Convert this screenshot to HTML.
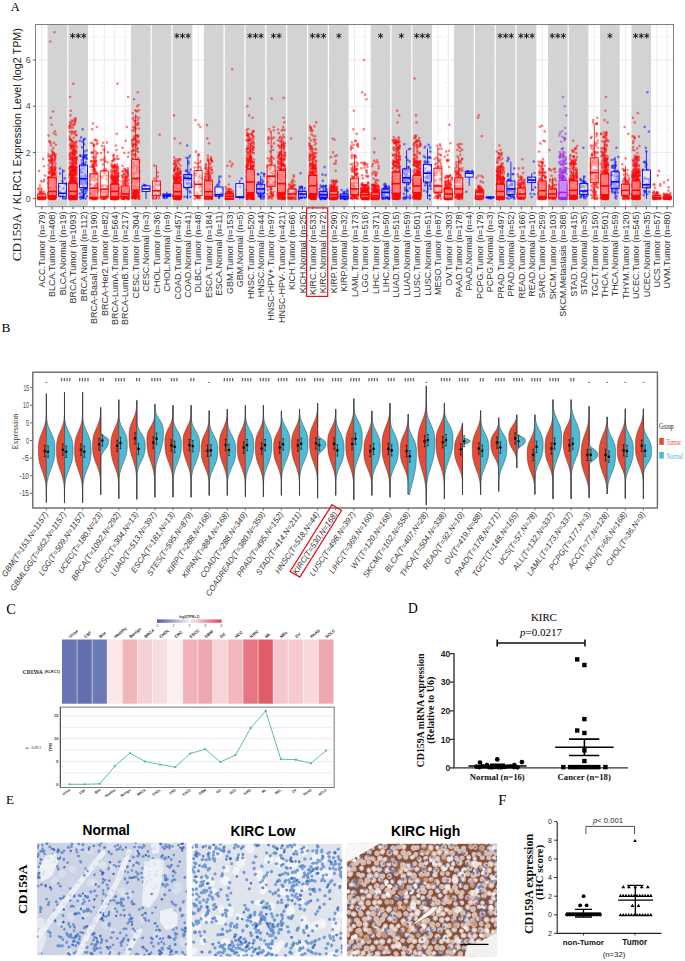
<!DOCTYPE html><html><head><meta charset="utf-8"><style>html,body{margin:0;padding:0;background:#fff}svg{display:block}</style></head><body>
<svg width="685" height="961" viewBox="0 0 685 961">
<rect width="685" height="961" fill="#fff"/>
<text x="10.8" y="10.6" font-family="'Liberation Serif',serif" font-size="12.6">A</text>
<rect x="35.5" y="24.5" width="638" height="182.2" fill="#fff"/>
<path d="M35.5 175.5H673.5M35.5 129.3H673.5M35.5 83.1H673.5M35.5 36.9H673.5" stroke="#f2f2f2" stroke-width="0.6" fill="none"/>
<path d="M35.5 198.6H673.5M35.5 152.4H673.5M35.5 106.2H673.5M35.5 60H673.5M41.8 24.5V206.7M52.2 24.5V206.7M62.6 24.5V206.7M73 24.5V206.7M83.5 24.5V206.7M93.9 24.5V206.7M104.3 24.5V206.7M114.7 24.5V206.7M125.2 24.5V206.7M135.6 24.5V206.7M146 24.5V206.7M156.4 24.5V206.7M166.9 24.5V206.7M177.3 24.5V206.7M187.7 24.5V206.7M198.1 24.5V206.7M208.6 24.5V206.7M219 24.5V206.7M229.4 24.5V206.7M239.8 24.5V206.7M250.3 24.5V206.7M260.7 24.5V206.7M271.1 24.5V206.7M281.5 24.5V206.7M292 24.5V206.7M302.4 24.5V206.7M312.8 24.5V206.7M323.2 24.5V206.7M333.7 24.5V206.7M344.1 24.5V206.7M354.5 24.5V206.7M364.9 24.5V206.7M375.3 24.5V206.7M385.8 24.5V206.7M396.2 24.5V206.7M406.6 24.5V206.7M417 24.5V206.7M427.5 24.5V206.7M437.9 24.5V206.7M448.3 24.5V206.7M458.7 24.5V206.7M469.2 24.5V206.7M479.6 24.5V206.7M490 24.5V206.7M500.4 24.5V206.7M510.9 24.5V206.7M521.3 24.5V206.7M531.7 24.5V206.7M542.1 24.5V206.7M552.6 24.5V206.7M563 24.5V206.7M573.4 24.5V206.7M583.8 24.5V206.7M594.3 24.5V206.7M604.7 24.5V206.7M615.1 24.5V206.7M625.5 24.5V206.7M636 24.5V206.7M646.4 24.5V206.7M656.8 24.5V206.7M667.2 24.5V206.7" stroke="#ebebeb" stroke-width="1" fill="none"/>
<rect x="47.6" y="25" width="19.6" height="181.2" fill="#d3d3d3"/>
<rect x="68.4" y="25" width="19.6" height="181.2" fill="#d3d3d3"/>
<rect x="131" y="25" width="19.6" height="181.2" fill="#d3d3d3"/>
<rect x="151.8" y="25" width="19.6" height="181.2" fill="#d3d3d3"/>
<rect x="172.7" y="25" width="19.6" height="181.2" fill="#d3d3d3"/>
<rect x="203.9" y="25" width="19.6" height="181.2" fill="#d3d3d3"/>
<rect x="224.8" y="25" width="19.6" height="181.2" fill="#d3d3d3"/>
<rect x="245.6" y="25" width="19.6" height="181.2" fill="#d3d3d3"/>
<rect x="266.5" y="25" width="19.6" height="181.2" fill="#d3d3d3"/>
<rect x="287.3" y="25" width="19.6" height="181.2" fill="#d3d3d3"/>
<rect x="308.2" y="25" width="19.6" height="181.2" fill="#d3d3d3"/>
<rect x="329" y="25" width="19.6" height="181.2" fill="#d3d3d3"/>
<rect x="370.7" y="25" width="19.6" height="181.2" fill="#d3d3d3"/>
<rect x="391.6" y="25" width="19.6" height="181.2" fill="#d3d3d3"/>
<rect x="412.4" y="25" width="19.6" height="181.2" fill="#d3d3d3"/>
<rect x="454.1" y="25" width="19.6" height="181.2" fill="#d3d3d3"/>
<rect x="475" y="25" width="19.6" height="181.2" fill="#d3d3d3"/>
<rect x="495.8" y="25" width="19.6" height="181.2" fill="#d3d3d3"/>
<rect x="516.7" y="25" width="19.6" height="181.2" fill="#d3d3d3"/>
<rect x="548" y="25" width="19.6" height="181.2" fill="#d3d3d3"/>
<rect x="568.8" y="25" width="19.6" height="181.2" fill="#d3d3d3"/>
<rect x="600.1" y="25" width="19.6" height="181.2" fill="#d3d3d3"/>
<rect x="631.4" y="25" width="19.6" height="181.2" fill="#d3d3d3"/>
<path d="M72.6 33V38.6M70.2 34.4L75.1 37.2M70.2 37.2L75.1 34.4M78.2 33V38.6M75.8 34.4L80.7 37.2M75.8 37.2L80.7 34.4M83.8 33V38.6M81.4 34.4L86.3 37.2M81.4 37.2L86.3 34.4M176.9 33V38.6M174.5 34.4L179.3 37.2M174.5 37.2L179.3 34.4M182.5 33V38.6M180.1 34.4L184.9 37.2M180.1 37.2L184.9 34.4M188.1 33V38.6M185.7 34.4L190.5 37.2M185.7 37.2L190.5 34.4M249.9 33V38.6M247.4 34.4L252.3 37.2M247.4 37.2L252.3 34.4M255.5 33V38.6M253 34.4L257.9 37.2M253 37.2L257.9 34.4M261.1 33V38.6M258.6 34.4L263.5 37.2M258.6 37.2L263.5 34.4M273.5 33V38.6M271.1 34.4L275.9 37.2M271.1 37.2L275.9 34.4M279.1 33V38.6M276.7 34.4L281.5 37.2M276.7 37.2L281.5 34.4M312.4 33V38.6M310 34.4L314.8 37.2M310 37.2L314.8 34.4M318 33V38.6M315.6 34.4L320.4 37.2M315.6 37.2L320.4 34.4M323.6 33V38.6M321.2 34.4L326 37.2M321.2 37.2L326 34.4M338.9 33V38.6M336.4 34.4L341.3 37.2M336.4 37.2L341.3 34.4M380.6 33V38.6M378.1 34.4L383 37.2M378.1 37.2L383 34.4M401.4 33V38.6M399 34.4L403.8 37.2M399 37.2L403.8 34.4M416.7 33V38.6M414.2 34.4L419.1 37.2M414.2 37.2L419.1 34.4M422.3 33V38.6M419.8 34.4L424.7 37.2M419.8 37.2L424.7 34.4M427.9 33V38.6M425.4 34.4L430.3 37.2M425.4 37.2L430.3 34.4M500.1 33V38.6M497.6 34.4L502.5 37.2M497.6 37.2L502.5 34.4M505.7 33V38.6M503.2 34.4L508.1 37.2M503.2 37.2L508.1 34.4M511.3 33V38.6M508.8 34.4L513.7 37.2M508.8 37.2L513.7 34.4M520.9 33V38.6M518.5 34.4L523.3 37.2M518.5 37.2L523.3 34.4M526.5 33V38.6M524.1 34.4L528.9 37.2M524.1 37.2L528.9 34.4M532.1 33V38.6M529.7 34.4L534.5 37.2M529.7 37.2L534.5 34.4M552.2 33V38.6M549.8 34.4L554.6 37.2M549.8 37.2L554.6 34.4M557.8 33V38.6M555.4 34.4L560.2 37.2M555.4 37.2L560.2 34.4M563.4 33V38.6M561 34.4L565.8 37.2M561 37.2L565.8 34.4M609.9 33V38.6M607.5 34.4L612.3 37.2M607.5 37.2L612.3 34.4M635.6 33V38.6M633.2 34.4L638 37.2M633.2 37.2L638 34.4M641.2 33V38.6M638.8 34.4L643.6 37.2M638.8 37.2L643.6 34.4M646.8 33V38.6M644.4 34.4L649.2 37.2M644.4 37.2L649.2 34.4" stroke="#111" stroke-width="0.9" fill="none"/>
<path d="M38.1 197.7h0M40.7 196.5h0M45.2 198.1h0M43.5 196.2h0M42.4 198.7h0M38.4 198.2h0M42.7 198.9h0M39.8 185.6h0M41.8 198.9h0M41.9 194.9h0M40.5 190.8h0M38.6 195.5h0M38.3 198.5h0M44.7 198.1h0" stroke="#ff0000" stroke-opacity="0.5" stroke-width="2.6" stroke-linecap="round"/>
<path d="M40.3 192.5h0M38.7 188.3h0M43.6 181.4h0M41.9 198.6h0M45.1 197h0M38.6 194.5h0M42.6 198.2h0M40.2 198.8h0M43.9 197.7h0M41.1 198.6h0M42 198.4h0M43.3 197.9h0M44.9 198.1h0M43.2 158.9h0" stroke="#ff0000" stroke-opacity="0.5" stroke-width="2.6" stroke-linecap="round"/>
<path d="M39.5 197.9h0M41.1 181.4h0M45 199.1h0M44.2 194.5h0M39.3 199h0M44.9 175.6h0M45.1 197.7h0M41.9 196.7h0M41.1 188.4h0M40.5 194.7h0M43 194.7h0M43.6 199h0M42.7 194.9h0M44 166.3h0" stroke="#ff0000" stroke-opacity="0.5" stroke-width="2.6" stroke-linecap="round"/>
<path d="M39.3 196.4h0M39.2 197.2h0M43.8 191.6h0M39.8 192.8h0M44.2 179.7h0M43.8 193.2h0M43.7 198.7h0M38.1 199.1h0M44.6 198.6h0M41.5 198.9h0M40 193h0M41 194.8h0M38.3 189.2h0M39 170.9h0" stroke="#ff0000" stroke-opacity="0.5" stroke-width="2.6" stroke-linecap="round"/>
<path d="M41.3 198.8h0M39.5 194.4h0M38.8 198.7h0M39.7 191.5h0M39.8 198.8h0M43.1 197.9h0M42.2 194.6h0M39.4 197.2h0M40.5 199h0M42.7 198.7h0M40.7 197.6h0M40 197.5h0M39.4 195.9h0" stroke="#ff0000" stroke-opacity="0.5" stroke-width="2.6" stroke-linecap="round"/>
<path d="M39.3 196.4h0M38.2 198.1h0M44.6 197.7h0M42.2 192.9h0M39.2 196.7h0M41.6 193.8h0M39.3 198.9h0M44 195.8h0M39.4 197.8h0M39.1 198.7h0M42.3 197h0M41.6 194.1h0M39.4 197.8h0" stroke="#ff0000" stroke-opacity="0.5" stroke-width="2.6" stroke-linecap="round"/>
<path d="M41.8 194V188.2M41.8 198.6V199.1" stroke="#ff0000" stroke-width="0.8"/>
<rect x="37.8" y="194" width="8" height="4.6" fill="#fff" fill-opacity="0.45" stroke="#ff0000" stroke-width="0.9"/>
<path d="M37.8 197.2H45.8" stroke="#ff0000" stroke-width="1.6"/>
<path d="M54.3 194.8h0M50.8 194.1h0M52.5 189.9h0M53.4 198.7h0M48.9 187.9h0M50.1 196h0M49.7 183.8h0M50.1 141.5h0M51.2 161.1h0M52.7 193.4h0M48.7 184.6h0M54.3 174.4h0M54.5 179h0M53.9 180.3h0M54 184.9h0M52.9 195.7h0M51.8 197.2h0M49.2 194.4h0M52.8 194.1h0M49.2 195.8h0M54.3 160.7h0M52.1 190.5h0M49 194.2h0M52.9 188.4h0M54.4 196.7h0M52.3 197.2h0M50.4 186.6h0M51.1 186.7h0M54.6 183.7h0M53.2 195.9h0M52.4 184.2h0M54.6 191.8h0M48.7 195.3h0M51.5 195.2h0M52.3 172.4h0M51.5 170.4h0M54.3 194.4h0M53.9 152.7h0M53.5 193.9h0M55.8 181.7h0M52.8 195.9h0M53 154.4h0M51.3 193.9h0M52.2 175.1h0M51.2 198.7h0M52.3 164.2h0M49.5 180.8h0M51.1 145.4h0M51.5 159.4h0M54.8 195.5h0M54.3 197.8h0M55.1 157.3h0M53.4 193.1h0M50.5 170.5h0M50.6 193.2h0M54.9 198.8h0M54.9 198.4h0M51.3 193.2h0M48.5 177.2h0M52 195.4h0M53.8 195.5h0M53.6 172.4h0M52.9 194.2h0M51.1 184.1h0M50.7 178.6h0M54.9 197.3h0M49.5 194.8h0M48.9 193.3h0M53.1 111.5h0" stroke="#ff0000" stroke-opacity="0.5" stroke-width="2.6" stroke-linecap="round"/>
<path d="M49.9 198.5h0M49.2 198.5h0M51.5 182.9h0M51.1 167.4h0M55.5 197.5h0M49.7 178.1h0M54.8 178.8h0M53.6 193.6h0M53.5 193.1h0M54.4 184h0M50.1 193.1h0M49.4 194.3h0M55.8 187.6h0M50.5 170.8h0M48.6 196.9h0M51 192.1h0M54.1 198.9h0M48.8 196.5h0M53 183.1h0M53.5 181.4h0M55.6 195.8h0M54 197.6h0M52 196.8h0M50.4 156.4h0M53.4 196.5h0M54 172.9h0M50.8 193.5h0M55.9 191h0M48.6 197.6h0M53.3 198.7h0M51.5 168.8h0M53 193.6h0M51.3 197.4h0M53.8 196.5h0M49.5 192.5h0M50.4 188.9h0M55.6 194h0M51.6 187.4h0M54.1 192.5h0M50 183.4h0M54.8 195.8h0M49.2 194.4h0M51.8 192.7h0M54.1 187.8h0M50.3 180h0M49.2 188h0M55 192.8h0M55.3 195.9h0M52.5 151.9h0M53.7 196.1h0M51.1 197.9h0M48.9 196.8h0M54.8 170.2h0M48.5 156.7h0M51.3 197.6h0M52.4 196.3h0M53.8 133.2h0M54.1 191.3h0M50.3 181.2h0M50 171.6h0M51.6 159.6h0M53.2 174.5h0M49.7 196.7h0M52.3 180h0M49.4 194.7h0M54 142.8h0M51.9 194.6h0M53.1 180.8h0M50.9 117.7h0" stroke="#ff0000" stroke-opacity="0.5" stroke-width="2.6" stroke-linecap="round"/>
<path d="M54.5 197.9h0M50 197h0M54.2 190.1h0M53.3 172h0M49.8 197.7h0M50.3 186.6h0M49.9 198.9h0M52.6 182.5h0M49.3 192.7h0M52.3 184.4h0M50.3 188.1h0M50.7 185.5h0M52.5 191.3h0M51.5 194.5h0M53.5 196.8h0M49.5 193.2h0M55.7 195.9h0M53.6 180.1h0M55.7 154.3h0M49.5 191.4h0M49.5 172.7h0M48.6 178.3h0M52.6 188.6h0M52.3 180.4h0M54.4 186.7h0M51.6 184h0M55.1 194.9h0M49 160.6h0M55.2 154.7h0M51.8 197.7h0M53.6 197.1h0M50 198h0M49.9 163h0M55.2 157.1h0M49.7 198.5h0M49.1 194.4h0M53.6 173.7h0M50.3 181.3h0M53.4 148.1h0M50.8 167.2h0M54.1 178.6h0M49.4 197.2h0M53.2 197.4h0M50.4 177.7h0M52.9 198.2h0M52.9 194.4h0M55.5 167.4h0M55.3 179.8h0M48.6 183.8h0M48.5 135.6h0M55 131.3h0M52.2 196.3h0M53.5 179.5h0M53.8 192.7h0M52.8 192.5h0M52.5 197.8h0M53.9 185.6h0M54.7 169.9h0M54.1 183.5h0M55.3 197.4h0M49.2 141.3h0M49.1 195.4h0M54.1 169.1h0M53.5 198.7h0M55.7 192.4h0M51 190.6h0M52 169.3h0M48.5 154.6h0M51.7 124.7h0" stroke="#ff0000" stroke-opacity="0.5" stroke-width="2.6" stroke-linecap="round"/>
<path d="M51.6 195.8h0M51.1 187.6h0M52.4 197h0M52 198.8h0M50.8 155.9h0M55.8 134.5h0M54.2 174.8h0M54.9 183.2h0M50.7 195.6h0M48.7 179.4h0M54.4 197.8h0M50 195h0M55.7 182.8h0M49.2 193.2h0M51.3 160.6h0M51.2 176.3h0M52.2 195.9h0M54.3 177.4h0M50.8 194.6h0M50.5 196.3h0M51.3 198.6h0M51.1 172.8h0M48.7 197.2h0M51.4 193.6h0M55.5 192.9h0M54.4 195.1h0M53 179.9h0M54.4 154.8h0M54.6 195.4h0M51.3 198.1h0M55.4 193.8h0M51.5 197.6h0M48.6 193h0M48.6 193.7h0M55.4 196.9h0M52.1 174.9h0M53.6 189.7h0M50.8 193.9h0M49.5 182.4h0M54.5 194.1h0M53.7 155.2h0M50.9 180h0M49.3 188.4h0M54.5 191.7h0M55.9 176.2h0M50.9 173.2h0M55.2 196.4h0M55.8 178.9h0M50.5 194.1h0M49.5 179.9h0M52.7 197.5h0M54.8 180.8h0M50.9 198.1h0M48.6 177.4h0M49 194h0M55.2 174h0M54.9 197.9h0M48.9 195h0M49 183h0M51.8 192.7h0M54.8 170.1h0M54.3 195.5h0M50.3 193.8h0M52.1 167.1h0M55.4 177.2h0M52.9 166.5h0M54.6 197.3h0M51.7 192.9h0M54.4 32.3h0" stroke="#ff0000" stroke-opacity="0.5" stroke-width="2.6" stroke-linecap="round"/>
<path d="M49.3 198.9h0M50.6 143h0M54.3 186.6h0M50.8 198.4h0M49.2 196.1h0M55.1 158.7h0M49.4 188.1h0M49.3 160.4h0M49.7 187.8h0M55.1 155.9h0M52.6 195.6h0M53.5 193.2h0M55.3 180.4h0M53.2 193.3h0M53.1 194.6h0M52.7 181.1h0M54.6 191.6h0M49 197.3h0M49.4 198.8h0M55.3 168.8h0M48.7 187.1h0M51 157.1h0M55.1 197h0M49.2 196.3h0M51.8 179.5h0M53.4 182.1h0M52.1 192.3h0M54.4 172.3h0M54.7 194.8h0M50.9 196.9h0M48.6 193.3h0M52.6 194.4h0M51.6 186.6h0M51.9 176.1h0M48.7 187.8h0M52.7 178.8h0M49.2 194.1h0M55.5 171.8h0M53.1 186.8h0M55.4 173.9h0M51.9 150.6h0M55.7 192.5h0M55.8 144.8h0M54.9 165.9h0M51.8 179h0M52.8 170.6h0M49.7 192h0M54.5 178.9h0M50.8 198.9h0M50.8 196.5h0M53.5 192.8h0M53.3 178.8h0M50.8 192.2h0M49 197.5h0M53.6 194.3h0M55.1 174.3h0M50.2 197.9h0M49.3 197.8h0M51.3 198.8h0M50.3 194.6h0M50.5 195.6h0M52.4 198.8h0M55.4 186.8h0M50.7 196.8h0M55.3 198h0M49.1 194.4h0M52.5 181.9h0M48.8 192.8h0M50.2 41.5h0" stroke="#ff0000" stroke-opacity="0.5" stroke-width="2.6" stroke-linecap="round"/>
<path d="M54.3 190.7h0M49.2 168.5h0M51.5 196.8h0M49.4 173.4h0M48.9 191.5h0M55.4 188.5h0M50.2 195.3h0M55.2 198.6h0M55.7 179h0M50 180.9h0M52.6 198.8h0M53.3 193.1h0M51.6 196.9h0M50.2 178.4h0M48.8 194.5h0M54.4 162.9h0M55 186.3h0M48.5 182.8h0M53.2 192.5h0M55.4 198.4h0M53.5 153.3h0M49.9 196.1h0M53.5 197.2h0M53.2 159.2h0M50.4 197.4h0M54.3 188.3h0M52 197.6h0M49.5 196.2h0M53 198.9h0M53.4 191.9h0M55.6 194h0M50.3 183.3h0M51.4 194.2h0M53.3 189h0M51.5 194.5h0M50.5 197.8h0M51.9 168.3h0M48.7 197.7h0M48.7 196.4h0M48.5 165.5h0M52.3 197.2h0M53.3 194.2h0M51 195.2h0M53.4 173.4h0M53.5 198.6h0M50 188.4h0M55.5 163.5h0M51.7 158.9h0M49.3 195.5h0M55 159.8h0M52.6 168.3h0M53.3 185.9h0M51.3 196.3h0M49.2 187.9h0M52.3 199h0M54.4 199h0M53.6 195.3h0M49.1 178h0M51.9 161.7h0M54.4 168h0M49.5 195.2h0M50.6 194.4h0M51.8 174.5h0M54.7 196.4h0M54.5 160.6h0M53.7 198.8h0M51.5 163.2h0M48.8 172.1h0" stroke="#ff0000" stroke-opacity="0.5" stroke-width="2.6" stroke-linecap="round"/>
<path d="M52.2 177.8V152.4M52.2 195.6V199.1" stroke="#ff0000" stroke-width="0.8"/>
<rect x="48.2" y="177.8" width="8" height="17.8" fill="#fff" fill-opacity="0.45" stroke="#ff0000" stroke-width="0.9"/>
<path d="M48.2 191.4H56.2" stroke="#ff0000" stroke-width="1.6"/>
<path d="M60.9 192.8h0M62.6 181.6h0M60.5 196.1h0M60 191.2h0" stroke="#0000ff" stroke-opacity="0.5" stroke-width="2.6" stroke-linecap="round"/>
<path d="M62.9 188.9h0M60.1 173.6h0M64.8 184.6h0" stroke="#0000ff" stroke-opacity="0.5" stroke-width="2.6" stroke-linecap="round"/>
<path d="M59.6 186.6h0M66.1 183.6h0M63.7 171h0" stroke="#0000ff" stroke-opacity="0.5" stroke-width="2.6" stroke-linecap="round"/>
<path d="M63.8 188h0M63.7 198.4h0M65 198.5h0" stroke="#0000ff" stroke-opacity="0.5" stroke-width="2.6" stroke-linecap="round"/>
<path d="M66.1 198.3h0M60 168.5h0M63.1 195.9h0" stroke="#0000ff" stroke-opacity="0.5" stroke-width="2.6" stroke-linecap="round"/>
<path d="M64.8 178.4h0M65.5 190.9h0M66.1 184.5h0" stroke="#0000ff" stroke-opacity="0.5" stroke-width="2.6" stroke-linecap="round"/>
<path d="M62.6 183.4V169.3M62.6 196.3V199.1" stroke="#0000ff" stroke-width="0.8"/>
<rect x="58.6" y="183.4" width="8" height="12.9" fill="#fff" fill-opacity="0.45" stroke="#0000ff" stroke-width="0.9"/>
<path d="M58.6 193.3H66.6" stroke="#0000ff" stroke-width="1.6"/>
<path d="M73.4 191.1h0M71.3 195.5h0M74.3 192.4h0M69.9 191.8h0M75.8 198.6h0M73.7 198.3h0M71.5 166.9h0M72.2 197h0M75.7 196.8h0M69.4 168.5h0M74.8 188.1h0M71.1 140.6h0M70.8 197h0M76.5 173.4h0M71.3 194.4h0M69.7 198.5h0M76.3 195.5h0M69.3 197.1h0M75.5 193.6h0M74.6 194.9h0M73.4 185.6h0M75.2 189.5h0M71.3 198.1h0M70 191.9h0M72.9 168.1h0M74.3 184h0M69.6 190.9h0M75 197.5h0M70.8 189.1h0M74.3 198.5h0M73.2 194.5h0M73.6 198.8h0M69.9 179h0M73.6 170.5h0M71.4 190h0M73.8 146.7h0M71.5 185.7h0M75.6 198.4h0M75.4 193.1h0M73.9 195.5h0M73.8 165.5h0M71.6 185.6h0M70.6 198.9h0M72.5 193.1h0M75 195.9h0M74.9 172.1h0M74.3 175.6h0M75 181.4h0M75.9 193.1h0M69.6 194.3h0M75.1 192.5h0M73.6 184.2h0M76.2 195.5h0M74.8 172.2h0M74.7 190.5h0M74.6 185.8h0M70.3 186.5h0M71.2 179.9h0M70.7 157.3h0M72.7 191.5h0M74.7 173.3h0M69.6 195.1h0M74 192.6h0M71.7 191.1h0M72.5 180.8h0M75.4 191.5h0M69.8 193.5h0M76 196.3h0M72.7 197.7h0M69.7 187.9h0M74 184.5h0M73.1 195.8h0M73.3 196.7h0M72.7 193.2h0M71.8 192.6h0M74.7 162.1h0M71.6 199h0M75.9 194.2h0M75.7 191.9h0M70.2 199h0M69.6 193.9h0M75 198.2h0M73.3 197.2h0M74.5 186.4h0M70.8 197.9h0M74.1 192.7h0M74 193.2h0M71.5 171.5h0M75.4 120h0M75.9 163.8h0M72.6 196.6h0M71.2 152.4h0M72.2 185h0M74.5 172.1h0M69.4 198.5h0M75.9 186.6h0M72.2 194.5h0M72.8 185h0M69.8 191.8h0M71 140.5h0M70.3 195.9h0M74.6 180.4h0M74 186.8h0M71.9 189.3h0M76.2 185.5h0M70.7 191.8h0M75.3 189.6h0M71.6 197.5h0M70.7 191.3h0M71.4 169.8h0M72.1 189.6h0M70.4 190.9h0M71.1 197.9h0M71.8 191.9h0M69.8 155.4h0M71.3 185.6h0M72.4 190.3h0M71 194.6h0M74.6 198.9h0M72.8 191h0M74.5 190.6h0M74.7 169.2h0M75.6 185.7h0M69.9 191.3h0M75.7 185.2h0M70.6 194.5h0M71.9 193.6h0M75.2 198.3h0M74.4 198.5h0M75.5 190.2h0M73.8 187.4h0M71 196.1h0M69.9 194.4h0M71.6 185.3h0M74.4 198.1h0M69.4 183.6h0M72 191.9h0M72.5 195.1h0M70.9 198.7h0M69.4 126.4h0M75.5 197.7h0M75.9 194h0M74.9 188.9h0M75.6 190.8h0M71.1 195h0M76 151.6h0M70.7 196.3h0M73.5 191.7h0M70.7 195.2h0M75.7 153.3h0M71.8 196.3h0M75.3 170.8h0M76.5 157.7h0M69.5 188.4h0M72.3 196.2h0M71.6 177.7h0M73.7 160h0M76.4 183h0M70.4 193.7h0M73 192.3h0M74.9 155.1h0M71.4 197.1h0M73.8 186.8h0M72.9 196.8h0M71.6 196.8h0M71.7 195.2h0M70 187.6h0M73.5 186.1h0M73.8 186.5h0M71.6 196.9h0M71.7 197.6h0M71.3 192.2h0M75.3 196.2h0M70.6 169.4h0M73.5 196.1h0M74.5 196h0M75.7 196.1h0M74.7 185.6h0M70 167.7h0M76.2 194.7h0M73.9 195.4h0M76 134.9h0M73.7 180.6h0" stroke="#ff0000" stroke-opacity="0.5" stroke-width="2.6" stroke-linecap="round"/>
<path d="M70.7 183.3h0M73 194.6h0M74.7 190.5h0M70.7 188.5h0M75 183.1h0M69.5 191.5h0M69.7 136.6h0M74 197.2h0M70.4 193.9h0M72.5 197.6h0M73.5 184h0M73.4 192.3h0M75 195.9h0M72 194.8h0M75.1 195.3h0M72.1 175.7h0M74.6 167.5h0M70.7 145.9h0M72.5 196h0M73.9 197h0M74.5 193.3h0M72.4 166.5h0M71.5 197.9h0M76.4 195.2h0M76 166.7h0M76.1 170.2h0M75 197h0M74.5 197.4h0M75.4 191.8h0M71.6 120.6h0M70.3 195.7h0M70.7 184.8h0M75.1 195.2h0M73.4 185.9h0M71.5 193.7h0M73.8 171.1h0M70.3 197.7h0M69.7 181.9h0M71.6 183.9h0M72.9 195h0M73.7 142.7h0M69.8 189.5h0M71.9 189.3h0M70.1 198.6h0M73.7 157.2h0M75.9 190.6h0M73.3 192.2h0M74.4 198h0M72.8 198.1h0M75.6 197.7h0M73.6 154.8h0M73.2 125.4h0M69.6 174.8h0M74.9 143.2h0M71.1 190.8h0M73.1 198.6h0M70 197h0M70.5 183.7h0M75.1 193.2h0M74.5 145.2h0M74.5 187.4h0M73.6 192.8h0M71 191h0M74.5 197h0M75.9 189.5h0M73.7 163.8h0M75.9 185.2h0M69.8 195.2h0M71.2 188.9h0M72.3 192h0M70.4 198.2h0M69.6 183.3h0M70.5 193.7h0M74.8 185.6h0M73.2 192.9h0M71.5 197.3h0M72.8 184h0M72.4 198.1h0M76 196.8h0M73.5 186.5h0M73.9 149.4h0M69.8 162.9h0M71.9 190.6h0M69.8 188.4h0M71.2 195.8h0M76 184.4h0M75.7 186.9h0M74 151.1h0M70.1 191.5h0M73.3 166.6h0M76.7 159.8h0M74.6 124.2h0M70.5 189.5h0M75 191.4h0M74.4 179.2h0M75.9 192.3h0M74.6 197.5h0M73.4 196.7h0M72.5 198h0M69.9 191.2h0M71.3 193h0M72.2 196.8h0M70.7 191.7h0M75.2 168.5h0M70.9 176.2h0M75.5 158.8h0M74 195.7h0M75.7 198.7h0M73 190.7h0M75.1 196.4h0M72.4 188.6h0M76.4 191.7h0M72.5 192.6h0M74.9 170.6h0M73.1 164.1h0M73.9 193.6h0M72.3 185.6h0M74.5 196.4h0M71.3 196.6h0M72.8 188.1h0M74.8 195.5h0M72.9 156.2h0M72.9 199h0M74.8 187h0M76.3 184.1h0M75.5 170.4h0M74 197h0M69.9 195.7h0M71.4 192.5h0M74.6 118.5h0M73.4 194.1h0M75.6 197.9h0M73.3 189.7h0M74.1 193.8h0M71.2 185.2h0M70.4 183.7h0M70.1 193.2h0M71.3 187.9h0M74.2 147.4h0M73.9 192.5h0M76.5 185.2h0M72.2 192.8h0M74.3 191.7h0M70 185.2h0M74.2 195.4h0M72.1 148.4h0M72.3 193.4h0M72 155.3h0M74.5 152.7h0M72.1 188.8h0M70.5 190.8h0M73.6 184.2h0M73.6 188.6h0M75.6 195.9h0M71.6 196.7h0M73 196.3h0M75.7 191.1h0M75.7 195.5h0M70.8 195h0M70.5 192h0M73.7 193h0M75.4 196.4h0M69.6 186.9h0M70.6 185.1h0M73.8 194.4h0M76 190.6h0M73.2 194.5h0M75.3 194h0M70.6 166.9h0M70.6 193.2h0M70.7 194.7h0M76 185.8h0M74.1 187.9h0M76.3 197.7h0M71.3 192.6h0M76.1 198.1h0M71.2 186.9h0M74 185h0M71.1 181.1h0M72.9 189.8h0M69.7 193.2h0M76.2 198.3h0M73.3 83.8h0" stroke="#ff0000" stroke-opacity="0.5" stroke-width="2.6" stroke-linecap="round"/>
<path d="M69.7 189.8h0M70.9 144.1h0M76 196.4h0M72.3 185.6h0M72.4 177.9h0M75.4 194.5h0M70.1 183.8h0M72 191.6h0M71 144.4h0M72.4 187h0M75.5 193.4h0M73.4 192.8h0M73.5 196h0M70.9 196.4h0M70.8 157.4h0M71.4 196.7h0M74.7 189.4h0M70.7 176.4h0M73.1 193.2h0M69.8 191.4h0M72 165.9h0M75 195h0M71.6 194.3h0M76.6 190.4h0M74.3 198h0M75.5 184.8h0M70.9 167.4h0M74.8 121.4h0M76 197.6h0M70.4 171.3h0M72 197.5h0M70 189.2h0M71.5 167.1h0M73 196.1h0M75.7 141.9h0M75.4 189.9h0M76.3 192.5h0M71.7 192.2h0M74.1 197.8h0M72.2 190.4h0M72.3 192h0M69.6 197h0M71.4 198h0M74.4 183.8h0M71.4 179.2h0M72.2 193.1h0M73.3 146h0M73.6 150.4h0M70.1 195h0M71.5 179.2h0M69.8 153.8h0M75.2 196.4h0M71.8 185.1h0M71.5 183.7h0M72.9 127.8h0M71.5 191.3h0M75.1 169.9h0M74.3 187.2h0M75.1 198h0M72.3 191.3h0M72.5 175.4h0M74.3 193.9h0M74.5 189.2h0M76.3 185.8h0M69.8 196.1h0M76 191.9h0M76.6 157.3h0M74.5 188.7h0M71.2 183h0M71.2 194.9h0M71.3 178.2h0M71.8 191.2h0M73.3 193h0M69.5 198.1h0M74.9 197.5h0M69.6 185.5h0M71.1 183.8h0M70 122.2h0M70.6 197.7h0M69.5 192.1h0M70.5 194.1h0M74.7 185.8h0M75.9 184.2h0M75.7 186.8h0M72.4 186.8h0M73 196.2h0M71.4 195.1h0M70.8 180.8h0M76.5 187.3h0M74.3 192.3h0M71.8 184.9h0M73.6 190.6h0M71.8 196.2h0M71 178.2h0M76.4 170.7h0M71.3 181.7h0M70.8 195.6h0M71.5 164.5h0M75.3 194.1h0M73.4 181.6h0M74.6 180.8h0M74 173.9h0M72.8 189.3h0M71.2 143h0M75.6 131.3h0M71.2 194.1h0M75.9 195.4h0M75.6 160.6h0M73.6 197.1h0M71.4 196.1h0M71.3 139.6h0M71.7 157.9h0M74.5 196.9h0M76.2 186.7h0M72.8 159.9h0M73 180.8h0M73.4 175.2h0M70.5 192.4h0M73.7 197.6h0M69.7 192.6h0M69.9 185.3h0M69.7 155.9h0M74.7 186.7h0M72.9 185.2h0M74.9 193.2h0M72.3 193.8h0M74.5 189.8h0M70.2 138.6h0M75.3 192.7h0M76 199h0M73.4 154h0M72.4 173.9h0M75.6 187.3h0M71.1 197h0M75.5 190.3h0M72.8 196.5h0M70.3 158.6h0M74.8 183.9h0M69.8 174.1h0M72.2 192.3h0M73 185.5h0M75 196h0M73.9 198.5h0M76.1 194.5h0M69.5 194.4h0M75.8 192.3h0M74.5 183.8h0M70.7 189.5h0M76.3 148.2h0M73.3 188.4h0M73.9 183.9h0M72.6 195.8h0M75.3 172h0M75.9 198.6h0M74 133.4h0M76.2 194.7h0M76 188.7h0M69.4 196.8h0M76.3 181h0M75.4 198h0M70.5 198.8h0M75.2 187.6h0M72 190h0M72.9 197.1h0M70.5 184.7h0M75.1 195.1h0M71.4 198.9h0M76.2 190h0M75.7 143.6h0M75.7 196.6h0M76.4 188.7h0M74.6 188.7h0M76.1 162.2h0M70.9 198.9h0M71.3 174.3h0M74.6 186.4h0M74.3 193.9h0M73.1 194.2h0M70.1 156h0M70.1 189.5h0M71.9 144.8h0M70.4 188.4h0M70.1 97h0" stroke="#ff0000" stroke-opacity="0.5" stroke-width="2.6" stroke-linecap="round"/>
<path d="M69.5 128.3h0M69.6 196.7h0M73.9 188.6h0M71.3 186.5h0M75.3 145.6h0M76.2 187.5h0M75.4 167.8h0M76.4 194h0M72.4 189.5h0M75.4 195.2h0M76.4 152.8h0M73.7 193.6h0M72.4 152.3h0M72.6 180.9h0M71.8 197.6h0M76.1 197.7h0M72 197.9h0M73.4 192.2h0M69.7 196.1h0M71.8 191.4h0M75.9 190.6h0M71.4 185h0M75 151.6h0M71.8 192.4h0M71.9 198h0M72.7 195h0M71.1 197.5h0M72.5 174.7h0M74.7 198h0M74.3 198.6h0M73.3 198.2h0M75.4 192h0M71.8 192.9h0M71 194h0M73.2 178.3h0M75.6 192.3h0M73.3 195.8h0M71.7 186.5h0M75.7 192.7h0M71.4 197.3h0M74.2 188.8h0M70.3 170.2h0M74.7 195.3h0M76.5 178.1h0M71.8 170.3h0M71.7 131.1h0M72.6 197.6h0M76.2 195.1h0M74.1 170.3h0M75.9 198.8h0M74.4 190.8h0M70.3 192.3h0M74.8 192.5h0M76.3 185h0M75.6 197.4h0M73.9 197.8h0M71.4 197.4h0M70.6 187.1h0M73.9 158.5h0M76.5 184.6h0M71.1 189.2h0M72.8 193.4h0M70.2 196.1h0M75.6 191.5h0M73.9 198.8h0M71.6 192.4h0M76.5 198.4h0M72.4 190.4h0M72.2 167.3h0M75.8 191.7h0M69.7 189.3h0M74.5 188.1h0M75.9 186.5h0M71.7 194h0M74.9 187.3h0M72.2 195h0M70.5 184.7h0M69.9 144.5h0M73.3 196h0M70.1 182.4h0M72 162.3h0M75.8 182.5h0M72.1 191.2h0M75.6 186.1h0M74.3 153.3h0M70.7 159.9h0M69.7 158.9h0M74.2 186h0M70.3 196.1h0M73.5 193h0M76.2 194.3h0M75.7 162h0M74.6 195.5h0M71.9 160.3h0M75.3 187.4h0M71.7 198.1h0M71.8 161.1h0M74.2 193h0M71.9 198.3h0M70.2 139.7h0M75.5 195.4h0M70.5 181.1h0M71.3 199h0M73.7 120.2h0M75.3 121.9h0M70.9 197.2h0M72 191.4h0M71.9 191.7h0M74.9 158.3h0M72.2 185.3h0M75.2 172.9h0M69.5 186.8h0M70.7 198.9h0M73.7 198h0M71.7 131.7h0M74.2 151.4h0M73.9 188.5h0M70.6 186.6h0M71.2 189.7h0M73.4 176.9h0M74 168.4h0M70.7 173h0M70.7 149.1h0M75.7 192h0M74.9 181.5h0M74.1 178.2h0M70.9 157.7h0M70.9 146.8h0M76.2 192h0M70.3 188.6h0M73.6 196.7h0M71 127.6h0M71.9 170h0M74.2 189.6h0M69.4 183.9h0M71.2 188.1h0M69.5 198.3h0M76.3 151.7h0M71.4 178.6h0M73.1 160.5h0M73.9 154h0M75.7 199h0M69.9 188.8h0M74 197.6h0M72.4 198.3h0M76 196.7h0M75.1 175.9h0M73.6 189.2h0M71.6 195.2h0M74.7 193.5h0M71.8 193.7h0M75.1 161.2h0M72.8 160.1h0M72.8 152.4h0M70 194.3h0M72 197h0M74.7 186.9h0M70.9 198.5h0M73.4 190h0M70.6 192.4h0M73.7 192.5h0M72.9 198.2h0M76.6 195.9h0M75.8 190.3h0M75.7 192.5h0M71.1 195.5h0M70.1 174.4h0M72.6 194h0M69.3 194h0M72.3 191.1h0M69.7 189h0M75.7 198.9h0M70.3 194.5h0M72.7 198.8h0M69.6 189.6h0M72.2 198.5h0M72.5 187h0M70.4 192.7h0M71.4 124.9h0M74.6 189.4h0M72 192h0M74.3 194.3h0M70.8 110.8h0" stroke="#ff0000" stroke-opacity="0.5" stroke-width="2.6" stroke-linecap="round"/>
<path d="M70.6 190.2h0M75.1 155.5h0M72.6 188.7h0M74.2 197.3h0M76.3 182.8h0M70.7 182.8h0M73.5 191.1h0M76.6 146.5h0M72.1 197.1h0M74.1 169.2h0M70.9 194.7h0M75 132.4h0M75.9 195.8h0M72 194.6h0M75.6 172.4h0M73.1 192.6h0M75.2 165.1h0M71.4 196.5h0M76.6 194.3h0M72.7 198.9h0M72.7 195.3h0M71.2 192.4h0M76 195.4h0M71.2 195.9h0M74 197.3h0M72.3 190h0M72.6 165.6h0M71 198.2h0M75.7 198.8h0M74.6 195.3h0M73.2 198.7h0M72.8 196.4h0M71.8 196.4h0M76.1 194.5h0M74.8 191.7h0M76.5 195.5h0M70.6 192.4h0M69.7 185.2h0M75.5 197h0M75.2 175h0M70.4 123.9h0M71.8 193.6h0M69.5 184.7h0M71.6 163h0M73.5 194.7h0M75.7 197.2h0M76.4 194.7h0M73 198.2h0M73.3 193.9h0M71.1 198.1h0M72.9 170.1h0M73 141.8h0M71.5 194.9h0M74.6 189.2h0M76.4 193.7h0M76.6 193.7h0M69.8 186.3h0M71.2 192h0M72.7 152.8h0M72.8 191.3h0M74.1 189.6h0M73.3 196.3h0M71.9 167.1h0M76.6 191.3h0M71.1 147.2h0M74.2 191.8h0M75.9 159.7h0M74.7 198.1h0M72.7 185.6h0M71.6 177.4h0M71.5 188.9h0M71.2 197.9h0M76.6 195.2h0M76.3 192.3h0M70.6 192.4h0M69.5 177.1h0M75.2 187.4h0M72.7 190.1h0M72.8 194.6h0M72.3 185.2h0M72.8 197.3h0M74.1 192h0M74.8 191.1h0M72.7 197h0M76 185.3h0M72.5 198.5h0M70.3 188.4h0M73.4 193.1h0M70 196.4h0M73.4 198.2h0M73.8 195.3h0M71.7 198.5h0M71.6 179.4h0M76.7 198.2h0M72.3 193.7h0M73.6 188.4h0M69.8 175.5h0M74.1 193.9h0M73.5 188.2h0M71.3 190.2h0M69.8 195.8h0M70.6 176.3h0M74.7 193.4h0M71.1 186.9h0M70.9 146.2h0M71.7 195.2h0M73.1 153.5h0M70.3 195h0M71.2 190.1h0M76.1 193.2h0M75.1 195.1h0M73.6 184.5h0M70.6 195h0M76.5 195.3h0M74 196.4h0M73.9 198.6h0M73.3 191.4h0M70.8 194.8h0M72.3 122.1h0M69.8 184.7h0M75.9 195.3h0M76.7 186.8h0M73.9 190.7h0M74.5 185.1h0M72.9 191h0M76.4 192.6h0M74.1 195.1h0M76.1 196.2h0M73.8 149.5h0M76.3 185.1h0M69.9 183.7h0M75.5 199h0M70.5 192.8h0M72.4 197.4h0M71 194.5h0M74.7 167.9h0M75.8 177.8h0M76.3 183.7h0M72.6 194.9h0M72.2 197h0M75.9 163.9h0M70.9 196.8h0M73.8 137.9h0M74.4 167h0M73.5 192.6h0M71.6 174.3h0M71.9 193.1h0M72.7 185.9h0M72.3 191.5h0M72 195.5h0M70.8 196.5h0M75.9 183.7h0M72.6 166.7h0M76 163.3h0M76.2 168.9h0M74.6 196.8h0M70.2 190.5h0M75.1 195.9h0M74.5 189.4h0M69.5 198.5h0M76.1 185.8h0M71 186.6h0M74.6 190.7h0M71.1 187h0M75.7 186.5h0M72.2 198.3h0M74 178.5h0M71.6 172h0M75.9 118.5h0M74.5 193h0M76.2 197.1h0M69.6 189.8h0M74.9 185.3h0M71 185.3h0M70.7 166.6h0M71.2 188.4h0M69.8 186.2h0M70.3 175h0M75.5 195.5h0M70.7 199h0M72 175.3h0M75.1 150.1h0M70.6 115.4h0" stroke="#ff0000" stroke-opacity="0.5" stroke-width="2.6" stroke-linecap="round"/>
<path d="M72.3 195.2h0M70.4 172.3h0M70.5 198.9h0M70.9 173h0M73.5 157.6h0M69.7 184.7h0M72 196h0M69.9 193.7h0M73.3 178.2h0M74.8 197.2h0M74.4 196.4h0M72.4 141.4h0M69.8 131.8h0M76.7 157.8h0M72.4 145.9h0M73.2 196.3h0M72.2 194.5h0M69.4 197.1h0M72.7 188.9h0M70.1 196.2h0M72 191.7h0M70.9 190.7h0M69.4 191.7h0M73.7 180.6h0M70 197.3h0M72.9 192.1h0M73 131.7h0M75.2 168.3h0M73.4 194.5h0M70.3 198.2h0M69.6 194.5h0M71.3 159h0M73.6 171.1h0M76.5 141.5h0M74.6 162.7h0M70.8 184.2h0M71.6 185.3h0M74.1 157.7h0M70.8 170.5h0M74.5 197.7h0M75.9 194.3h0M69.9 185.3h0M70.1 171.7h0M74.2 186.5h0M72.8 187.9h0M71.7 185.5h0M72.3 192.5h0M73.4 196.3h0M69.8 192.3h0M73.6 169.8h0M71.5 187.4h0M70.8 196.7h0M75.2 151.3h0M72.8 196.6h0M75 198.6h0M72.2 195.8h0M70.7 198.2h0M71.8 194.4h0M76.7 179.6h0M69.6 191.2h0M70.8 189.5h0M71 196.1h0M72.9 189.5h0M71.6 196.7h0M72.5 191.3h0M74.8 195.8h0M74.3 199h0M73.6 198.9h0M70 194.4h0M74 188.5h0M69.4 198.5h0M74.2 166.9h0M74.1 193.6h0M71 194.7h0M75.8 183.8h0M74 195.2h0M71.4 198.2h0M71.4 185.7h0M71.6 198.2h0M70.1 166.5h0M75.4 193.7h0M72.6 188.7h0M75.4 194.7h0M76.3 184.6h0M69.5 168.1h0M69.6 196.6h0M70.2 182.4h0M75.6 190.3h0M70.8 191.1h0M70.9 189.5h0M71.4 184.5h0M72.5 198.9h0M71.9 171.3h0M74.2 124.1h0M71.6 187.8h0M74.4 196.8h0M74.1 191.3h0M70.5 192.8h0M73.6 187.7h0M76.2 192.8h0M73.6 196.7h0M72.9 198.6h0M76.6 135.4h0M70.4 153.6h0M71.1 196.1h0M69.8 185h0M70.7 193.4h0M71.6 195h0M71.1 184.6h0M76.7 167.1h0M75.2 185.4h0M71.3 193.3h0M76.4 174.8h0M75.9 198.2h0M71.2 134h0M71.1 198.6h0M70.4 199h0M73.1 185.9h0M75.3 197.2h0M71.9 191.9h0M73.6 198.4h0M75.6 191.5h0M76.1 193.1h0M70.1 174h0M71 153.8h0M70 190.5h0M74.4 184h0M76.4 184.2h0M70.3 197.4h0M73.6 195.2h0M72.8 167.9h0M70.7 182.1h0M72.2 188.8h0M72.3 192.2h0M74.5 167h0M70.4 139.8h0M70.7 194.4h0M72.2 179.4h0M74.6 171.9h0M71.4 193.2h0M70.9 191.7h0M72.5 195.2h0M70.9 191.8h0M69.6 187.2h0M75.3 194.5h0M73.2 199h0M73.2 193.4h0M71.9 197.2h0M70 192.8h0M74.6 172.6h0M73.4 189.2h0M71.2 171.4h0M73 192.4h0M75.1 193.4h0M69.7 126.3h0M72.9 191.6h0M75.8 188.8h0M75.8 191.1h0M75.4 172.1h0M73.6 192.6h0M72.2 193.8h0M69.6 190.4h0M75.9 191.5h0M75.5 194.3h0M73.2 169.3h0M72.4 175.3h0M70.6 195.9h0M75.1 181.6h0M76.5 187.1h0M72.3 185.1h0M72.1 132.8h0M74.8 194.2h0M72.3 195.2h0M73 197.3h0M76.7 186.4h0M73.5 182.9h0M70 195.9h0M74.8 195.1h0M70.5 194.2h0M73 152.1h0M72.7 194.2h0M72.9 194.1h0" stroke="#ff0000" stroke-opacity="0.5" stroke-width="2.6" stroke-linecap="round"/>
<path d="M73 183.6V143.2M73 195.6V199.1" stroke="#ff0000" stroke-width="0.8"/>
<rect x="69" y="183.6" width="8" height="12" fill="#fff" fill-opacity="0.45" stroke="#ff0000" stroke-width="0.9"/>
<path d="M69 191.4H77" stroke="#ff0000" stroke-width="1.6"/>
<path d="M84.9 188.7h0M87 196.3h0M86.5 190.7h0M86.8 171h0M80.9 183.7h0M83.2 179.2h0M80.5 156h0M85.9 182.9h0M85.5 182h0M82 189.5h0M86.9 189h0M82.5 141.9h0M79.9 181.8h0M85.2 174.8h0M84.1 194.3h0M82.4 168.5h0M81.8 165.7h0M82.6 192.1h0M83.9 139.7h0" stroke="#0000ff" stroke-opacity="0.5" stroke-width="2.6" stroke-linecap="round"/>
<path d="M83.3 176.1h0M85.7 162.4h0M81.5 165.7h0M81.2 172.2h0M85.5 198.6h0M81.2 169.7h0M84.7 156.6h0M86.1 192.8h0M80.2 168.7h0M84.2 179.9h0M84.5 151.5h0M85.7 181.4h0M86 155.4h0M85.2 188.3h0M79.9 140.8h0M84.5 167.1h0M85.3 182.2h0M85 176.1h0M80 197.1h0" stroke="#0000ff" stroke-opacity="0.5" stroke-width="2.6" stroke-linecap="round"/>
<path d="M81 175.7h0M80.3 170.4h0M82.1 197.1h0M81.9 195.9h0M81.7 172.6h0M81.6 173.9h0M85.2 165.2h0M83.3 157.7h0M81.4 182.3h0M85.5 181.3h0M86.2 177.9h0M81.2 181h0M82.4 195.3h0M84.3 144.3h0M79.9 184.5h0M82 163h0M86.7 150.5h0M86.9 183.1h0M86.8 188h0" stroke="#0000ff" stroke-opacity="0.5" stroke-width="2.6" stroke-linecap="round"/>
<path d="M84.3 191.3h0M87 183.8h0M81.6 181.3h0M86.2 176h0M79.9 193.5h0M81.4 182.3h0M82.8 197.6h0M85.1 173.7h0M82.7 180.6h0M81.5 183.5h0M84.3 169.2h0M80.4 172.1h0M84.6 187.7h0M82.1 147.3h0M82.3 184.2h0M80.3 179.1h0M82.2 183.2h0M82.7 192.4h0M86.8 184.6h0" stroke="#0000ff" stroke-opacity="0.5" stroke-width="2.6" stroke-linecap="round"/>
<path d="M81.1 137.4h0M85 179.5h0M83.1 182.9h0M86.6 158.9h0M81.6 180.2h0M83.6 158.4h0M84.9 157.3h0M80.9 198.1h0M85.5 183.5h0M83.3 185.6h0M83.6 197h0M84.4 194.1h0M83.9 178.1h0M84 185.2h0M80.8 198.8h0M83.5 185.1h0M83.5 165.4h0M81 189.7h0M82.7 129.3h0" stroke="#0000ff" stroke-opacity="0.5" stroke-width="2.6" stroke-linecap="round"/>
<path d="M81.3 177h0M85 138.7h0M86.3 189.2h0M83.6 164h0M80.3 155.4h0M83.3 198.3h0M84.3 164.5h0M81.9 160.2h0M84.4 179.6h0M85.2 155.9h0M82.9 156.4h0M80.6 176.8h0M84 154.8h0M83.6 196.4h0M83.3 172.1h0M86.6 158h0M83 156.8h0M86.5 155h0" stroke="#0000ff" stroke-opacity="0.5" stroke-width="2.6" stroke-linecap="round"/>
<path d="M83.5 165.1V138.5M83.5 187.5V199.1" stroke="#0000ff" stroke-width="0.8"/>
<rect x="79.5" y="165.1" width="8" height="22.4" fill="#fff" fill-opacity="0.45" stroke="#0000ff" stroke-width="0.9"/>
<path d="M79.5 178.7H87.5" stroke="#0000ff" stroke-width="1.6"/>
<path d="M96 198.8h0M96.6 197.9h0M92.7 161.3h0M94.8 198.5h0M96 190.8h0M94.5 180.2h0M97.4 143.3h0M94.9 177h0M95 162.8h0M95 160.6h0M95.3 192.2h0M97.4 187.1h0M92.7 197.4h0M94.8 197.6h0M91.6 194.8h0M91.4 184.5h0M96.5 187.1h0M96.9 185.6h0M94.3 186.7h0M93.6 191.1h0M97.1 183.7h0M97.6 189.1h0M94.6 177.2h0M95.3 195h0M96.3 193.1h0M91.9 197.9h0M96.6 186.7h0M90.8 197.6h0M91.4 179.3h0M94.8 178.3h0M95.8 157.6h0M97.2 191h0M92.2 129.3h0" stroke="#ff0000" stroke-opacity="0.5" stroke-width="2.6" stroke-linecap="round"/>
<path d="M94.5 175.1h0M93 198.4h0M94 168.4h0M92.5 170.2h0M95.2 198.4h0M92 178.4h0M95.6 186.1h0M92.5 198.1h0M94.9 140.1h0M97.5 153.1h0M91.2 161.6h0M95.9 184.4h0M93.4 163.7h0M92.5 197.9h0M92.6 198.5h0M93.1 190.9h0M93.8 198h0M93.4 199.1h0M94.6 171.9h0M90.7 193.9h0M96.7 173.2h0M94.1 198.5h0M95.2 196.7h0M90.7 184.4h0M97.4 198.8h0M94.5 171.6h0M92.1 177.4h0M93.6 175.7h0M94.1 145.6h0M94 196.1h0M96.9 186.1h0M92 196.8h0" stroke="#ff0000" stroke-opacity="0.5" stroke-width="2.6" stroke-linecap="round"/>
<path d="M95.4 185.3h0M95.8 197.6h0M92.2 166.4h0M92.7 199h0M93.1 164.8h0M93.5 173h0M90.4 198.5h0M94.1 175.8h0M94.1 161.1h0M92.3 197.9h0M96.1 161.7h0M90.4 176.6h0M91.2 174.3h0M96.5 188.1h0M95.6 192.3h0M95.8 188.7h0M93.6 189h0M94 168.5h0M95.4 198.8h0M93.3 197.5h0M94.3 186.6h0M92.7 195h0M93.6 188.9h0M95.3 198.1h0M90.2 176.5h0M96.2 160.5h0M96.8 184.3h0M97.4 197.7h0M93.6 192.2h0M90.6 166.8h0M92.7 198.5h0M90.8 199h0" stroke="#ff0000" stroke-opacity="0.5" stroke-width="2.6" stroke-linecap="round"/>
<path d="M92.7 197.8h0M90.7 197.7h0M94.9 198.2h0M94.6 191.3h0M97 191.7h0M91.4 197.1h0M94.8 198.2h0M93.9 176.6h0M92.8 166.9h0M93.7 194.5h0M95 169h0M96.7 198.2h0M93.8 176.1h0M91.3 197.5h0M92.1 142.7h0M96.2 164.4h0M97.1 183.9h0M91 193.9h0M95.4 194.4h0M94.4 197.3h0M93.8 198.8h0M96.8 190.5h0M92.2 152.4h0M93.8 198.9h0M93.7 198.5h0M94.8 198.9h0M96.7 179.8h0M95.3 198.9h0M91 143h0M92.8 190.9h0M95.1 174.2h0M92.5 164.8h0" stroke="#ff0000" stroke-opacity="0.5" stroke-width="2.6" stroke-linecap="round"/>
<path d="M91.1 192h0M92.9 166.9h0M92.5 152.6h0M90.5 197.7h0M94.9 197.9h0M97 173.6h0M93.7 145.8h0M94.5 165.9h0M95.2 191h0M96.7 165.7h0M95.6 139.9h0M93.4 198.7h0M93.3 144.3h0M95.5 151.4h0M91.8 197.3h0M95.7 188.2h0M93.2 194.1h0M94.7 177.8h0M96.1 178.9h0M94.9 193.5h0M90.7 190.1h0M91.4 161.1h0M95.3 162.9h0M95.3 198.2h0M92.8 157.2h0M94.4 170.3h0M91.9 198.4h0M95.7 155.9h0M91.2 175.5h0M96.5 172.4h0M96.6 144.3h0M93 123.5h0" stroke="#ff0000" stroke-opacity="0.5" stroke-width="2.6" stroke-linecap="round"/>
<path d="M94.3 181h0M95.5 174h0M94.5 184.9h0M94.3 158.2h0M93.9 188.3h0M96 160.9h0M91.6 153h0M96.3 183.9h0M96.5 153.8h0M90.6 180.7h0M97.5 190.4h0M96.5 185.6h0M92.5 192.5h0M90.8 192.6h0M95.5 197.7h0M97.2 140.9h0M94 165.5h0M90.2 198.1h0M93.4 196.2h0M94.4 197.5h0M93.8 190.9h0M94.6 195.6h0M92.8 177.5h0M94.8 195.5h0M96.1 199.1h0M95.4 170.7h0M94.6 193.6h0M92 189.4h0M92 196.9h0M93.1 166.6h0M93.3 179.8h0M96.8 127h0" stroke="#ff0000" stroke-opacity="0.5" stroke-width="2.6" stroke-linecap="round"/>
<path d="M93.9 173.9V143.6M93.9 197.2V199.1" stroke="#ff0000" stroke-width="0.8"/>
<rect x="89.9" y="173.9" width="8" height="23.3" fill="#fff" fill-opacity="0.45" stroke="#ff0000" stroke-width="0.9"/>
<path d="M89.9 188.2H97.9" stroke="#ff0000" stroke-width="1.6"/>
<path d="M103.2 159.5h0M101 153h0M106.5 197.5h0M105.3 196.3h0M107.8 152.3h0M104.9 194.4h0M104.6 193.1h0M105.1 191.5h0M105.6 197.4h0M103.2 196.6h0M107 197.4h0M105.4 161.7h0M104.9 157.5h0M104.6 173.5h0" stroke="#ff0000" stroke-opacity="0.5" stroke-width="2.6" stroke-linecap="round"/>
<path d="M107.6 162.2h0M102.2 146h0M106.7 186.1h0M103.2 142.7h0M102.3 186.9h0M107 142.5h0M102.9 164.5h0M104.7 185.4h0M104 198.7h0M104.8 171.1h0M104.4 191.9h0M101.5 190.5h0M108 196.8h0M102.1 146h0" stroke="#ff0000" stroke-opacity="0.5" stroke-width="2.6" stroke-linecap="round"/>
<path d="M107.3 186.8h0M107.4 175.7h0M101.9 198.3h0M105.4 196.6h0M100.8 176.6h0M104.3 190.9h0M102.8 176.2h0M100.8 198.5h0M105.4 171.3h0M102 192.4h0M105.1 171.1h0M106.8 195.1h0M103.2 192.2h0M107.8 187.4h0" stroke="#ff0000" stroke-opacity="0.5" stroke-width="2.6" stroke-linecap="round"/>
<path d="M102.6 194.3h0M104.9 160.3h0M104.4 172.4h0M105.6 175.4h0M102.8 171.2h0M104.9 197.7h0M102.9 194h0M107.1 195.1h0M107.3 192h0M103.7 198.6h0M106.3 199h0M106.4 192.8h0M102.4 195.6h0M101.9 198.8h0" stroke="#ff0000" stroke-opacity="0.5" stroke-width="2.6" stroke-linecap="round"/>
<path d="M106.1 169.4h0M103.8 169.7h0M105.8 197.5h0M106.6 191.3h0M100.9 159.9h0M101.2 196.9h0M101.2 191.2h0M104.9 198.7h0M102.2 185.4h0M106.3 179.4h0M104.9 198.5h0M102.1 191.9h0M103.5 198.7h0" stroke="#ff0000" stroke-opacity="0.5" stroke-width="2.6" stroke-linecap="round"/>
<path d="M104.1 149.9h0M101.9 177.9h0M102.5 185.8h0M106.8 195.3h0M103.8 149.7h0M101 190h0M107.2 186.6h0M100.6 197.5h0M106.8 196.9h0M103.5 198h0M107 186.7h0M107.4 189.5h0M107.2 192.1h0" stroke="#ff0000" stroke-opacity="0.5" stroke-width="2.6" stroke-linecap="round"/>
<path d="M104.3 170.9V145.5M104.3 196.3V199.1" stroke="#ff0000" stroke-width="0.8"/>
<rect x="100.3" y="170.9" width="8" height="25.4" fill="#fff" fill-opacity="0.45" stroke="#ff0000" stroke-width="0.9"/>
<path d="M100.3 189.1H108.3" stroke="#ff0000" stroke-width="1.6"/>
<path d="M112.3 197.4h0M114.8 194.8h0M116.2 193h0M118.2 190.9h0M115.3 196.7h0M116.9 198.7h0M115.1 198.4h0M116.6 174.4h0M114.6 198.1h0M113.6 196.2h0M116.8 197h0M111.1 190.6h0M114.1 186.9h0M117.4 191.8h0M112.9 189h0M117.2 158.8h0M115.6 193.1h0M116.4 190.2h0M113.6 196.4h0M117.8 187.2h0M117 164.2h0M113.3 197.6h0M115.7 189.4h0M116.5 198.5h0M114.9 195.6h0M112.4 192h0M115 194h0M111.7 198.7h0M113 194.8h0M114.3 185.8h0M111.7 191.4h0M113.1 180.4h0M118.2 191.6h0M114.2 191.4h0M115.2 187h0M115.1 164.8h0M114 197.7h0M118.3 197.6h0M113.4 197.4h0M118.3 194.4h0M118.4 188.2h0M117.4 197.6h0M115.6 195.1h0M114.1 190.3h0M118.3 197.1h0M114.1 185.3h0M113.7 196.2h0M112.6 197.8h0M117.4 188.6h0M115.4 191.6h0M111.3 195.8h0M113.9 176.6h0M116 183.3h0M113.2 187h0M111.6 181.6h0M113.4 181.5h0M113.5 183.7h0M114 181h0M117.7 192.6h0M115.5 198.8h0M113.7 197.1h0M116.5 197h0M113.1 197.2h0M111.2 190.1h0M111 191h0M111.2 194.2h0M111.4 191.5h0M111.6 164.1h0M112.4 186.9h0M116 199h0M116.5 197.8h0M113 196.4h0M118.2 175.9h0M117.8 177.5h0M116.2 181.2h0M113.9 198.8h0M117.4 184.7h0M115.1 196.3h0M112.5 189.5h0M116.5 197h0M118 195.4h0M115.8 165.9h0M113.6 193.3h0M114.3 199h0M117.7 185.4h0M116.3 183.2h0M116.2 198h0M116.8 187h0M118.2 173.9h0M118.2 172.2h0M117.7 189.2h0M116.4 198h0M111.6 188.6h0M116 196.6h0M117.4 83.8h0" stroke="#ff0000" stroke-opacity="0.5" stroke-width="2.6" stroke-linecap="round"/>
<path d="M115.6 191.7h0M113.4 171.1h0M111.6 192.4h0M111.7 192h0M113.5 184.2h0M116.4 197h0M113.2 197.7h0M113.9 191.8h0M112.3 196.6h0M113.5 180h0M117.1 198.6h0M112.2 196.6h0M117.2 198.8h0M115.4 195.9h0M114.3 193.8h0M117.5 196.5h0M117.5 193.6h0M116.8 196.1h0M112.6 190.2h0M115.4 193.5h0M113.8 197.4h0M117 197.1h0M118.3 197.8h0M112.5 198.1h0M115.9 196.1h0M111 185.6h0M111.6 197.6h0M114.3 198.9h0M112.3 172.9h0M114.7 184.1h0M112.6 193.9h0M117.8 187.9h0M111.4 197.9h0M114 165.9h0M112.6 184.4h0M113.5 195.2h0M111.5 198.4h0M112.8 197.3h0M115.2 191.7h0M112.5 198h0M114.7 194.5h0M116.6 190.4h0M118.1 188.2h0M116.5 191h0M117.7 167.4h0M116.6 191h0M113.4 178.4h0M118.2 173.4h0M114.2 196.6h0M115.8 186.5h0M117.5 190.1h0M111.5 196.9h0M116.8 197.4h0M115.7 195.2h0M113.5 175.5h0M114.1 192.8h0M113.6 199h0M114.7 166.8h0M114.3 198.7h0M117.1 189.4h0M111.9 173.7h0M116.4 192.6h0M111.7 189.8h0M118.3 193.5h0M112.9 192.6h0M115.2 198h0M111.1 176.8h0M112.6 188h0M116.1 198.2h0M114.7 196.9h0M116.8 194.1h0M116.2 181.8h0M116.7 184.7h0M112 194.1h0M115.3 180.9h0M112.9 189h0M117.4 196.5h0M114.6 189.4h0M115 197.5h0M112.2 196.9h0M115.4 192.8h0M113.1 198.2h0M116.8 178.4h0M113.8 196h0M117.8 196.6h0M113.7 196.6h0M111.3 194.5h0M118 196.8h0M114.3 198.6h0M116.7 195.6h0M116.2 197.9h0M112.7 160.7h0M114.2 198.9h0M117.7 192.7h0M116.7 133.9h0" stroke="#ff0000" stroke-opacity="0.5" stroke-width="2.6" stroke-linecap="round"/>
<path d="M113.7 157.2h0M115.6 170h0M112.5 186.8h0M115.8 173.5h0M115.1 169h0M112.4 198.5h0M116.7 193.2h0M113.2 192.9h0M112.4 196.9h0M114.7 182.8h0M116 190h0M112.5 191.2h0M114.5 187.3h0M116.9 186.2h0M111.6 193.9h0M112.5 176.2h0M117.7 178.8h0M116.5 185.9h0M111.3 189.4h0M113 197.7h0M115 193.5h0M112.5 178.5h0M113.4 197.6h0M118.4 197.1h0M111.3 194h0M118.3 180.2h0M118.2 195.4h0M112.2 198.6h0M114.1 198.6h0M112.1 197.8h0M114.8 196.2h0M113.8 189.2h0M117.8 191.6h0M115.1 188.1h0M116.1 198.9h0M116.9 198.8h0M113.2 198.1h0M117.6 166.3h0M113.1 167.1h0M113.2 187.9h0M118.2 197.1h0M116.8 167.2h0M114.8 158.9h0M113 197.2h0M115.2 191.2h0M116 170h0M115.7 172.1h0M113.1 197.1h0M111.9 198.9h0M115.6 189.2h0M118.3 190.1h0M112.7 197.5h0M111.8 187.9h0M114.1 185.1h0M113.9 183.6h0M116.9 197.1h0M113.7 170.7h0M114.6 191.8h0M113.7 198.1h0M112.5 184.3h0M114.2 191.3h0M111.9 175.4h0M114.5 166.5h0M117.2 197.1h0M114.9 198.2h0M111.2 176h0M115 198.6h0M113.2 193.2h0M113.7 193.1h0M112.7 195.2h0M111.7 195.3h0M116.1 196.6h0M113.8 197.1h0M117.5 183.3h0M115.4 178.8h0M111.1 171.7h0M114 176.9h0M111.2 196.8h0M113.4 193.8h0M114.7 188.9h0M111.9 184.3h0M118 196.5h0M116 176.9h0M111.3 185.7h0M113.8 196.3h0M114.9 196.7h0M117.6 194.2h0M118.4 189.6h0M115.2 188.7h0M111.4 186.7h0M111.9 191.8h0M113.6 198.4h0M117.2 195.9h0M114.6 179.7h0M115.9 145.5h0" stroke="#ff0000" stroke-opacity="0.5" stroke-width="2.6" stroke-linecap="round"/>
<path d="M112.5 165.6h0M112.3 196.4h0M113.7 172.6h0M118 194.9h0M115.6 191.9h0M112.4 194h0M114.9 184.9h0M111.1 190.9h0M117.4 193.6h0M114.2 198.9h0M116.3 193.5h0M116.9 187.2h0M117.9 179.8h0M115.9 178.6h0M113.9 191.1h0M111.7 182.8h0M117.2 189.6h0M114.5 189.1h0M112.9 196.8h0M117.6 198.4h0M115.9 182.9h0M114.3 198.4h0M114.8 188.8h0M114.5 189.2h0M111.9 191.6h0M116.2 179.3h0M117.8 188.1h0M118 197.9h0M116.1 185.8h0M116.1 197.7h0M111.9 175.2h0M116.6 195.3h0M117.7 192.7h0M111.5 188.8h0M114 193.5h0M116.6 199h0M115.8 198.3h0M111.1 178.7h0M116.1 194.3h0M116.2 191.3h0M115.8 185.7h0M112.3 197.3h0M115.9 192.4h0M113.3 181.7h0M116.4 188.4h0M118.4 187.9h0M115.7 171.9h0M112.7 192h0M115.6 192.7h0M116.4 196.1h0M111.3 189.2h0M113.6 177.3h0M113.2 193h0M112.2 161.2h0M113.2 190.3h0M116.9 183.9h0M111.9 195h0M114.8 173.8h0M118.2 177.2h0M116.5 198.3h0M112.4 167.1h0M118.2 168.5h0M111.2 196.2h0M116 187.4h0M118.4 193.6h0M117.1 196.9h0M113.5 198.1h0M118.2 199h0M117.4 169.7h0M112.8 184h0M116.6 170.6h0M118 193.9h0M113.7 154.9h0M113.8 193h0M118 175.6h0M117 195.4h0M117.5 193.4h0M111.1 178.3h0M114.2 196.3h0M111 198.4h0M117.3 197h0M112.6 187.5h0M117.2 168.7h0M113.9 186.2h0M112.3 186.3h0M116 176.8h0M114.2 187.5h0M115.7 196.3h0M116 188.8h0M112.6 192.3h0M113.6 167.7h0M118.4 197.9h0M112.8 181.6h0M114.8 191.9h0M116.6 150.1h0" stroke="#ff0000" stroke-opacity="0.5" stroke-width="2.6" stroke-linecap="round"/>
<path d="M115.8 198.1h0M115.7 188.5h0M116.6 190.6h0M116.2 196.7h0M116.6 190.2h0M115.5 187.1h0M114 182.6h0M112.7 167h0M115.9 166.8h0M116.1 192.5h0M116 186.4h0M112.8 185.9h0M114.2 197.1h0M111.7 184.3h0M117.2 198.4h0M113.8 180h0M118.4 192.2h0M114.5 189.1h0M111.2 198.6h0M116.3 183.5h0M116.1 192.9h0M115.5 197h0M113.2 198.9h0M115.4 184.9h0M116.4 184.5h0M114.4 188.3h0M116.7 185.2h0M112.7 195.4h0M114.2 198h0M112.7 198.9h0M112 187.6h0M115.9 186.5h0M114.9 192.9h0M115.6 187.2h0M112.5 197.4h0M112.1 198.3h0M117.3 190.2h0M111.2 198.6h0M113.4 193.9h0M112.3 197.3h0M117 197h0M115.7 185.5h0M114.3 191.1h0M117.7 194.3h0M117.4 181.5h0M116.3 198.9h0M115.1 188.3h0M112.4 196.7h0M117.8 196.8h0M115.5 184.3h0M111.2 188.4h0M117.9 176h0M112.7 191.8h0M116.9 196.5h0M113.7 177.6h0M113.7 197.1h0M111.7 193.7h0M113.2 193.2h0M115.7 194.6h0M117 196.4h0M112.2 187.1h0M111.3 192.3h0M117 189h0M114 191.9h0M117.4 195.4h0M116.1 187.3h0M114.1 183.7h0M116.9 185.9h0M116.6 196.8h0M115.4 187.8h0M118.4 159h0M111.9 177.7h0M114.6 179.9h0M118.1 187.2h0M115.6 198.5h0M112.4 196.3h0M116.1 195.8h0M113.1 186.2h0M118.2 184.5h0M113 199h0M116.5 196.1h0M111.9 193.1h0M116.4 193.2h0M114.7 198.6h0M115.9 192.9h0M115.8 182.6h0M116.6 198.4h0M112.2 190.8h0M111.1 196.7h0M112.9 184.9h0M113.1 188h0M112.3 197.9h0M113 199h0M114.1 160.4h0" stroke="#ff0000" stroke-opacity="0.5" stroke-width="2.6" stroke-linecap="round"/>
<path d="M115.7 178.3h0M112.9 189.3h0M112.1 189.4h0M112.6 195.3h0M117.4 169.9h0M118.1 188.1h0M114.4 194.8h0M117.5 196.3h0M113.5 195.3h0M113.3 196.3h0M118.2 181.2h0M118.1 190.6h0M111.2 187.9h0M117.6 196.4h0M111.6 197.1h0M117.9 196.3h0M112.1 188.8h0M114.4 190h0M115.5 191.8h0M116.5 171h0M111.6 166h0M114.5 165.6h0M113.5 186.6h0M112.6 169.1h0M112.5 184.9h0M114.8 189.6h0M115.6 191.3h0M115.5 179.9h0M116.4 189.7h0M117.3 156.1h0M114.9 197.4h0M115.7 186.9h0M117.9 184.6h0M117.4 173h0M114.1 189.7h0M113.2 196.2h0M115.7 198.7h0M117.9 190.8h0M112.5 190h0M116.3 196.6h0M112 178.1h0M116.4 175.9h0M112.3 197h0M113.8 198.9h0M111.5 188.4h0M115.1 198h0M111.1 170.1h0M112.1 180.3h0M118.4 189.3h0M113.7 194.4h0M118.4 194.3h0M113.4 155.5h0M111.1 197h0M112.1 193.1h0M117.9 197.8h0M111.8 186.3h0M115.8 198.9h0M115.4 191.4h0M111.4 196.5h0M117.1 189.9h0M113.7 192.4h0M111.8 196.1h0M115.6 176.8h0M116.4 182.3h0M115.1 197.4h0M112.8 190.4h0M112.9 186.4h0M116.1 199.1h0M113.2 198.8h0M112.4 170.3h0M111.5 197h0M112.3 189.9h0M118.1 176.5h0M117 197.7h0M113.7 159.3h0M112.5 195.2h0M115.2 165.6h0M111.4 195.2h0M113.4 191.1h0M117 178.6h0M113.4 192.4h0M115 199h0M111.6 196.8h0M112.2 184.2h0M111.6 195.1h0M112.9 193.4h0M112.2 189.7h0M111.7 197.6h0M118.4 185.4h0M115.2 189.9h0M117.2 197.7h0M118.4 198.6h0M112.7 197.4h0M112.2 192.8h0" stroke="#ff0000" stroke-opacity="0.5" stroke-width="2.6" stroke-linecap="round"/>
<path d="M114.7 184.3V163.9M114.7 196.3V199.1" stroke="#ff0000" stroke-width="0.8"/>
<rect x="110.7" y="184.3" width="8" height="12" fill="#fff" fill-opacity="0.45" stroke="#ff0000" stroke-width="0.9"/>
<path d="M110.7 191.4H118.7" stroke="#ff0000" stroke-width="1.6"/>
<path d="M127.6 195.1h0M123.4 198.8h0M124.1 173.9h0M123.6 196.3h0M126.2 177.1h0M128.7 198.9h0M127.2 195.6h0M124.3 168.8h0M124.6 196.9h0M127.7 187.3h0M125.3 178.4h0M121.7 181.4h0M126.5 190.2h0M128.5 197.3h0M126.5 194h0M122.8 191.5h0M123.9 197.6h0M128.3 176.5h0M128.1 175.5h0M127.4 195.9h0M122.4 177h0M122.2 194.1h0M127.3 197.3h0M125.5 178.9h0M121.5 196.5h0M125.8 195.8h0M127.2 171.6h0M124.5 179.7h0M127.7 188.2h0M125.3 196.4h0M124 197.5h0M125 190.7h0M127.1 197.9h0M124.6 180.1h0M122.9 198.5h0M125 194.4h0M123.1 188.1h0" stroke="#ff0000" stroke-opacity="0.5" stroke-width="2.6" stroke-linecap="round"/>
<path d="M121.5 196.8h0M124.4 193.4h0M123.9 190.2h0M127.1 197.9h0M122.5 165.8h0M128.8 198.8h0M124 195.6h0M121.6 198.4h0M125.3 170.2h0M126 194.8h0M122.9 198.2h0M127.7 195.2h0M122.3 190h0M121.8 194.1h0M122.1 194.3h0M122 186.5h0M122.5 190.2h0M127.9 173.4h0M125.3 186.9h0M124.4 153h0M123.1 176.1h0M127.7 198.1h0M127.9 198.9h0M126.9 192.4h0M128.8 179.6h0M123.4 191.8h0M128 196.2h0M126.3 197.4h0M121.9 190.3h0M128.4 194h0M123.1 196.3h0M128.8 197.2h0M127.7 192.3h0M128 191.3h0M122.8 171.2h0M128.6 194.9h0M128.1 97h0" stroke="#ff0000" stroke-opacity="0.5" stroke-width="2.6" stroke-linecap="round"/>
<path d="M127 188.4h0M122.6 188h0M126.9 179.8h0M127.8 195.2h0M125.7 194.4h0M124.9 189.9h0M125.6 170.4h0M128 156.8h0M125 193.4h0M127.9 196.2h0M124.2 198.1h0M123.5 181.2h0M126.8 196.3h0M124.1 193.4h0M121.9 192.3h0M126.1 197.7h0M127.9 192.1h0M125.9 196.3h0M128.2 183.1h0M123.8 182.7h0M126.5 196.6h0M127.6 197.5h0M123.3 183.7h0M121.7 195.5h0M121.6 187.2h0M128.5 196h0M122.1 191.3h0M128 175h0M123.3 198.2h0M121.8 175.2h0M126.4 196.8h0M126 181.2h0M125.8 177.5h0M127.5 175.5h0M123 194.9h0M127.8 170.4h0M126.9 127h0" stroke="#ff0000" stroke-opacity="0.5" stroke-width="2.6" stroke-linecap="round"/>
<path d="M125.4 191.6h0M125.2 190.4h0M128.3 191.5h0M123.7 199h0M125.8 184h0M125 189.3h0M123.2 195.5h0M126.8 178.3h0M128.1 193.8h0M125 181.7h0M126.9 198.4h0M127.7 198.9h0M122.6 171.6h0M128.1 194.9h0M127 195.4h0M123.6 190.2h0M125.4 194.8h0M124.7 186h0M126.5 185.7h0M123.4 183.9h0M122.5 188.1h0M126.5 195.8h0M127.5 196.8h0M122.3 193.4h0M127.1 197.7h0M127.8 172.9h0M123.2 195.6h0M124.7 181.3h0M128 191h0M125.9 181.7h0M123.3 195.2h0M126 192.9h0M123.1 188.8h0M126.6 181.2h0M124.5 196.5h0M122.4 191.6h0M125.6 140.8h0" stroke="#ff0000" stroke-opacity="0.5" stroke-width="2.6" stroke-linecap="round"/>
<path d="M121.7 192.5h0M126.2 183.9h0M124.2 174.2h0M127.9 168.4h0M127.9 196.9h0M127.5 171.3h0M123 199h0M123.8 193.8h0M126.9 189.2h0M128.5 189.2h0M121.5 197.2h0M128.2 189.1h0M123.8 197h0M123.6 198.7h0M123.2 196.3h0M127.7 197.4h0M122.4 194.8h0M126.1 187.6h0M123.3 198.5h0M122.9 195.4h0M124.2 190.8h0M125.1 194.8h0M123.1 194.6h0M123.8 196h0M126.7 194.2h0M125.7 186.7h0M127.6 184.9h0M126.2 194.1h0M125.9 176.5h0M124.8 190.8h0M127.7 195.6h0M121.7 195h0M126.9 197.9h0M127.5 181h0M126.9 198h0M123.3 188h0M122.6 147.8h0" stroke="#ff0000" stroke-opacity="0.5" stroke-width="2.6" stroke-linecap="round"/>
<path d="M127.8 192h0M123.6 188h0M123.8 196.2h0M128.6 152.7h0M126.2 193.7h0M124.6 198.9h0M127 196.8h0M125.1 195.4h0M127.1 172.6h0M125.7 195.7h0M121.7 198.5h0M127.1 187.8h0M128 192h0M124.1 192.5h0M121.6 197h0M125 190.1h0M122.1 192.5h0M121.8 198.3h0M124.8 195.5h0M123.7 192.9h0M124.6 190.5h0M123.6 196.3h0M128.3 192.6h0M121.8 192.8h0M128.3 195.3h0M122.2 195.6h0M124.7 189.9h0M128.3 192.8h0M125.8 196.1h0M127.2 176.9h0M127.9 197.4h0M123.9 197h0M123 178.4h0M125.7 196.1h0M122.6 196.6h0M122.6 192.3h0" stroke="#ff0000" stroke-opacity="0.5" stroke-width="2.6" stroke-linecap="round"/>
<path d="M125.2 185.9V168.6M125.2 196.3V199.1" stroke="#ff0000" stroke-width="0.8"/>
<rect x="121.2" y="185.9" width="8" height="10.4" fill="#fff" fill-opacity="0.45" stroke="#ff0000" stroke-width="0.9"/>
<path d="M121.2 194H129.2" stroke="#ff0000" stroke-width="1.6"/>
<path d="M135.2 191.4h0M138.1 135.4h0M134.1 138.1h0M136.6 180.1h0M138.4 168.6h0M134.8 187.8h0M133.1 183.1h0M138.4 105.1h0M135 196.1h0M133.1 170h0M133.3 177.4h0M133.7 180.9h0M133.8 117.5h0M133.1 196.6h0M135.1 188.5h0M136.1 188.4h0M139.1 177.7h0M137.6 196.9h0M133.8 150.2h0M133.3 186h0M132.9 118.9h0M136.7 174.7h0M132.2 193.6h0M133.1 196.6h0M135.7 199h0M137.4 125.3h0M136.4 143.5h0M139.2 198.8h0M137.9 195.1h0M134.1 165.5h0M137.1 168.4h0M135.1 195h0M133.9 183.8h0M133.4 182.6h0M136.9 180.7h0M137.3 166.6h0M135.3 124.4h0M132.2 167.2h0M133 179.3h0M132.1 187.8h0M139 110.3h0M132.6 181.7h0M132.4 181.5h0M133 184.9h0M135.8 171h0M138.2 165.9h0M136.8 190h0M137.4 111.3h0M138.6 195.2h0M133.1 181.7h0M134.4 155.2h0M137.1 106.2h0" stroke="#ff0000" stroke-opacity="0.5" stroke-width="2.6" stroke-linecap="round"/>
<path d="M135.4 162.4h0M134.8 178.7h0M137.1 151.1h0M133 173.9h0M133.7 186.8h0M132.9 113.3h0M138 136.2h0M134.4 196.2h0M137.9 162.8h0M132.1 157.8h0M133.8 168.6h0M132.9 198h0M132 150.9h0M135.7 172.6h0M137.5 190.3h0M136.6 116.9h0M136.2 186.2h0M138 189.4h0M136.2 188h0M135.6 190.5h0M134.8 198.2h0M133.4 144.6h0M135.1 196h0M134.1 136.4h0M134.3 195.6h0M136.4 169.5h0M137.2 148.8h0M132.8 197h0M132.8 181.1h0M138.9 142.5h0M134.3 186.5h0M132.6 150.3h0M133.5 193.3h0M136.7 141.2h0M133.9 179.2h0M137 150.7h0M136.3 145h0M139.2 192.6h0M133.2 194h0M135.1 193.7h0M136 186.1h0M132.8 140.1h0M135.2 162.6h0M132.5 153.7h0M134.8 165.4h0M137.7 160.6h0M132.8 163.3h0M137.9 192.3h0M133.3 147.6h0M134.4 194.7h0M137.6 191.9h0" stroke="#ff0000" stroke-opacity="0.5" stroke-width="2.6" stroke-linecap="round"/>
<path d="M136 135.6h0M138.8 171.3h0M134.4 191.9h0M134.3 195.4h0M136.6 168.4h0M136.4 178.9h0M132.2 198.2h0M132.9 191.6h0M132 183h0M134.3 197.8h0M134.3 139.4h0M132 151.6h0M137.4 192.6h0M138.9 128.5h0M138 198.2h0M132.2 192.3h0M132.1 182h0M138.6 168.4h0M133.7 173.8h0M138.9 117.9h0M135.4 196.2h0M137.2 197.8h0M139.2 162.1h0M134.3 165.9h0M132.3 196h0M136.3 145.8h0M137.1 171h0M136 166.2h0M133.4 164.5h0M132.4 196.4h0M132.1 191.5h0M132.2 165.6h0M138.2 173.4h0M135.4 180.8h0M134.2 193.4h0M134.6 194.1h0M134.8 186h0M138.8 197.4h0M139.2 196.6h0M132.5 196.4h0M137.8 122.7h0M137.8 119.9h0M135 182.8h0M134.5 154.3h0M134.8 180.6h0M135.5 198h0M137.4 124.1h0M133.2 127h0M134.9 191.1h0M139 177.7h0M132.4 130.5h0" stroke="#ff0000" stroke-opacity="0.5" stroke-width="2.6" stroke-linecap="round"/>
<path d="M133.4 189.4h0M138.9 191.8h0M132.7 190h0M137.8 162.9h0M133.7 174.6h0M135.3 178.5h0M133.6 196.9h0M135.1 174.3h0M132.1 141.7h0M138.2 152.1h0M136 128.6h0M133.4 186h0M135.4 197.5h0M137.7 148.2h0M132.7 146.1h0M133.8 150.5h0M134.6 121.3h0M134.4 185.7h0M132.3 196.9h0M134.1 129.7h0M139.2 171.3h0M137.5 193.5h0M135.8 160.4h0M135.1 191.6h0M135.9 155.3h0M134.5 143.7h0M134.4 193.9h0M135.9 194.4h0M132.6 176h0M132 197.6h0M133 174.8h0M134 190.1h0M134.6 131.3h0M135.3 196.9h0M136.4 184.3h0M138.9 195.9h0M132.7 163.2h0M134.4 178.7h0M138.9 190.2h0M136.4 184.7h0M138.3 158h0M139.1 179.7h0M138 187.4h0M132.5 191.4h0M137 170.4h0M136.5 135.4h0M135.9 136.3h0M138.5 123.5h0M137.1 167.9h0M137.3 177.8h0M136 160.3h0" stroke="#ff0000" stroke-opacity="0.5" stroke-width="2.6" stroke-linecap="round"/>
<path d="M137.9 196.7h0M132.9 162.1h0M137 186h0M138.2 176.7h0M136.7 159.6h0M137.8 195.4h0M135.4 192.6h0M135.5 186.9h0M136.2 188.9h0M134.9 127.6h0M136.7 184h0M135.6 195.6h0M137.8 179.2h0M136.2 189h0M133.2 145.4h0M137.1 180.6h0M135.4 110.3h0M135.7 165.7h0M134.5 184.9h0M133.7 186.6h0M137.4 180.8h0M138.8 182h0M136.2 172.4h0M138.7 172.8h0M136.6 182.5h0M136.4 192.3h0M133.5 172.4h0M132.5 168.1h0M136.6 164h0M139 198.6h0M133.4 168.8h0M137.6 185.1h0M134 197h0M136.3 138.7h0M138.1 193h0M136.2 187.5h0M135.7 166.8h0M138.5 193.6h0M135.7 189.3h0M136.5 190.3h0M134.6 178.5h0M134.1 193.3h0M137.1 192.8h0M132.4 139.6h0M138.4 186.7h0M132.8 160.9h0M133.1 173.3h0M132 155.2h0M135.1 178.7h0M136.9 196.3h0M137.8 92.3h0" stroke="#ff0000" stroke-opacity="0.5" stroke-width="2.6" stroke-linecap="round"/>
<path d="M138.1 136.9h0M133 198h0M135.9 178.2h0M137.9 166.2h0M136 180.3h0M134.6 196.7h0M132.2 194.4h0M132.2 179.4h0M133.8 179.2h0M134.7 128h0M135.5 190.5h0M135.1 139.1h0M137.4 168.5h0M136.9 178h0M132.3 166.7h0M133.3 163.8h0M134.1 175.7h0M134.9 121h0M135.3 181.6h0M137.2 141.9h0M136.9 159.8h0M134.3 166.5h0M136.2 196.9h0M133 172.9h0M132 144h0M139 160.7h0M132.2 188.4h0M133.2 158.5h0M132.5 186.2h0M137.4 187.8h0M134 191.7h0M135.1 198.1h0M134.5 162.2h0M134.4 165.2h0M136.4 191.2h0M136.7 141.5h0M132.6 182.3h0M136.8 192h0M136.7 192.6h0M137.3 165.5h0M137.3 181.2h0M133.1 195.6h0M137.3 194.5h0M133.6 144.5h0M136.1 111.3h0M132.8 195.4h0M136.7 183.2h0M138.6 140.7h0M132.5 187.4h0M133.7 181.4h0M134 99.3h0" stroke="#ff0000" stroke-opacity="0.5" stroke-width="2.6" stroke-linecap="round"/>
<path d="M135.6 159.6V114.3M135.6 189.8V199.1" stroke="#ff0000" stroke-width="0.8"/>
<rect x="131.6" y="159.6" width="8" height="30.3" fill="#fff" fill-opacity="0.45" stroke="#ff0000" stroke-width="0.9"/>
<path d="M131.6 178.5H139.6" stroke="#ff0000" stroke-width="1.6"/>
<path d="M143.9 184.8h0" stroke="#0000ff" stroke-opacity="0.5" stroke-width="2.6" stroke-linecap="round"/>
<path d="M145.2 185.8h0" stroke="#0000ff" stroke-opacity="0.5" stroke-width="2.6" stroke-linecap="round"/>
<path d="M144.4 185.6h0" stroke="#0000ff" stroke-opacity="0.5" stroke-width="2.6" stroke-linecap="round"/>
<path d="M146 185.9V184.3M146 191.4V199.1" stroke="#0000ff" stroke-width="0.8"/>
<rect x="142" y="185.9" width="8" height="5.5" fill="#fff" fill-opacity="0.45" stroke="#0000ff" stroke-width="0.9"/>
<path d="M142 188.9H150" stroke="#0000ff" stroke-width="1.6"/>
<path d="M154.3 178.6h0M157.7 172.5h0M159.6 192.4h0M154 187.2h0M153.7 191.4h0M155.6 184.1h0M159.7 134.6h0" stroke="#ff0000" stroke-opacity="0.5" stroke-width="2.6" stroke-linecap="round"/>
<path d="M157 185.6h0M157.4 190.6h0M158.9 198.2h0M159.4 182.7h0M156.3 190.6h0M153.6 186.3h0" stroke="#ff0000" stroke-opacity="0.5" stroke-width="2.6" stroke-linecap="round"/>
<path d="M152.8 196.3h0M156.8 196.5h0M160 184.4h0M157.8 176.6h0M154.2 165.6h0M157.4 195.8h0" stroke="#ff0000" stroke-opacity="0.5" stroke-width="2.6" stroke-linecap="round"/>
<path d="M159.6 191.3h0M159.4 191.6h0M155.2 194.2h0M153.3 191.9h0M156.2 182h0M155.6 198.8h0" stroke="#ff0000" stroke-opacity="0.5" stroke-width="2.6" stroke-linecap="round"/>
<path d="M159.5 184.7h0M155.6 194.3h0M154.9 188.3h0M155.1 184.8h0M153.2 198.3h0M159.3 194.5h0" stroke="#ff0000" stroke-opacity="0.5" stroke-width="2.6" stroke-linecap="round"/>
<path d="M155.5 181.8h0M159.4 195.6h0M158.7 185.3h0M153.2 198.3h0M153.7 195.5h0M159.3 194h0" stroke="#ff0000" stroke-opacity="0.5" stroke-width="2.6" stroke-linecap="round"/>
<path d="M156.4 181V165.1M156.4 195.6V199.1" stroke="#ff0000" stroke-width="0.8"/>
<rect x="152.4" y="181" width="8" height="14.6" fill="#fff" fill-opacity="0.45" stroke="#ff0000" stroke-width="0.9"/>
<path d="M152.4 190.7H160.4" stroke="#ff0000" stroke-width="1.6"/>
<path d="M164.3 196.3h0M167.3 195.8h0" stroke="#0000ff" stroke-opacity="0.5" stroke-width="2.6" stroke-linecap="round"/>
<path d="M167 196.9h0M168.7 195h0" stroke="#0000ff" stroke-opacity="0.5" stroke-width="2.6" stroke-linecap="round"/>
<path d="M164.4 197.6h0M165 198.1h0" stroke="#0000ff" stroke-opacity="0.5" stroke-width="2.6" stroke-linecap="round"/>
<path d="M163.7 195.7h0" stroke="#0000ff" stroke-opacity="0.5" stroke-width="2.6" stroke-linecap="round"/>
<path d="M163.6 197.8h0" stroke="#0000ff" stroke-opacity="0.5" stroke-width="2.6" stroke-linecap="round"/>
<path d="M167.7 195.6h0" stroke="#0000ff" stroke-opacity="0.5" stroke-width="2.6" stroke-linecap="round"/>
<path d="M166.9 194V191.7M166.9 196.3V199.1" stroke="#0000ff" stroke-width="0.8"/>
<rect x="162.9" y="194" width="8" height="2.3" fill="#fff" fill-opacity="0.45" stroke="#0000ff" stroke-width="0.9"/>
<path d="M162.9 195.1H170.9" stroke="#0000ff" stroke-width="1.6"/>
<path d="M174.8 183.6h0M175 193.5h0M180.1 193.6h0M178.9 197h0M177.7 198.7h0M177.9 184.4h0M175.3 191.8h0M174.5 186.1h0M175.6 194.4h0M179.9 177.5h0M180.9 185.6h0M174.6 187.9h0M178.7 197.9h0M174.5 197.9h0M178.7 197.1h0M180.8 196.5h0M176.3 195.1h0M176.6 191.4h0M178.1 198.4h0M177.1 189.5h0M175.2 196.8h0M176.7 194.7h0M178.1 195.4h0M175.2 180.3h0M174.3 195.1h0M174 196.8h0M175.3 188.9h0M174.6 163.7h0M179.2 159.9h0M179.3 187.2h0M178.2 196.7h0M180.8 192.3h0M177.4 191.5h0M178.3 198.7h0M176.3 190.6h0M180.4 197.9h0M176.8 185.1h0M177.4 178.4h0M174.3 185.1h0M179 199h0M177.9 196.2h0M176.7 197.1h0M177.4 191.9h0M175.4 193.1h0M176.5 193.8h0M174.2 196.8h0M177.2 192.7h0M174.2 157.6h0M178.3 196h0M177.7 178.4h0M180.2 186.3h0M180.2 193.2h0M178.5 198.6h0M179.7 193.9h0M174.1 194.4h0M177.3 187.8h0M180 195.4h0M178.7 197.4h0M174.7 169.8h0M178.2 187.9h0M178.9 195.9h0M176.1 195.8h0M177.3 181.3h0M178.7 176.8h0M176.4 174.2h0M176.7 198.8h0M179.5 173.1h0M180.5 173.4h0M178.2 168h0M180.9 196.5h0M178.7 196.8h0M180.2 184.4h0M180.9 191.8h0M177.4 197.2h0M180.4 171.3h0M176.4 183.1h0M180.5 186.9h0" stroke="#ff0000" stroke-opacity="0.5" stroke-width="2.6" stroke-linecap="round"/>
<path d="M179.8 181.4h0M177.6 198.5h0M177.1 195.8h0M174.4 184.4h0M176.6 162.1h0M175.1 180h0M178.8 169.7h0M175 194.7h0M176.5 179.7h0M180.2 179h0M177.1 189.7h0M179.8 172h0M179.4 199.1h0M176.9 179h0M177.1 195.5h0M176.5 194.9h0M176.5 193.4h0M180.2 193.3h0M178 179h0M180.5 185.8h0M179.6 194.4h0M177.4 198h0M175.1 178.2h0M177.4 192.3h0M178.9 197.2h0M177.1 196.7h0M181 195.6h0M176.7 187.3h0M179.9 168.8h0M178.5 178.9h0M174.8 167.4h0M178.8 189.7h0M180.6 196.5h0M179 188.2h0M175.9 179.1h0M178.9 163.4h0M176.8 199h0M174.5 186h0M178.6 179.4h0M176.2 198.9h0M180.5 190.9h0M174.3 194.2h0M180.3 193.2h0M176.4 188.6h0M178.7 188.6h0M179.8 198.2h0M177.5 190.6h0M176.1 192h0M179.2 197.3h0M174.3 196.6h0M176.6 196.9h0M176.2 196.7h0M179.8 195.3h0M178.6 196.9h0M180.7 171.5h0M178.9 180.6h0M175.7 198.3h0M179.1 194.9h0M173.9 198.2h0M180.1 193.5h0M177.6 188.9h0M179.4 188.9h0M176.6 193.7h0M177.7 178.9h0M179.3 182.7h0M176.7 192.6h0M174.9 187.2h0M177.1 185h0M177.7 197.2h0M179.2 174.3h0M173.6 195.2h0M180.5 187.5h0M179.3 188.1h0M174 171.4h0M176 173.7h0M174.8 184.4h0M174 115.4h0" stroke="#ff0000" stroke-opacity="0.5" stroke-width="2.6" stroke-linecap="round"/>
<path d="M177.1 185.1h0M173.6 195.9h0M178.6 190.8h0M179.7 182.1h0M180.2 182.8h0M178.6 194.9h0M180.3 159.4h0M175.5 198h0M179.6 181.6h0M176 196.4h0M174.3 196.1h0M178 175.4h0M177.9 188.1h0M179.1 194.7h0M175.8 180.5h0M178.2 185.7h0M179.3 184.1h0M176.6 159.4h0M180.8 192.9h0M180.6 192.6h0M173.8 176.6h0M178.1 198.8h0M173.7 164.1h0M180.5 197.2h0M179.9 197.7h0M174.2 198.8h0M178.9 198.9h0M179.6 195.4h0M179.9 198.4h0M177.4 199h0M179.2 186.5h0M180.2 180.7h0M175.8 197.4h0M174.7 192.2h0M178.1 173.7h0M173.9 194.8h0M175.1 160.5h0M175.7 193.4h0M180.2 185.8h0M176.7 198.3h0M180.1 197.4h0M177.9 192.1h0M176.1 194.1h0M179.1 187h0M178.4 184.7h0M179.4 198.4h0M178.9 194.7h0M180.4 165.6h0M176.1 184.8h0M180.6 177.3h0M174.5 169.4h0M178.5 196.5h0M174.8 194.2h0M177.4 169.6h0M179.9 193.8h0M180.6 193.5h0M174.6 182.7h0M177.6 197.8h0M174.8 176.5h0M178 185.3h0M174.4 191.4h0M180.4 190.9h0M174.6 197h0M176.8 177.9h0M176.1 181.6h0M178.9 190.5h0M180.4 197.6h0M180.8 179.9h0M176.6 197.4h0M178 197.1h0M177.5 196.2h0M178.7 190.4h0M176.7 185.9h0M178 173.7h0M175.5 175.9h0M180.7 184.7h0M174.7 138.5h0" stroke="#ff0000" stroke-opacity="0.5" stroke-width="2.6" stroke-linecap="round"/>
<path d="M176.8 190.9h0M180.4 189.6h0M179.9 192.6h0M174.1 183.7h0M179 184.2h0M179.8 189.6h0M179.9 196.2h0M180.4 197h0M177.7 198.2h0M177.6 172h0M173.9 198h0M178.6 192.9h0M175.4 193.2h0M175.7 197.8h0M176.7 164.8h0M179.1 184.9h0M180.8 197.3h0M174.8 162.5h0M175.7 192.1h0M174.8 196.5h0M180.9 192.6h0M176.4 179.7h0M177.9 176h0M174.6 195h0M175.4 193h0M176.7 184h0M179.1 194.8h0M178.7 197.3h0M174.7 194.5h0M178 194h0M180 194.3h0M175.1 196.5h0M176.2 196.8h0M180.6 195.2h0M174.6 195.1h0M176.7 178.9h0M178 191.1h0M173.9 196.8h0M174.8 188.1h0M178.5 196h0M179.9 177.8h0M174.3 197.2h0M174.2 161.1h0M177.6 188h0M180 198.5h0M177 192.9h0M175.9 192h0M180.8 192.2h0M178.2 188.3h0M173.8 187.4h0M173.9 195.8h0M177.5 197.2h0M180.9 191.4h0M174.3 193.1h0M176.4 193.9h0M177.2 187.5h0M179.3 195.9h0M173.6 195.3h0M175.7 189.2h0M179.6 197.9h0M174.3 170.2h0M176.9 191.8h0M174 178.9h0M180.6 191.8h0M178.9 198.5h0M181 180.3h0M176.4 180.1h0M176.5 194h0M176.7 197.1h0M178.1 189.4h0M177.9 173.7h0M178.9 191.7h0M179.7 186.5h0M178.2 193h0M180.7 198h0M174.6 195.6h0M180.2 143.2h0" stroke="#ff0000" stroke-opacity="0.5" stroke-width="2.6" stroke-linecap="round"/>
<path d="M176.8 197.6h0M173.9 186.3h0M178.3 199h0M175.7 195.9h0M176.4 199h0M179 193.1h0M174.2 184.5h0M174.5 169.1h0M178.9 194.4h0M180.8 198.3h0M176.9 198.2h0M174 177.5h0M179.4 198.4h0M176.2 190.7h0M180.1 186.8h0M175.8 189.2h0M179 198.4h0M174.1 181.5h0M176.9 195.6h0M173.8 190.6h0M177.6 186.4h0M180.2 184.3h0M179.2 159.2h0M174.4 195.6h0M178.4 197.9h0M175.5 164.2h0M174.7 188.4h0M174.7 198.2h0M174.2 181.7h0M176.5 187.6h0M177.5 187.7h0M175.5 180.7h0M180.3 173.2h0M179.1 194.5h0M175.8 192h0M177.1 176.2h0M174.6 185.1h0M179 194.4h0M176.6 189.3h0M178.9 192.9h0M178.5 198.4h0M176 198.5h0M178.2 183.7h0M176.8 198.1h0M175.2 183.3h0M178.6 195.1h0M178.9 191.8h0M176.7 178.1h0M177.2 190.2h0M177.5 194.2h0M176 166.2h0M180.2 192h0M180.3 177h0M175.7 181.4h0M180.1 197.4h0M176.1 185.4h0M179.5 190.9h0M177.2 197.2h0M180.8 193.2h0M178 178.4h0M176.2 193.9h0M175.1 191.7h0M176 195.9h0M176.6 193.7h0M179.2 188h0M176.6 195.2h0M175.6 186.9h0M179.5 196.5h0M175.4 185.1h0M174.5 168.2h0M179.7 192.7h0M175.1 197h0M175.5 196.3h0M176.6 198.8h0M174.4 190.7h0M177.1 190.9h0" stroke="#ff0000" stroke-opacity="0.5" stroke-width="2.6" stroke-linecap="round"/>
<path d="M178 195.5h0M174.2 179.4h0M178.6 193.1h0M179.9 180.6h0M173.6 196.6h0M176.3 198.5h0M174.3 197.8h0M180.5 196.5h0M176.8 191.6h0M176.8 193.2h0M177.4 188.1h0M174.4 198.4h0M177.2 198.9h0M178.1 192.1h0M173.8 174.9h0M177.3 183.9h0M177.3 168.7h0M175.7 172.6h0M176.1 181.4h0M177.7 191.7h0M174.5 190.5h0M174.5 193.8h0M180.4 174.9h0M180.7 196.9h0M175.6 187.4h0M174.8 187.4h0M180.5 195.9h0M174.4 198.7h0M178.9 194.1h0M174.8 177.4h0M177.2 197.2h0M173.9 196.7h0M175.8 197.5h0M179.6 185.2h0M174.1 196.2h0M174.8 191.1h0M175.5 166.1h0M178.1 198.8h0M179.2 194.3h0M174.4 196.7h0M180.5 198.4h0M174.8 174.4h0M177.4 187.8h0M175.8 192.9h0M179.8 171.8h0M177.9 161.1h0M176.9 186h0M179.6 187.5h0M180.7 196.6h0M174 196h0M176.6 197.8h0M176.7 180.8h0M174.3 186.4h0M176 197.5h0M175.4 198.8h0M179.2 196.9h0M177.3 177.3h0M180.8 198.3h0M179.7 184.2h0M177.6 194.9h0M179.3 189.2h0M177.9 198.4h0M179.7 182h0M178.5 197.7h0M179.7 198.5h0M178.3 192.2h0M176.8 182.4h0M179.3 196.2h0M174.8 193.7h0M177.1 195h0M176.2 179.7h0M176.6 195h0M176 181.9h0M178.1 191.4h0M174 177.3h0M175.6 186.5h0" stroke="#ff0000" stroke-opacity="0.5" stroke-width="2.6" stroke-linecap="round"/>
<path d="M177.3 183.6V166.3M177.3 195.8V199.1" stroke="#ff0000" stroke-width="0.8"/>
<rect x="173.3" y="183.6" width="8" height="12.2" fill="#fff" fill-opacity="0.45" stroke="#ff0000" stroke-width="0.9"/>
<path d="M173.3 191.7H181.3" stroke="#ff0000" stroke-width="1.6"/>
<path d="M187 184h0M188.9 179.9h0M186.3 175.3h0M191.3 185.8h0M189.2 174.6h0M186.9 196.9h0M185.3 176.4h0" stroke="#0000ff" stroke-opacity="0.5" stroke-width="2.6" stroke-linecap="round"/>
<path d="M190.6 184.2h0M184.4 196.8h0M190 155.7h0M188.9 157.5h0M186.1 180.5h0M188.5 187.6h0M189.4 172.3h0" stroke="#0000ff" stroke-opacity="0.5" stroke-width="2.6" stroke-linecap="round"/>
<path d="M186.1 170.5h0M187.4 176.8h0M189.1 179.3h0M189.7 191.2h0M186.7 188.9h0M188.3 161.6h0M188.7 163.4h0" stroke="#0000ff" stroke-opacity="0.5" stroke-width="2.6" stroke-linecap="round"/>
<path d="M184.9 175.3h0M190.2 179.2h0M184.7 187.1h0M185 177.2h0M191 175.3h0M188.2 176.3h0M190.4 196.7h0" stroke="#0000ff" stroke-opacity="0.5" stroke-width="2.6" stroke-linecap="round"/>
<path d="M189.5 179.5h0M187.9 179.6h0M189.7 183h0M190.4 192.5h0M187.1 183.1h0M189.5 186h0M190.3 174.7h0" stroke="#0000ff" stroke-opacity="0.5" stroke-width="2.6" stroke-linecap="round"/>
<path d="M187.9 178.1h0M186.4 171.1h0M186.5 157.8h0M188.2 183.4h0M190.7 169.6h0M184.6 176.8h0M187.2 145.5h0" stroke="#0000ff" stroke-opacity="0.5" stroke-width="2.6" stroke-linecap="round"/>
<path d="M187.7 174.6V157.7M187.7 187.5V199.1" stroke="#0000ff" stroke-width="0.8"/>
<rect x="183.7" y="174.6" width="8" height="12.9" fill="#fff" fill-opacity="0.45" stroke="#0000ff" stroke-width="0.9"/>
<path d="M183.7 178.3H191.7" stroke="#0000ff" stroke-width="1.6"/>
<path d="M198.3 177.6h0M196.1 151.2h0M197.5 163.7h0M198.8 176.7h0M197.6 193.7h0M198 181.8h0M198.2 196.8h0M196.1 151.8h0M195.4 120.1h0" stroke="#ff0000" stroke-opacity="0.5" stroke-width="2.6" stroke-linecap="round"/>
<path d="M199.2 155.1h0M197.2 196.5h0M199.8 162.8h0M200.2 197.2h0M194.8 198.8h0M196 196.4h0M200.1 198.3h0M201 168.9h0M198.5 124.7h0" stroke="#ff0000" stroke-opacity="0.5" stroke-width="2.6" stroke-linecap="round"/>
<path d="M194.9 186.8h0M200.5 191h0M199.2 187.5h0M197.9 196.1h0M197.6 197.1h0M200.2 185.7h0M201.6 178.2h0M199 198.2h0M200.3 127h0" stroke="#ff0000" stroke-opacity="0.5" stroke-width="2.6" stroke-linecap="round"/>
<path d="M196.4 196.7h0M197 170.8h0M200.4 166.8h0M199.7 196.6h0M195.2 162.8h0M200 175h0M199.5 166.9h0M198.8 180.5h0" stroke="#ff0000" stroke-opacity="0.5" stroke-width="2.6" stroke-linecap="round"/>
<path d="M201 186.2h0M197.9 196.6h0M197.7 167.2h0M200.1 184.1h0M197.4 198.1h0M194.8 174.4h0M196.6 192.2h0M196.2 173.9h0" stroke="#ff0000" stroke-opacity="0.5" stroke-width="2.6" stroke-linecap="round"/>
<path d="M195.2 173.1h0M194.8 195.7h0M200.2 177.2h0M196 175.8h0M194.7 182.6h0M194.7 167.6h0M198.4 154.4h0M200.7 161.1h0" stroke="#ff0000" stroke-opacity="0.5" stroke-width="2.6" stroke-linecap="round"/>
<path d="M198.1 170.6V154.7M198.1 195.6V199.1" stroke="#ff0000" stroke-width="0.8"/>
<rect x="194.1" y="170.6" width="8" height="24.9" fill="#fff" fill-opacity="0.45" stroke="#ff0000" stroke-width="0.9"/>
<path d="M194.1 184.3H202.1" stroke="#ff0000" stroke-width="1.6"/>
<path d="M206.7 168.4h0M210.4 164.5h0M211.3 158.9h0M210.9 194.5h0M210.1 177h0M211.8 195.6h0M209.5 188h0M206.2 194.1h0M211.3 193.7h0M211.9 197.2h0M209.7 196.7h0M207.5 197.5h0M206 164.4h0M208.4 172.3h0M209.8 197h0M210.8 193.8h0M211.3 167.6h0M209.6 183h0M204.9 196.5h0M207.1 179.8h0M207.4 168.8h0M209.1 174.8h0M210.4 190.3h0M211.4 198h0M211.2 181.4h0M211.5 187h0M212.2 161.4h0M209.8 197.1h0M205.9 169.3h0M209.1 198.2h0M209.7 182.2h0M209 143.2h0" stroke="#ff0000" stroke-opacity="0.5" stroke-width="2.6" stroke-linecap="round"/>
<path d="M209.9 197.3h0M211.6 179.5h0M205.3 198.3h0M211 157.4h0M208.9 181.8h0M209.8 182.1h0M211.9 198.8h0M208.3 179.1h0M204.9 179.5h0M207.4 183.4h0M210.4 184h0M208.4 187h0M206.3 194.9h0M208.3 187.8h0M210 176.6h0M211.7 161.1h0M208.7 199h0M208.2 183.4h0M207.1 193.8h0M208.1 160.6h0M207.1 192.9h0M211.1 194.6h0M205.2 192.5h0M205.7 166.1h0M207.1 194.6h0M212.3 194.7h0M209.4 194.8h0M209.4 168.7h0M209.6 190.7h0M211.7 195.1h0M206.4 196h0" stroke="#ff0000" stroke-opacity="0.5" stroke-width="2.6" stroke-linecap="round"/>
<path d="M208.1 185.1h0M205.1 179.2h0M207.9 174.3h0M208.2 194.6h0M205.2 185.2h0M206 176.8h0M205.7 186.7h0M211.6 197h0M208.4 197.1h0M209.1 180.2h0M210.4 188.8h0M205 187.6h0M211.8 170h0M206.8 171.6h0M209.4 172.4h0M207.7 195.7h0M207.9 158.5h0M205.8 197h0M209.8 184h0M208.8 197.7h0M211.6 195.2h0M206.5 176h0M207.2 195.8h0M209 192.2h0M210.4 174.5h0M207.5 189.8h0M206.9 185.8h0M211.5 183.8h0M209.6 194.3h0M208 155.7h0M208.9 178.4h0" stroke="#ff0000" stroke-opacity="0.5" stroke-width="2.6" stroke-linecap="round"/>
<path d="M205.6 168.1h0M208.3 177.3h0M208.7 197h0M209.2 167.4h0M205.1 194.5h0M210.4 196.7h0M211.2 192.4h0M206.1 182.1h0M209.7 189.6h0M205.1 192.2h0M205.9 197.5h0M205 185h0M209.9 185.5h0M206.1 198.5h0M209.3 189.4h0M207.3 174.3h0M207.8 196.3h0M205.1 197.7h0M205 189.6h0M211.2 198.4h0M205.6 189.3h0M211.9 190.9h0M205.1 197.2h0M207 174h0M207.6 182.6h0M208.6 197.9h0M205.4 195.7h0M211.4 195.9h0M211.6 170h0M207.3 187.7h0M210.8 186h0" stroke="#ff0000" stroke-opacity="0.5" stroke-width="2.6" stroke-linecap="round"/>
<path d="M212.2 172.9h0M206.2 194.2h0M207.6 198.4h0M207.1 198.8h0M205.3 176.7h0M209.6 179.8h0M210 196.3h0M211.9 196.4h0M209.6 196.5h0M207 185.9h0M211.2 198.8h0M210.7 159.5h0M208.9 192.9h0M209.7 163.1h0M208.3 170.9h0M207.3 190.8h0M212.1 195.6h0M210.1 197.1h0M209.9 178.4h0M209.3 188.9h0M206.1 195.6h0M205 199h0M206.1 184h0M208.6 198.6h0M209.8 192.4h0M209.4 185.6h0M205.9 188.5h0M208.7 195.6h0M211.5 194.1h0M208.7 196.7h0M206.9 125.1h0" stroke="#ff0000" stroke-opacity="0.5" stroke-width="2.6" stroke-linecap="round"/>
<path d="M212 198.4h0M210.3 184h0M207.7 184.5h0M208 192.5h0M205.9 196.5h0M205.8 194.2h0M205.4 198.5h0M205.2 197.1h0M206.3 196.7h0M207.7 192.5h0M207.8 160.1h0M205.9 195.7h0M211.4 196.8h0M205.5 198.6h0M207.8 194.7h0M206.3 198.4h0M208 197.9h0M209 195.1h0M204.9 195.5h0M205 173.6h0M206.1 180.6h0M210.7 189.7h0M210.8 194.3h0M208.3 197h0M207.8 198.1h0M205.9 195.1h0M208 190.1h0M210.1 184.1h0M207.4 183.4h0M211.4 160.4h0M207.2 138.5h0" stroke="#ff0000" stroke-opacity="0.5" stroke-width="2.6" stroke-linecap="round"/>
<path d="M208.6 181V160M208.6 196.3V199.1" stroke="#ff0000" stroke-width="0.8"/>
<rect x="204.6" y="181" width="8" height="15.2" fill="#fff" fill-opacity="0.45" stroke="#ff0000" stroke-width="0.9"/>
<path d="M204.6 191.7H212.6" stroke="#ff0000" stroke-width="1.6"/>
<path d="M219.2 195.8h0M216.9 185.7h0" stroke="#0000ff" stroke-opacity="0.5" stroke-width="2.6" stroke-linecap="round"/>
<path d="M221.2 195.1h0M218.9 195.3h0" stroke="#0000ff" stroke-opacity="0.5" stroke-width="2.6" stroke-linecap="round"/>
<path d="M217.6 184.6h0M219.2 197.6h0" stroke="#0000ff" stroke-opacity="0.5" stroke-width="2.6" stroke-linecap="round"/>
<path d="M221.2 193.2h0M215.9 195.5h0" stroke="#0000ff" stroke-opacity="0.5" stroke-width="2.6" stroke-linecap="round"/>
<path d="M222.1 189h0M219.4 181.8h0" stroke="#0000ff" stroke-opacity="0.5" stroke-width="2.6" stroke-linecap="round"/>
<path d="M220.6 176.6h0" stroke="#0000ff" stroke-opacity="0.5" stroke-width="2.6" stroke-linecap="round"/>
<path d="M219 187V175.7M219 196.3V199.1" stroke="#0000ff" stroke-width="0.8"/>
<rect x="215" y="187" width="8" height="9.2" fill="#fff" fill-opacity="0.45" stroke="#0000ff" stroke-width="0.9"/>
<path d="M215 194.7H223" stroke="#0000ff" stroke-width="1.6"/>
<path d="M227.2 195.3h0M228.7 195.9h0M230.4 197.6h0M226.3 196.5h0M228.8 184.5h0M228 195.5h0M229.8 198h0M227.4 192.2h0M228.3 196.7h0M227.9 198.8h0M230.5 192.9h0M230.7 198.5h0M232.8 197.9h0M226.4 196.9h0M232.9 198.4h0M231.6 198.5h0M231.9 198.7h0M226 198.6h0M225.9 198.2h0M227.7 195.2h0M230.8 197.8h0M226.5 194.4h0M228.2 198.6h0M228.8 199h0M232.9 195.5h0M227.9 193.8h0" stroke="#ff0000" stroke-opacity="0.5" stroke-width="2.6" stroke-linecap="round"/>
<path d="M227.9 196.7h0M228.9 199h0M227.7 196h0M229.9 193h0M231.8 197.6h0M228.7 198.7h0M227.4 198.9h0M227.9 198.1h0M227.7 192.2h0M227.5 191.9h0M227 194.1h0M232.6 193.5h0M232.8 197.1h0M226.6 191.6h0M232.8 198.2h0M230.9 198.7h0M232.8 191.4h0M231.3 192.7h0M228.3 198.2h0M226.8 194.5h0M228.9 197.6h0M233.1 198.8h0M228.1 189.7h0M227.4 165.7h0M229.2 195.7h0M232.7 194.7h0" stroke="#ff0000" stroke-opacity="0.5" stroke-width="2.6" stroke-linecap="round"/>
<path d="M226.2 193.5h0M230.4 195.8h0M231.6 194.8h0M229.6 197.9h0M226.8 198.5h0M229.1 197.2h0M230.7 196.9h0M225.7 194h0M231.2 195.3h0M231 189.5h0M228 196.1h0M230.5 195.2h0M230.5 190.9h0M227.9 198.7h0M225.7 187h0M231.6 197.1h0M226.3 188.7h0M229.3 199h0M232.7 199h0M231 189.4h0M229.8 198.5h0M231.3 195.7h0M228.8 198.1h0M228.6 188.7h0M228.9 197.1h0M231 190.5h0" stroke="#ff0000" stroke-opacity="0.5" stroke-width="2.6" stroke-linecap="round"/>
<path d="M231.9 196.1h0M226.7 198.3h0M229.4 176.3h0M226.9 195.7h0M226 196.3h0M230.3 197.7h0M231.3 198.7h0M230.9 197.8h0M229.5 191.2h0M232.9 194.5h0M231.4 198.8h0M227.4 196.1h0M225.8 199h0M233 198.2h0M229.8 195.3h0M233.1 197.5h0M226.2 196.4h0M230.8 194.3h0M226.8 196.7h0M229.2 197h0M228.4 198.2h0M232.8 195.6h0M229.3 198.2h0M231.1 194.3h0M227.2 196.7h0M232.2 69.2h0" stroke="#ff0000" stroke-opacity="0.5" stroke-width="2.6" stroke-linecap="round"/>
<path d="M226.9 194.5h0M226.4 198h0M229.2 197.7h0M231.4 166.1h0M232 192.7h0M227.4 196.3h0M232.8 194.8h0M227.9 192h0M231.4 197.9h0M232.6 196.3h0M226.6 197.8h0M231.8 194.1h0M229.5 196.7h0M231.3 198.6h0M228.3 196.1h0M228.8 194.9h0M225.8 194.3h0M232 193.6h0M228.1 198.4h0M232.8 195.1h0M226.8 198.8h0M230.2 196.4h0M226.1 198.9h0M231.9 196.4h0M227.1 198.3h0M230 161.6h0" stroke="#ff0000" stroke-opacity="0.5" stroke-width="2.6" stroke-linecap="round"/>
<path d="M227.8 197.1h0M230.6 197.1h0M230.5 192.5h0M227.6 197.8h0M233 195.1h0M228.7 196.8h0M227.4 196.4h0M229 194.8h0M226.1 199h0M227.7 198.7h0M229.2 195.8h0M229.8 198.2h0M230.5 193.3h0M231.2 195.6h0M226.8 197.2h0M228.1 198.8h0M229.2 198.5h0M229.5 195.1h0M226.5 198h0M229.6 193.1h0M225.9 198.4h0M231.6 198.4h0M227.7 195.8h0M227 191.9h0M227.4 197.5h0M232.5 163.9h0" stroke="#ff0000" stroke-opacity="0.5" stroke-width="2.6" stroke-linecap="round"/>
<path d="M229.4 194V188.2M229.4 198.1V199.1" stroke="#ff0000" stroke-width="0.8"/>
<rect x="225.4" y="194" width="8" height="4.2" fill="#fff" fill-opacity="0.45" stroke="#ff0000" stroke-width="0.9"/>
<path d="M225.4 196.3H233.4" stroke="#ff0000" stroke-width="1.6"/>
<path d="M242.6 197.8h0" stroke="#0000ff" stroke-opacity="0.5" stroke-width="2.6" stroke-linecap="round"/>
<path d="M240.3 186.7h0" stroke="#0000ff" stroke-opacity="0.5" stroke-width="2.6" stroke-linecap="round"/>
<path d="M240.4 197.1h0" stroke="#0000ff" stroke-opacity="0.5" stroke-width="2.6" stroke-linecap="round"/>
<path d="M241.6 178.5h0" stroke="#0000ff" stroke-opacity="0.5" stroke-width="2.6" stroke-linecap="round"/>
<path d="M243.1 197h0" stroke="#0000ff" stroke-opacity="0.5" stroke-width="2.6" stroke-linecap="round"/>
<path d="M239.8 183.6V180.1M239.8 197.2V199.1" stroke="#0000ff" stroke-width="0.8"/>
<rect x="235.8" y="183.6" width="8" height="13.6" fill="#fff" fill-opacity="0.45" stroke="#0000ff" stroke-width="0.9"/>
<path d="M235.8 197H243.8" stroke="#0000ff" stroke-width="1.6"/>
<path d="M248.1 163.1h0M253.3 196.2h0M250.3 195.8h0M248.3 138.8h0M251.9 171.6h0M253.6 198.8h0M251.2 189.3h0M248.3 129h0M248 135.6h0M248.5 193.3h0M246.9 177.8h0M247.7 145.7h0M250.3 190.6h0M252.2 196.8h0M247.8 199h0M248 186.3h0M253.5 188.6h0M253.1 139.1h0M249 169.4h0M252.6 198.7h0M247 164.8h0M247.5 186.2h0M248.7 153.8h0M252 167.4h0M251.8 161.8h0M249.6 187.9h0M246.8 186.2h0M248 198.1h0M247.8 179.7h0M249.6 196.2h0M252.3 195.3h0M250.9 184.2h0M248.7 178.7h0M249.9 156.3h0M250.1 173.6h0M251.2 178.5h0M249.9 190.4h0M251.3 188.1h0M248.1 182.1h0M251.6 175.1h0M249.5 182.8h0M247.2 196.8h0M248.3 182.6h0M252.5 196.1h0M249.7 154.1h0M251.9 182.8h0M251.4 145.1h0M247 190.1h0M248.7 189.7h0M252.2 142.6h0M248.5 182.4h0M249.5 190.9h0M248.4 184.6h0M248.8 159.4h0M249.8 171.8h0M249.3 195.4h0M253.2 174.4h0M250.2 181.9h0M250.5 157.1h0M247.2 197.6h0M251.1 168.2h0M246.8 196.4h0M251.5 161.5h0M250.2 193.9h0M247.9 177.2h0M253.7 164.6h0M251 189.9h0M249.5 198.8h0M251.5 169.7h0M252 180.1h0M252.8 131h0M247.8 148h0M253.4 172.1h0M246.8 197.6h0M247 132.8h0M251.6 176.1h0M253.8 166.1h0M246.7 190h0M250.6 155.8h0M253.3 142.4h0M249.5 190.7h0M251.5 196.8h0M250.3 171.5h0M251.9 195.5h0M252.9 193.3h0M253.5 146.9h0M247.1 185.5h0M249.1 115.4h0" stroke="#ff0000" stroke-opacity="0.5" stroke-width="2.6" stroke-linecap="round"/>
<path d="M247.3 167.1h0M251 175.2h0M248.5 195.3h0M252.5 196.1h0M249.2 152h0M248.1 153h0M251.5 187.6h0M247.3 198.4h0M247.3 184.9h0M250.9 178.8h0M252.7 148.7h0M251.9 192.4h0M250.8 185.1h0M248.5 181.5h0M251.1 173.2h0M250.9 179.2h0M250.6 197h0M249.2 159.1h0M253.6 196.5h0M246.8 151.7h0M249.6 192.5h0M251 168.5h0M247.6 196.2h0M248.9 173.7h0M247.4 148.2h0M253.1 182h0M247.3 174.4h0M253.2 192.8h0M247.3 189.9h0M251.7 176.4h0M247.9 198.3h0M246.6 175.4h0M253.3 174.4h0M247.9 176.9h0M247.3 169.6h0M249.4 158.8h0M253.3 183.2h0M252.7 191.8h0M252.6 192.6h0M251.6 180.1h0M248.1 177.1h0M252.5 186.4h0M248.1 183.9h0M249.5 192.5h0M248.5 184.5h0M253.4 194.2h0M252.2 184.2h0M251.8 198.5h0M248.1 153.1h0M247.5 140.9h0M247.7 184.2h0M253.7 131.4h0M249.4 187.3h0M249.2 193.3h0M253.1 181.8h0M249.5 173.8h0M247.6 175.9h0M249.2 137.4h0M249.2 173h0M250.8 160.3h0M253.1 171.4h0M250.6 193.4h0M248.9 139.7h0M247.5 194.7h0M248.8 178.7h0M247.3 179.3h0M249.1 175.6h0M248.5 195.5h0M247.3 167.1h0M252.7 166.5h0M249.7 170.3h0M249 197.4h0M247 180.8h0M252.4 192.2h0M250.7 173.3h0M253.8 162.4h0M249.1 190h0M252 134.6h0M248.4 171h0M248.2 142.3h0M247.7 195.5h0M250.2 187.3h0M250.3 160.4h0M247.3 169.1h0M246.9 182.1h0M247.3 178.4h0M252.3 187.6h0M252.6 117.7h0" stroke="#ff0000" stroke-opacity="0.5" stroke-width="2.6" stroke-linecap="round"/>
<path d="M247.8 152.5h0M250.9 166h0M251.6 169.4h0M252.3 177.1h0M248.9 192.4h0M248.8 186.9h0M252.1 182.7h0M248.4 164.8h0M249.2 195.3h0M253.3 187.7h0M247.4 197.2h0M249.3 176.2h0M253.9 188.3h0M252.5 195.6h0M253.9 198.9h0M251.3 175.3h0M249.3 169.6h0M250.5 179.2h0M251.7 175.2h0M246.6 172h0M247.4 183.7h0M249.1 198h0M251.9 179.8h0M253.5 185.3h0M247.1 198.8h0M251.6 198.7h0M248.6 192.3h0M249.1 178h0M249.8 187.1h0M250.2 169.6h0M248.3 185.7h0M247 197.2h0M249.4 197h0M251.9 186.3h0M247.7 136.3h0M247.2 190.1h0M249.7 171.4h0M252.2 186h0M251.1 139.7h0M253.7 181.2h0M251.9 172h0M251.1 189.7h0M248.2 181.9h0M249.6 185.4h0M247.9 183h0M251.1 182.5h0M246.6 166.2h0M252 198.7h0M249.9 151.4h0M251.6 193.3h0M252 133.6h0M250.6 166.3h0M253.3 195.7h0M253.4 136.9h0M249.1 188.2h0M253.3 136.6h0M252.8 166h0M250.7 177.5h0M252.2 171h0M253.8 152.9h0M247.3 159.1h0M249.9 179.8h0M247.1 198.8h0M246.6 181.2h0M248.2 171.8h0M249.4 188.4h0M246.9 164.3h0M248.6 186.7h0M249.8 185.9h0M249.9 161.4h0M250.7 184.1h0M247.3 160.2h0M253 183.1h0M250.3 171.9h0M248.2 184.4h0M248.6 148.7h0M251.8 182.7h0M252.7 191.1h0M250 183.3h0M253.2 170.6h0M251.8 181.3h0M251.6 184.8h0M248.5 163.6h0M249.2 140.2h0M248.1 170.6h0M252.6 198.1h0M251.6 159.7h0" stroke="#ff0000" stroke-opacity="0.5" stroke-width="2.6" stroke-linecap="round"/>
<path d="M249.6 144.3h0M250 187.7h0M249.4 190.8h0M253.7 185.3h0M248 194.1h0M250.1 179.9h0M250.9 174.5h0M247.2 172.8h0M252.2 182.1h0M248.6 187.1h0M249.1 173.7h0M247.2 165h0M246.9 158.7h0M248.4 193.2h0M247.4 134.6h0M247.5 186.7h0M251.4 158h0M252.4 169.5h0M250.8 185h0M247.2 194.5h0M252 190.3h0M252.5 191.8h0M248.4 187.5h0M253.4 149.7h0M248.5 189.2h0M249.6 192.6h0M251 162.5h0M246.6 189.4h0M250.6 195.8h0M252.4 188.4h0M253.1 182.3h0M248.8 144h0M246.9 190.8h0M247 178.5h0M248.2 188.8h0M252.7 166.7h0M247.4 182.4h0M252.8 198.4h0M253.4 171.4h0M250.6 138.6h0M248.2 182.1h0M248.8 176.6h0M250.9 197.3h0M252.4 184.8h0M250.1 171.5h0M251.8 177.5h0M250.5 181.6h0M251.9 175.4h0M251.9 198.7h0M246.7 195.8h0M251.4 186.6h0M248.8 160.5h0M251.5 176.7h0M251.7 197.8h0M249.5 192.4h0M248.2 162.2h0M250.9 184.8h0M248.7 192.2h0M253.1 195.1h0M247.1 198.5h0M248.9 174.8h0M248.8 174.6h0M246.9 180.8h0M250.9 195.8h0M249.4 133.9h0M252.9 195.3h0M250.4 182h0M253.3 172.2h0M251.3 170.6h0M248.4 181.4h0M251.1 180.3h0M251.2 167.1h0M253.2 192.2h0M251.7 182.4h0M248.3 195.2h0M253.5 146.9h0M249.7 174.6h0M247.1 193.1h0M246.6 166.8h0M247.2 194.6h0M250.8 197.1h0M252.7 168.2h0M247.6 182.2h0M248.5 194.8h0M253.8 194.5h0M249 181.8h0M247.1 190.2h0" stroke="#ff0000" stroke-opacity="0.5" stroke-width="2.6" stroke-linecap="round"/>
<path d="M247.9 192.3h0M246.7 156.4h0M247 193.7h0M252.2 178h0M253.1 194.1h0M251.3 173.1h0M248.7 192h0M253.1 141.6h0M251.4 164.6h0M250.9 189.2h0M252.4 162h0M253.7 162.2h0M250 141h0M251.1 148.6h0M251.4 176.9h0M247.6 195.9h0M247.5 168.9h0M246.8 170.3h0M250 189.4h0M247.6 161.1h0M251.1 155.7h0M248.6 192.9h0M252.1 184h0M252.1 187.3h0M249.6 191.3h0M251 192.9h0M247 171.5h0M247.1 148.7h0M252.3 161.8h0M249.8 146.9h0M249.9 173.7h0M247.4 189.3h0M253.6 190h0M252.9 166.6h0M252.8 183.2h0M252.9 197h0M253.4 199h0M251.8 177h0M251.4 143.1h0M249.1 156.1h0M252.6 168.4h0M250.3 181h0M250.7 198h0M249.2 195.8h0M250.7 158.4h0M246.7 177h0M249.1 183.7h0M250.9 160.2h0M253.9 171.3h0M252.1 146h0M246.8 194.4h0M252.2 150.3h0M247.4 198.3h0M253.9 178.9h0M247.4 157.6h0M247.8 195.6h0M247.1 170.1h0M251.7 195.5h0M252.6 153h0M246.8 199h0M249.3 191.3h0M250.9 157.4h0M253.5 166.3h0M253.8 189.7h0M253.3 136.6h0M247.1 154.9h0M252.2 174.6h0M248.2 165.6h0M251.2 197.7h0M246.7 193.3h0M251.5 192.1h0M251.4 183h0M249 157h0M249.1 160.8h0M248.6 162.3h0M250.5 185.7h0M251.7 185.7h0M248.2 172.6h0M253.5 188.4h0M253.8 143.7h0M247.4 198.5h0M248.1 189.9h0M250.4 171.7h0M248.2 134.9h0M250.6 196.8h0M251.7 189.4h0M250 98.6h0" stroke="#ff0000" stroke-opacity="0.5" stroke-width="2.6" stroke-linecap="round"/>
<path d="M247.3 167.9h0M252.1 188h0M253.4 148.3h0M248.2 190.3h0M251.8 151.9h0M251.9 134.1h0M247.2 139.8h0M252.3 182.1h0M248.1 193.4h0M252.7 169.8h0M251.1 193.8h0M253.2 181.8h0M249.3 170.8h0M253.9 159.5h0M246.6 130.1h0M251.6 134.8h0M249.2 179.8h0M253.1 192.6h0M247 135.2h0M252.8 198.4h0M253.3 191.7h0M247.5 186.3h0M249.3 185.4h0M252.7 174.2h0M251.2 172.1h0M248.8 170h0M251.5 185.6h0M250.2 197.1h0M249.6 185.5h0M248.2 191.9h0M246.6 140h0M247 196.9h0M252.1 198.8h0M251.8 197.4h0M250.3 182.2h0M247.5 190.3h0M247.9 190.2h0M249.9 180.3h0M248.6 140.2h0M247.7 163.3h0M253.4 176.7h0M253.3 175.7h0M249.7 181h0M251.7 189.6h0M252.3 198.5h0M253.1 176.3h0M252.3 194.2h0M249.4 182.7h0M251.3 196.8h0M249.5 171h0M248.6 175.8h0M252.2 190.8h0M251.2 176.3h0M250.5 177.5h0M250.7 183.9h0M246.7 161.3h0M249.5 193h0M247.3 172.9h0M249 174.7h0M252.6 186.6h0M252.2 195.8h0M250.8 157.6h0M246.7 150.1h0M250.2 158h0M253.2 198.6h0M246.9 167.4h0M247.4 189.7h0M253 191.7h0M250.3 149.6h0M253.1 131.6h0M253.1 171.7h0M249.8 175.2h0M247 195.4h0M252 198.8h0M253.4 180.9h0M251.1 198.6h0M250.9 193.8h0M248.4 187.8h0M249 181.2h0M253.2 178.5h0M253.7 179.1h0M247.9 196.5h0M247.2 160.8h0M248.8 189.9h0M250.5 176.9h0M252.2 190.3h0M247.4 106.2h0" stroke="#ff0000" stroke-opacity="0.5" stroke-width="2.6" stroke-linecap="round"/>
<path d="M250.3 169.3V143.2M250.3 192.4V199.1" stroke="#ff0000" stroke-width="0.8"/>
<rect x="246.3" y="169.3" width="8" height="23.1" fill="#fff" fill-opacity="0.45" stroke="#ff0000" stroke-width="0.9"/>
<path d="M246.3 182H254.3" stroke="#ff0000" stroke-width="1.6"/>
<path d="M262.1 186.3h0M260.4 185.5h0M259.3 190.2h0M258.6 182.1h0M259.7 189.5h0M260.7 188.7h0M264.1 174.2h0M262.9 190h0" stroke="#0000ff" stroke-opacity="0.5" stroke-width="2.6" stroke-linecap="round"/>
<path d="M262 190.6h0M258 174h0M264 193h0M261.2 198.8h0M260.5 191.3h0M263.7 195.8h0M257.4 186.1h0M258.6 194.1h0" stroke="#0000ff" stroke-opacity="0.5" stroke-width="2.6" stroke-linecap="round"/>
<path d="M263.2 181.1h0M262 179.8h0M258 193h0M258.8 196.3h0M264.1 176.3h0M259.6 187.3h0M259.7 183.4h0" stroke="#0000ff" stroke-opacity="0.5" stroke-width="2.6" stroke-linecap="round"/>
<path d="M259.9 195.9h0M259 195.7h0M261.7 196.3h0M257.9 192.5h0M262.2 182.6h0M259.8 192.2h0M263.5 187.9h0" stroke="#0000ff" stroke-opacity="0.5" stroke-width="2.6" stroke-linecap="round"/>
<path d="M261.2 193.8h0M258.1 174.4h0M261.6 173h0M264.2 173.9h0M263.6 198.7h0M261.3 185.8h0M263.6 192.1h0" stroke="#0000ff" stroke-opacity="0.5" stroke-width="2.6" stroke-linecap="round"/>
<path d="M261.6 196.7h0M261.6 184.4h0M263.2 193.9h0M264.1 197h0M257.8 183.1h0M260.8 194.7h0M260.4 196.9h0" stroke="#0000ff" stroke-opacity="0.5" stroke-width="2.6" stroke-linecap="round"/>
<path d="M260.7 184.3V175.5M260.7 193.1V199.1" stroke="#0000ff" stroke-width="0.8"/>
<rect x="256.7" y="184.3" width="8" height="8.8" fill="#fff" fill-opacity="0.45" stroke="#0000ff" stroke-width="0.9"/>
<path d="M256.7 188.9H264.7" stroke="#0000ff" stroke-width="1.6"/>
<path d="M273.1 175.5h0M268.7 197.2h0M271.5 160.4h0M269.8 168.9h0M273.9 143.4h0M270.4 188.9h0M270.2 178.4h0M269.6 170.5h0M270.9 185.4h0M267.7 186.7h0M272.4 194.4h0M267.6 185.3h0M268.6 198.4h0M272 173.3h0M272.1 157.3h0M273.8 182.6h0M274.7 170.5h0" stroke="#ff0000" stroke-opacity="0.5" stroke-width="2.6" stroke-linecap="round"/>
<path d="M268.1 139.6h0M268.1 179.3h0M268.4 137.5h0M269.7 197.4h0M267.6 194.3h0M267.4 183.2h0M272.5 185.5h0M271.3 193.6h0M268.5 178.5h0M272 146.6h0M272.9 173.9h0M272.9 177.5h0M273.9 158.5h0M269.4 161.3h0M267.8 158.3h0M270.3 177.1h0M271.8 98.6h0" stroke="#ff0000" stroke-opacity="0.5" stroke-width="2.6" stroke-linecap="round"/>
<path d="M270.7 166h0M271 166.5h0M274 185h0M270.3 185.7h0M268.1 185.3h0M273.1 150h0M273.6 183.4h0M270.3 151.6h0M273 196.3h0M273.3 195.2h0M267.6 166.6h0M273.9 137.6h0M268.7 182.1h0M269.1 129.1h0M271.1 185.1h0M272.6 171.5h0M273.8 127h0" stroke="#ff0000" stroke-opacity="0.5" stroke-width="2.6" stroke-linecap="round"/>
<path d="M270.4 172.7h0M269.8 165.6h0M270 179.1h0M269.8 184h0M268.3 142.9h0M274.2 177.2h0M273.7 130.3h0M268.6 181.6h0M271.7 180h0M267.4 177.6h0M267.8 190.3h0M273.6 192h0M272.4 182.1h0M272.5 185.2h0M267.6 182.1h0M270.7 131.5h0" stroke="#ff0000" stroke-opacity="0.5" stroke-width="2.6" stroke-linecap="round"/>
<path d="M271.2 156.7h0M274 175.7h0M271.5 188.6h0M271.7 185.2h0M272.2 184.7h0M270.4 168.7h0M271.5 185.5h0M270 159.1h0M270.9 191.6h0M272.7 195.6h0M270.9 186.6h0M270.5 193.1h0M272.3 193.9h0M270 186.4h0M269.6 177h0M270 176.2h0" stroke="#ff0000" stroke-opacity="0.5" stroke-width="2.6" stroke-linecap="round"/>
<path d="M268.6 182.4h0M272.2 138.4h0M269 196.2h0M271.8 162.9h0M268.2 180.4h0M269.5 176h0M268 167h0M274.1 166.4h0M274.8 181.8h0M274.3 181.7h0M269.1 138.1h0M272.2 198.5h0M267.8 176.8h0M270.3 184.8h0M271.4 196.2h0M271.2 165.2h0" stroke="#ff0000" stroke-opacity="0.5" stroke-width="2.6" stroke-linecap="round"/>
<path d="M271.1 165.1V131.6M271.1 186.6V199.1" stroke="#ff0000" stroke-width="0.8"/>
<rect x="267.1" y="165.1" width="8" height="21.5" fill="#fff" fill-opacity="0.45" stroke="#ff0000" stroke-width="0.9"/>
<path d="M267.1 176.2H275.1" stroke="#ff0000" stroke-width="1.6"/>
<path d="M280.2 182.8h0M279.7 190.1h0M282.4 177.7h0M284.4 192.5h0M284.9 189h0M278.2 145.3h0M278.8 189.8h0M281.6 189.5h0M283.7 189.3h0M279.2 190.3h0M282.9 193h0M278.3 179.3h0M282 192.8h0M279.1 196.4h0M280 195.4h0M281.6 194h0M281.4 193.1h0M281.5 192.8h0M278.2 194.6h0M281.8 141.7h0M279.2 193.8h0M285 193.7h0M284.1 190.8h0M278.4 173.9h0M279.7 154.6h0M283.4 189.7h0M279.2 194.9h0M283.3 146h0M284 158.7h0M281.2 175.6h0M281.3 150.7h0M282.5 162.4h0M285.1 193.3h0M282.4 199h0M281.3 193.4h0M281.2 175.1h0M284.6 197h0M282.6 178.3h0M284.8 168.5h0M281.6 178.8h0M283.8 178h0M280.6 179.3h0M282.8 164.6h0M278.5 198.6h0M283 173.5h0M284.3 198.8h0M282.3 195.6h0M284.4 143.6h0M284.8 166.3h0M284.4 186.5h0M281.2 176.9h0M278.6 185.3h0M281.4 155.7h0M283.5 176.2h0M280.9 169.5h0M283.2 194.2h0M281.4 182.5h0M282.7 185.5h0M281.4 159.2h0M280.9 153.6h0M284.7 197.3h0M283.8 191.1h0M278.2 160.8h0M279 195.6h0M282.7 141.3h0M280.1 195h0M283.1 190h0M281.7 130.6h0M285 192.9h0M281.6 161.8h0M280.6 183.7h0" stroke="#ff0000" stroke-opacity="0.5" stroke-width="2.6" stroke-linecap="round"/>
<path d="M278.4 166.5h0M280.8 146.5h0M284.6 146.3h0M281.2 195.5h0M278.5 183h0M278.5 196.6h0M280.3 169.3h0M279.6 162.8h0M284.5 155.8h0M278.3 162.4h0M281 196.2h0M282.7 185.7h0M281.6 179.1h0M279.4 169.6h0M284.3 184.5h0M283.2 142.4h0M284.1 197.9h0M282.5 178.6h0M278.3 189.4h0M280.2 179h0M285.1 153h0M280.2 183.8h0M283.1 127.1h0M282.2 184.5h0M280.2 197.1h0M278.4 194.9h0M279.4 184.8h0M278.3 188.8h0M280.8 184.5h0M284 198.4h0M278.7 182.7h0M283.3 178.5h0M282.8 129.7h0M283.2 188.8h0M285 186.2h0M281.5 194.6h0M278.4 156h0M284.7 193.2h0M282.3 188.9h0M281.3 180.5h0M281.9 194.8h0M283.1 164h0M283.5 182.5h0M282.4 176.2h0M285 143.3h0M283.6 198.3h0M279.1 177.7h0M284.7 193.6h0M280.5 198.1h0M284 186.8h0M279.5 162.5h0M283.1 187.6h0M284.1 137.2h0M282.6 197.5h0M283.8 178.6h0M279.8 187h0M285.1 168.8h0M278.3 183.2h0M282.2 184.4h0M278.7 175.8h0M279.4 174.2h0M279 189.2h0M282.1 171.5h0M283.3 165.5h0M284.1 160.5h0M279.5 138h0M283.7 190.4h0M280.2 194.4h0M278.9 155.2h0M280.8 197.7h0M283.6 117.7h0" stroke="#ff0000" stroke-opacity="0.5" stroke-width="2.6" stroke-linecap="round"/>
<path d="M280.5 183.7h0M282.6 186h0M278.8 133.1h0M280.5 175.2h0M284.6 191.2h0M279.2 198.1h0M284.1 176.7h0M280.6 140.7h0M278.6 152.6h0M279 175.1h0M284.3 170.9h0M282.4 163.2h0M278.5 188.4h0M281.2 193h0M284.7 186.1h0M278.9 174.4h0M282.8 187.5h0M278.9 179.7h0M283.1 197.8h0M280.9 164.9h0M278.7 193h0M279.2 184.1h0M283.3 181h0M282.3 186.7h0M280.2 159.3h0M280 168h0M279.2 153.9h0M284.1 193.2h0M281.4 159.7h0M278.5 196.2h0M280.7 175.3h0M281.9 189.4h0M281.1 191h0M285.2 185.2h0M281.6 180.2h0M278.9 197.3h0M283.4 147.7h0M283 156.5h0M277.9 194.8h0M283.3 191.8h0M282.6 144.6h0M284.5 130.1h0M284.7 164.9h0M282.9 164.2h0M280.2 188.9h0M279.6 185.4h0M278.5 197h0M278.1 195.4h0M280.6 182.8h0M283.1 196.2h0M281.9 180.4h0M278.6 187.2h0M278.7 197.7h0M284.9 193h0M278.3 185.8h0M284.2 195h0M278.3 197.6h0M280.8 142.2h0M280.8 158.8h0M281.1 186.6h0M281.6 158.8h0M282.3 184.2h0M283.6 145.7h0M281.7 188.7h0M278 129.5h0M284.1 159.8h0M281.3 188.8h0M283.8 198.8h0M281.4 174.9h0M279.5 194.3h0M284.3 122.4h0" stroke="#ff0000" stroke-opacity="0.5" stroke-width="2.6" stroke-linecap="round"/>
<path d="M283.1 192.8h0M284.6 195.6h0M277.9 194.3h0M279.7 157.8h0M284 184h0M279.5 193.7h0M283.4 188.4h0M283 175.9h0M281 186.8h0M281.6 186h0M282.6 188.7h0M280 187.6h0M280.9 186.3h0M284.9 197.7h0M284 165.7h0M282.3 193.3h0M280.5 186h0M281 188.1h0M284.1 171.9h0M282.2 194.9h0M279.2 146.4h0M279.6 184h0M280.9 184.6h0M278.7 156.4h0M278.1 178.2h0M283.2 197.5h0M278.2 182.7h0M282 165.8h0M283.4 171.8h0M282.3 164.2h0M282 189.9h0M284.4 174.6h0M278.5 198.6h0M278 167.8h0M282.6 174.9h0M280 175.4h0M280.8 195.9h0M278.1 140.2h0M282.1 183.8h0M281.5 176.8h0M282.1 171.7h0M281.3 145.3h0M279.4 184.2h0M279.2 175.2h0M278.5 173h0M279.5 175.9h0M278.1 191.6h0M281.8 193.1h0M280 186.1h0M284.8 194.4h0M280.9 195.5h0M284.1 197.6h0M281.9 172.3h0M285.1 175.1h0M281 187.6h0M278.9 195h0M284.3 196.8h0M284.5 171.3h0M278.8 196.5h0M283.4 192.1h0M281.5 160.2h0M284.1 170.9h0M285.2 155.4h0M280.8 198.6h0M283.9 195.5h0M284.5 197.8h0M282.3 182.8h0M281.2 180.8h0M281.2 175.3h0M282.3 197.4h0M283.6 97.9h0" stroke="#ff0000" stroke-opacity="0.5" stroke-width="2.6" stroke-linecap="round"/>
<path d="M281.8 180h0M281.4 187.8h0M281.5 195.7h0M285.2 189.1h0M281.3 188.3h0M282 172h0M282.8 196.6h0M282.6 189.4h0M281.2 179.6h0M285 176.3h0M280.3 189.4h0M284.8 191.6h0M282.2 196.1h0M284.2 170.1h0M278.4 164.1h0M284.9 158.2h0M279.8 198.9h0M277.9 197.1h0M283.9 198.4h0M280.6 182.8h0M279.2 187.8h0M278.9 163.7h0M277.9 175.3h0M282.7 187.9h0M282.8 183.7h0M279.3 185.2h0M278.4 179.4h0M284.9 184.1h0M285.1 190.9h0M285 172.5h0M280.1 153h0M284.2 149.4h0M280.1 159h0M279.2 173.2h0M278.6 194.4h0M283.2 134.7h0M284.9 182.2h0M284 176.3h0M280.1 141h0M279.7 186.1h0M282.8 192.3h0M281.4 194.4h0M278.7 190.2h0M285 184.7h0M283.1 198.8h0M278.8 175.6h0M278 193.7h0M281.2 194.3h0M278.4 194.8h0M278 157.7h0M280.3 136.9h0M280.3 191.3h0M280.8 163.2h0M281.2 189.8h0M280.5 186h0M280.3 158.3h0M280.4 196h0M279.2 177.8h0M285 177.9h0M280.1 152.4h0M279.4 177.7h0M283 169.5h0M281.8 164.1h0M280.7 192.3h0M283.8 197.5h0M283.9 180.8h0M282 139h0M278.5 158.1h0M282.8 168.7h0M282.8 184.1h0" stroke="#ff0000" stroke-opacity="0.5" stroke-width="2.6" stroke-linecap="round"/>
<path d="M279.4 155.6h0M282.7 192.8h0M283.2 170.3h0M283 144.6h0M281 185.3h0M278.2 191.1h0M281.2 178.5h0M282.5 193.5h0M279.7 162.7h0M279.9 181.2h0M281 166.1h0M280.3 178.3h0M282.5 159.5h0M280.7 185.2h0M284.8 152.6h0M281.1 183.9h0M278 195.2h0M278.2 192.9h0M280.7 153.3h0M283.8 194h0M282.3 137.2h0M284.3 190.7h0M278.2 190.4h0M283.5 151.7h0M283.9 190.7h0M278.9 172.4h0M279.6 174.9h0M281 172.4h0M280.7 162.4h0M283.9 154.6h0M282.5 190.2h0M283.9 165.3h0M284.7 184.9h0M281 172.2h0M282 195.1h0M284.5 185h0M284.3 187.8h0M278 176.5h0M284.7 188.9h0M278.9 173.8h0M284 191.5h0M283 196.3h0M283.7 154.2h0M277.8 192.2h0M281 184.6h0M281.5 175.3h0M279.3 172.6h0M284.4 188h0M283.5 188h0M284.7 193.6h0M282.6 185.2h0M284.5 170.5h0M280 148h0M284.2 172.1h0M283.4 182h0M279.6 195.9h0M284.8 199.1h0M281 185.1h0M280.7 169.4h0M279.2 192.6h0M283.3 147.9h0M279.3 179.5h0M278.9 193.2h0M282.6 179.8h0M285 170h0M282.1 154.5h0M280.4 184.7h0M284.9 191.7h0M283.1 179h0M282.7 198.8h0" stroke="#ff0000" stroke-opacity="0.5" stroke-width="2.6" stroke-linecap="round"/>
<path d="M281.5 170.4V143.2M281.5 192.4V199.1" stroke="#ff0000" stroke-width="0.8"/>
<rect x="277.5" y="170.4" width="8" height="21.9" fill="#fff" fill-opacity="0.45" stroke="#ff0000" stroke-width="0.9"/>
<path d="M277.5 183.6H285.5" stroke="#ff0000" stroke-width="1.6"/>
<path d="M294.4 181.5h0M288.5 193.7h0M295.4 199h0M290.5 196.6h0M290.1 194.1h0M289 196.8h0M294.9 185.3h0M293 195.7h0M291.6 182.3h0M293.4 184.6h0M294.3 194.3h0M291.1 138.5h0" stroke="#ff0000" stroke-opacity="0.5" stroke-width="2.6" stroke-linecap="round"/>
<path d="M289.5 197.6h0M293.7 193.1h0M289.2 197.2h0M289.6 185.2h0M293 197.1h0M289.3 196h0M293.7 176.7h0M291.2 198.8h0M289.5 186.1h0M291.6 188.2h0M289.3 194.4h0" stroke="#ff0000" stroke-opacity="0.5" stroke-width="2.6" stroke-linecap="round"/>
<path d="M292.9 186.4h0M294.9 191.9h0M294.4 192.9h0M295.3 191.4h0M293 192.9h0M288.9 199h0M294.5 189.4h0M289.7 194.6h0M290.9 196.4h0M289.4 184.4h0M293.2 198.9h0" stroke="#ff0000" stroke-opacity="0.5" stroke-width="2.6" stroke-linecap="round"/>
<path d="M290.4 194.8h0M293.8 175.2h0M290.8 195.8h0M295.3 198.7h0M288.9 191.4h0M293.6 188.4h0M290.9 187.6h0M288.5 190.9h0M295.4 190.7h0M293.5 185.7h0M291.8 186.9h0" stroke="#ff0000" stroke-opacity="0.5" stroke-width="2.6" stroke-linecap="round"/>
<path d="M290 193.4h0M295.5 189.4h0M289.3 188.2h0M291.9 198.7h0M291.7 197h0M291.7 196.5h0M295.4 195.8h0M289.3 195.2h0M295.5 193.3h0M288.3 198.3h0M290.8 198.5h0" stroke="#ff0000" stroke-opacity="0.5" stroke-width="2.6" stroke-linecap="round"/>
<path d="M295.1 193.6h0M290.6 196.1h0M290.9 197.9h0M290.9 186.6h0M288.9 198.2h0M289.1 190.6h0M293 179.7h0M295.6 193.4h0M294.3 191.9h0M294.3 195.7h0M294.5 196.5h0" stroke="#ff0000" stroke-opacity="0.5" stroke-width="2.6" stroke-linecap="round"/>
<path d="M292 189.1V179.4M292 197.2V199.1" stroke="#ff0000" stroke-width="0.8"/>
<rect x="288" y="189.1" width="8" height="8.1" fill="#fff" fill-opacity="0.45" stroke="#ff0000" stroke-width="0.9"/>
<path d="M288 194H296" stroke="#ff0000" stroke-width="1.6"/>
<path d="M301.9 192h0M299 199h0M303.4 196.2h0M301.2 197.7h0M300.7 194.7h0" stroke="#0000ff" stroke-opacity="0.5" stroke-width="2.6" stroke-linecap="round"/>
<path d="M301.3 197.5h0M304.8 188.2h0M303.8 195.1h0M305.1 197.9h0M300.6 173.2h0" stroke="#0000ff" stroke-opacity="0.5" stroke-width="2.6" stroke-linecap="round"/>
<path d="M299 198.3h0M302.9 195.6h0M299.7 187.4h0M301.3 193.5h0" stroke="#0000ff" stroke-opacity="0.5" stroke-width="2.6" stroke-linecap="round"/>
<path d="M300.5 186.7h0M300.1 195.6h0M299.1 190.5h0M298.7 191.5h0" stroke="#0000ff" stroke-opacity="0.5" stroke-width="2.6" stroke-linecap="round"/>
<path d="M301.9 186.8h0M299.4 191.7h0M300.6 193.2h0M300.7 197.4h0" stroke="#0000ff" stroke-opacity="0.5" stroke-width="2.6" stroke-linecap="round"/>
<path d="M299.8 188.9h0M301.9 187h0M304.5 191.1h0M301.2 188.1h0" stroke="#0000ff" stroke-opacity="0.5" stroke-width="2.6" stroke-linecap="round"/>
<path d="M302.4 191.4V187M302.4 197.2V199.1" stroke="#0000ff" stroke-width="0.8"/>
<rect x="298.4" y="191.4" width="8" height="5.8" fill="#fff" fill-opacity="0.45" stroke="#0000ff" stroke-width="0.9"/>
<path d="M298.4 194H306.4" stroke="#0000ff" stroke-width="1.6"/>
<path d="M316.4 190h0M312.9 195.6h0M313.3 189.3h0M310.2 197.6h0M312.5 160.1h0M310.1 164h0M312.8 187.5h0M309.3 144.4h0M311.1 189.8h0M315 180.4h0M316.2 193h0M313.1 181h0M309.3 175.6h0M316.3 189.1h0M312.4 193.8h0M313.8 152.9h0M309.9 157.7h0M313.3 198.1h0M309.2 189.5h0M315.1 195.9h0M315.2 136.3h0M314.3 186.2h0M313 180.6h0M312.7 186.6h0M312.5 197.4h0M311 183.9h0M311.6 195.5h0M312.2 194.7h0M313.7 186.8h0M314.4 197.1h0M314.9 177.4h0M316.2 181.8h0M315.6 165h0M310.2 183.8h0M310.2 193.5h0M310.7 185.3h0M311.7 196.9h0M313.7 175.1h0M314.9 148.9h0M316.1 193.7h0M315.9 189.4h0M309.6 197.8h0M313.3 176.1h0M310.2 198.1h0M309.7 195.1h0M315.4 196.6h0M309.8 195.1h0M312.5 193.8h0M311.9 171.5h0M310 195.2h0M311.9 163.8h0M309.6 195.1h0M312.9 166.1h0M313.3 135.7h0M316.3 183h0M312.8 180.7h0M310.6 193.7h0M311.9 194.1h0M314.2 180.8h0M313.1 190h0M316.2 189.1h0M312.1 195.3h0M311.2 168.7h0M311.1 186.3h0M314.7 179.9h0M310.8 197.3h0M313.5 189h0M309.8 186.4h0M311.1 191.1h0M312.8 176h0M312.1 199h0M314.3 197.7h0M310.1 195.6h0M316.1 186.6h0M315.6 185.8h0M311.2 195.4h0M315 189.6h0M309.5 196.7h0M315.2 168.3h0M310.5 178.8h0M315.7 194.6h0M313.6 167.9h0M316.3 193.9h0M313.5 189.9h0M311.8 178.2h0M309.3 160.8h0M315.3 198.6h0M309.5 172.8h0M311.4 181h0" stroke="#ff0000" stroke-opacity="0.5" stroke-width="2.6" stroke-linecap="round"/>
<path d="M310.1 180.8h0M314.7 192.9h0M309.6 187.3h0M314.8 197.4h0M314 178h0M313.8 194.7h0M313.6 194.6h0M312.3 191.5h0M310.5 193.9h0M310.7 176.6h0M314.1 183.9h0M311.5 199h0M310.8 194.2h0M316 176.8h0M315.8 174.8h0M314 196.5h0M313.9 191.5h0M312.3 198.7h0M311.4 190.4h0M311.6 186.5h0M309.6 192.1h0M316.1 191.5h0M310.4 160h0M316.1 194.5h0M315.2 176.3h0M309.9 185.9h0M313.4 196.6h0M311.9 194.6h0M312.9 172.9h0M309.5 189.9h0M310.2 146.5h0M314.3 141.2h0M310.5 180.2h0M315.7 186.7h0M314.5 188.4h0M316.1 182.5h0M311 196.7h0M315.6 191.3h0M315.6 139.7h0M315.8 195.6h0M315.5 199h0M314.2 167h0M312.3 182.2h0M311.4 196.1h0M309.9 191.6h0M312.8 196.8h0M312.9 196.6h0M309.3 191.1h0M314.1 185.3h0M310.3 164.1h0M311.7 197.5h0M309.6 182.9h0M310.4 186.5h0M315.5 178.7h0M309.9 126.4h0M309.7 180.1h0M313.7 190.9h0M315.8 196.4h0M309.3 197.2h0M315.9 197.3h0M311 189.9h0M313.8 191h0M315.7 198.1h0M314.7 165.2h0M315.7 185h0M309.8 191.2h0M316.2 183h0M312.4 168h0M310.3 175.2h0M309.8 181.1h0M309.8 178.4h0M309.2 177.6h0M313.2 194.3h0M311.2 148.8h0M313.8 198.7h0M311.4 195.4h0M315.7 169.6h0M309.4 176.8h0M309.8 193.4h0M309.9 196.2h0M310.9 191.6h0M311.6 195h0M315.8 186h0M310.7 175.7h0M311 175h0M313.2 192.2h0M312.8 166.5h0M315.8 195.3h0M313 165.3h0" stroke="#ff0000" stroke-opacity="0.5" stroke-width="2.6" stroke-linecap="round"/>
<path d="M315.1 187.2h0M310.3 197.9h0M310.7 189.6h0M316.1 160.7h0M311.6 179.4h0M313.2 180.5h0M315 194.6h0M314.9 144.8h0M311.5 134.4h0M311.8 191.7h0M312 185.7h0M310.1 155.5h0M316.2 192.5h0M311.9 189.3h0M312.7 192.8h0M312.1 158.8h0M312 169.1h0M316.3 149.6h0M311.5 173.3h0M311.2 189.3h0M315.2 194.9h0M315.5 194.6h0M316 167.5h0M311.9 153.5h0M311.2 195.9h0M312.6 178.9h0M315.4 198.8h0M310.2 192.7h0M312.7 167.2h0M315.7 195.3h0M312.9 186.2h0M315 167.6h0M315 180.1h0M311.6 180.3h0M310.9 185.4h0M314.5 168.1h0M313.7 192.2h0M310.4 177h0M316.4 193.6h0M315.5 189.6h0M313.6 193.8h0M314.5 190.7h0M311.7 196.4h0M312.7 179h0M314.8 167.5h0M312.5 177.1h0M315.9 143.2h0M315.3 166.1h0M315.6 181h0M315.1 183.9h0M311.6 184.5h0M310.1 179.3h0M309.7 175h0M310.4 196.2h0M311.1 194.2h0M312.7 187.1h0M311.4 187.1h0M310.6 177.7h0M314.5 192.6h0M310.9 179.8h0M310.5 197.4h0M310.2 198.3h0M311.4 192.2h0M309.8 169.4h0M310.3 186.8h0M314.4 177.4h0M315.2 176.5h0M313.7 179.8h0M312.6 189.2h0M314.9 193h0M314.8 199h0M315.1 175.9h0M316.5 190.9h0M310.7 128.6h0M314.1 192.4h0M312.8 197.9h0M316.4 195.8h0M310.5 156.5h0M316.3 184.7h0M310.4 175.5h0M311.9 186.9h0M313.7 195.8h0M312 194.1h0M309.7 178.4h0M314.8 194.4h0M309.5 195.4h0M311.1 198.4h0M313.6 157.7h0M312.8 186.2h0" stroke="#ff0000" stroke-opacity="0.5" stroke-width="2.6" stroke-linecap="round"/>
<path d="M310.8 165.2h0M315.7 181.5h0M312.7 172.5h0M310.7 155.5h0M310.5 173.1h0M313.9 155.3h0M315.3 185.8h0M310 194.7h0M315.3 198.4h0M312.8 172.1h0M310.1 191.1h0M312.7 186.9h0M313.2 191.9h0M313.2 185.3h0M314.6 197h0M312.7 186.4h0M315.6 191.6h0M310 194.1h0M310.3 194.5h0M311.9 185.9h0M312 193.4h0M316.5 193.3h0M310.1 180.2h0M316 169.3h0M313.2 193.2h0M312.1 190.1h0M315.9 163.1h0M315.2 198.9h0M312.2 196.8h0M310.3 163.5h0M313.6 187.6h0M315 179.9h0M310.2 130.6h0M312.2 196.4h0M310.1 195.8h0M309.2 196.3h0M315.7 190.5h0M312.5 166.2h0M310.5 196.9h0M314.2 181.7h0M314 181.7h0M316.1 197.6h0M309.3 187.1h0M311.6 183.9h0M311.8 189.6h0M311.9 194.7h0M313.7 169.4h0M311.3 197.1h0M311.1 190.4h0M314.9 193.7h0M312 195.7h0M311.6 180.3h0M309.3 197.4h0M311.3 180.2h0M311.1 188.9h0M310.2 178.5h0M310 177h0M312.6 196.5h0M314.4 175.7h0M314.5 193.7h0M311.2 190.4h0M312.6 180.3h0M314.8 184.2h0M315.1 181.2h0M314 198.1h0M313.4 164.3h0M316.1 161.7h0M310.4 177.6h0M310.3 181.3h0M312.9 186.7h0M311.8 173h0M312.4 190.5h0M314.2 176.3h0M316 194.5h0M314.7 157.1h0M313.9 188.4h0M313.5 196.7h0M313.3 190.5h0M314.3 158.8h0M314.4 169.8h0M314.8 183.4h0M311.7 149.2h0M311.2 183.8h0M313.7 183.3h0M310.1 194.6h0M315.9 197.4h0M313.7 188.7h0M313.4 198.9h0M314.8 193.9h0" stroke="#ff0000" stroke-opacity="0.5" stroke-width="2.6" stroke-linecap="round"/>
<path d="M310.1 190.9h0M310.5 127.7h0M314.6 198.5h0M315.7 191.1h0M312.2 194.5h0M310.9 197.3h0M309.8 166.9h0M314.6 194.6h0M312.2 130.4h0M310.4 189.3h0M311 194.2h0M313.9 173.2h0M309.2 190h0M311 176.6h0M314.5 175.8h0M315.4 197.4h0M314.1 171.5h0M309.2 196.7h0M313.5 195.4h0M315.6 189.5h0M316.1 185.1h0M313.6 198.4h0M315 189.9h0M310.9 177.2h0M309.7 179.2h0M314.1 192.7h0M311.2 186h0M311.2 197.6h0M314.3 194.7h0M311.6 187.3h0M310.9 140.4h0M310.6 194.6h0M310.8 151.2h0M314.8 175.8h0M313.1 191.6h0M315.9 190.7h0M309.4 138h0M311.5 196.9h0M314.3 194.8h0M309.6 191.5h0M309.8 156.1h0M311.1 179.6h0M310.5 193.8h0M315 153.3h0M313.4 180.8h0M312 184.3h0M309.9 171.7h0M313.9 180.1h0M309.6 186.2h0M314.4 194.8h0M315.8 156.5h0M311.9 184.1h0M313.3 194.4h0M316.4 171.9h0M312.2 194.6h0M313.1 187.6h0M312.8 195.7h0M315.8 189.1h0M311.4 198.1h0M314.4 183.7h0M313.4 198.5h0M313.9 197h0M314.4 179.2h0M314.2 192h0M311.9 146.8h0M312.5 190.1h0M315.2 194.8h0M315.1 198h0M312.7 179.5h0M311.2 146.2h0M311.3 197.5h0M311.8 198.6h0M311.5 195.7h0M313 185h0M316.2 185h0M312.2 190.4h0M316.4 174.9h0M309.5 195.4h0M312.2 189.6h0M314.5 191.1h0M315 171.8h0M315.3 188.5h0M313.8 181.8h0M312.7 194.1h0M310.9 195.3h0M315.4 197.3h0M316.3 189.3h0M315.5 176.6h0M315.1 192h0" stroke="#ff0000" stroke-opacity="0.5" stroke-width="2.6" stroke-linecap="round"/>
<path d="M316.3 153.3h0M315.8 179.4h0M314.4 176h0M309.6 158.6h0M315.5 193.5h0M311.1 146.9h0M311.3 198.7h0M313.8 155.3h0M310.7 171.8h0M311.6 155.4h0M309.6 191.6h0M309.9 198.3h0M311.6 186.4h0M311.1 198h0M314.7 178.1h0M315.7 175.8h0M311.7 175.8h0M310.8 195.2h0M313.8 139.2h0M316.4 189.7h0M314.7 197.7h0M315.2 166h0M311.1 127.7h0M312.1 130.9h0M309.5 153.9h0M311.8 188.9h0M314.6 168.5h0M311.8 196.5h0M309.7 178.3h0M316.4 187.9h0M314.9 167h0M314.1 186h0M313 164.2h0M310.9 166.2h0M314.2 158.1h0M314.2 191.9h0M312.1 174h0M313.7 189.5h0M314.4 161.3h0M309.5 145.9h0M315.8 183.6h0M310 194h0M313.6 178.1h0M311.3 198.3h0M309.6 143.4h0M311.1 190.8h0M312.3 181.5h0M312.9 179.9h0M309.3 193.4h0M311.7 197.6h0M315.2 180.7h0M315.3 171.9h0M309.2 189.7h0M312.1 197.8h0M310.3 195.2h0M314.6 126.4h0M310.7 184.7h0M311.8 185.2h0M316.1 191.1h0M310.4 187.3h0M315.4 185.5h0M312.1 195.8h0M316.2 184.5h0M313.3 189.7h0M310.4 196.9h0M312.7 182.4h0M312.5 182.4h0M309.5 189.9h0M310.7 187.3h0M312.4 197.1h0M315.2 187.6h0M310.3 194.3h0M313.5 188.5h0M310.1 181.5h0M315.7 180.8h0M315.1 197.3h0M314.2 179.2h0M315.3 184.6h0M314 193.9h0M310.2 165.5h0M315.4 186.9h0M310.3 189.7h0M316.4 195.1h0M309.9 148.7h0M316.2 186.8h0M309.3 198.2h0M312.2 196.5h0M312.5 162.9h0M316.1 122.4h0" stroke="#ff0000" stroke-opacity="0.5" stroke-width="2.6" stroke-linecap="round"/>
<path d="M312.8 175.5V147.8M312.8 193.5V199.1" stroke="#ff0000" stroke-width="0.8"/>
<rect x="308.8" y="175.5" width="8" height="18" fill="#fff" fill-opacity="0.45" stroke="#ff0000" stroke-width="0.9"/>
<path d="M308.8 185.7H316.8" stroke="#ff0000" stroke-width="1.6"/>
<path d="M320 196.3h0M319.7 196.4h0M320 196.9h0M323.9 198.6h0M320.5 185.5h0M322.8 186.3h0M320.5 199h0M320.3 198.6h0M324.5 191.5h0M326.5 189.4h0M321.9 186.7h0M321.4 198.1h0" stroke="#0000ff" stroke-opacity="0.5" stroke-width="2.6" stroke-linecap="round"/>
<path d="M326.9 196h0M320.7 198.3h0M326.5 195.1h0M325.7 188.6h0M320.8 195.5h0M326.3 197.7h0M324.8 198.6h0M321.3 198.9h0M326 195.6h0M322.9 195.9h0M325.7 195.4h0M325.5 188.6h0" stroke="#0000ff" stroke-opacity="0.5" stroke-width="2.6" stroke-linecap="round"/>
<path d="M322.6 195.8h0M323.9 197.3h0M321.9 193.2h0M322.5 174.6h0M325.6 194.6h0M319.7 192.9h0M324.8 192.3h0M325.1 198.9h0M321.8 198.3h0M324.3 193.8h0M323.5 193.6h0M324 198.3h0" stroke="#0000ff" stroke-opacity="0.5" stroke-width="2.6" stroke-linecap="round"/>
<path d="M320.4 194h0M324.6 167.1h0M319.6 188.8h0M326.4 195.3h0M323.1 192.4h0M325.6 175.1h0M322.1 197.5h0M326 198.4h0M324.4 198.1h0M326.2 197.7h0M326 185.8h0M321.5 197.6h0" stroke="#0000ff" stroke-opacity="0.5" stroke-width="2.6" stroke-linecap="round"/>
<path d="M322.3 195.3h0M322.9 180.8h0M326.4 197.9h0M320.1 196.3h0M326.8 193.4h0M321.4 191.5h0M324.7 197.5h0M325.1 196.5h0M320.9 194.8h0M324.4 195.2h0M325.4 186.2h0M325.4 197.9h0" stroke="#0000ff" stroke-opacity="0.5" stroke-width="2.6" stroke-linecap="round"/>
<path d="M322.7 197.7h0M325.4 186.2h0M321 198.9h0M325.9 190.4h0M321.8 192.2h0M325.3 191h0M325.4 198.7h0M321.6 186.8h0M321 194.9h0M325.3 186.4h0M321.3 194.1h0M321.8 195.7h0" stroke="#0000ff" stroke-opacity="0.5" stroke-width="2.6" stroke-linecap="round"/>
<path d="M323.2 191.4V184.7M323.2 197.2V199.1" stroke="#0000ff" stroke-width="0.8"/>
<rect x="319.2" y="191.4" width="8" height="5.8" fill="#fff" fill-opacity="0.45" stroke="#0000ff" stroke-width="0.9"/>
<path d="M319.2 194.7H327.2" stroke="#0000ff" stroke-width="1.6"/>
<path d="M332 196.9h0M330.7 197.9h0M333.6 191.8h0M330.4 191.6h0M336.6 198.9h0M330 197.1h0M330.2 195.5h0M330.9 194.4h0M333.2 197.5h0M337.1 195.4h0M333.4 196.5h0M330.6 196.3h0M334.3 197.5h0M331.6 181.3h0M331.6 196.5h0M334.6 198.4h0M333.5 193.9h0M335.9 193.4h0M336.9 193h0M333.8 193.7h0M334.1 186.6h0M330 197.9h0M334.5 191.6h0M335.4 198.4h0M334.6 191.9h0M337.2 189.7h0M336.1 196.2h0M337.3 197.5h0M335.3 198h0M332.8 198.6h0M336.1 190.5h0M332.3 181.6h0M335.5 193.4h0M335.2 191.7h0M336.3 198.2h0M331 191.6h0M333.7 198.5h0M336.1 189h0M330.7 192h0M334.6 198.1h0M331.9 186.6h0M332.7 197.3h0M331.2 194.6h0M333.3 198.8h0M332.8 198.1h0M331.1 196h0M333.3 192.8h0M332 194.6h0M333.5 193.3h0" stroke="#ff0000" stroke-opacity="0.5" stroke-width="2.6" stroke-linecap="round"/>
<path d="M334.1 197.9h0M334.1 196.6h0M335.4 182.4h0M330.6 195.7h0M333.8 194.5h0M331.5 193.3h0M336 197.9h0M334 193.7h0M331 197.4h0M337.3 192.2h0M335.3 196.5h0M333.8 199h0M335.7 189.5h0M337.3 195.3h0M336.9 193.6h0M334.4 184.2h0M337.3 197.5h0M330.5 196.1h0M330.3 197.4h0M334.6 197.3h0M330 198.3h0M335.8 163.5h0M332.3 192.2h0M330 197.7h0M334.8 195.7h0M334.9 191.5h0M332.6 191.9h0M331.8 189.5h0M335.9 192.5h0M335.8 193.4h0M335.4 196.8h0M333.5 194h0M331.4 193.2h0M332.2 193.2h0M330 197.8h0M330.3 198.6h0M332.4 196.3h0M331.9 199h0M337.1 186.8h0M330.6 185.1h0M334.9 156.3h0M333.1 197.9h0M331.6 198.3h0M332.8 195.8h0M335.9 197.2h0M331.9 193.1h0M333.9 195.1h0M334.4 189.5h0M335.6 191.5h0" stroke="#ff0000" stroke-opacity="0.5" stroke-width="2.6" stroke-linecap="round"/>
<path d="M335.8 192.8h0M330.5 185.8h0M334 188.4h0M336 196.4h0M335.6 183.5h0M331 198h0M333.7 199.1h0M335.2 188.1h0M337.2 198.2h0M334.1 187.4h0M334 191.9h0M331.2 191.5h0M337.2 192.3h0M331.7 195.5h0M331.9 195.1h0M334.9 193.8h0M336.7 189.6h0M331.8 198.8h0M336.7 155.4h0M332.1 198.8h0M335.6 197.7h0M330.8 193h0M336.3 180.9h0M330.6 197.9h0M335.6 170.8h0M335.3 198.9h0M337.3 194.8h0M333.6 193.5h0M336 182.3h0M333.3 198.1h0M335.5 198.7h0M330.1 189.1h0M335.4 193.4h0M333.2 195.2h0M330.7 194h0M331.7 187.3h0M334.1 196.9h0M337.3 193.9h0M332.3 194.5h0M333 196.8h0M336.7 192.8h0M332.7 191.8h0M334.2 197.7h0M330 194.3h0M333 195h0M333.8 197.8h0M333.4 198.3h0M336.7 194h0M332.7 138.5h0" stroke="#ff0000" stroke-opacity="0.5" stroke-width="2.6" stroke-linecap="round"/>
<path d="M333.7 191.1h0M334.2 197.6h0M334.5 184.9h0M336.7 197.7h0M336.4 196.9h0M330.5 196.2h0M335.2 197.7h0M336.2 197.8h0M330.7 195.5h0M336.1 197.3h0M333.1 194.3h0M337.2 198.1h0M332.3 180.3h0M332.2 194.4h0M330.2 196.3h0M334.3 194.3h0M334 198.3h0M330.8 196.7h0M336.7 192.9h0M336.7 194.2h0M332.3 197.4h0M330.4 197.4h0M331.7 198.1h0M335.3 193.2h0M337 191.8h0M334.9 191.4h0M332.8 197.4h0M334.3 180.7h0M330.2 198.8h0M332.9 193.6h0M336 180.9h0M336.7 194h0M331.6 197.8h0M331.8 190.4h0M335 198.5h0M336.4 194.6h0M336.1 194.7h0M331.6 197.7h0M337.3 196.9h0M336.4 193.4h0M334.3 194h0M334.5 196.1h0M333.1 196.1h0M333.4 194.7h0M330.8 197.8h0M330 187.7h0M334.8 191.7h0M332.7 197.1h0M334.5 139.7h0" stroke="#ff0000" stroke-opacity="0.5" stroke-width="2.6" stroke-linecap="round"/>
<path d="M331 186.7h0M330.7 198.9h0M336 198.9h0M332.3 193.9h0M331.2 198.3h0M337.3 197.3h0M333.5 194.3h0M336.9 198.4h0M330.3 198.3h0M332.3 188.1h0M333.5 188.7h0M331.5 194.7h0M332.1 192.2h0M331.6 199h0M335.6 195.8h0M335.5 198.2h0M331.5 186.2h0M330.8 191.8h0M330.2 189.4h0M333.5 193.4h0M330 197.5h0M332.8 186.6h0M336.4 188.1h0M335.9 160.9h0M335.8 196.2h0M330.8 195.8h0M333.3 196.5h0M333 198.1h0M335.9 198.6h0M337 197.1h0M334.1 181.3h0M334 198.8h0M330.1 195.4h0M330.4 194.1h0M337.3 192.3h0M331.6 191.9h0M333.8 198.7h0M335.7 196.1h0M330 192.8h0M335.6 197.3h0M332.1 198.5h0M332.4 196.2h0M337.2 192.9h0M334.8 188.1h0M332.1 190.1h0M336.3 193.8h0M337.1 198.1h0M334.9 196.2h0" stroke="#ff0000" stroke-opacity="0.5" stroke-width="2.6" stroke-linecap="round"/>
<path d="M331.9 186.9h0M333 198.8h0M335 193.3h0M333.8 190.1h0M334.4 198.9h0M333 152.4h0M334.2 187.7h0M332.4 183.4h0M335 197.5h0M331.9 190.7h0M336.8 195.5h0M334.4 192h0M337.1 193.3h0M336.2 194.3h0M331.4 190.7h0M331.1 197.3h0M333.3 185.4h0M333.8 197.5h0M334.6 198.6h0M336.5 196.3h0M332.2 199h0M337.1 181.8h0M336.5 194.7h0M330.4 195.3h0M337.1 196.4h0M336.5 194.9h0M333.6 198h0M330.9 157.1h0M332.3 186.6h0M333.5 196.5h0M334.1 194.2h0M332.6 196.2h0M335.1 197.9h0M334 198.8h0M332.9 199h0M331.6 189.7h0M331 198.9h0M335.9 192.3h0M335.1 195.7h0M337 197.3h0M337.2 193.9h0M331.7 198.9h0M334.3 163.7h0M333.7 198.1h0M335.9 187.2h0M336.2 188h0M332.6 198.8h0M335.4 196.1h0" stroke="#ff0000" stroke-opacity="0.5" stroke-width="2.6" stroke-linecap="round"/>
<path d="M333.7 191.4V180.1M333.7 197.2V199.1" stroke="#ff0000" stroke-width="0.8"/>
<rect x="329.7" y="191.4" width="8" height="5.8" fill="#fff" fill-opacity="0.45" stroke="#ff0000" stroke-width="0.9"/>
<path d="M329.7 194.7H337.7" stroke="#ff0000" stroke-width="1.6"/>
<path d="M344.9 198.8h0M347.3 194.1h0M341.3 198.2h0M344 196.7h0M343.6 198h0M347.3 198.4h0" stroke="#0000ff" stroke-opacity="0.5" stroke-width="2.6" stroke-linecap="round"/>
<path d="M342.5 196.8h0M341 196.8h0M346.9 194.6h0M344.1 193.4h0M347.6 197.8h0M345.1 198.9h0" stroke="#0000ff" stroke-opacity="0.5" stroke-width="2.6" stroke-linecap="round"/>
<path d="M347.3 199h0M340.8 198.6h0M343.7 195.8h0M343.5 197.1h0M343.3 198.5h0" stroke="#0000ff" stroke-opacity="0.5" stroke-width="2.6" stroke-linecap="round"/>
<path d="M347.7 191.6h0M341.2 196h0M343.8 192.2h0M341 194.8h0M344.8 198.6h0" stroke="#0000ff" stroke-opacity="0.5" stroke-width="2.6" stroke-linecap="round"/>
<path d="M345 194.7h0M346.2 191.8h0M341.7 190.1h0M343.7 198.1h0M340.9 198.2h0" stroke="#0000ff" stroke-opacity="0.5" stroke-width="2.6" stroke-linecap="round"/>
<path d="M344.1 198.3h0M343 194.9h0M345.4 199h0M347.2 189.7h0M344 195.6h0" stroke="#0000ff" stroke-opacity="0.5" stroke-width="2.6" stroke-linecap="round"/>
<path d="M344.1 194V190.5M344.1 197.9V199.1" stroke="#0000ff" stroke-width="0.8"/>
<rect x="340.1" y="194" width="8" height="3.9" fill="#fff" fill-opacity="0.45" stroke="#0000ff" stroke-width="0.9"/>
<path d="M340.1 196.3H348.1" stroke="#0000ff" stroke-width="1.6"/>
<path d="M356.9 186.1h0M356.3 191.6h0M351.8 186.6h0M353.6 195.2h0M355.4 155.6h0M353.3 190.1h0M357 182.5h0M354.5 187.6h0M356.2 196.1h0M351.8 182.9h0M352.9 193.1h0M355.9 196.7h0M351.5 198.6h0M358 195.4h0M354.1 184.3h0M351.2 168.2h0M351.4 183.3h0M351.7 193h0M354.4 186.4h0M351.8 176.3h0M351.1 149.8h0M353.2 179.1h0M353.7 190.6h0M351.8 168.4h0M355.9 197.7h0M354.2 196h0M352.7 194.9h0M351.8 193.4h0M352.8 182.7h0M353.4 129.3h0" stroke="#ff0000" stroke-opacity="0.5" stroke-width="2.6" stroke-linecap="round"/>
<path d="M354.8 198h0M350.9 198h0M356.9 183.2h0M354.5 182.3h0M356.7 168.8h0M353.2 190.4h0M354.2 186.1h0M352.2 186.9h0M353.4 183.6h0M358.1 194.9h0M352.1 194.3h0M354.5 195.2h0M353.1 167.1h0M357.9 180.5h0M354.5 197.8h0M354.5 197.8h0M352.2 172h0M354.3 191.7h0M353.7 181.6h0M354 198h0M357.5 165.7h0M353.3 191.1h0M357.8 163.9h0M351.8 184.7h0M356.4 192.4h0M353.3 177.2h0M353.7 196.9h0M358.1 146.7h0M354.9 183.3h0M356.7 133.9h0" stroke="#ff0000" stroke-opacity="0.5" stroke-width="2.6" stroke-linecap="round"/>
<path d="M355.5 197.8h0M352.7 197.9h0M356.5 162.3h0M357.4 182.4h0M353.3 195.5h0M356.1 157.6h0M355.1 173.3h0M356.4 174.2h0M356.4 193.3h0M356.1 189.9h0M357.6 145.2h0M356.8 198.4h0M354.4 172.5h0M352.7 191.1h0M356 194.9h0M353.1 186h0M352.6 148h0M353.9 193.6h0M354 155.8h0M352.5 164.8h0M353.7 163.2h0M356.4 197.3h0M357.2 169.4h0M352.7 184h0M354.1 188.4h0M357.4 193.3h0M352.2 195h0M354.5 156.5h0M351.9 142.2h0" stroke="#ff0000" stroke-opacity="0.5" stroke-width="2.6" stroke-linecap="round"/>
<path d="M351.6 191.1h0M355.7 174.9h0M351.3 191.5h0M351.4 196.2h0M350.9 197.6h0M356.3 196h0M357.3 190.7h0M355.2 167.9h0M357.8 193h0M351.4 156.3h0M354.3 170.3h0M351.9 154.9h0M351.6 188.3h0M355.9 189.5h0M351.1 190.2h0M353.1 185.9h0M357.1 189.7h0M355.7 180.3h0M353.7 193.7h0M357.3 173.3h0M354.8 195.9h0M355.5 141h0M357.1 144.9h0M355.3 190.8h0M351.8 157.9h0M352.5 183.8h0M353 188.2h0M357.4 196.5h0M355.6 195.4h0" stroke="#ff0000" stroke-opacity="0.5" stroke-width="2.6" stroke-linecap="round"/>
<path d="M351.3 145.9h0M351 192.1h0M355.6 172.9h0M355.6 189.3h0M356.8 176.4h0M355.6 190.9h0M354.2 194.6h0M353.4 169.2h0M352.6 179.1h0M357.5 174.2h0M354.5 191.2h0M354.2 186.6h0M354.4 169.5h0M354.4 183h0M352.9 186h0M350.8 164.3h0M357.1 197.4h0M355.9 173h0M351.8 170.1h0M358 193.4h0M357.2 198.6h0M353.7 144.7h0M351.1 188.1h0M351.5 178.5h0M353 192.5h0M352.8 196.4h0M354.8 156.1h0M352.4 195.9h0M358 198.9h0" stroke="#ff0000" stroke-opacity="0.5" stroke-width="2.6" stroke-linecap="round"/>
<path d="M352.7 191.3h0M356.2 198h0M354.9 166h0M356 170.1h0M354 189.4h0M351.9 191.3h0M352.9 193.7h0M357.9 177.4h0M352.9 170.8h0M354.3 182.4h0M352.6 194.7h0M355.7 186.5h0M353.4 177h0M351.9 184.7h0M357.7 143.6h0M352.3 189.2h0M354.2 190h0M358 193.4h0M354 191.6h0M351.5 197.5h0M355 190.4h0M352.8 198.9h0M353.4 195.6h0M350.8 147.9h0M355.6 189.3h0M355.5 140.8h0M356 175h0M351.5 192.4h0M353.9 110.8h0" stroke="#ff0000" stroke-opacity="0.5" stroke-width="2.6" stroke-linecap="round"/>
<path d="M354.5 178.7V154.7M354.5 194.7V199.1" stroke="#ff0000" stroke-width="0.8"/>
<rect x="350.5" y="178.7" width="8" height="15.9" fill="#fff" fill-opacity="0.45" stroke="#ff0000" stroke-width="0.9"/>
<path d="M350.5 188.9H358.5" stroke="#ff0000" stroke-width="1.6"/>
<path d="M367.6 196.9h0M366.2 196.3h0M364.3 197.7h0M368.1 194.8h0M367.4 192h0M366 192.6h0M363.9 164.2h0M365.6 195.7h0M367.3 193.7h0M364.9 198.1h0M365.8 188.9h0M365.2 198.4h0M365.8 197.7h0M366.2 195.7h0M362.3 197.7h0M362.3 184.8h0M367.6 196.7h0M365.7 194.2h0M363.6 198.5h0M366.7 190.4h0M364.6 185.4h0M362.2 197.6h0M363.7 195.2h0M364.7 198.9h0M363.9 198.5h0M365.1 197.5h0M363.8 192.4h0M364.3 192.6h0M362.4 193.5h0M361.3 162.7h0M366.1 193.3h0M363.6 195.4h0M364.7 196.6h0M362.2 194.9h0M361.9 196.8h0M362.7 197.3h0M367.4 190.8h0M368.5 197h0M365.2 194.6h0M366.9 198.6h0M367.5 197.5h0M362.7 196.9h0M363.6 185.5h0M361.4 196.9h0M361.6 190.5h0M366.1 193.9h0M365.2 193.7h0M364.9 192h0M365.9 191.1h0M366.4 199h0M365.2 197.1h0M366.2 197.4h0M367.1 197.1h0M365.6 187.8h0M361.5 190.3h0M363.6 192.4h0M361.4 194.5h0M361.8 189.1h0M364.8 196.2h0M367.8 196.3h0M362.6 193.6h0M361.3 168.2h0M363 198.9h0M364.6 191.9h0M367.9 194.5h0M363.3 197.5h0M363.2 192.9h0M366.1 190.5h0M362.8 194.8h0M365.8 198.1h0M365.1 196.7h0M368.3 192.9h0M366.8 194h0M365.7 195h0M368.2 193.2h0M363.2 197.7h0M362 194.7h0M364.5 193.6h0M367.2 197.9h0M365.7 196.7h0M365.6 198.7h0M366.3 198.7h0M362.5 195.1h0M364.9 194.7h0M366.7 194.4h0M364.7 194.2h0M364 60h0" stroke="#ff0000" stroke-opacity="0.5" stroke-width="2.6" stroke-linecap="round"/>
<path d="M366.6 193.3h0M365.1 191.5h0M367 196.1h0M361.3 196.3h0M365.3 196.2h0M365.1 195.2h0M367.8 194.3h0M362.1 198.3h0M362.6 191.7h0M367.6 198.7h0M365 195.2h0M368.3 189.5h0M366.9 196.3h0M366.6 185.3h0M366.8 198.4h0M362.8 198.2h0M366.4 194.3h0M361.8 192.5h0M368.3 194.8h0M365.3 195.1h0M366.8 198.5h0M367.7 196.6h0M368.2 194.1h0M364.1 186.6h0M364.3 196.1h0M367.8 198.3h0M367.8 198.9h0M366.7 190.4h0M367.3 198.4h0M365.3 195.7h0M366.2 197.9h0M365.8 192.3h0M362.5 195.6h0M363.8 192.1h0M368.3 196.2h0M368.3 189.3h0M365.8 194h0M362.5 183.1h0M362.9 191.4h0M367 196.1h0M364.1 196.5h0M364.1 191h0M368.1 196.4h0M368 189h0M364.2 195.1h0M363.9 190.9h0M366.2 192.8h0M362.1 190.7h0M362.6 196.3h0M363.4 197.8h0M362.9 194.9h0M368.1 194.8h0M363.9 190.9h0M362.4 194.4h0M364.5 188.2h0M368.1 193.1h0M365.1 198.8h0M361.8 193.2h0M368 196.2h0M368.2 176.4h0M367.6 193h0M364.3 194.3h0M367.4 196.9h0M366.1 193.4h0M367.9 197.8h0M364.2 195.3h0M365.3 194.2h0M362.6 194.8h0M365.9 186.4h0M362.9 198.1h0M364.4 192.4h0M367 198.2h0M362 194.9h0M367.1 196.3h0M368 186.7h0M366.4 189.3h0M367.8 182.6h0M363.4 199h0M365.9 198h0M365.7 192.7h0M362 196.5h0M362.3 192.8h0M367.1 197.7h0M363.8 197.8h0M364 196.3h0M361.8 198h0M365.1 94.6h0" stroke="#ff0000" stroke-opacity="0.5" stroke-width="2.6" stroke-linecap="round"/>
<path d="M362 195.5h0M366.2 176h0M364 198h0M361.5 193.7h0M362.9 195.9h0M367.6 199h0M366.5 197.3h0M363.1 197.7h0M365.7 198.2h0M361.7 198.7h0M366.5 193.1h0M361.8 192.5h0M362.9 192.9h0M364.1 193.8h0M361.6 192.1h0M368.6 199h0M366.3 194.3h0M363 195.9h0M366.2 190.2h0M361.3 194.1h0M363.4 197.4h0M367.8 193.6h0M367.6 197h0M365.2 194.6h0M361.3 193.5h0M362.2 175.4h0M367.1 194.4h0M363.8 197.5h0M365.8 194.2h0M364.2 197.9h0M366.1 198.4h0M366.7 190.3h0M367 185h0M366.6 193.1h0M364.7 193.5h0M362.7 193.1h0M363.8 197.5h0M365.7 189.5h0M361.9 191.8h0M367.1 194.4h0M367.6 198.8h0M363 197h0M363.1 193.1h0M367.9 197.3h0M363.6 190.7h0M367.5 197.5h0M364 195.5h0M368.4 199h0M368.1 199h0M366.4 170.3h0M366.8 196.7h0M367.2 189.3h0M367.6 196.4h0M363.4 197.2h0M363.5 190.9h0M366.8 197.2h0M362.8 185.7h0M364.2 189.6h0M368.1 194h0M363 194.3h0M365.7 198.1h0M367.1 194.6h0M366 189.6h0M364.4 195.8h0M364.4 193.9h0M362.1 193.2h0M363.2 196.1h0M367.5 194.7h0M365 194.3h0M363.4 195.6h0M364.6 198.3h0M365.1 199h0M367.8 191.2h0M362.1 195.9h0M362.5 196.3h0M363.1 196.6h0M366.2 195.2h0M361.4 188.6h0M368.6 187.6h0M366.5 198h0M363.3 198.8h0M362.1 198.5h0M361.6 192.9h0M364.5 194.1h0M362.2 195.3h0M362 193.6h0M366.4 99.3h0" stroke="#ff0000" stroke-opacity="0.5" stroke-width="2.6" stroke-linecap="round"/>
<path d="M361.4 196.7h0M367.8 191.4h0M361.5 194.5h0M361.8 194.4h0M367.9 196.6h0M363.6 162.9h0M367.9 197.4h0M361.3 196.6h0M364.7 193.4h0M361.3 196h0M361.6 198.1h0M367.5 192.1h0M367.1 195.2h0M362.5 198.4h0M365.6 198.4h0M365.4 163.5h0M368.6 193.5h0M365.8 190.1h0M364.9 191.3h0M364.5 185.3h0M364 188.5h0M367.9 189.1h0M363.3 193.5h0M364.3 198.3h0M367 194.5h0M366.5 198.7h0M361.5 195.1h0M366.5 196.5h0M365.5 193.6h0M363.4 194h0M367.9 194.3h0M367.2 197.5h0M366.1 195.2h0M362.8 189.9h0M368.5 196.2h0M365.6 198.8h0M367.4 189h0M365.1 198.1h0M363 190.3h0M367.7 189.5h0M361.3 192.8h0M367.8 190.9h0M363.3 191h0M361.5 193.1h0M364.5 189.6h0M366.6 171.2h0M363.8 196.4h0M367.4 190.2h0M368.3 182.8h0M367.4 197.3h0M367 192.8h0M364.6 195.5h0M365.4 185.1h0M368.1 196.8h0M364 197.7h0M362.3 198h0M366.6 190h0M361.3 190.1h0M366.7 193.5h0M366.5 186.7h0M367.2 189.7h0M366.4 196.1h0M361.3 188.5h0M367.5 194.9h0M368.1 197.9h0M367.7 192.7h0M365.1 191.1h0M362 194.7h0M364.1 197.6h0M363.3 188.1h0M368.1 192.5h0M362.5 192h0M366.4 189h0M363.9 194.3h0M367.1 197.2h0M364.9 198.6h0M366.5 194.1h0M366.7 196.4h0M362.4 198.1h0M361.6 185.1h0M363.3 197.7h0M366.3 198.9h0M362.1 193h0M365.6 196.8h0M368.1 198.4h0M366 190.8h0M362.2 92.3h0" stroke="#ff0000" stroke-opacity="0.5" stroke-width="2.6" stroke-linecap="round"/>
<path d="M365.1 192.9h0M367.6 193.7h0M367.9 194.7h0M361.9 195.5h0M366 189.5h0M364.8 194.6h0M365.8 197h0M365.2 196.1h0M365.2 165.2h0M361.5 191.7h0M362.6 199h0M365.7 198.3h0M361.6 197.1h0M365.5 188.4h0M365 193.5h0M363.1 193h0M361.8 193.7h0M362.6 190h0M365.9 198.4h0M363 188h0M367.3 198h0M364.2 188.8h0M366 197.8h0M363.9 198.9h0M364.4 193.3h0M367.5 191.7h0M365.6 185.4h0M364.4 167.8h0M361.6 197h0M365.8 198.2h0M366.8 172.7h0M363.3 198.3h0M365.5 193.5h0M365.8 193.7h0M364.7 197.4h0M368.5 190.7h0M368.4 193.7h0M367.6 191.3h0M366.1 198.7h0M368.1 199h0M362.2 195.5h0M362.9 192.5h0M362.6 192.4h0M364.4 194h0M363.7 197.6h0M362.7 190.3h0M367.2 195.4h0M367 193.1h0M364.2 196.4h0M366.2 193.3h0M368.1 188.6h0M368.3 196.7h0M363.8 195.8h0M367.4 176.5h0M364.1 191.5h0M368.4 195h0M363.2 195.4h0M361.3 195.2h0M365.4 192.8h0M368.3 184h0M368.2 185.6h0M362.7 194.2h0M366.6 197.4h0M365.3 196.5h0M361.4 193.6h0M362.1 192.7h0M363.2 192.8h0M363.4 198.8h0M361.3 188h0M362.4 197.3h0M362.8 185.4h0M368.1 196.4h0M367.9 195.2h0M366.3 189.9h0M366.4 189.2h0M363.1 187.7h0M365.7 197.6h0M362.5 192.3h0M367.2 194.7h0M364.6 193.3h0M367.7 193.6h0M362.1 185.1h0M362 194.8h0M364.8 198.3h0M367.7 190.8h0M364.9 193.6h0M363.8 129.3h0" stroke="#ff0000" stroke-opacity="0.5" stroke-width="2.6" stroke-linecap="round"/>
<path d="M362.1 194.7h0M363.9 198.6h0M361.7 192.6h0M367.4 197.4h0M365.4 194.4h0M362.9 178.2h0M365.3 195.5h0M368.2 193.8h0M366.1 196.3h0M368.2 198h0M364 191.1h0M363.9 195.8h0M362.8 194.5h0M364.2 189.8h0M366.6 194.1h0M364.1 193.2h0M364.5 192.6h0M364 186h0M368.1 198.8h0M368.4 192.6h0M365.8 198.7h0M367.9 192.9h0M363.9 198.1h0M366.7 194.2h0M364.1 192.6h0M366.3 195.6h0M368.3 194.9h0M366.3 197.9h0M361.6 195.3h0M368.1 188.7h0M367 195.5h0M366 197.7h0M365.6 198.5h0M365.5 193.8h0M362.2 194h0M363.4 185.3h0M367.9 192.4h0M366.5 195.3h0M361.4 193.2h0M368 195.1h0M366.5 198.1h0M363.6 197.7h0M365.2 198.2h0M366.8 193.9h0M364.4 195.5h0M363.5 198.5h0M363.3 199h0M367.5 166.7h0M366.3 198h0M367.9 197.5h0M366.2 197.3h0M364.6 196.7h0M365.9 195.6h0M365.8 192.5h0M361.8 183.7h0M366.7 193.7h0M366.7 194.3h0M365.4 196.4h0M368.4 198.6h0M367.9 192.4h0M366.6 196.6h0M367.2 164.4h0M366 198.2h0M363.4 198.4h0M363.6 192.7h0M363.7 193.6h0M367.4 196.9h0M364.1 189.2h0M362.8 194.5h0M362.9 197.7h0M363.8 197.6h0M362.9 194.1h0M368.4 199.1h0M364.5 192.9h0M365.5 195.3h0M366.8 192.7h0M361.4 194.4h0M367.6 198.9h0M367.1 198.5h0M363.4 194.7h0M361.7 195.3h0M366.3 198.1h0M367.4 197.5h0M366.8 192.5h0M364.6 162.9h0M362.9 189.9h0" stroke="#ff0000" stroke-opacity="0.5" stroke-width="2.6" stroke-linecap="round"/>
<path d="M364.9 192.4V184.7M364.9 197.2V199.1" stroke="#ff0000" stroke-width="0.8"/>
<rect x="360.9" y="192.4" width="8" height="4.9" fill="#fff" fill-opacity="0.45" stroke="#ff0000" stroke-width="0.9"/>
<path d="M360.9 194.7H368.9" stroke="#ff0000" stroke-width="1.6"/>
<path d="M377.9 196.3h0M374.4 198h0M376.9 196.6h0M377.7 196.9h0M374.5 193.2h0M375.2 182.6h0M375.8 196.9h0M375.5 194.9h0M376 194.8h0M372.4 196.9h0M371.7 194.8h0M377.1 192.9h0M373.3 191.9h0M377.7 198.5h0M374.5 195.8h0M377.2 197.7h0M374.6 197.6h0M374.1 198.3h0M372.3 184.9h0M373.8 197.8h0M375.9 198.8h0M372.9 197.9h0M376.4 195.9h0M374.9 193.1h0M373.2 197.1h0M372.7 192.5h0M373.2 195.5h0M375.8 196.4h0M371.7 194.5h0M377.1 197.4h0M375.1 194.6h0M378.2 191h0M372.8 198.5h0M378.5 196h0M373 198.8h0M374.8 197.2h0M372.3 198.2h0M376.2 197.1h0M379 190.6h0M374.1 193.6h0M375.9 191.7h0M376.2 196.1h0M378.2 192h0M374.3 198.3h0M378.4 198.5h0M377.9 185.6h0M373.4 195.7h0M376.4 195h0M375.5 197.6h0M375.8 194.9h0M378.7 195.5h0M377.2 189.5h0M378.1 197.7h0M376.5 198.1h0M376.7 198.4h0M372.4 197.9h0M375.5 197.5h0M371.9 198.7h0M374.4 187.2h0M377.1 197.6h0M375.2 196.9h0M375.3 195h0M374.3 152.4h0" stroke="#ff0000" stroke-opacity="0.5" stroke-width="2.6" stroke-linecap="round"/>
<path d="M373.5 193.8h0M377.7 195.3h0M374 194h0M375.2 195.8h0M376.9 197.5h0M372.5 196.8h0M372.7 195.6h0M378 193.9h0M377.3 198.7h0M377.3 197.9h0M371.8 197.9h0M375.3 189.5h0M374.9 193.9h0M371.7 193.9h0M374.9 197.4h0M378.7 198.2h0M374.6 197h0M371.9 199h0M375.9 192.5h0M375.5 198.8h0M377 196.2h0M374.9 192.9h0M376.5 183.2h0M377.5 197.7h0M376.5 196.7h0M372.1 197.6h0M378.4 196.6h0M375.6 197.2h0M376.5 195.1h0M372.7 192.4h0M375.5 189.4h0M372.3 189.2h0M374.4 197.3h0M375.7 199h0M373 193.9h0M378.4 197h0M376.1 198.4h0M374.8 197.2h0M373.1 172.1h0M373.3 194.4h0M375.9 193.2h0M376.7 192h0M378.5 198.8h0M375.9 184.9h0M374.4 191.7h0M374 160.7h0M375.5 195.3h0M373.4 189h0M373.2 197.5h0M378.4 197.8h0M374.1 196h0M378.5 193.6h0M372.4 190.7h0M375.4 192.7h0M377.4 193h0M376.2 196.1h0M374.7 195.6h0M374 196.8h0M376.2 192.3h0M377.6 199h0M373.9 194.5h0M372.7 198.9h0" stroke="#ff0000" stroke-opacity="0.5" stroke-width="2.6" stroke-linecap="round"/>
<path d="M372.9 193.6h0M378.6 165.9h0M372.8 197.4h0M378 193.4h0M377.3 196.7h0M377.6 191.9h0M371.7 199h0M377.1 196.8h0M374.4 196.5h0M375.8 196.1h0M376.4 195.9h0M372.7 198.1h0M373.6 195.8h0M372.2 166.2h0M374.7 195.2h0M372.9 194.3h0M378.3 197.6h0M373.8 191.1h0M373.8 194.5h0M372.6 195.9h0M373.3 198.8h0M377.2 191h0M378.3 197h0M376.8 194h0M378.6 197.3h0M378.9 195.9h0M378.4 197.9h0M378.8 191.2h0M379 197.7h0M375.7 197.6h0M374.1 196.2h0M375.3 191.1h0M374.5 195.9h0M374 198.8h0M374.8 197.5h0M372.8 196.1h0M373.1 194.7h0M377.1 198.4h0M378.4 191.5h0M373.7 197.8h0M375.4 196.6h0M373.6 185.3h0M378.6 197h0M376.4 198.6h0M375.4 197.3h0M374 198.9h0M376.6 195.9h0M371.9 196.2h0M377.1 198h0M374.1 197.2h0M375.3 197.6h0M379 193.3h0M371.8 196h0M377 196.1h0M376.1 198.6h0M372.9 197.1h0M373.7 197.5h0M372.1 194.9h0M375.5 187.4h0M378.6 196.2h0M375.8 197h0M378.5 193.5h0" stroke="#ff0000" stroke-opacity="0.5" stroke-width="2.6" stroke-linecap="round"/>
<path d="M373.8 190.4h0M373.5 186.9h0M376.7 180h0M373.6 191.6h0M378.9 186.9h0M373.5 192.2h0M374.9 197.8h0M375.5 198.6h0M376.6 197.1h0M374.8 198.3h0M372.6 184.8h0M371.7 196.2h0M374.8 189.8h0M374.2 197.3h0M378.7 168.4h0M374.6 196.9h0M373.6 197.5h0M373.3 198.5h0M372.4 198.4h0M376 196.2h0M376.3 194.8h0M375.7 194.6h0M375.9 197.1h0M374.9 198.1h0M378.6 194.2h0M377.9 162.5h0M374.1 198.9h0M377.9 197.6h0M373.6 178.7h0M377.7 192.4h0M372.8 196.9h0M373 193.7h0M377.6 194.2h0M378.2 180.6h0M372.3 195.8h0M373.7 185.9h0M377.2 191.7h0M376.2 197h0M376.8 195.7h0M377.8 187h0M371.8 188.8h0M372.6 196.4h0M375.8 198.1h0M374.4 193.7h0M372.8 195.8h0M375.1 172.1h0M377.4 198.9h0M373.6 197.9h0M373.7 195.8h0M378.2 196.2h0M375.8 198.1h0M373.4 198h0M372.3 174.1h0M371.9 198.2h0M372.1 195.4h0M378.7 197.8h0M374.5 198.4h0M375.5 162.5h0M378 198.4h0M371.8 198.6h0M373.1 193.9h0M376.3 190.8h0" stroke="#ff0000" stroke-opacity="0.5" stroke-width="2.6" stroke-linecap="round"/>
<path d="M378.4 194h0M372.8 187.1h0M372.9 198.3h0M373.2 194.4h0M372.9 164h0M378.9 195.6h0M376.6 194.8h0M374.1 190.2h0M378.2 197h0M378.9 195.6h0M377.1 198.4h0M377.2 189.6h0M372.5 195.6h0M373.2 196.4h0M379 188.5h0M377.3 195.1h0M377.5 193.9h0M377 197.8h0M377.4 199h0M371.7 196.2h0M378 196.2h0M374.7 196.5h0M374.5 185.5h0M376.9 198.1h0M375.1 174.2h0M375.6 197h0M373.3 198h0M375.1 196.8h0M378.3 199h0M374.7 197.7h0M378.2 198.8h0M375.7 186.8h0M373.7 194.6h0M377.6 197.7h0M377.8 185.9h0M373.8 194.6h0M371.8 198.5h0M371.9 196.5h0M375 192.9h0M375.8 195h0M372.4 198.7h0M373.3 198.1h0M378.4 198.1h0M377 195h0M376.8 195.7h0M373.5 197.9h0M377.4 196.1h0M378.9 194.7h0M378.8 189.6h0M373.7 185h0M379 195.2h0M373.8 195.2h0M373.3 196.9h0M373.9 196.2h0M372.5 196.5h0M377.9 196.8h0M376.5 197.9h0M372.3 185.4h0M377.3 191.9h0M377.1 195.4h0M375.5 175.3h0M375.9 196.1h0" stroke="#ff0000" stroke-opacity="0.5" stroke-width="2.6" stroke-linecap="round"/>
<path d="M378.6 194.4h0M374.5 185.1h0M373.6 190.7h0M372.8 197.4h0M373.4 185.3h0M376.8 198h0M372.8 198.9h0M378.4 189.1h0M373.7 196.2h0M371.7 193.2h0M374.8 198.4h0M375.1 194.8h0M371.8 193.4h0M379 192.5h0M376.6 196.4h0M373.9 197.8h0M376 189.5h0M378.4 197.6h0M376 175.4h0M372.5 193.5h0M372.8 193.4h0M377 197.5h0M373.9 199h0M376.9 160.4h0M374.9 185.6h0M376.4 198.2h0M376.5 197.3h0M378.1 197.4h0M378.8 193.4h0M376.9 172.6h0M372.6 196.6h0M375.2 198.1h0M374.7 197.7h0M375.4 191.7h0M378.8 197.5h0M374.6 187h0M373.8 195.7h0M376.7 194.7h0M374.3 197.2h0M378.1 190.1h0M374.9 185.2h0M371.7 194.8h0M372.7 194h0M374 197h0M375.7 180.2h0M376.8 198h0M374.3 196.1h0M375.5 197.1h0M374.2 196.7h0M372.2 196.6h0M377.4 198.6h0M377.5 198.5h0M376.2 196.3h0M373 196.4h0M376.4 186.1h0M375.1 190.9h0M378.7 197.7h0M372.9 196.6h0M372.7 192.7h0M376.1 198.2h0M376.9 173.5h0M374.8 138.5h0" stroke="#ff0000" stroke-opacity="0.5" stroke-width="2.6" stroke-linecap="round"/>
<path d="M375.3 192.8V184.7M375.3 197.4V199.1" stroke="#ff0000" stroke-width="0.8"/>
<rect x="371.3" y="192.8" width="8" height="4.6" fill="#fff" fill-opacity="0.45" stroke="#ff0000" stroke-width="0.9"/>
<path d="M371.3 195.8H379.3" stroke="#ff0000" stroke-width="1.6"/>
<path d="M384.9 192.3h0M385.8 186.3h0M387.8 198h0M383.4 194.9h0M388.2 194.3h0M383.3 191h0M384.9 195.7h0M387.4 196.6h0M386.5 188.8h0" stroke="#0000ff" stroke-opacity="0.5" stroke-width="2.6" stroke-linecap="round"/>
<path d="M383.7 193.9h0M388.4 197.9h0M383.2 188.8h0M389.4 198.9h0M387 197.5h0M382.5 199h0M388.3 198h0M388.4 191h0M389.3 187.8h0" stroke="#0000ff" stroke-opacity="0.5" stroke-width="2.6" stroke-linecap="round"/>
<path d="M385.6 184.1h0M383 194.9h0M386.2 197.9h0M384.4 188.5h0M387.8 188.3h0M385 186.5h0M386.3 191.9h0M385.1 183.9h0" stroke="#0000ff" stroke-opacity="0.5" stroke-width="2.6" stroke-linecap="round"/>
<path d="M383 197.7h0M388.8 199h0M386.1 186.5h0M384 184.6h0M388.2 191.1h0M384.4 195.6h0M384.8 198.7h0M384.2 191.2h0" stroke="#0000ff" stroke-opacity="0.5" stroke-width="2.6" stroke-linecap="round"/>
<path d="M385.5 193.1h0M388.8 198.5h0M383.8 189.3h0M386.7 188.4h0M388.1 197.4h0M386.2 189.6h0M386 197.5h0M382.7 197.2h0" stroke="#0000ff" stroke-opacity="0.5" stroke-width="2.6" stroke-linecap="round"/>
<path d="M382.7 194.8h0M388.9 186.4h0M383.6 191.3h0M384.2 189.4h0M385 186.8h0M382.5 192.3h0M383.2 198.6h0M388 197.8h0" stroke="#0000ff" stroke-opacity="0.5" stroke-width="2.6" stroke-linecap="round"/>
<path d="M385.8 189.1V184.7M385.8 197.2V199.1" stroke="#0000ff" stroke-width="0.8"/>
<rect x="381.8" y="189.1" width="8" height="8.1" fill="#fff" fill-opacity="0.45" stroke="#0000ff" stroke-width="0.9"/>
<path d="M381.8 192.4H389.8" stroke="#0000ff" stroke-width="1.6"/>
<path d="M395.5 198.5h0M397.3 182.5h0M394.2 185.8h0M393.5 181.5h0M396.4 194.1h0M393.3 177.8h0M399.3 198.2h0M399 193.1h0M394 191.2h0M398.2 191.6h0M397.9 175.1h0M394.1 150.3h0M394.1 186h0M398.6 161.8h0M393.4 191.9h0M393.8 164.6h0M398.7 197.8h0M398.3 173h0M396.1 188.8h0M397.7 165.5h0M395.8 196.5h0M397.1 184.8h0M398.3 198.5h0M396.1 179.8h0M396.9 175.8h0M393 189.4h0M393.4 195.9h0M397.2 174.6h0M395.9 195.2h0M399.7 198.6h0M399.4 195.4h0M396.8 194.1h0M397.8 194.6h0M393.6 180.5h0M394.6 185.4h0M399.2 194.7h0M398.1 160.9h0M399.7 171.6h0M393.3 192.1h0M394.8 185.2h0M398.8 183.8h0M396.5 197.1h0M393.7 173.1h0M397.1 183.2h0M393.4 179.7h0M395 166.3h0M397 198.1h0M395.8 193.6h0M397 185.2h0M393 188.5h0M397.3 196.6h0M394.6 197.8h0M394.6 194.6h0M394.2 147.2h0M393.6 185.9h0M394.1 165.5h0M399.5 186.5h0M395.1 187.4h0M398 197.5h0M393.2 185.6h0M392.9 163.2h0M398.8 198.9h0M398.9 198.7h0M397.1 194.8h0M395.9 181.9h0M395.6 166.1h0M398.9 193.8h0M396.4 175h0M398 174.5h0M396.7 196h0M397 185.7h0M395.9 143.8h0M399.7 166.1h0M396.1 195.1h0M399.6 176.1h0M398.2 172h0M397.9 142.2h0M397.1 166.9h0M393.4 176.4h0M399.3 180.5h0M398.2 155.1h0M393.8 198.5h0M392.6 184.2h0M393.1 193.7h0M397.7 172.7h0M392.8 197.5h0M399.1 115.4h0" stroke="#ff0000" stroke-opacity="0.5" stroke-width="2.6" stroke-linecap="round"/>
<path d="M399.8 159.1h0M399.4 148.3h0M395.5 186h0M393.8 198.2h0M394.4 198.2h0M393.8 196.5h0M395.2 185.7h0M398.6 178.7h0M397.6 198.3h0M396.8 192h0M396.6 180h0M393.3 196.7h0M397.6 189.2h0M399 194.8h0M396.3 173.9h0M398 187.3h0M394.7 171.2h0M396.8 186h0M399.8 145.9h0M394.3 143.1h0M393.1 197.6h0M399.2 183.1h0M394.7 161.6h0M394.7 178.6h0M395.9 192.4h0M395.4 198.7h0M396.6 159h0M399.9 156.6h0M397.5 192.3h0M392.6 196.7h0M395.3 174.5h0M393.8 197.6h0M397.6 190.3h0M396.5 195.1h0M399.1 197.2h0M399.3 187h0M399.9 176.3h0M398.8 153.2h0M393.4 176.8h0M399.8 177.6h0M399.4 167h0M397.2 198.8h0M395.8 165.5h0M399.7 181.2h0M394 193.4h0M396.6 179.1h0M399 198.3h0M399.2 181.2h0M393.9 194.3h0M393.5 176.3h0M399.3 187.5h0M396.2 187.9h0M397 184.4h0M393.1 197.9h0M396.8 176.2h0M399.1 194.4h0M398.4 189.1h0M393.4 164.7h0M393.2 180.6h0M395 194.7h0M395.8 193.4h0M399.3 175.6h0M398.2 179h0M399.2 159h0M393 198.7h0M398.3 196.7h0M399.3 188.8h0M394.5 198.5h0M397.3 190h0M397.3 178.6h0M399.6 194.9h0M395.2 197.3h0M396.1 173.5h0M399.1 173.1h0M395.8 172.5h0M397.9 196.8h0M399.1 193.4h0M397.9 198.5h0M396.3 176.6h0M399.4 192.2h0M394.8 184.4h0M395.9 177.8h0M393.7 191.9h0M397.1 191.4h0M396.5 195.5h0M395.1 158.4h0M397.5 122.4h0" stroke="#ff0000" stroke-opacity="0.5" stroke-width="2.6" stroke-linecap="round"/>
<path d="M396.6 198.4h0M394.3 177.6h0M395.7 198.2h0M393.3 194.4h0M393.9 194.5h0M393.8 137h0M393.4 185.6h0M398.9 151.6h0M393.4 199h0M396 174.1h0M399.8 197.7h0M394.9 175.9h0M398.2 141.7h0M393.2 155.5h0M398 184.2h0M396.9 174.1h0M399.2 179.2h0M399.1 148.7h0M396.6 192.6h0M398.6 157h0M395.9 190.3h0M392.9 172.7h0M396.9 197.1h0M398.9 153.3h0M395.8 182.4h0M397.2 189.9h0M396.2 180h0M392.5 183.8h0M398.5 189.4h0M393.6 185.4h0M395.4 186.3h0M399.8 192.5h0M398 194.9h0M395.5 192.9h0M397 188h0M394.3 198.4h0M397.7 197h0M399 152.1h0M398.3 194.8h0M393.4 187.5h0M396.2 195.6h0M394.9 191.6h0M394 185.1h0M395.6 185h0M396.6 199h0M395.9 179.3h0M396.6 186.4h0M398 186.2h0M393 194.6h0M396.9 179.1h0M396.8 180h0M394 190.6h0M398.6 163.1h0M398 162.6h0M396.6 144.9h0M393.6 192.5h0M398 185.9h0M398.9 172.5h0M394.9 156h0M398 160.4h0M395.9 140.3h0M399.1 195.1h0M396.9 183.5h0M399.2 191.7h0M399.5 186.7h0M395.9 198.7h0M399.1 144.6h0M395.6 191.9h0M399.7 195h0M399.6 196h0M399.7 160.3h0M392.7 193h0M395 177.4h0M395 142.4h0M394.9 195.2h0M393.8 185h0M395.6 172.1h0M399.7 197.7h0M393.8 161.5h0M399.7 141.7h0M398.1 190.5h0M394.5 185.4h0M399.4 171.6h0M398.1 146.9h0M395.7 193.3h0M396.6 188.4h0" stroke="#ff0000" stroke-opacity="0.5" stroke-width="2.6" stroke-linecap="round"/>
<path d="M398.9 148.1h0M398.7 195h0M393.4 184h0M399.2 189h0M399.1 174.7h0M395.7 184h0M397.5 179.5h0M397.8 149.8h0M394.5 194.2h0M399.1 176.1h0M394.6 188.4h0M397.6 191.3h0M397.6 162.6h0M395.8 183.6h0M399.9 188.7h0M394.9 196.2h0M393 192.6h0M397.9 148.6h0M399.8 146.3h0M394.3 176.1h0M393 168.6h0M399.1 193.5h0M394.6 181.6h0M395.9 198.7h0M393.1 196.2h0M399 181.1h0M397.3 181.2h0M395.2 183.5h0M393.4 185.8h0M394.9 154.5h0M396.7 179.6h0M392.9 190.4h0M398.9 195.4h0M398.6 163.5h0M398.2 184.4h0M396 179.8h0M398.4 192h0M396.3 142.3h0M397.2 195.6h0M395.7 197.2h0M398.9 195.6h0M393.5 148.7h0M397.9 198.2h0M394.2 173.5h0M398.8 195.5h0M396.4 197.9h0M399.2 168.7h0M398.2 162.7h0M394 180.7h0M395.2 195.9h0M397.2 190h0M396.1 188.7h0M393.4 197.3h0M398.3 198.1h0M396.4 179.1h0M394.1 194.3h0M396.1 177.3h0M393.3 182h0M399.2 193.4h0M394.2 173.5h0M393.7 195.2h0M394.7 193.6h0M393.2 193.2h0M398.5 140.1h0M394.7 189.8h0M398.5 175.4h0M398.3 185h0M393.4 184.7h0M397 198h0M398.3 166.3h0M398.7 172.5h0M398.9 138.7h0M394.6 195.6h0M394.8 195h0M398.3 189.1h0M399.7 170h0M395 197.2h0M394 177.1h0M393.3 193.8h0M393.4 148.6h0M397.1 196.5h0M398.4 186.7h0M394.7 142.8h0M394.7 186.7h0M394.3 161.5h0M393.5 186h0" stroke="#ff0000" stroke-opacity="0.5" stroke-width="2.6" stroke-linecap="round"/>
<path d="M397.3 172.8h0M396.5 183.1h0M398.7 196.2h0M398.9 194.8h0M395.1 188.4h0M394 176h0M397.5 168h0M396.1 181.3h0M396.4 183.1h0M397 174.2h0M395.6 189.8h0M393.9 194h0M399.1 166.4h0M394.5 194.4h0M393.6 142.2h0M395.5 161.8h0M398.1 182.7h0M397.8 198.3h0M398 190.1h0M394.4 166.5h0M399.7 193.7h0M398.6 147.5h0M393.2 163.3h0M396.6 193.9h0M394 163.9h0M394.7 196.4h0M399.7 178.9h0M394 191.1h0M395.6 178.8h0M395.9 181.4h0M398.6 137.4h0M393.8 180.2h0M393.2 160.6h0M399.1 176h0M399.5 184h0M397 181.9h0M398.3 173.1h0M399.4 178.5h0M397 141h0M396.8 196.1h0M396.7 198.2h0M394.6 140.4h0M392.7 191.6h0M394.3 189.7h0M396.6 177.5h0M393.6 172.6h0M398.3 163.7h0M392.6 187.5h0M394.5 195.1h0M394.8 188.5h0M399 164.2h0M393.5 189.2h0M399.4 177.6h0M394.9 173.3h0M395.1 192.6h0M398.7 173.7h0M397.3 178.9h0M399.5 188.1h0M395.6 189.7h0M392.8 140.3h0M392.7 181h0M393.8 162h0M396.8 198.1h0M394.9 198.7h0M395.4 139.1h0M392.6 190.3h0M397 151.5h0M393.5 190.1h0M395 187.5h0M396.8 185.8h0M398.7 194.6h0M398.2 198.9h0M399.8 196.1h0M397.1 193.6h0M397.5 142.6h0M397 193.9h0M399.8 175.5h0M394.1 188.2h0M399.7 186.5h0M392.8 154.8h0M395.9 197.6h0M397 190.2h0M398.1 193.7h0M399.3 182.5h0M395.9 179.1h0M398.2 188.1h0" stroke="#ff0000" stroke-opacity="0.5" stroke-width="2.6" stroke-linecap="round"/>
<path d="M396.4 175h0M396.2 196.2h0M397.1 156.4h0M398.7 180.1h0M395 172.7h0M399.6 193h0M399.7 175.8h0M393.2 177.7h0M395.5 198.4h0M398.2 195.4h0M396.3 190h0M399.5 168.5h0M397.1 199h0M398.6 190.1h0M399.2 191.4h0M392.8 168h0M396 185.2h0M394.5 184.1h0M394.9 189.4h0M399.5 178.3h0M392.7 182.7h0M395.8 182.9h0M396.2 162.6h0M399.6 198.5h0M399.6 196.5h0M393.9 197.9h0M396.2 149.2h0M393.8 166.2h0M394.9 181.3h0M399.7 156.4h0M394.9 183.2h0M394.1 190.7h0M399.6 183.9h0M398.6 195.8h0M394.7 174.7h0M394.3 186.4h0M397.4 162.5h0M394.1 177.5h0M394.9 195.5h0M395.8 188.7h0M395.4 175.9h0M393 140.2h0M393.6 175.8h0M394.6 186.5h0M394.1 197.8h0M393.8 180.6h0M398.8 142.3h0M396.3 178.7h0M395.6 192.8h0M395.4 187.5h0M394.7 141h0M399.4 159.2h0M397 188.8h0M397.9 189.7h0M397 147.9h0M393 171.9h0M397.9 181.9h0M395 188.2h0M395.8 154.7h0M393.7 183.2h0M392.8 184.7h0M392.5 193.2h0M396 198.8h0M392.8 195.3h0M397.7 150h0M397.3 160.7h0M398.7 184.1h0M395.7 142h0M392.6 177.9h0M394.3 195.7h0M396.5 176.6h0M395.6 170.7h0M398.6 171.6h0M396.3 189.2h0M398.6 190.9h0M394.9 197.4h0M397.8 190.6h0M398.9 163.1h0M396.7 194.5h0M393.7 189.5h0M398.4 155.7h0M397.8 176h0M393.8 171.5h0M394.2 181.4h0M398.3 196.4h0M397.2 110.8h0" stroke="#ff0000" stroke-opacity="0.5" stroke-width="2.6" stroke-linecap="round"/>
<path d="M396.2 172.3V143.2M396.2 193.1V199.1" stroke="#ff0000" stroke-width="0.8"/>
<rect x="392.2" y="172.3" width="8" height="20.8" fill="#fff" fill-opacity="0.45" stroke="#ff0000" stroke-width="0.9"/>
<path d="M392.2 183.6H400.2" stroke="#ff0000" stroke-width="1.6"/>
<path d="M406.7 179.4h0M406.1 157.2h0M407.8 160h0M409.6 161.4h0M408.5 167h0M403.3 198h0M407.6 179.7h0M404.3 182.1h0M410.3 197.7h0M408.8 149.3h0" stroke="#0000ff" stroke-opacity="0.5" stroke-width="2.6" stroke-linecap="round"/>
<path d="M404.8 181h0M407.6 172.1h0M404.5 181.3h0M406 170.2h0M404.5 196.9h0M404.3 169.1h0M410.1 198.5h0M404.9 169.1h0M406.8 190.6h0M409.2 179h0" stroke="#0000ff" stroke-opacity="0.5" stroke-width="2.6" stroke-linecap="round"/>
<path d="M409.9 179h0M405.4 176h0M404.3 180.1h0M405.4 175.1h0M409.8 188.2h0M404.8 169.8h0M404.5 182.4h0M408.9 176.1h0M410.1 195.5h0M405.1 172.2h0" stroke="#0000ff" stroke-opacity="0.5" stroke-width="2.6" stroke-linecap="round"/>
<path d="M404.1 179.5h0M408.2 197.3h0M403.9 193.7h0M406.4 177.3h0M405 179.6h0M409.9 171.6h0M408.1 181.9h0M408 171h0M406 197.5h0M404.2 198.9h0" stroke="#0000ff" stroke-opacity="0.5" stroke-width="2.6" stroke-linecap="round"/>
<path d="M403.6 172.7h0M405.8 198.5h0M410.3 148.8h0M403.1 170.9h0M407.8 178.6h0M406.8 190.6h0M407.9 191h0M407 174.3h0M409.2 183.7h0M410.3 179.9h0" stroke="#0000ff" stroke-opacity="0.5" stroke-width="2.6" stroke-linecap="round"/>
<path d="M404.3 173.5h0M408.6 167.2h0M406.3 176.4h0M404.7 190.3h0M404.9 188.1h0M406.5 174.2h0M408.2 184.4h0M406.6 180.7h0M403.3 179.6h0M404.3 144.3h0" stroke="#0000ff" stroke-opacity="0.5" stroke-width="2.6" stroke-linecap="round"/>
<path d="M406.6 169V150.1M406.6 182.7V199.1" stroke="#0000ff" stroke-width="0.8"/>
<rect x="402.6" y="169" width="8" height="13.6" fill="#fff" fill-opacity="0.45" stroke="#0000ff" stroke-width="0.9"/>
<path d="M402.6 177.8H410.6" stroke="#0000ff" stroke-width="1.6"/>
<path d="M417.6 188.2h0M419.7 169.9h0M416.4 179h0M416.4 141h0M414.2 177.6h0M417.4 197h0M418 185.2h0M417.2 192.8h0M413.8 148.1h0M417.2 176h0M416.9 192.1h0M418.8 187.8h0M414.8 191.3h0M418 162h0M414.9 135.8h0M413.7 197.1h0M414.9 192.1h0M416 161.5h0M416 192h0M413.9 165h0M420.6 165.6h0M420.6 188.8h0M418.9 198h0M416.2 162.3h0M415 196h0M414.5 190.5h0M414 178.7h0M416.5 194.6h0M414 186.5h0M417.8 167.4h0M415.3 183.8h0M418.3 188.3h0M414.1 194.2h0M420.4 185h0M418.4 182.7h0M414.4 186h0M415.2 194.2h0M419.2 188.3h0M414 176.4h0M415.4 183.1h0M414.9 189.8h0M417.1 189h0M417.3 195.2h0M418.9 184.1h0M413.4 184.7h0M420.4 193.1h0M413.6 197.1h0M417.1 189.7h0M417.2 191.6h0M420.4 181.1h0M414.9 183.2h0M414.8 178.1h0M416.3 177h0M414 180.9h0M415.2 165.7h0M415.1 197.2h0M415.7 190.9h0M414.7 178.2h0M415 177.9h0M416.3 189.8h0M420.6 179.7h0M413.8 198.9h0M415.1 195.1h0M416 165.5h0M414.8 193h0M415.1 162.8h0M414.6 188.7h0M414.9 138h0M413.4 184.7h0M414.4 146.7h0M418.4 191.6h0M418.4 178.7h0M414.1 195.8h0M415.2 192.9h0M417 163.2h0M418.2 174.1h0M419.7 168.1h0M420.4 190.2h0M419.5 190.9h0M413.7 159.4h0M418.2 180.8h0M413.5 178.6h0M420.4 182.3h0M418.3 167.6h0" stroke="#ff0000" stroke-opacity="0.5" stroke-width="2.6" stroke-linecap="round"/>
<path d="M413.9 187.4h0M414.1 163.8h0M418.2 171.4h0M418.3 172.6h0M417.7 147.4h0M420.2 173.3h0M414.5 187.8h0M413.5 183.6h0M419.8 196.2h0M419.9 172.7h0M414.6 156.5h0M416.7 184.3h0M418.6 171.2h0M416.3 180.9h0M418.5 193.2h0M418.1 181h0M420.5 190h0M419.8 197.1h0M415.7 188.5h0M414.6 184h0M420.4 196.4h0M416.2 179.5h0M418.1 176.1h0M418 187.4h0M416.7 193.2h0M416.3 186.2h0M419.5 198.9h0M414.8 169.9h0M415.5 195.7h0M414.4 138.1h0M415.7 184h0M419 194.4h0M420.7 191.1h0M419.7 186.7h0M415.3 194.5h0M415.5 190.3h0M419.2 192.5h0M418.3 198.2h0M420.7 179.5h0M420.2 192.9h0M419.6 188.3h0M420.1 162.6h0M417.6 184.5h0M415.9 174.4h0M415 190.6h0M414.6 158.9h0M418 198.1h0M420.7 187.4h0M416.3 190h0M419.8 191.3h0M418.4 140.8h0M416.5 144.9h0M413.8 192.5h0M416.2 183.5h0M413.4 197.1h0M420 190.2h0M413.7 165.2h0M420.6 197.3h0M417.5 197.2h0M418.4 198.1h0M418.5 162.2h0M419.8 141.7h0M420.7 194.7h0M416.5 166.2h0M414.7 169.6h0M416.7 198.3h0M419.7 195.3h0M416.8 171.2h0M419.6 187.6h0M420.1 190.5h0M416.9 197.6h0M413.9 165h0M419.8 143.8h0M417.8 192.4h0M414.5 184.2h0M417.1 193.1h0M418.7 172.5h0M418.4 179h0M419.9 194.4h0M416.2 191.4h0M415.3 180.4h0M415.4 192.6h0M420.1 172.4h0M415.1 190.9h0" stroke="#ff0000" stroke-opacity="0.5" stroke-width="2.6" stroke-linecap="round"/>
<path d="M416 188.3h0M414 190.6h0M419.1 190.1h0M417.2 178.9h0M416 183.4h0M413.8 183.1h0M414.2 150.3h0M417.5 170.9h0M420.2 179.6h0M416.8 173.6h0M418.3 178.6h0M415.9 188.7h0M418.2 166.9h0M418.8 166h0M420.6 193.6h0M418.9 179.4h0M420.3 187.4h0M416.2 190.9h0M413.7 151.7h0M413.7 190.6h0M419.9 153.6h0M420.5 184.4h0M414.5 158.6h0M414.1 185.9h0M418.6 175.8h0M418.1 185.7h0M416 196.1h0M415.1 196.3h0M417.1 193.9h0M420.4 168.8h0M413.9 183.2h0M418.2 182.6h0M414.4 197.7h0M417 157.2h0M416.8 188.1h0M414.3 190h0M417.6 162.2h0M420.3 185.4h0M417.8 166.9h0M416.4 194.8h0M420.7 189.3h0M420.6 189.5h0M414.7 175.2h0M417.1 177.6h0M414.4 190.7h0M419.9 161.1h0M418.1 182.6h0M420.4 193.2h0M414 162.6h0M419.8 178.7h0M420.7 145h0M416.1 193.4h0M419.3 193.6h0M416.5 189.2h0M414 161.1h0M418.6 178.5h0M419.7 164.1h0M420.7 195.1h0M416.5 142.3h0M420.7 183.8h0M420.7 195.8h0M417.9 183.6h0M420 198.7h0M416.9 194.7h0M418.7 140.8h0M417.8 186.7h0M416.1 190.2h0M418.2 190.1h0M416.7 182.8h0M416.3 192.2h0M414.7 184.5h0M417.8 192.1h0M416.9 195.5h0M416.1 198.3h0M419.3 181.2h0M418.5 182.6h0M417.5 185.1h0M416.4 196.4h0M419.6 196.1h0M415.8 137.1h0M416 187.5h0M416.4 190.2h0M416.7 184.2h0M418.8 190.2h0" stroke="#ff0000" stroke-opacity="0.5" stroke-width="2.6" stroke-linecap="round"/>
<path d="M414.3 186.3h0M416.9 192.4h0M418.3 186.5h0M413.8 196.3h0M415.5 176.5h0M413.4 191.9h0M418.1 176h0M413.8 186.8h0M416.1 198.6h0M415.3 186.1h0M420.3 198.7h0M416.8 145.3h0M418.4 190.9h0M419.3 195.5h0M418 194h0M414.9 186.5h0M414 194.6h0M420.4 189.1h0M418.1 177h0M418.6 194.7h0M415.9 188.2h0M419.6 193.3h0M419.1 189.8h0M414.2 175h0M419.7 195.1h0M416.8 189.9h0M414.3 143h0M416.9 140h0M419.4 145.5h0M413.9 193.4h0M418.2 199h0M418.6 198h0M413.5 196.7h0M419.3 195.7h0M416.5 161.1h0M415.5 182.1h0M416 162.8h0M414.3 184.4h0M414.9 191h0M418.9 189.6h0M414.9 181h0M414 182h0M415.8 190.4h0M419.9 195.5h0M419.6 146.1h0M413.4 181h0M419.5 152.9h0M414.9 179.7h0M419 197h0M420.2 191.1h0M414 183.8h0M413.9 177.4h0M413.8 194.1h0M414 173.3h0M415.4 197.4h0M413.9 183.4h0M417.6 166.2h0M418.8 188.1h0M414.8 189.4h0M418 173.1h0M420.6 183.6h0M415.1 179.7h0M417.2 198h0M413.7 154.6h0M414.3 191.4h0M419.6 174.8h0M418.6 188.1h0M414.7 183.1h0M416.8 187.7h0M418.2 164.7h0M417.7 165.1h0M419.7 184.3h0M415 176.9h0M419.1 184.7h0M414.3 197.5h0M416.2 175.7h0M418.2 180.1h0M414.5 198.6h0M417.1 192.6h0M417.3 181.5h0M417.4 184.1h0M413.9 178h0M416.8 186.6h0M414.6 78.5h0" stroke="#ff0000" stroke-opacity="0.5" stroke-width="2.6" stroke-linecap="round"/>
<path d="M417.5 179.1h0M417.6 151.5h0M416.3 198.2h0M417.8 183.4h0M415.7 166h0M419.5 180.8h0M419.4 162.3h0M414.1 194.4h0M415.4 181.5h0M416.3 187.9h0M419.4 190.5h0M416.7 183.7h0M418.2 182.5h0M419.2 196.6h0M419.7 194.2h0M418.1 195.3h0M420.7 190.6h0M416.3 135.6h0M417.5 195.6h0M415.4 162.8h0M414.3 185.3h0M416.2 184.4h0M419.2 138.1h0M415.5 186.5h0M417.3 187.4h0M419 195.8h0M418.6 192.3h0M419.6 192.9h0M414.1 180.6h0M419.1 177h0M420 179.2h0M416 162.8h0M419.3 191.5h0M415.7 190h0M415.3 189h0M415.3 175.8h0M414 143.8h0M419.4 187.5h0M419.1 184.3h0M418.5 191.5h0M416.8 190.8h0M419.8 180.5h0M416.2 189.6h0M418 170.1h0M417.5 188.4h0M418.4 197h0M418.6 191.3h0M414.7 188.4h0M414.7 165.3h0M414 186.5h0M419.6 198.6h0M414.5 160.7h0M415.2 193.8h0M415.4 179.4h0M415.4 195.9h0M420.5 194.9h0M415.2 154.8h0M413.8 191.5h0M418.9 195.8h0M418.5 172.5h0M419.4 171.4h0M418.8 191.9h0M415.2 163.5h0M418 186h0M415.1 194.6h0M415.9 190.2h0M418.3 175.4h0M420.2 187.4h0M419.6 179.2h0M413.6 191.5h0M419.3 164.8h0M415.3 185.4h0M414 164.6h0M418.4 180.5h0M416.5 191.8h0M416.3 141.4h0M420.6 180.3h0M416.7 192.6h0M418.3 177.4h0M417.5 195.6h0M413.7 183h0M419.2 172.9h0M420.1 194.5h0M416 115.4h0" stroke="#ff0000" stroke-opacity="0.5" stroke-width="2.6" stroke-linecap="round"/>
<path d="M420 183.6h0M420.1 146h0M419.4 193.5h0M416.5 195.4h0M413.4 183.9h0M414.8 195.8h0M416.2 176.9h0M418.2 180.4h0M414.1 180.8h0M419.8 194.9h0M413.8 145.3h0M414.1 189.7h0M415.1 197.9h0M417.5 177h0M416.7 185.9h0M416.1 182.5h0M419.5 174h0M414.1 192.3h0M419.9 175.3h0M418.2 191.3h0M419.1 190.8h0M420.3 174.9h0M419.2 194.6h0M416.7 198.6h0M419.3 182.8h0M419.1 180.6h0M414.5 161.7h0M413.4 197.5h0M413.8 187h0M420 175.1h0M419.9 176.1h0M414.6 154.7h0M416.6 190.8h0M415.3 184.7h0M414 194h0M418.6 181.9h0M415 188.2h0M416 179.6h0M417.9 188.7h0M414.8 187.8h0M419.2 190.2h0M414.4 195.3h0M420.2 161.6h0M414.5 179.2h0M413.6 180.6h0M420.4 143.6h0M420.7 188.6h0M418.2 189.5h0M419.7 181.3h0M420 173h0M418.8 194.3h0M417.8 189.3h0M418.3 193.1h0M420.4 195h0M420.2 189.6h0M417.1 188.5h0M418 190.8h0M415.1 173.4h0M413.8 195.9h0M416.2 172.8h0M415.2 192.2h0M416 182.1h0M414.6 178.7h0M413.7 171.1h0M415.9 196.9h0M417.2 177.9h0M417.5 172h0M419.6 162.8h0M415.6 175.6h0M413.8 192.9h0M415.8 192.3h0M415.5 187.3h0M418 177.5h0M419.4 163.4h0M420.2 196.5h0M413.6 144.9h0M419.2 192.6h0M414.8 188.3h0M418.8 188.8h0M415.6 142.3h0M419.3 168.4h0M418.3 189.8h0M419.4 171.9h0M416.5 122.4h0" stroke="#ff0000" stroke-opacity="0.5" stroke-width="2.6" stroke-linecap="round"/>
<path d="M417 175.5V145.5M417 192.4V199.1" stroke="#ff0000" stroke-width="0.8"/>
<rect x="413" y="175.5" width="8" height="16.9" fill="#fff" fill-opacity="0.45" stroke="#ff0000" stroke-width="0.9"/>
<path d="M413 185.9H421" stroke="#ff0000" stroke-width="1.6"/>
<path d="M426.4 177.5h0M423.9 156.3h0M427.4 191.8h0M429.8 175.9h0M426.9 191.6h0M428.7 157.5h0M429.7 165.6h0M430.6 186.1h0M429.8 199.1h0" stroke="#0000ff" stroke-opacity="0.5" stroke-width="2.6" stroke-linecap="round"/>
<path d="M428.7 144.9h0M430.8 180.6h0M430.3 151.6h0M430.2 175.3h0M424.8 161.2h0M429.6 178.5h0M430.2 175.7h0M423.8 170.6h0M424.1 190.7h0" stroke="#0000ff" stroke-opacity="0.5" stroke-width="2.6" stroke-linecap="round"/>
<path d="M425.3 146.7h0M430.4 165.6h0M429.3 185.9h0M427.3 182.7h0M427.7 176.9h0M425.4 168.4h0M427.2 172.3h0M429.9 165.3h0M424.8 147.4h0" stroke="#0000ff" stroke-opacity="0.5" stroke-width="2.6" stroke-linecap="round"/>
<path d="M426.6 162.1h0M431.1 188.7h0M428.3 171.2h0M430.1 183.8h0M429.3 195.5h0M428.3 162.1h0M426.4 173.3h0M429.6 157.3h0" stroke="#0000ff" stroke-opacity="0.5" stroke-width="2.6" stroke-linecap="round"/>
<path d="M430.1 147.6h0M427.4 175.8h0M425.9 182.5h0M428.3 188.8h0M424.9 163.1h0M430.1 195.7h0M431.1 178.2h0M430.4 171.9h0" stroke="#0000ff" stroke-opacity="0.5" stroke-width="2.6" stroke-linecap="round"/>
<path d="M427.6 178.5h0M425.8 183.5h0M430.4 157.9h0M425.5 177.4h0M427.7 178h0M425.3 185.4h0M425.5 180.8h0M425.4 157.5h0" stroke="#0000ff" stroke-opacity="0.5" stroke-width="2.6" stroke-linecap="round"/>
<path d="M427.5 164.4V148.7M427.5 182V199.1" stroke="#0000ff" stroke-width="0.8"/>
<rect x="423.5" y="164.4" width="8" height="17.6" fill="#fff" fill-opacity="0.45" stroke="#0000ff" stroke-width="0.9"/>
<path d="M423.5 173.2H431.5" stroke="#0000ff" stroke-width="1.6"/>
<path d="M440.3 196.8h0M438.7 196.6h0M436.9 172.8h0M436 180.1h0M439.6 194.8h0M434.7 185.1h0M436.6 157.7h0M439.5 185.8h0M437.6 192.6h0M440.7 174.9h0M438.6 170.3h0M434.9 175.1h0M435.3 180.5h0M434.7 159.3h0M437.1 187.4h0" stroke="#ff0000" stroke-opacity="0.5" stroke-width="2.6" stroke-linecap="round"/>
<path d="M440 144.2h0M437.9 184.8h0M440.3 195h0M436.9 184.5h0M438.8 166.9h0M440 178.7h0M437.9 197.6h0M435.4 168.3h0M440 195.9h0M441 155.4h0M436.9 172.8h0M440.1 191.7h0M438.7 148.7h0M439.9 171.6h0M436.4 163.2h0" stroke="#ff0000" stroke-opacity="0.5" stroke-width="2.6" stroke-linecap="round"/>
<path d="M435.1 189.8h0M441.5 167.3h0M440.8 198.9h0M437.2 145.8h0M438.5 159.2h0M437.4 198.5h0M437.4 166.9h0M434.7 186.2h0M439.4 160.7h0M437.9 198.1h0M439.1 190.1h0M440.5 159.7h0M436.1 189.9h0M437.2 192.5h0M440.3 191.5h0" stroke="#ff0000" stroke-opacity="0.5" stroke-width="2.6" stroke-linecap="round"/>
<path d="M438.9 194.6h0M435.2 187.5h0M437.3 184.7h0M436.9 196.1h0M440.8 163.2h0M440.9 165.9h0M437.1 186.7h0M436.8 192.6h0M435.3 191.2h0M440.4 145.9h0M436.6 196.7h0M439.6 194.2h0M437.5 170.1h0M438.7 186.7h0" stroke="#ff0000" stroke-opacity="0.5" stroke-width="2.6" stroke-linecap="round"/>
<path d="M440.5 170.1h0M437.2 175.1h0M441 192.2h0M441.1 187h0M440.3 154.6h0M439.9 181.6h0M434.7 197.5h0M439.3 161.4h0M441.2 178.6h0M435.7 192.3h0M436.2 196.3h0M438.9 154.3h0M437.9 196.5h0M440.1 186.2h0" stroke="#ff0000" stroke-opacity="0.5" stroke-width="2.6" stroke-linecap="round"/>
<path d="M435.1 193.2h0M441.5 148.9h0M438.1 191.4h0M441.1 191.6h0M435 171.8h0M438.6 187.8h0M435.7 181.3h0M441.3 173.5h0M435.2 164.6h0M441.3 189.7h0M441 191.6h0M434.9 174.1h0M440.7 179.7h0M434.7 191.5h0" stroke="#ff0000" stroke-opacity="0.5" stroke-width="2.6" stroke-linecap="round"/>
<path d="M437.9 168.3V147.8M437.9 192.4V199.1" stroke="#ff0000" stroke-width="0.8"/>
<rect x="433.9" y="168.3" width="8" height="24" fill="#fff" fill-opacity="0.45" stroke="#ff0000" stroke-width="0.9"/>
<path d="M433.9 185.9H441.9" stroke="#ff0000" stroke-width="1.6"/>
<path d="M444.8 198.6h0M450 198.4h0M450 190.7h0M445 198.6h0M448.6 198.8h0M448.2 196.2h0M444.7 191.8h0M449.9 184.8h0M446.8 176.6h0M447.9 198.7h0M445.9 186.5h0M451.8 195h0M445.1 196.5h0M450.1 187.7h0M448.2 199h0M445.6 198.9h0M451.9 194.5h0M448.9 150.7h0M450.1 185h0M450.5 195.3h0M447.7 198.9h0M449.7 192.5h0M449.9 197.1h0M445.9 193.6h0M450.6 188.7h0M449.1 195.7h0M445.8 191h0M445.2 196.5h0M445.2 198.5h0M448 194.8h0M445.5 185.4h0M447.8 196.7h0M450.5 195.9h0M446.4 194.3h0M451 193h0M445 198.8h0M448.2 198.6h0M448 198.4h0M447.3 197.2h0M449 194.2h0M448.8 183.5h0M448.7 190.1h0M446.1 185.4h0M445.3 183.2h0M447.4 187.9h0M445 196.2h0M447.6 195.5h0M447.8 195.5h0M447.5 195.4h0M449.9 195.8h0M447.5 181h0" stroke="#ff0000" stroke-opacity="0.5" stroke-width="2.6" stroke-linecap="round"/>
<path d="M451.9 178.4h0M450.9 184.5h0M445.4 177.5h0M449.8 189.7h0M444.7 191.3h0M450.6 198.2h0M450.3 197.9h0M451.8 195.7h0M445.3 198.5h0M446.3 183.1h0M447.5 198.7h0M446.3 181.7h0M445.9 195.5h0M451.4 194.2h0M450.8 185.1h0M449 191h0M450.2 196.4h0M446.3 198.6h0M448.2 176.1h0M447.2 196.3h0M447.8 199h0M445.7 198.7h0M448 181.1h0M450.5 195.8h0M448.6 194.4h0M447.2 198.9h0M446.1 184h0M445.7 185.1h0M451.3 195.1h0M446.3 193.2h0M448.3 198.5h0M450.1 183.3h0M446.2 190h0M450.8 198.4h0M450.2 196.8h0M448.9 189.6h0M450.9 186.3h0M445.3 198.6h0M447.9 181.1h0M446.6 198.7h0M445.7 199h0M448.4 195.3h0M448.6 198.8h0M451 182.7h0M445.3 198.7h0M447.7 189.3h0M450.9 186.7h0M446 198.8h0M447.3 196.6h0M447.1 198.4h0M447.1 190.2h0" stroke="#ff0000" stroke-opacity="0.5" stroke-width="2.6" stroke-linecap="round"/>
<path d="M448.1 189.4h0M446.1 151.5h0M449 191.8h0M446.8 190.6h0M451.5 198.7h0M446.3 189.6h0M447 190.6h0M447.4 195.6h0M450.5 194.4h0M449.5 189.5h0M449.2 193.8h0M447.3 196.1h0M451.9 199h0M449.3 192.2h0M444.7 188.6h0M447.9 197.3h0M444.8 198.4h0M450.3 198.6h0M449.5 182.3h0M448.7 160h0M446.8 190.7h0M449.6 187.2h0M447.4 199h0M448.8 176.5h0M449.2 199h0M450.5 184.3h0M448.4 198.2h0M450.2 193.4h0M447.1 185.4h0M448.5 186.5h0M449.3 198.7h0M445.5 195.3h0M450.7 198.8h0M446.5 198.7h0M450.7 190.4h0M449.4 193.8h0M447.1 191.9h0M444.8 196.4h0M449.7 180.7h0M447 187.5h0M448.9 193.7h0M448 186.6h0M449.2 167h0M445.6 192.8h0M450.1 191.4h0M447.9 191.8h0M447 196.6h0M448.8 198.3h0M447.9 185.8h0M450.7 198.9h0M451 197.8h0" stroke="#ff0000" stroke-opacity="0.5" stroke-width="2.6" stroke-linecap="round"/>
<path d="M447.6 195.2h0M447.6 198.7h0M448.4 194.2h0M444.8 189.3h0M448.6 198.6h0M449.1 190.1h0M451.2 194.2h0M444.8 156.7h0M451.8 194.4h0M451.6 179.7h0M446.8 197.6h0M451.4 177.4h0M450.9 199h0M445.8 198.8h0M447.8 161h0M445.3 198.3h0M448.8 197.7h0M449.9 176h0M452 180.2h0M446.9 199h0M451.5 193.5h0M445.3 191.8h0M445.2 190.7h0M449.5 191.7h0M445.8 198.9h0M447.3 190.9h0M447 193.3h0M445 181.2h0M447.1 198.9h0M451.9 199h0M447.8 198.8h0M449.9 193.5h0M450 193.8h0M444.9 197.8h0M447 190.6h0M445.8 196.5h0M446.9 190.9h0M446 188.6h0M447.3 193.7h0M449.8 190.9h0M445.4 198.5h0M448.1 191.9h0M450 196h0M446.1 194h0M446.8 198.9h0M445.8 198.4h0M445.7 191.3h0M444.8 197.3h0M449.7 194.4h0M449.6 196.7h0M449.5 124.7h0" stroke="#ff0000" stroke-opacity="0.5" stroke-width="2.6" stroke-linecap="round"/>
<path d="M449.2 196.7h0M449.7 190.7h0M445.4 197.6h0M449.2 196.1h0M449.5 198.6h0M445.4 178.6h0M448.6 198.4h0M448.4 187.1h0M448.3 195.4h0M451.4 193.3h0M446.3 198.5h0M448.3 194.4h0M449.6 198.9h0M447.7 196.6h0M446 192.5h0M449.1 198.2h0M446.7 177.1h0M449.4 191.9h0M444.8 198.3h0M444.7 190.2h0M451.3 195.8h0M449.5 192.8h0M447.1 160.7h0M448.6 194.4h0M448.9 191.9h0M448.7 188.9h0M449.7 197h0M447.3 187h0M449 198.4h0M447.1 191.9h0M450.8 190.2h0M446 192.8h0M446.7 176.6h0M451.4 193.8h0M450.4 198.2h0M448.1 177.3h0M447 198.1h0M448.3 198.8h0M449.2 195.4h0M447.5 188.9h0M445.2 194.5h0M444.9 188.4h0M445.4 198.7h0M446.4 175.8h0M445 195.1h0M447.6 155h0M449.7 192.8h0M447.7 198.9h0M446.8 192.8h0M448.2 198.7h0M450.3 143.2h0" stroke="#ff0000" stroke-opacity="0.5" stroke-width="2.6" stroke-linecap="round"/>
<path d="M451.5 189.1h0M451.2 193.3h0M445.5 198.8h0M447 188h0M447 159.8h0M449.4 198.7h0M450.9 198.1h0M447 184.4h0M451.4 197.5h0M446.5 189.9h0M449.9 184.5h0M451 196.1h0M446.1 187.6h0M445.5 198.5h0M446.2 198.2h0M451.5 196.2h0M447.2 192.5h0M451.2 198.2h0M446.3 198.5h0M452 196.9h0M445.5 190h0M445.7 198.1h0M445.4 185.6h0M445.2 187.2h0M444.7 189.7h0M445 190.6h0M447.1 190.8h0M445.7 182.3h0M448.6 190.2h0M445 199h0M449.9 198.7h0M451 190h0M445.3 195.4h0M446.5 198.6h0M446.2 190.4h0M447.8 197.9h0M448.7 198.4h0M451.7 189h0M449.9 195.1h0M447.6 199h0M450.3 174.9h0M450.7 192.4h0M451.7 191.6h0M450.6 198.7h0M449.3 194h0M447.1 189.4h0M448.8 194.6h0M446.1 193h0M445.8 188.7h0M451.8 197.2h0" stroke="#ff0000" stroke-opacity="0.5" stroke-width="2.6" stroke-linecap="round"/>
<path d="M448.3 189.1V175.5M448.3 198.1V199.1" stroke="#ff0000" stroke-width="0.8"/>
<rect x="444.3" y="189.1" width="8" height="9" fill="#fff" fill-opacity="0.45" stroke="#ff0000" stroke-width="0.9"/>
<path d="M444.3 194H452.3" stroke="#ff0000" stroke-width="1.6"/>
<path d="M458.4 193.2h0M457.8 193.9h0M457.9 196.7h0M460.4 170.1h0M457.4 173.3h0M457.1 194.5h0M456.4 164.8h0M455.1 196.5h0M456.6 189.3h0M462.1 186h0M456.2 175h0M459.3 144h0M455.9 194.9h0M455.6 168.3h0M455.5 182.1h0M456.3 189.1h0M460.6 193h0M455.6 193.3h0M462.3 196.6h0M457.1 191.6h0M458.7 175.7h0M459.4 180.7h0M460 196.4h0M458.7 176.6h0M462.3 193.7h0M460.2 189h0M462.4 188.2h0M456.2 177.6h0M455.4 196.6h0M457.2 179.9h0" stroke="#ff0000" stroke-opacity="0.5" stroke-width="2.6" stroke-linecap="round"/>
<path d="M461.5 196h0M455.8 196.4h0M456.5 179.2h0M458.4 171.9h0M461.2 191h0M455.5 192.1h0M459.5 192.7h0M458.3 179.6h0M456.5 182.5h0M462 183.9h0M460.5 180.3h0M460.4 178.5h0M458.5 187.3h0M462.2 149.8h0M458.8 190.9h0M459.3 189.8h0M460.8 196.5h0M455.6 172.4h0M456.9 179.9h0M457.9 194.4h0M457.1 190.5h0M457.1 182.7h0M456.9 166.7h0M455.2 192.2h0M459.8 190.2h0M456.8 187.3h0M457.8 181.5h0M456.7 198.6h0M457.6 190.5h0M457 195.7h0" stroke="#ff0000" stroke-opacity="0.5" stroke-width="2.6" stroke-linecap="round"/>
<path d="M461.6 187.6h0M460.7 191.4h0M459.7 189.1h0M460.3 154.7h0M456.1 182.2h0M456.4 173.9h0M461.4 194.9h0M456.2 179.8h0M457 195.5h0M462.2 171h0M462.2 170.2h0M457.5 193.4h0M456.7 181.2h0M457.5 156.4h0M460.2 147.9h0M462.3 178.7h0M455.4 170.7h0M461.1 178.3h0M459.7 182.9h0M458.1 194.6h0M455.9 185.7h0M462.2 194.2h0M458.2 173.7h0M456.4 162.2h0M458.2 193.4h0M458.9 168.9h0M461.1 194.1h0M461.1 192.3h0M460.6 194.4h0M459.6 198.9h0" stroke="#ff0000" stroke-opacity="0.5" stroke-width="2.6" stroke-linecap="round"/>
<path d="M460.3 195.5h0M461.5 144h0M458.8 162.2h0M456.9 193.1h0M457.8 186.1h0M458.8 180h0M461.1 191.4h0M459.6 190.9h0M461 196.4h0M461.9 193.6h0M461.9 198.3h0M458.9 198.1h0M461.9 197.9h0M462.1 158.7h0M461.5 191.2h0M462.3 168h0M460.9 194.6h0M460 178.5h0M458.4 197.4h0M457.5 149.9h0M459.9 185.3h0M459 194.4h0M458.3 192.2h0M458.1 189.6h0M462 189.7h0M456.2 188.1h0M455.9 192h0M458.3 190.4h0M458.8 191h0M460.9 163.2h0" stroke="#ff0000" stroke-opacity="0.5" stroke-width="2.6" stroke-linecap="round"/>
<path d="M457.3 191h0M455.5 179.3h0M460.9 193h0M460.5 193h0M456.7 177.5h0M456.6 196.4h0M458.3 198.6h0M458.3 189.6h0M455.7 178.9h0M458.8 172.1h0M456.6 171.6h0M462.2 198.4h0M461.1 160.5h0M460.7 189.8h0M461.2 195h0M456.8 192.4h0M455.3 186.3h0M458.9 192.2h0M461.2 190.2h0M459.5 190.9h0M456.9 171.1h0M458.6 196.8h0M455.2 179.8h0M459.2 198.3h0M459.5 181.6h0M460.6 176.7h0M457.1 192.5h0M459.2 187.7h0M460.3 174.6h0" stroke="#ff0000" stroke-opacity="0.5" stroke-width="2.6" stroke-linecap="round"/>
<path d="M455.5 197.8h0M460.1 175.2h0M457.8 194.3h0M458.2 187.7h0M460.4 186.7h0M458.8 146.8h0M459.8 161.2h0M461.7 198h0M462.1 159.1h0M457.6 144.7h0M456.9 189.9h0M462.3 192.9h0M461.8 196.1h0M458.7 198.1h0M462 188.2h0M462.3 190h0M462.3 189h0M455.7 193h0M457.9 179.9h0M457.3 173.5h0M458.2 179.9h0M460.2 151.3h0M460.9 192.4h0M459.8 169h0M461.2 191.9h0M459.2 198.6h0M459.2 195.5h0M461.3 191.1h0M458.9 180.3h0" stroke="#ff0000" stroke-opacity="0.5" stroke-width="2.6" stroke-linecap="round"/>
<path d="M458.7 177.8V157M458.7 194V199.1" stroke="#ff0000" stroke-width="0.8"/>
<rect x="454.7" y="177.8" width="8" height="16.2" fill="#fff" fill-opacity="0.45" stroke="#ff0000" stroke-width="0.9"/>
<path d="M454.7 188.9H462.7" stroke="#ff0000" stroke-width="1.6"/>
<path d="M472.1 171h0" stroke="#0000ff" stroke-opacity="0.5" stroke-width="2.6" stroke-linecap="round"/>
<path d="M468.2 171.3h0" stroke="#0000ff" stroke-opacity="0.5" stroke-width="2.6" stroke-linecap="round"/>
<path d="M468.2 171.7h0" stroke="#0000ff" stroke-opacity="0.5" stroke-width="2.6" stroke-linecap="round"/>
<path d="M467.3 171.3h0" stroke="#0000ff" stroke-opacity="0.5" stroke-width="2.6" stroke-linecap="round"/>
<path d="M466.3 191.7h0" stroke="#0000ff" stroke-opacity="0.5" stroke-width="2.6" stroke-linecap="round"/>
<path d="M469.2 171.3V171.1M469.2 177.1V185.8" stroke="#0000ff" stroke-width="0.8"/>
<rect x="465.2" y="171.3" width="8" height="5.8" fill="#fff" fill-opacity="0.45" stroke="#0000ff" stroke-width="0.9"/>
<path d="M465.2 173.2H473.2" stroke="#0000ff" stroke-width="1.6"/>
<path d="M482.9 194.2h0M479.7 198.9h0M477.8 196.3h0M483.3 191.5h0M479.5 188.3h0M480.6 188.3h0M476.5 197.5h0M481.5 187.8h0M477.4 193.8h0M478.2 194.5h0M480.5 193.4h0M480.4 199h0M479.4 197.4h0M477.6 197.1h0M481.5 187.8h0M476.1 196.3h0M480.3 194.3h0M480.4 198.3h0M476.6 190h0M479.2 194.8h0M479.5 194h0M480.1 194.3h0M482.1 190.8h0M481 198.9h0M483 194.3h0M481 181.6h0M476.3 197.8h0M479.5 196.1h0M481.2 198.4h0M480.8 181.6h0M478 117.7h0" stroke="#ff0000" stroke-opacity="0.5" stroke-width="2.6" stroke-linecap="round"/>
<path d="M478.9 195.1h0M478.4 197.2h0M476.5 198h0M479.4 187.1h0M482.8 197.2h0M477.1 197.7h0M479.6 197.3h0M482.1 194.2h0M481.3 188.6h0M482.2 192.1h0M478.6 191.2h0M478.5 185.7h0M478.6 193.2h0M478.1 196.8h0M477.2 198.1h0M483.1 182.5h0M477.3 195.5h0M476 198.1h0M479.1 198.5h0M480.9 194.2h0M482.4 190.4h0M477 198.7h0M480.5 195.5h0M477.2 197.5h0M476 194.8h0M482.7 192.6h0M479.8 193.4h0M477.1 197.8h0M479.5 190.1h0M475.9 191.6h0M481.8 136.2h0" stroke="#ff0000" stroke-opacity="0.5" stroke-width="2.6" stroke-linecap="round"/>
<path d="M482.7 197.7h0M477 197.3h0M478.5 175.8h0M476 198h0M480.4 189.9h0M479.2 197.5h0M479 187.6h0M482.9 177.3h0M481.8 193.1h0M476.6 195.3h0M478.7 198.6h0M477.3 198h0M482.5 195h0M482.4 191.7h0M476.3 192.5h0M478.8 196.9h0M476.3 196.9h0M482.3 195.1h0M480.7 198h0M481.5 175.9h0M481.3 197h0M476.7 195.2h0M477.6 192.8h0M481.3 192.5h0M479.3 194h0M479.1 198.9h0M477.7 193.6h0M479.2 196.8h0M477.4 196h0M476.8 198.1h0" stroke="#ff0000" stroke-opacity="0.5" stroke-width="2.6" stroke-linecap="round"/>
<path d="M479.5 197.8h0M480.2 191.5h0M482.2 191.8h0M477.2 196.4h0M480.5 193.7h0M480.9 197.8h0M475.9 198.8h0M482.4 198.6h0M477.9 194.9h0M477 197.9h0M483.2 190h0M476.9 198h0M483 193.6h0M482.1 193.3h0M478.2 198.3h0M482.1 195.8h0M481.6 198h0M478.9 198.9h0M481.3 198.1h0M476.6 198.8h0M478.8 198.8h0M478.8 198.3h0M478.8 192.5h0M482.7 195.4h0M481.7 196.6h0M481.3 198h0M476 195.6h0M476.4 198.1h0M476 197.7h0M478.2 191.8h0" stroke="#ff0000" stroke-opacity="0.5" stroke-width="2.6" stroke-linecap="round"/>
<path d="M476.7 194.9h0M483 197.3h0M481.3 198.6h0M480.9 192.5h0M481.6 198.1h0M481.6 190.4h0M482.4 198.9h0M480 197.3h0M478.6 196.5h0M478 188.2h0M477.2 194.9h0M477.3 194.3h0M478.6 190.7h0M480.9 196h0M480.7 191.5h0M479.2 196.1h0M477.7 197.9h0M479 198.4h0M478.4 195.1h0M483.2 197.2h0M476.6 177.7h0M476 197.1h0M478.3 199.1h0M476.5 197.2h0M476 190.5h0M480.5 192.5h0M477 198.9h0M480.9 195.2h0M477.8 198.8h0M481.3 190.3h0" stroke="#ff0000" stroke-opacity="0.5" stroke-width="2.6" stroke-linecap="round"/>
<path d="M479 198.8h0M480.2 198.9h0M478.7 193.7h0M477.6 190.9h0M478.7 193.7h0M481.2 196.9h0M477.2 197.1h0M476.4 196.8h0M480.8 192.5h0M476.9 192.2h0M479.5 192.5h0M478.6 196.2h0M482.6 196.1h0M481.3 193.5h0M480.2 190.2h0M479.7 192.3h0M481.5 189.6h0M479.9 198.3h0M481.6 195.2h0M480 186h0M481.3 189.2h0M481 194.8h0M478.3 186.5h0M476.1 198.8h0M479.2 188h0M477 197.5h0M478.7 197.9h0M479.5 198.6h0M479.6 189.6h0M478.8 115.4h0" stroke="#ff0000" stroke-opacity="0.5" stroke-width="2.6" stroke-linecap="round"/>
<path d="M479.6 192.4V187M479.6 197.9V199.1" stroke="#ff0000" stroke-width="0.8"/>
<rect x="475.6" y="192.4" width="8" height="5.5" fill="#fff" fill-opacity="0.45" stroke="#ff0000" stroke-width="0.9"/>
<path d="M475.6 196.3H483.6" stroke="#ff0000" stroke-width="1.6"/>
<path d="M491.3 198.8h0" stroke="#0000ff" stroke-opacity="0.5" stroke-width="2.6" stroke-linecap="round"/>
<path d="M488.6 198.2h0" stroke="#0000ff" stroke-opacity="0.5" stroke-width="2.6" stroke-linecap="round"/>
<path d="M489.2 197.6h0" stroke="#0000ff" stroke-opacity="0.5" stroke-width="2.6" stroke-linecap="round"/>
<path d="M490 197V196.8M490 197.7V198.7" stroke="#0000ff" stroke-width="0.8"/>
<rect x="486" y="197" width="8" height="0.8" fill="#fff" fill-opacity="0.45" stroke="#0000ff" stroke-width="0.9"/>
<path d="M486 197.4H494" stroke="#0000ff" stroke-width="1.6"/>
<path d="M503.8 194h0M498.2 196.8h0M500.1 184.5h0M502.1 198.8h0M502.5 170.1h0M503.6 191.2h0M500.6 197.8h0M503.7 170.8h0M498.4 195.6h0M499.9 193.8h0M496.9 193.7h0M497.8 197.9h0M497.4 194.3h0M501.4 190.5h0M502.6 198.2h0M502.4 179h0M499.2 186.3h0M503.8 197.2h0M502.7 176.5h0M501.8 190.8h0M496.9 170.6h0M498.2 188.7h0M503.8 168.1h0M500.1 181.5h0M503.7 178.4h0M497.5 190h0M499.1 186.8h0M498.7 191.7h0M500.8 190.8h0M498.4 176.3h0M499.6 188.7h0M499.5 198.9h0M497.7 169h0M500.2 198.9h0M501.4 195.6h0M501.3 165.8h0M497.5 168.7h0M503.4 191.1h0M499.7 182.8h0M498.2 187.9h0M502.4 197.4h0M498.8 175.7h0M502.9 194h0M503.1 197h0M500.2 159.9h0M498.4 199h0M501.3 197.7h0M497.2 183h0M501.6 190.2h0M501.2 182.7h0M501.9 153h0M499.2 169.4h0M499.2 179.5h0M502 189.5h0M502.6 192.5h0M501.4 185.8h0M502.8 184.6h0M497.6 197.4h0M502 178.2h0M497.2 177.8h0M498.1 184.2h0M498.3 171.1h0M502.9 198.7h0M497.3 167.4h0M498.7 196.1h0M497 182h0M500.7 187.3h0M499.2 197.7h0M503.9 171.8h0M502.7 163.5h0M500.6 184.2h0M502.5 197.9h0M500.3 194h0M499 173.6h0M503.7 188.9h0M500.9 195.4h0M502.2 198.9h0M498.9 176h0M497.1 197.8h0M502.6 194h0M498.3 197.4h0M502.7 196.7h0M503.4 198.9h0M500.6 150.1h0" stroke="#ff0000" stroke-opacity="0.5" stroke-width="2.6" stroke-linecap="round"/>
<path d="M503.8 198.1h0M499.7 197.1h0M498.7 180.4h0M502.6 190.9h0M500.5 184.5h0M498.6 172.2h0M499.7 195.8h0M500.3 193.3h0M498.8 192.3h0M504 183.9h0M499.6 188.8h0M501.5 181.2h0M500.6 199h0M503.6 193.6h0M501.4 181.4h0M498.8 153.2h0M501.3 198.7h0M504 179.3h0M497.2 183.6h0M498.5 194.7h0M501 188.2h0M503.8 173.6h0M497.1 180.4h0M497.3 198.1h0M499.8 193.1h0M497.9 188.1h0M501.7 184h0M502.2 192.3h0M499.9 193.6h0M501.6 198.4h0M497.2 184.8h0M498.9 197.8h0M503.7 197.9h0M497.8 176.6h0M497.4 195.4h0M498.1 190.4h0M497.8 191.5h0M500 197h0M498.8 184.4h0M497.8 186.6h0M498.9 193.5h0M501.6 171.2h0M503.4 198.3h0M499.5 187.6h0M503 198h0M498.7 187.6h0M497.4 193.1h0M504 184.5h0M502.8 182.2h0M499.1 198.9h0M497.1 198.6h0M499.4 193.7h0M501 171.3h0M501.1 192.8h0M498.6 198h0M497.3 174h0M502.5 194.7h0M498.7 199h0M501.8 193.9h0M500.3 199h0M500.1 188.7h0M501.9 182.5h0M500.6 170.6h0M503.3 179.6h0M502.6 166.9h0M501.5 194.2h0M504.1 195.9h0M500.1 189h0M503.7 192.7h0M498.7 186h0M497 170.9h0M499.8 197.5h0M502.3 198.6h0M497.7 193.8h0M501.5 163.9h0M500.3 192.8h0M497.8 180h0M502.2 192.9h0M499.6 185.3h0M501.7 190.4h0M501.1 196.3h0M497.8 196h0M497.6 197.8h0" stroke="#ff0000" stroke-opacity="0.5" stroke-width="2.6" stroke-linecap="round"/>
<path d="M502.6 183.1h0M503.3 196.8h0M501.5 194.6h0M501.6 193.5h0M502.5 191.4h0M499.3 189.2h0M501.4 194.3h0M499.3 198.3h0M499 177.5h0M503.2 187.7h0M500.3 195.7h0M498.4 191.7h0M499.7 198.9h0M498.7 196.9h0M502.7 198.2h0M504.1 186.1h0M500.5 193.5h0M499.8 195.6h0M500.7 198.1h0M500.7 187h0M498 167.1h0M500.7 183.4h0M500.4 193h0M497.5 177.2h0M497.5 198.2h0M503.9 178.5h0M497.1 189.3h0M499.4 156.8h0M500.2 193.2h0M504 181h0M500.9 195.8h0M500.8 187h0M499.8 175.6h0M497.3 198.8h0M504 187.5h0M498 175.8h0M497.2 195.2h0M497 193.9h0M502.3 186.4h0M498.2 168.1h0M499 194.6h0M501.8 187h0M498.4 189.2h0M503 198.2h0M500.2 188h0M497.7 185.7h0M501.3 187.1h0M497.8 188h0M498.9 189.3h0M499.9 196.3h0M502.8 197.5h0M501.6 198h0M501.6 196h0M498.1 190.7h0M501.6 192.9h0M496.8 185h0M497.6 197.2h0M502.3 167.9h0M500.8 155.6h0M498.5 177h0M498.9 198.4h0M497.5 194.2h0M503.7 185.8h0M498.9 195.5h0M501.5 155.2h0M500.7 193.9h0M503.8 188h0M497.8 157.9h0M497 194h0M498.1 173.7h0M502.5 196.1h0M499.1 196.8h0M499 195.4h0M499.5 154.6h0M497.3 197.7h0M497.9 190.8h0M496.9 192.7h0M499.1 193.2h0M497.3 179.6h0M498.3 185.7h0M501.8 197.5h0M501.3 197.6h0M501.8 187.7h0" stroke="#ff0000" stroke-opacity="0.5" stroke-width="2.6" stroke-linecap="round"/>
<path d="M497.4 169.4h0M503.3 195.9h0M501.8 191.2h0M497.8 197.8h0M500.2 198.3h0M497.8 185.2h0M497.2 171.5h0M503.8 197.3h0M499.4 192.7h0M497.1 193.2h0M497 162.5h0M499 198.1h0M501.6 192.6h0M499 196.9h0M497.6 189.3h0M502.6 194.8h0M497.5 197.6h0M503.1 181.2h0M497 198.6h0M502.9 196.4h0M501.7 173.4h0M500.6 188.8h0M499.3 187.5h0M497.2 193.5h0M498.2 193.3h0M502.6 197.4h0M502.8 190h0M500.2 195.2h0M499.5 195.9h0M498.1 190.6h0M496.9 196.4h0M502.1 184.5h0M503.8 195.2h0M499.3 167.5h0M498.8 158.2h0M503.3 177.5h0M502.7 193.4h0M501.7 177.7h0M496.8 191.9h0M497.7 184.6h0M499.9 192.6h0M498.4 193h0M499.5 198.9h0M502.4 192h0M501.6 185.4h0M502.3 197h0M503 196.6h0M497 194.1h0M502.4 158.5h0M498.4 186.2h0M500.1 198h0M497.1 184.9h0M499.5 178.4h0M500.9 194.3h0M503.7 181.9h0M501.6 195.5h0M499.3 197.3h0M497.9 193.2h0M504 188.5h0M502.2 192.2h0M503.9 186h0M502 196.3h0M500.4 178.4h0M497.8 192.2h0M498.2 193.2h0M503.2 196h0M504.1 185.8h0M501 193.1h0M499.3 194.7h0M501.8 190.3h0M497.5 198.3h0M500.8 183.4h0M503 169.6h0M498.3 197.3h0M499.7 185.9h0M497.4 176.2h0M501.4 192.9h0M501.4 197.9h0M498.8 196h0M501.8 192.9h0M497.3 160h0M503.8 194.4h0M499.4 198.3h0" stroke="#ff0000" stroke-opacity="0.5" stroke-width="2.6" stroke-linecap="round"/>
<path d="M500.8 189.7h0M502.3 185.1h0M502.5 183.9h0M498.4 195.9h0M498.7 153.4h0M498.2 196.4h0M497.4 183.4h0M503.7 193.8h0M501.9 185.9h0M500.7 197.5h0M500.1 190.1h0M502.5 192.4h0M498.5 189.3h0M502.4 176.6h0M500.2 190.5h0M499.7 193.7h0M498.3 197.6h0M503.9 178.3h0M497.9 184.3h0M500.1 194.7h0M503.1 193.3h0M501.2 153.8h0M500.2 196.7h0M499.2 176.5h0M501.5 196.3h0M503.3 198.6h0M500.1 195.3h0M501.1 197.7h0M503.1 198.3h0M498.5 195.8h0M498.9 198.8h0M503.6 197.3h0M500.2 189.4h0M500 167.9h0M498 185.6h0M498.3 197.8h0M499.9 198.8h0M501.8 197.8h0M502.1 187.1h0M502.9 185.6h0M498.4 197.8h0M498.2 186.9h0M497.1 190.5h0M497.3 184.5h0M501.1 185.5h0M502.7 193.5h0M502.8 192.1h0M498.5 177.9h0M504.1 197.3h0M497.9 197.8h0M501 193h0M497.9 196.1h0M501.3 173h0M503.1 195.2h0M500.4 197.9h0M497.2 199.1h0M500.4 194.9h0M500.5 188.2h0M498.8 172h0M499.8 185.5h0M498.9 188.7h0M503.8 196.6h0M500.4 167.1h0M501.6 192.1h0M498.6 185.4h0M499.6 196.5h0M501.9 165.5h0M498.3 197.8h0M501.2 178.6h0M500.3 188.2h0M498.7 188.2h0M497 175.1h0M499.3 189.8h0M503.4 196.3h0M500.2 179.2h0M497.6 192.7h0M501.6 194.8h0M497.8 162.4h0M499.1 195h0M500.2 168.9h0M501.6 197.7h0M499.8 171.9h0M502.4 193.6h0" stroke="#ff0000" stroke-opacity="0.5" stroke-width="2.6" stroke-linecap="round"/>
<path d="M502.6 191.2h0M498.3 194.4h0M497.1 190.2h0M503.1 184.1h0M499.4 186.3h0M499.5 180.2h0M497 189.9h0M499.3 196.1h0M498.5 189.1h0M498.7 192.3h0M500.2 192.7h0M497.7 196.7h0M497.6 172.4h0M500.4 187.1h0M500.8 194.5h0M503.5 198.9h0M496.8 190.2h0M497.2 197.7h0M503.5 193.1h0M501.6 179.4h0M499.3 194.3h0M502.1 189h0M497.3 192.7h0M501.3 191.7h0M500.9 196.3h0M498.3 196.8h0M498.8 177.1h0M503.3 185.7h0M501.6 187.9h0M501.9 199h0M503.5 194.5h0M498 198.6h0M497.8 193.3h0M502.4 187.4h0M500.2 192.5h0M501 191.9h0M499.3 192.4h0M497 178.8h0M497.6 198.8h0M500.5 166.7h0M503.6 196.7h0M502.6 182.9h0M502.2 187.7h0M503 197.6h0M498.5 198.9h0M502.9 186.5h0M496.8 151.6h0M499.4 166.4h0M500.5 193h0M497.7 194.7h0M502.5 198.8h0M500 171h0M502.6 177.1h0M504.1 198.9h0M503.3 179.3h0M502.3 196.4h0M499.8 192.7h0M497 175.2h0M504 184.6h0M501.6 186.2h0M499.6 176.7h0M502.2 197h0M502.9 181.9h0M503.1 198.7h0M498.3 198.3h0M497.4 198.8h0M497.1 180.3h0M500.4 198.2h0M498.5 195.2h0M497.3 183h0M502.9 198.2h0M501.6 183h0M503.5 184.8h0M496.9 189.9h0M502.5 185.3h0M500.4 193.5h0M501 198.5h0M503.6 195.5h0M499.5 157.6h0M498.1 184.5h0M497.4 179.6h0M499.2 196.6h0M499.4 145.5h0" stroke="#ff0000" stroke-opacity="0.5" stroke-width="2.6" stroke-linecap="round"/>
<path d="M500.4 184.3V166.3M500.4 196.3V199.1" stroke="#ff0000" stroke-width="0.8"/>
<rect x="496.4" y="184.3" width="8" height="12" fill="#fff" fill-opacity="0.45" stroke="#ff0000" stroke-width="0.9"/>
<path d="M496.4 191.4H504.4" stroke="#ff0000" stroke-width="1.6"/>
<path d="M511 188.7h0M512.2 194h0M512.3 183.4h0M508 175.7h0M512.9 192.4h0M509.3 195.1h0M508.6 159.3h0M508.3 180h0M509.8 179.3h0" stroke="#0000ff" stroke-opacity="0.5" stroke-width="2.6" stroke-linecap="round"/>
<path d="M509.3 195.1h0M508.1 174h0M513.9 190.2h0M513.6 191.8h0M512.3 190.9h0M510 195.7h0M510.9 191h0M513.2 191.2h0M511.7 185.2h0" stroke="#0000ff" stroke-opacity="0.5" stroke-width="2.6" stroke-linecap="round"/>
<path d="M514.5 198.8h0M508.6 198.8h0M512.1 185.1h0M509.5 195.6h0M510.4 181.3h0M509.2 191.6h0M512.8 189.2h0M510.7 184.9h0M513.8 197.8h0" stroke="#0000ff" stroke-opacity="0.5" stroke-width="2.6" stroke-linecap="round"/>
<path d="M508.2 157.8h0M507.4 161.1h0M509.1 194.4h0M508.4 180.1h0M510.6 190.6h0M507.8 190.9h0M509 191.9h0M513.1 195.7h0M513.9 196.9h0" stroke="#0000ff" stroke-opacity="0.5" stroke-width="2.6" stroke-linecap="round"/>
<path d="M509.7 195.3h0M512 184.5h0M513.4 174h0M508.7 186.7h0M514.2 168.4h0M512.3 194h0M507.2 198h0M508.8 189.8h0" stroke="#0000ff" stroke-opacity="0.5" stroke-width="2.6" stroke-linecap="round"/>
<path d="M509 185.5h0M512.5 174.3h0M514.4 189.1h0M508.1 195h0M511 184.1h0M513.5 196.8h0M511.5 196.7h0M510.4 189.5h0" stroke="#0000ff" stroke-opacity="0.5" stroke-width="2.6" stroke-linecap="round"/>
<path d="M510.9 181V161.6M510.9 194.7V199.1" stroke="#0000ff" stroke-width="0.8"/>
<rect x="506.9" y="181" width="8" height="13.6" fill="#fff" fill-opacity="0.45" stroke="#0000ff" stroke-width="0.9"/>
<path d="M506.9 188.9H514.9" stroke="#0000ff" stroke-width="1.6"/>
<path d="M520.3 191.7h0M520.6 196.8h0M523.1 194.6h0M518.3 189.1h0M521.1 187.9h0M519.8 197.7h0M523.7 192.2h0M521.2 198.2h0M518.4 192.5h0M522.6 197.8h0M518.7 196.3h0M519 192.6h0M519.3 198.6h0M523.6 182.7h0M524.5 194.7h0M523.3 184.3h0M523.6 193.3h0M523 190.1h0M520.5 198.7h0M520.7 184.2h0M520 198.7h0M523.4 180.5h0M518 192.7h0M518.4 196h0M518.1 198h0M524 198.2h0M519.8 183.5h0M521.9 198h0" stroke="#ff0000" stroke-opacity="0.5" stroke-width="2.6" stroke-linecap="round"/>
<path d="M521.7 194.5h0M520.7 197.4h0M520.2 197.7h0M522.8 190.6h0M523.3 197.4h0M518.4 194.2h0M520.5 189.2h0M521 197.7h0M519.7 195.1h0M522.6 189.7h0M524.4 187.4h0M523.7 189.1h0M520 191.1h0M520.1 189.7h0M519.7 190.7h0M520.5 191.1h0M521.6 197.9h0M523.5 189.9h0M522.3 188.2h0M520.6 194.9h0M525 192.9h0M522.9 194.2h0M524.4 189.8h0M524.6 189.7h0M522.8 197.7h0M521.1 187.2h0M522 197.3h0M521 196.9h0" stroke="#ff0000" stroke-opacity="0.5" stroke-width="2.6" stroke-linecap="round"/>
<path d="M522.7 197.9h0M519.4 190.8h0M518.4 190h0M522.7 182.8h0M524.5 193.1h0M521.6 198.4h0M519.8 188.4h0M521.1 188.1h0M517.7 188.4h0M524.4 182.2h0M520.3 176.5h0M522 198.5h0M518.7 195.6h0M520.2 195.8h0M522.7 190h0M519.7 189.1h0M521.9 197.1h0M520.6 195.2h0M519.8 198h0M517.8 195.9h0M520.8 183.8h0M519.9 185.2h0M519.7 192.7h0M518.7 195.6h0M520.3 187.3h0M519.2 194.8h0M518.6 177h0M518.9 195.4h0" stroke="#ff0000" stroke-opacity="0.5" stroke-width="2.6" stroke-linecap="round"/>
<path d="M522.9 168.1h0M520.8 197h0M521.4 196.3h0M519.3 193.6h0M519.5 194.7h0M524 195h0M519.7 186.9h0M524.8 197.4h0M520.6 179.3h0M525 184.3h0M519.7 194.7h0M520.8 198.2h0M518.5 184.9h0M519.3 185.7h0M520.9 190.8h0M524.3 185.9h0M519.2 198.8h0M519.7 196.8h0M520.6 178.2h0M518.1 195.8h0M523.5 195.1h0M524.4 190.9h0M517.7 197h0M519.7 191.1h0M524.3 197.3h0M521.1 197h0M520.9 198.8h0M520.8 193.2h0" stroke="#ff0000" stroke-opacity="0.5" stroke-width="2.6" stroke-linecap="round"/>
<path d="M520.2 193.9h0M524.2 196.7h0M520.5 196.8h0M524.3 187.1h0M519 194.7h0M524.5 179.6h0M519.1 180.3h0M522.8 197.2h0M519 186.8h0M524.2 181.3h0M520.1 196.2h0M520.6 195h0M522.6 196.5h0M517.6 195.1h0M517.8 174.6h0M517.8 192.3h0M521.2 177.9h0M519.1 195.2h0M523.2 190h0M522.5 194.7h0M522.6 183.4h0M522.8 197.8h0M522.2 177.6h0M518.3 194.6h0M521.8 178.9h0M521.4 198.3h0M517.9 198h0M522.4 159.3h0" stroke="#ff0000" stroke-opacity="0.5" stroke-width="2.6" stroke-linecap="round"/>
<path d="M521.6 194.2h0M521.3 194.6h0M517.9 184.6h0M523.3 190.3h0M521.7 194.6h0M520.5 197.6h0M518.5 181.7h0M518.6 198.5h0M524.7 197.7h0M518.2 198.2h0M524.1 194.8h0M518.7 168.4h0M520 197.9h0M523.9 193.9h0M519.9 195.7h0M518.7 184.8h0M523.2 173h0M517.8 183.1h0M518.2 194.7h0M520.4 185.6h0M519.1 183.5h0M520.1 195.5h0M524.2 198.9h0M522.6 198.4h0M519.2 193.2h0M517.9 195.7h0M519.2 184.8h0" stroke="#ff0000" stroke-opacity="0.5" stroke-width="2.6" stroke-linecap="round"/>
<path d="M521.3 188.2V175.5M521.3 197.2V199.1" stroke="#ff0000" stroke-width="0.8"/>
<rect x="517.3" y="188.2" width="8" height="9" fill="#fff" fill-opacity="0.45" stroke="#ff0000" stroke-width="0.9"/>
<path d="M517.3 194H525.3" stroke="#ff0000" stroke-width="1.6"/>
<path d="M532.4 181.4h0M530.7 193.8h0" stroke="#0000ff" stroke-opacity="0.5" stroke-width="2.6" stroke-linecap="round"/>
<path d="M530.5 178.4h0M531.7 197.1h0" stroke="#0000ff" stroke-opacity="0.5" stroke-width="2.6" stroke-linecap="round"/>
<path d="M528.3 177.9h0M532.7 180.6h0" stroke="#0000ff" stroke-opacity="0.5" stroke-width="2.6" stroke-linecap="round"/>
<path d="M532.8 189.7h0M534.4 173h0" stroke="#0000ff" stroke-opacity="0.5" stroke-width="2.6" stroke-linecap="round"/>
<path d="M535.2 187.4h0M533.9 161.6h0" stroke="#0000ff" stroke-opacity="0.5" stroke-width="2.6" stroke-linecap="round"/>
<path d="M534.3 194.2h0" stroke="#0000ff" stroke-opacity="0.5" stroke-width="2.6" stroke-linecap="round"/>
<path d="M531.7 177.1V173.2M531.7 182.7V191" stroke="#0000ff" stroke-width="0.8"/>
<rect x="527.7" y="177.1" width="8" height="5.5" fill="#fff" fill-opacity="0.45" stroke="#0000ff" stroke-width="0.9"/>
<path d="M527.7 180.1H535.7" stroke="#0000ff" stroke-width="1.6"/>
<path d="M538.8 194.1h0M541.3 172.5h0M539.8 195.7h0M538.6 192.7h0M544.1 192h0M543.3 188.2h0M545 176.6h0M545.3 184.2h0M541 178.7h0M542.1 187.2h0M541.5 199h0M541.8 194.2h0M543.7 197.3h0M543.3 183.9h0M539.3 187.9h0M542.5 179.5h0M540.9 183.4h0M540.2 193.4h0M545.6 180.6h0M544.9 141.3h0M543.1 181.4h0M543 188.9h0M545.7 188.1h0M541.2 187.7h0M543.9 195.2h0M545.6 190.7h0M542.9 181.8h0M544.7 173.1h0M541 196.1h0M545.6 196.2h0M545.7 196.3h0M542.8 175.2h0M545.7 193.7h0M542 186.5h0M538.8 184.8h0M543.2 183.8h0M541.3 198h0M544.9 197.5h0M545.7 190.7h0M543.6 197.7h0M538.5 189.1h0M538.7 164.5h0M543.6 198.4h0M539.3 197.4h0" stroke="#ff0000" stroke-opacity="0.5" stroke-width="2.6" stroke-linecap="round"/>
<path d="M540.9 196.9h0M544.2 190.3h0M544.1 197.6h0M539 184.3h0M541.9 195.9h0M539.1 192.5h0M540.7 198.7h0M543.5 192.7h0M544 184.6h0M541.5 186.2h0M543.9 197h0M542.4 198.8h0M544.2 182.2h0M542.8 193.7h0M545.8 197.4h0M543.6 192.5h0M539.9 126.8h0M538.8 196.4h0M543 192.6h0M543.7 196h0M542 186.5h0M545.1 188.5h0M538.6 198.2h0M541.3 198.9h0M539.1 195.2h0M542.2 199h0M541.9 197.1h0M540.4 183.2h0M545.1 177.8h0M540.7 183.6h0M539.1 193h0M539.1 188.5h0M539 187.6h0M541.9 190.5h0M545.5 188.2h0M541 194.2h0M540.8 194.3h0M543.1 161.9h0M540.5 187.1h0M544.5 175.6h0M542.9 187.1h0M545.2 182.6h0M541.6 185.4h0" stroke="#ff0000" stroke-opacity="0.5" stroke-width="2.6" stroke-linecap="round"/>
<path d="M544.5 183.1h0M539.7 196.3h0M539.8 180.4h0M544.1 194.2h0M543.3 189.2h0M543.6 182.7h0M538.6 194.6h0M544.4 185h0M544 194.9h0M539.1 151.5h0M543.4 191.3h0M545 183h0M538.7 198.1h0M540.5 190.4h0M539.6 186.4h0M539.2 196.6h0M540 197.2h0M544.2 181.8h0M540.9 162.1h0M539.8 198.6h0M541.1 194.3h0M540.2 193.4h0M543.4 140.7h0M542.5 191.1h0M541.6 193.3h0M545.4 186.3h0M542.9 187.1h0M538.7 198.9h0M541.1 188.3h0M542.7 182.7h0M542.2 192.5h0M541.9 181.9h0M544 189.1h0M539.3 193.9h0M543.1 159h0M545 197.8h0M539.6 170.5h0M539.1 171.9h0M539.9 186.2h0M543 169.1h0M545.4 195.7h0M543.1 197.6h0M542.6 172.8h0" stroke="#ff0000" stroke-opacity="0.5" stroke-width="2.6" stroke-linecap="round"/>
<path d="M545.1 191.8h0M543.6 198.5h0M541.3 193.2h0M545.5 185.2h0M544.4 196.3h0M543.1 192.5h0M541.6 177.8h0M543.8 198.6h0M539.8 172.9h0M541.2 198.2h0M545.7 193.7h0M539.5 179.1h0M540.7 168.7h0M543.7 196.2h0M540.2 143.4h0M542.7 196.3h0M539.2 196.5h0M544 197.8h0M545.1 193.6h0M539.2 182.8h0M544.9 197.8h0M539.4 165.9h0M538.5 193h0M545.8 196.7h0M540.3 183.1h0M545.7 184h0M542.9 198.8h0M542.2 194.9h0M541.6 196.5h0M541 196.5h0M542.5 181h0M545.2 198.3h0M542.1 185.4h0M538.9 198.7h0M543.1 193.4h0M542.3 189.4h0M544 193.5h0M545.3 198.9h0M545.1 193.4h0M539.6 199h0M542.9 170.8h0M539.3 184.5h0M539.1 178.5h0" stroke="#ff0000" stroke-opacity="0.5" stroke-width="2.6" stroke-linecap="round"/>
<path d="M540.5 198.6h0M540.2 192.7h0M545.8 186.6h0M545.4 178.3h0M542.8 169h0M544.2 196.7h0M541.6 184.8h0M538.5 183.8h0M544.7 197.8h0M540.7 196.9h0M540.1 198.4h0M539 195.4h0M545.4 177.6h0M544.5 199h0M542.8 175.8h0M539.4 190.7h0M545.7 189.5h0M539.2 174.8h0M539.6 198h0M539.5 191.1h0M540.9 196.9h0M545.5 172.4h0M540.6 197.9h0M545.1 195.5h0M541.9 198.9h0M543.4 195.2h0M545.2 172.1h0M544 172.8h0M544.4 185.6h0M543.2 196.2h0M543.9 190.9h0M543.1 185h0M543.4 191.9h0M538.9 185.4h0M542.4 163.8h0M544.7 165.8h0M542.9 172.1h0M541.1 161.8h0M539.5 188h0M540.5 198.8h0M538.9 197.1h0M545.7 197.2h0M540.4 166.5h0" stroke="#ff0000" stroke-opacity="0.5" stroke-width="2.6" stroke-linecap="round"/>
<path d="M541.6 198.6h0M542.6 181.4h0M541.2 180.2h0M545.1 182.8h0M538.8 193.5h0M543.8 191.3h0M543.7 184h0M544.3 192.7h0M542.9 193.9h0M544.4 192.3h0M544.7 188.6h0M545 194.4h0M544.7 131.4h0M541.7 197.6h0M543.5 197.6h0M538.7 161.7h0M540.7 198h0M543.2 193.2h0M542.6 197.9h0M545.8 198.8h0M541.2 180.7h0M539.6 182.8h0M545.7 176.9h0M540.9 198.2h0M543.2 184.5h0M544.8 194h0M544.5 192.5h0M540.5 193.8h0M540.6 172.5h0M545.8 198.8h0M544.3 195.6h0M539 187h0M545.3 194.8h0M544.6 196.9h0M542.9 182.2h0M542.8 189.5h0M542.7 163.1h0M541.9 166.4h0M542.4 194.9h0M540.5 198.4h0M541.6 175.6h0M542 125.9h0M542 198.2h0" stroke="#ff0000" stroke-opacity="0.5" stroke-width="2.6" stroke-linecap="round"/>
<path d="M542.1 181V161.6M542.1 196.3V199.1" stroke="#ff0000" stroke-width="0.8"/>
<rect x="538.1" y="181" width="8" height="15.2" fill="#fff" fill-opacity="0.45" stroke="#ff0000" stroke-width="0.9"/>
<path d="M538.1 190.7H546.1" stroke="#ff0000" stroke-width="1.6"/>
<path d="M552 186.8h0M554.4 197.1h0M555.2 172h0M549.3 195.5h0M550.8 193.6h0M554.4 196.2h0M553 197.2h0M554.4 191.9h0M553.5 189.1h0M551.6 175.8h0M553.2 197.3h0M549.7 187.8h0M551 196.4h0M549 197.7h0M552.4 182.9h0M553.7 191.3h0M552.5 190.5h0M551.4 188h0" stroke="#ff0000" stroke-opacity="0.5" stroke-width="2.6" stroke-linecap="round"/>
<path d="M556 196.6h0M555.9 180.8h0M549.1 198.6h0M550.2 180.9h0M556.3 193.1h0M549.2 198.4h0M551.7 192.9h0M554.7 192.8h0M549.5 186.7h0M556.1 196.4h0M553.2 197.3h0M554.9 178.5h0M555 189h0M550.3 191h0M550.6 191.1h0M553.9 197.9h0M553.4 198.4h0M549.4 150.1h0" stroke="#ff0000" stroke-opacity="0.5" stroke-width="2.6" stroke-linecap="round"/>
<path d="M549.6 169.4h0M551.8 197.3h0M552.8 194.4h0M551.7 198.7h0M551.5 188.1h0M550.1 179.5h0M554.3 190.8h0M552.1 188.4h0M553.4 196.2h0M551.3 194.8h0M550.4 198.2h0M551.7 189.2h0M549.3 197.5h0M551.6 195.9h0M555.2 196h0M552.4 191.3h0M550.7 194.7h0" stroke="#ff0000" stroke-opacity="0.5" stroke-width="2.6" stroke-linecap="round"/>
<path d="M555 168.7h0M549.1 185h0M551.2 170.5h0M556 195.8h0M555.3 199.1h0M555.4 188.1h0M553.1 197.7h0M551.6 191.1h0M549.2 194.6h0M552.5 198.9h0M551.6 193.1h0M551.5 196.6h0M553 180.1h0M552.3 194.4h0M551.9 193.3h0M550.5 189.8h0M552.8 185.7h0" stroke="#ff0000" stroke-opacity="0.5" stroke-width="2.6" stroke-linecap="round"/>
<path d="M556 190.5h0M550.7 195.4h0M549 186.2h0M556 193.1h0M552.5 195.7h0M554.7 197.4h0M552.4 192.9h0M550.5 190.4h0M555.9 195.1h0M554.2 189.4h0M555.3 185h0M552.5 194.4h0M551.4 190.3h0M553.7 169.3h0M554.7 197.7h0M556.2 184.9h0M549.5 194.4h0" stroke="#ff0000" stroke-opacity="0.5" stroke-width="2.6" stroke-linecap="round"/>
<path d="M554.6 198.7h0M554 185.1h0M551.2 194.2h0M553.3 194.9h0M549.6 197.9h0M554.4 197.9h0M549.3 169.1h0M555.1 193.2h0M551.7 195.8h0M555.6 191.1h0M555 192h0M555.1 194.2h0M551.3 192.4h0M549.1 195.9h0M551.1 190.7h0M550.4 193.6h0M551.1 197.4h0" stroke="#ff0000" stroke-opacity="0.5" stroke-width="2.6" stroke-linecap="round"/>
<path d="M552.6 189.1V177.8M552.6 197.2V199.1" stroke="#ff0000" stroke-width="0.8"/>
<rect x="548.6" y="189.1" width="8" height="8.1" fill="#fff" fill-opacity="0.45" stroke="#ff0000" stroke-width="0.9"/>
<path d="M548.6 194H556.6" stroke="#ff0000" stroke-width="1.6"/>
<path d="M564 195.5h0M564.8 186.7h0M565.9 157.2h0M561.6 184.4h0M561.7 176.8h0M563.1 198.1h0M560.3 154.3h0M566.4 192.6h0M560.2 191.8h0M562.4 187.2h0M563.5 182.7h0M560.9 194h0M565.5 196.7h0M565.3 171.8h0M561.3 197.2h0M562.2 177h0M563.7 190.4h0M560.1 199h0M563.6 197.3h0M563.3 195.1h0M565.4 179.5h0M559.7 197h0M563.7 197.3h0M563.5 189.9h0M566 198.7h0M562 186.5h0M561 190.7h0M565 188.1h0M560 192h0M560.4 169.7h0M563.1 198.4h0M565.2 159.8h0M559.8 198.1h0M565.1 196.5h0M559.6 174.8h0M559.8 194.4h0M562.1 198.5h0M564.4 189.4h0M564.5 197.4h0M564.1 185.6h0M564.2 195.1h0M563.8 188.7h0M559.6 191.2h0M562.2 198.4h0M563.8 197.3h0M561.6 195.6h0M559.8 158.1h0M561.2 197.3h0M565.3 181.3h0M565.3 193.3h0M564.3 187.4h0M561.8 190.1h0M565.6 181.9h0M565.2 195.7h0M559.7 198.7h0M563.9 195.9h0M561.6 178.4h0M566.1 194.1h0M560.4 164.4h0M565.9 196h0M564.2 198.9h0M561.8 198.2h0" stroke="#a020f0" stroke-opacity="0.5" stroke-width="2.6" stroke-linecap="round"/>
<path d="M560.7 197.6h0M565 198.4h0M563.2 148.3h0M561.1 188.5h0M562.5 172.9h0M560.3 190.7h0M565.5 198h0M563.4 182.5h0M562.1 161.1h0M560.8 195.7h0M560.3 197.3h0M561.6 191.8h0M560.8 185.9h0M561.6 181.4h0M565 197.1h0M562.3 198.2h0M563.9 156.7h0M565.5 195.2h0M560.7 186.7h0M562 192.9h0M561.1 197.6h0M559.3 197.8h0M560.8 172h0M559.6 170.9h0M564.1 194.4h0M564.9 183.3h0M564.4 170h0M560 176.8h0M559.9 187h0M565.5 188.9h0M565 197.5h0M559.4 135.5h0M562.9 195.8h0M559.5 194.8h0M565.3 184.4h0M562.8 197.4h0M564.7 167.9h0M563.6 185.4h0M559.3 184h0M562.7 178.6h0M561.5 194.2h0M564.4 197.9h0M565.6 198.2h0M562.7 196.3h0M563.7 195.8h0M559.9 198.3h0M561.3 161.3h0M565.5 197.6h0M560 190h0M562.6 183.8h0M563.1 193.4h0M561.3 197.7h0M565.9 194.4h0M564.7 193.4h0M563 176h0M565.2 183.6h0M563 191.3h0M560 194.1h0M561.9 180.1h0M563.7 172.3h0M563.8 176.6h0M561.8 196.8h0" stroke="#a020f0" stroke-opacity="0.5" stroke-width="2.6" stroke-linecap="round"/>
<path d="M565.8 184.3h0M565.7 158.8h0M561.7 196.3h0M563.1 164.8h0M566.6 190.4h0M563.9 155.6h0M563.6 193.6h0M559.9 197.2h0M561.2 198.3h0M562.7 196.7h0M559.7 175.8h0M564.8 198.1h0M562.6 182.8h0M565.4 160.3h0M563.8 176.2h0M563.9 193.1h0M562.7 198.2h0M563.8 162.6h0M562.6 186.4h0M565.3 138.7h0M562.6 189.9h0M560.2 192.8h0M566.2 185.2h0M561.5 197.4h0M564 193h0M560.9 181.3h0M559.9 193.1h0M560 191.5h0M564.9 198.4h0M563.2 188.8h0M559.8 194h0M561.5 197.2h0M560 189.1h0M566.2 192h0M564.4 193.1h0M564.5 163.5h0M565.4 191.3h0M561.8 182h0M560.9 155.4h0M566.3 188.1h0M564.6 193.2h0M562.3 199h0M565.5 194.4h0M565.4 198.8h0M566.6 189h0M563.4 197.6h0M560 132.9h0M566 199h0M560.3 195.4h0M562.3 148.8h0M565.7 197h0M561.5 164.7h0M566.3 163.5h0M559.7 152.1h0M564.4 196.3h0M560.1 195.1h0M563.3 196.1h0M566.7 194.3h0M563 195.6h0M561.3 183.1h0M563.2 190.7h0M563 97h0" stroke="#a020f0" stroke-opacity="0.5" stroke-width="2.6" stroke-linecap="round"/>
<path d="M560.4 168.6h0M561.8 149.3h0M563.1 176.5h0M564.4 196h0M564.8 193.4h0M565.3 167.8h0M565.8 197.4h0M565.2 179.6h0M561.1 153.7h0M565.1 196h0M564.6 172.4h0M563.4 155.1h0M562 192.6h0M564.3 161.4h0M563.9 197.6h0M566.2 198.2h0M563.6 182.8h0M563.9 189.1h0M562.2 164.3h0M560.5 192.8h0M561.2 196h0M560.8 192.8h0M560.1 185.9h0M561.5 181.9h0M562.7 198.4h0M565.1 152.6h0M561.4 189.4h0M561.7 183.6h0M564.7 182h0M562.6 177.5h0M565.8 198.6h0M564.4 198.5h0M564.8 176.7h0M559.8 184.5h0M561.8 188.7h0M566.3 168.6h0M562.2 171.9h0M566.5 174h0M565.7 178.3h0M566 184.9h0M565.3 186.3h0M563 195h0M564.4 138h0M561.5 193.5h0M559.9 156.6h0M564.3 184.1h0M562.1 131.2h0M561.9 157.1h0M560 186.3h0M563.2 193.2h0M561.9 196.2h0M564.4 190.9h0M565.9 191.7h0M565.6 197.3h0M565.4 170.7h0M561.8 198.2h0M561.9 173.8h0M563 198.5h0M562.4 181h0M559.4 178.5h0M559.6 197.8h0M564.9 106.2h0" stroke="#a020f0" stroke-opacity="0.5" stroke-width="2.6" stroke-linecap="round"/>
<path d="M564.9 196.1h0M559.6 195h0M565.8 198.4h0M560.6 199h0M565.5 197.4h0M564.2 198.6h0M563.5 198.6h0M564.6 186.3h0M565.5 199h0M559.8 195.9h0M566.3 196.9h0M566.1 195h0M561.1 193.9h0M566.5 197.4h0M563.5 187.6h0M565.6 163.7h0M563 181.9h0M563.2 193.9h0M561.2 141.8h0M562.3 196.7h0M566.3 168h0M559.8 195h0M566.6 198.3h0M564.4 138.5h0M561.1 198.5h0M566.6 195.1h0M563.1 189h0M562.1 198.5h0M565.1 197.9h0M563.5 197.1h0M563.3 195.2h0M561.5 186h0M565 172.3h0M566.4 199h0M562.4 136.7h0M564.7 192.6h0M559.6 156.6h0M562.7 170.6h0M561 187.5h0M563.5 195.3h0M559.3 198.4h0M560.1 198.5h0M562.8 178.8h0M561 197.3h0M559.4 193.9h0M559.4 162.6h0M560.9 197.7h0M565.2 194.6h0M565.2 197.4h0M561.3 186.3h0M563.7 189.5h0M563.8 188.2h0M562.2 189.1h0M560.1 177.6h0M564 197.8h0M562.3 178.2h0M566.6 195.4h0M566.5 186.2h0M560.4 169.3h0M565.6 193h0M563.1 151.8h0M566.3 115.4h0" stroke="#a020f0" stroke-opacity="0.5" stroke-width="2.6" stroke-linecap="round"/>
<path d="M564.9 189.6h0M565.7 192.7h0M559.6 193.9h0M565.3 195.9h0M560.4 188.3h0M565.1 195.7h0M563.2 187.4h0M565.4 193.5h0M561.2 198.8h0M565.7 194.3h0M561.1 198.4h0M564.1 195.7h0M562.3 198.9h0M560.9 194.2h0M563.5 194h0M564 197.6h0M565.1 183.9h0M560.6 180.9h0M559.8 193.1h0M561.5 180.3h0M563.7 191.2h0M564.4 186h0M560 174.7h0M565.5 192.6h0M562.7 198.2h0M566.5 195.8h0M562.3 188.9h0M565.6 133.9h0M561.9 175.7h0M559.6 194.9h0M562.7 183.7h0M560.6 173.7h0M564.5 140.4h0M559.3 193.3h0M565.2 128h0M562.7 191.1h0M566.3 198.9h0M561.7 196.7h0M562.3 194.8h0M566.5 193.3h0M559.9 178h0M560.9 191.5h0M565.3 185.7h0M563 197.7h0M564.2 190.6h0M566.3 189.2h0M563.6 198.2h0M565.8 193.3h0M563.9 179.9h0M566 169.8h0M562.6 192.9h0M559.8 193.6h0M565.7 195.8h0M559.8 172.1h0M559.5 197.7h0M562 192.2h0M561 196.8h0M564.4 198h0M561.2 198.8h0M561 185.1h0M559.6 162h0" stroke="#a020f0" stroke-opacity="0.5" stroke-width="2.6" stroke-linecap="round"/>
<path d="M563 180.4V152.4M563 197.2V199.1" stroke="#a020f0" stroke-width="0.8"/>
<rect x="559" y="180.4" width="8" height="16.9" fill="#fff" fill-opacity="0.45" stroke="#a020f0" stroke-width="0.9"/>
<path d="M559 192.4H567" stroke="#a020f0" stroke-width="1.6"/>
<path d="M571.9 198.2h0M576 189.8h0M570.6 175.5h0M576.4 191.9h0M571.2 195.4h0M571.7 183.8h0M572.2 190.9h0M570.3 185.9h0M571 195.2h0M576 176.4h0M570.4 156.1h0M574.2 192.5h0M575.6 197.1h0M576.4 184.5h0M576.6 196.1h0M574.2 176.7h0M571.5 163h0M574.9 170h0M575.9 187.7h0M576 185.1h0M570.5 195.9h0M571 179.5h0M575.9 195.9h0M569.8 193.1h0M572.5 181.9h0M575.4 159.4h0M575.4 192.6h0M572.2 196.8h0M569.7 194.4h0M575.1 198.8h0M575.4 148.4h0M575.7 193.6h0M575 191.3h0M576.3 168.5h0M574.6 176.6h0M572.4 193h0M573.5 195.4h0M572.9 198.7h0M574.5 193.5h0M571.6 179.4h0M574.1 177h0M573.4 181.4h0M573.5 197.4h0M576.8 172.3h0M573.2 194h0M573.9 166.5h0M572.6 181.9h0M572.3 191.7h0M572.5 174.2h0M570.3 195.8h0M571.4 187.8h0M573.2 193.7h0M575.4 185.4h0M575.8 196.6h0M576.2 192.1h0M575.7 196h0M571.4 196.6h0M574.6 190.5h0M570.3 183.4h0M576.6 188.3h0M569.8 178.7h0M570.6 192.6h0M569.8 198.5h0M574.1 193.5h0M574.2 164.1h0M574.1 195h0M571.4 187h0M576.6 174.9h0M571.3 190.1h0M571 198.5h0" stroke="#ff0000" stroke-opacity="0.5" stroke-width="2.6" stroke-linecap="round"/>
<path d="M573.9 185.1h0M570.9 184.3h0M570.9 189.7h0M575.1 186.2h0M573.7 196.8h0M573 193.8h0M576.7 192.8h0M576.6 170.2h0M573.2 194.3h0M576.8 197.3h0M571.4 196.5h0M577 190.7h0M574.4 190.7h0M570.6 189.1h0M570.7 190.5h0M570.1 191.9h0M570.5 155.3h0M571.1 188.5h0M572.5 190.4h0M576.6 173.7h0M575.4 191.3h0M571.8 187.9h0M573.7 180h0M574.7 179.5h0M574.7 192.5h0M573 183.8h0M570.8 179.4h0M577 191h0M575.4 186.5h0M570.5 193.3h0M569.8 195.7h0M575 188.5h0M570.5 196.6h0M571.9 194h0M576.3 152.9h0M572.1 193.3h0M573.6 156.2h0M570.5 163.9h0M575.5 194.1h0M573.1 195.8h0M570.6 183.6h0M575.4 190.1h0M570.1 193.2h0M572.2 197.3h0M576 148.6h0M573.6 157.1h0M574.6 161.9h0M574.9 181.5h0M571.1 196h0M570 199h0M576.6 181.2h0M575.8 194.1h0M575.4 164.3h0M570.5 190.2h0M574.1 197.7h0M574.3 198.4h0M572.8 197.9h0M571.6 172.7h0M572.8 199h0M569.9 190.3h0M574.4 189.1h0M575 184.8h0M573.6 162.8h0M574.3 197.1h0M576.6 191.5h0M575.1 194.6h0M576.3 192.4h0M572.9 198.8h0M571.2 196.6h0M573.1 140.8h0" stroke="#ff0000" stroke-opacity="0.5" stroke-width="2.6" stroke-linecap="round"/>
<path d="M577 190.4h0M572.5 160.8h0M573.6 190.6h0M571.8 190.4h0M572.5 184.6h0M575 182.5h0M570.3 182.6h0M575.1 148.8h0M575.4 199h0M573.2 191.7h0M572.1 193.4h0M573.9 188.5h0M571.6 195.3h0M573.7 192.7h0M576.7 194.5h0M573.2 163.2h0M577.1 146.1h0M572.3 188.3h0M571 197.9h0M573.4 186.8h0M573.6 182.9h0M575.7 182h0M575.6 182h0M571.9 182.6h0M570.6 196.2h0M573 198.2h0M574.2 183.9h0M575 193h0M574.6 182h0M575.1 192.6h0M577.1 197.1h0M573.4 198.2h0M570.3 192.1h0M576.4 192.8h0M576.5 172.8h0M574.3 196.1h0M571.9 162.9h0M571.9 181.1h0M570.7 172.5h0M571.7 182.5h0M574.7 195.7h0M573.7 187.5h0M574 196.6h0M574 193.4h0M574 178.1h0M576.6 194.3h0M571.2 189.3h0M576.3 184.6h0M570.5 191.8h0M574.4 198.3h0M569.7 168.8h0M576.5 182.3h0M573.9 185.4h0M576.3 193.7h0M574.5 189.6h0M569.7 181.8h0M571.3 197.9h0M577.1 183.8h0M571.2 197h0M571 195.2h0M570.1 192h0M573.5 175.8h0M574.9 190.7h0M573.7 188h0M577 177.5h0M576.4 181.7h0M570.5 186.3h0M573.7 184h0M572.8 193.2h0" stroke="#ff0000" stroke-opacity="0.5" stroke-width="2.6" stroke-linecap="round"/>
<path d="M570.6 197.9h0M569.8 179.5h0M576.4 176.8h0M570 158.5h0M570.1 198.2h0M571.6 183.1h0M575.1 196.6h0M575.2 182.5h0M572.3 193.8h0M575.8 190.2h0M576.1 198.4h0M573.9 178.8h0M573.8 180.3h0M576.4 177h0M575.3 161.8h0M573.9 189h0M573.8 191.8h0M572.7 196h0M571.4 180h0M574.9 193.5h0M576.7 193.4h0M573.2 196h0M572.3 188.3h0M573.3 197.4h0M570.8 190.7h0M575.4 193.6h0M572.6 151.8h0M573.8 156.8h0M571.4 195.6h0M570 195.3h0M570.1 189.6h0M574.2 196.3h0M572.7 197.3h0M572 198.2h0M571 193.8h0M572.3 196.3h0M570.5 190.5h0M576.3 190.7h0M571.1 178.7h0M569.7 190.3h0M573.4 193h0M572 160.9h0M577 181.1h0M570.1 198.2h0M572.1 165.6h0M576.1 196.8h0M572.2 187h0M574.6 193.3h0M570.6 178.2h0M575.1 187.8h0M575.3 190.1h0M572 198.3h0M573.9 186.2h0M573.1 196.4h0M570.4 197.7h0M573.1 189.5h0M571.1 197.1h0M573.3 169.3h0M575.1 163.7h0M576.6 196.4h0M571.6 182h0M572 197.8h0M574.4 167.6h0M571 198.3h0M574.4 196.9h0M575 190.7h0M571.2 184.7h0M571.6 191.9h0M576.7 198.5h0" stroke="#ff0000" stroke-opacity="0.5" stroke-width="2.6" stroke-linecap="round"/>
<path d="M569.9 181.8h0M573.4 183.3h0M574.7 187h0M570.7 192.8h0M573 196.1h0M575.4 175.2h0M572.2 193.6h0M573.5 195h0M570.8 166.2h0M571.7 180.8h0M573.1 164.3h0M572.8 177.1h0M575.3 194.1h0M569.8 195.2h0M570.2 186.6h0M573.7 187.1h0M575 194.4h0M569.9 181.7h0M572.1 198.4h0M576.1 198.7h0M573.6 150.6h0M573.3 198h0M575.3 198h0M570.7 190.8h0M575.2 190.6h0M573 181.2h0M573 186.7h0M576.1 193.6h0M570.4 195h0M569.9 184.2h0M574.4 173.1h0M574.5 190.7h0M570.7 171.3h0M571.5 197.2h0M573.4 195.4h0M574.9 189.3h0M573 193.9h0M573.2 194.2h0M570.6 198.5h0M573.8 184.1h0M576.8 194.8h0M572.2 168.1h0M577 198.4h0M573.7 194.2h0M576.2 192.6h0M573.9 151.8h0M571.3 190.7h0M571.1 160.6h0M570.7 191.4h0M576.5 170.2h0M575.8 173.9h0M572.4 197.7h0M573.3 186.5h0M570.3 192.5h0M574.1 192.9h0M573.2 198.8h0M575.6 192.3h0M575.6 160.6h0M576.4 192.1h0M576.3 170.4h0M573.1 193.5h0M571 187.9h0M576.8 157.1h0M571.8 178.5h0M571.6 183.6h0M573.8 196.8h0M570 164.1h0M571.6 186.7h0M576 160h0" stroke="#ff0000" stroke-opacity="0.5" stroke-width="2.6" stroke-linecap="round"/>
<path d="M572.5 195.7h0M572.6 162.3h0M571.8 191.9h0M572.9 189.7h0M573.7 196.8h0M573.1 162.9h0M575.7 185.9h0M570.4 194.8h0M573.1 194.7h0M573.2 198h0M575.7 191.7h0M576.4 191.4h0M573.1 193.7h0M573.6 196.4h0M572.1 191.5h0M574.4 196.9h0M572.5 190.3h0M571.2 198h0M572.3 150.2h0M576.6 189.1h0M571.3 195h0M570.2 182h0M573.9 189.1h0M576.8 179.4h0M570.8 163.1h0M572.7 198.6h0M571.1 191.5h0M570.5 184.3h0M571.3 194.1h0M572.1 175.1h0M572.5 191.9h0M573.6 190.2h0M572.1 187.2h0M572.4 188.2h0M576.6 181h0M571.2 192.6h0M573.2 180.6h0M570.2 194.2h0M572.2 182.2h0M571.1 198.2h0M575.1 195.7h0M573.8 192.7h0M575 186.8h0M573 176.3h0M575.3 192.2h0M576.6 183.9h0M570.1 195.7h0M571.1 196h0M575.1 193h0M572.1 197.5h0M576.5 193.5h0M570.5 176.5h0M574.4 198.2h0M571.3 195.8h0M572.9 182.7h0M572.5 189.9h0M573.6 198.4h0M570 187.8h0M575.7 164h0M575.5 197h0M576.9 176.1h0M573.9 189.8h0M576.9 177.3h0M569.9 179.8h0M573.9 156.6h0M570.8 190.1h0M571 192h0M571.3 196h0M573.9 197.5h0" stroke="#ff0000" stroke-opacity="0.5" stroke-width="2.6" stroke-linecap="round"/>
<path d="M573.4 181V159.3M573.4 195.1V199.1" stroke="#ff0000" stroke-width="0.8"/>
<rect x="569.4" y="181" width="8" height="14.1" fill="#fff" fill-opacity="0.45" stroke="#ff0000" stroke-width="0.9"/>
<path d="M569.4 190.3H577.4" stroke="#ff0000" stroke-width="1.6"/>
<path d="M583.6 195.7h0M582.6 180.5h0M586.2 197.1h0M585.6 191h0M584.5 176.7h0M585.3 198.5h0" stroke="#0000ff" stroke-opacity="0.5" stroke-width="2.6" stroke-linecap="round"/>
<path d="M580.8 184.2h0M580.5 179h0M587.3 193.6h0M581.2 196.6h0M580.5 194.4h0M583.9 194.6h0" stroke="#0000ff" stroke-opacity="0.5" stroke-width="2.6" stroke-linecap="round"/>
<path d="M580.5 180.2h0M582.8 192.5h0M584.8 182.6h0M580.4 186.6h0M585.6 182.3h0M586.8 184.6h0" stroke="#0000ff" stroke-opacity="0.5" stroke-width="2.6" stroke-linecap="round"/>
<path d="M584.4 192.7h0M587.2 195.4h0M581.4 195.3h0M583.2 186.2h0M584.1 181h0M584.4 182.8h0" stroke="#0000ff" stroke-opacity="0.5" stroke-width="2.6" stroke-linecap="round"/>
<path d="M582.3 182.5h0M584 191.5h0M584.5 190.1h0M581.9 187.2h0M587.4 194.5h0M583.1 191.3h0" stroke="#0000ff" stroke-opacity="0.5" stroke-width="2.6" stroke-linecap="round"/>
<path d="M580.4 197.5h0M584.4 196.6h0M587.4 190.4h0M583.2 193.9h0M584.5 187.1h0M583.3 147.8h0" stroke="#0000ff" stroke-opacity="0.5" stroke-width="2.6" stroke-linecap="round"/>
<path d="M583.8 183.6V175.5M583.8 194.4V199.1" stroke="#0000ff" stroke-width="0.8"/>
<rect x="579.8" y="183.6" width="8" height="10.9" fill="#fff" fill-opacity="0.45" stroke="#0000ff" stroke-width="0.9"/>
<path d="M579.8 191H587.8" stroke="#0000ff" stroke-width="1.6"/>
<path d="M592.9 187.4h0M597.1 170.2h0M591.8 171.1h0M592.1 190.7h0M596.7 124.2h0M591.9 155.3h0M593.9 190.6h0M595.7 179.2h0M597.2 198.7h0M594.6 169.7h0M598 187.8h0M594.1 159.6h0M592.7 161.6h0M593 122.2h0M596.8 175.4h0M596.6 152.9h0M597.4 167.5h0M594.3 124.6h0M593 191.8h0M594.3 199h0M595.1 178.9h0M596.5 136.2h0M591.9 179.6h0M591.9 178h0M595.4 142.6h0M597.4 117.7h0" stroke="#ff0000" stroke-opacity="0.5" stroke-width="2.6" stroke-linecap="round"/>
<path d="M594.2 165.6h0M597.1 134.3h0M595.3 175h0M593.1 179h0M594.1 184h0M594.6 193.9h0M595.9 164.2h0M592 154.3h0M596 179.5h0M591.7 178.9h0M596.2 157.2h0M596.5 177.3h0M591.7 178.8h0M596 184.6h0M592.1 197.7h0M591.5 136.8h0M597.4 176h0M590.8 173.2h0M593.6 196.3h0M594.9 162.7h0M591.3 167.4h0M592.4 145.9h0M590.6 164.6h0M596.2 192.1h0M595.1 152.3h0M593.3 120.1h0" stroke="#ff0000" stroke-opacity="0.5" stroke-width="2.6" stroke-linecap="round"/>
<path d="M593.7 158.3h0M591.3 159h0M593.4 149.6h0M594.6 177.7h0M593.2 160.5h0M596.9 176.8h0M596.7 182.3h0M593.6 194.2h0M591.9 155.6h0M594.6 189.3h0M596.9 195.8h0M596.7 123.6h0M592.9 162.2h0M597.3 186.6h0M597.1 197.5h0M590.9 162.4h0M592 162.6h0M594.9 176.5h0M594.1 147.7h0M593.9 163.8h0M595.5 196.9h0M597.4 163.1h0M596.2 198.5h0M592.1 164.2h0M594.7 144.4h0" stroke="#ff0000" stroke-opacity="0.5" stroke-width="2.6" stroke-linecap="round"/>
<path d="M595.4 195.2h0M595.1 198.4h0M595.1 187.1h0M597.7 147.8h0M593.2 179.5h0M595.1 159.1h0M594.5 151.6h0M593.7 196.8h0M595.4 181.1h0M596.8 178.9h0M591.2 172.5h0M595.4 191.6h0M592 153.8h0M596.7 160.2h0M590.9 180h0M591.6 174h0M592.9 162h0M593.9 152.3h0M596.4 133.2h0M596 187h0M591.1 168.8h0M593.9 181.4h0M592.8 160.9h0M596.4 161.5h0M597.8 140.5h0" stroke="#ff0000" stroke-opacity="0.5" stroke-width="2.6" stroke-linecap="round"/>
<path d="M590.9 166.7h0M591.3 186.1h0M594.4 170.2h0M594 190.1h0M593.6 169.8h0M595.8 161h0M596.4 181h0M593.9 190.3h0M595.6 161.2h0M597.4 182h0M591.5 175.9h0M597.1 177.9h0M596.7 123.4h0M596.3 160.2h0M595.5 183.7h0M597.5 152.4h0M595.9 145.6h0M595.7 193.9h0M595.8 161.7h0M593.6 162.5h0M591 195h0M591.9 173.8h0M596.2 165.5h0M592.8 184.3h0M596 172h0" stroke="#ff0000" stroke-opacity="0.5" stroke-width="2.6" stroke-linecap="round"/>
<path d="M592.7 172.5h0M591.8 165.3h0M595.2 179.9h0M597.9 164.4h0M592.3 181h0M590.8 145.5h0M590.7 189.8h0M590.7 171.7h0M596.2 176.9h0M593.4 176.5h0M590.9 138.1h0M594.9 185.6h0M596.9 161.5h0M595 154.8h0M595.9 170.6h0M594.9 175.3h0M597.9 170.2h0M594 172.4h0M597.5 175.4h0M591.3 148.3h0M594.6 155.1h0M598 183.8h0M597.5 143.3h0M593.5 192h0M592 174.1h0" stroke="#ff0000" stroke-opacity="0.5" stroke-width="2.6" stroke-linecap="round"/>
<path d="M594.3 157.9V126.3M594.3 182.7V199.1" stroke="#ff0000" stroke-width="0.8"/>
<rect x="590.3" y="157.9" width="8" height="24.7" fill="#fff" fill-opacity="0.45" stroke="#ff0000" stroke-width="0.9"/>
<path d="M590.3 172.7H598.3" stroke="#ff0000" stroke-width="1.6"/>
<path d="M602.5 182.5h0M602.9 184.7h0M603.5 190.3h0M604.8 197h0M601.5 188.3h0M603.8 135.6h0M608.3 191.3h0M607.8 177.1h0M606.8 188.6h0M602.1 190.6h0M603.3 195.9h0M607 176.6h0M606.4 162.7h0M606.6 171.2h0M608 186.8h0M606 187.8h0M608.2 170.1h0M606.1 189.7h0M606.3 169.7h0M604.4 198.4h0M608 198.7h0M603.5 186.1h0M604.8 159.4h0M608.2 141.2h0M604.2 152.9h0M607.8 140.4h0M608.3 186.1h0M605.9 141.4h0M601.8 175.5h0M607.4 178.1h0M606.3 132.4h0M604.9 196h0M602.3 194.4h0M602.8 186.8h0M604.8 175.2h0M606.6 187.6h0M604.1 171.5h0M605.4 182.5h0M606.3 173.7h0M604.4 196.7h0M601.5 196.9h0M608.2 198.3h0M603.9 132.6h0M603 196.7h0M601.7 193.6h0M601.5 197.4h0M607.3 198.9h0M602.6 195.7h0M607.4 193.2h0M602.1 167.6h0M606.6 175.8h0M607.6 195.9h0M603.5 176.8h0M604.8 189.4h0M604.6 164.2h0M605.8 189.2h0M607.3 184.5h0M602.9 155.3h0M608.2 188.7h0M601.2 163.8h0M606.9 190.6h0M601.5 190h0M602.9 186.6h0M603.1 176.2h0M602.6 190.1h0M601.3 183.2h0M603.9 164.1h0M603.8 197.3h0M604.6 173.3h0M605.8 178h0M601.6 184.4h0M606.1 194.8h0M604 187.6h0M605.6 171.8h0M605 156.8h0M602.2 152.3h0M601.4 197.4h0M606.8 159.5h0M605 190h0M603.8 148.7h0M607.1 195.9h0M605.9 151.9h0M601.1 183.2h0M604.9 178.3h0M604.5 120.1h0" stroke="#ff0000" stroke-opacity="0.5" stroke-width="2.6" stroke-linecap="round"/>
<path d="M604.6 177.5h0M608.1 193.8h0M607.8 193.7h0M608 192.4h0M602.4 193.7h0M605.4 197.8h0M604.9 196.1h0M607.6 179.9h0M607.4 199h0M606.7 187.1h0M604.5 192.3h0M605.2 174.6h0M606 177.4h0M607.8 189.1h0M605.2 196.5h0M606.7 164.8h0M603.4 194.6h0M602.9 155.3h0M607.6 186.2h0M604.7 190.2h0M602.5 198.1h0M604.1 196.7h0M606.3 180.9h0M608.1 175h0M608.2 194.4h0M605.9 137.6h0M608.3 184.7h0M604.3 180.6h0M604.8 190.2h0M601.4 183.8h0M605.7 176.3h0M607.9 164.9h0M608.2 192.2h0M605.2 195.9h0M606.6 197.3h0M605.1 185.2h0M602.9 178.8h0M602 186.5h0M604.1 185.2h0M601.8 198.9h0M605.1 184.3h0M601.1 192.7h0M606.5 138.6h0M604.2 180.1h0M606.1 160.3h0M601 133.8h0M604.2 142h0M604.7 144h0M602.7 152.7h0M603.9 178.9h0M606.2 196.3h0M603.4 188.9h0M608.2 173h0M604.5 137.3h0M606.3 171.8h0M601.4 178.7h0M608 181h0M605.1 166.4h0M602 197.2h0M608.1 190.4h0M604 182.6h0M606 183.1h0M601.1 182.3h0M603.6 175.3h0M605.5 158.6h0M605.6 180h0M601.4 156.2h0M603.8 189.1h0M607 197.4h0M607.7 187.9h0M604.2 183h0M602.7 172h0M601.6 187.6h0M601.4 175.6h0M604.5 198.7h0M604.9 195.9h0M601.8 186.7h0M607.9 185.3h0M605.5 183.5h0M603.6 181.7h0M602.2 175.9h0M606.3 182.3h0M601 179.3h0M607.1 191.6h0" stroke="#ff0000" stroke-opacity="0.5" stroke-width="2.6" stroke-linecap="round"/>
<path d="M605.3 175h0M602.7 154.6h0M604.7 183.8h0M607.8 192.6h0M606.3 176.7h0M601.9 188h0M603.9 190.7h0M601.8 178.9h0M605 199h0M603.1 181.1h0M604.7 184.7h0M604.7 137.2h0M603.4 148.2h0M607.8 179.8h0M602.2 192.6h0M606.4 193h0M604.4 171.4h0M607.6 156.6h0M601.6 197.3h0M604.5 192h0M605.3 193.2h0M603.1 153.8h0M605.1 189.9h0M603.2 182.1h0M605.6 188h0M602.4 141.3h0M607.6 176.4h0M603.5 197.4h0M604.6 180.8h0M605.2 194.8h0M602.7 195.6h0M601.6 190.7h0M605.6 192.5h0M604.5 191.9h0M607 196.2h0M605.6 177.6h0M603.8 189.1h0M605.1 167h0M603.4 190.9h0M602.6 182.4h0M607.5 185.9h0M601.9 176.9h0M601.3 191.2h0M604.2 195.9h0M607.8 173.4h0M605.5 186.6h0M607.8 192.4h0M603.8 196.7h0M603.8 179h0M606.8 180h0M606.1 198.3h0M605.4 168.6h0M606.8 182.7h0M601.2 175.6h0M601.3 151.6h0M603.9 175.9h0M605.5 175.1h0M606.7 189.4h0M602.6 195.7h0M602.6 180.6h0M602.4 191.6h0M602.8 162.3h0M605.1 173.5h0M604.6 158.9h0M602.8 197.2h0M604 163h0M603.2 176.6h0M602.8 184.7h0M602.3 195.2h0M607.6 158.2h0M606.9 195.7h0M601.8 184.8h0M604.7 176.8h0M604.8 178.4h0M602.7 182h0M605.8 188h0M601.2 183.9h0M605 174.7h0M607.2 195.9h0M606.9 144.8h0M606.3 175.9h0M606.5 192.3h0M604.2 197.7h0M604.4 191.3h0" stroke="#ff0000" stroke-opacity="0.5" stroke-width="2.6" stroke-linecap="round"/>
<path d="M603.5 179.4h0M607 185.4h0M603 198.2h0M604 197.4h0M608 197.6h0M604.8 179h0M601.5 148.4h0M601.3 185.2h0M603.1 177.8h0M601 191.9h0M606.1 160.6h0M607.1 177.1h0M606 167h0M607 170.6h0M604 194.5h0M606.6 132.9h0M605 166.5h0M601.6 195.2h0M606.1 135.2h0M605.9 197.2h0M604.6 146.1h0M602.8 175.9h0M607.7 163.5h0M603.1 199h0M603 192.8h0M604 197.4h0M607.1 183.1h0M604.9 177.4h0M601.2 194.8h0M606.3 179.4h0M606.7 179.2h0M606.8 146.2h0M601.3 198.3h0M604.5 185.7h0M605.6 186.7h0M602.3 175.7h0M602.2 188.6h0M606 141h0M602.3 191.4h0M605.1 195.2h0M604.8 198.9h0M602.2 188.4h0M606.2 181h0M608.4 175.2h0M605.9 149.1h0M608.3 179.5h0M607 194.3h0M603.7 194.8h0M607.9 176.8h0M607.8 181.8h0M601.7 194.6h0M601.1 198h0M602.8 182.2h0M604.5 174.4h0M602.3 160.6h0M604.8 193.7h0M603.5 190.6h0M607.4 165.3h0M606.3 196.5h0M605 141.6h0M604.5 198.5h0M605.9 191.5h0M607.4 189.9h0M604.9 194.7h0M603.4 193.3h0M604 196.5h0M606.2 180.3h0M607.9 195.9h0M606.2 145.7h0M603.1 183.4h0M601.2 183h0M602.7 178.6h0M606.2 162.3h0M602.1 176h0M603.1 174.9h0M603.7 178h0M602 186.4h0M602.4 197h0M606.8 172.7h0M606.6 169.3h0M605.7 191.9h0M605.8 140.1h0M608.1 186.6h0M606 97h0" stroke="#ff0000" stroke-opacity="0.5" stroke-width="2.6" stroke-linecap="round"/>
<path d="M606.1 149.8h0M604.5 160.7h0M607.5 182.7h0M602.3 195h0M601.3 188h0M604.1 189.9h0M602.5 166.5h0M606.2 163.8h0M602.2 170.3h0M604.1 182.5h0M601.5 175.4h0M605.2 192.9h0M603.7 167.4h0M607 184.2h0M606.5 174.5h0M602.7 188.4h0M604 181.7h0M601.6 185.9h0M607.6 187.8h0M602 173h0M601.4 184.3h0M607.4 198.7h0M607.2 195.3h0M606.7 185h0M606.8 173h0M605.7 133.5h0M605.2 178.2h0M606.1 167.3h0M605.3 191.7h0M605.3 189.3h0M607.2 198.7h0M604.3 196.4h0M601 198.3h0M606.2 172.2h0M607.4 195.6h0M603.4 183.9h0M601.5 181.1h0M607.1 189.6h0M605.4 188.9h0M602.8 198.3h0M605 198.8h0M601.8 192.2h0M606.2 178.1h0M602.8 192.6h0M607.3 158.9h0M608.2 186.1h0M608.1 182.7h0M601.3 185.8h0M606.2 175.4h0M602.6 189.9h0M604 156.1h0M603.3 179.5h0M602.8 187.8h0M607.3 177.8h0M603.6 183.4h0M606.6 193.7h0M602.6 192.9h0M606.3 187.1h0M607.5 190.9h0M606.3 182.1h0M605.8 199h0M602.2 197.6h0M602.2 178.9h0M607.5 197.8h0M606.4 164.7h0M607.5 196.8h0M601.5 175.9h0M607.3 198.8h0M603.4 189.9h0M605.9 187.3h0M601.3 186.9h0M603.7 181h0M601.3 171.7h0M601.1 194.6h0M604.7 198.5h0M603.6 184.2h0M606.1 182.7h0M605.7 183.8h0M603.6 169.1h0M604.9 180.8h0M607.6 188.2h0M607 186.2h0M602.2 184h0M605.3 110.8h0" stroke="#ff0000" stroke-opacity="0.5" stroke-width="2.6" stroke-linecap="round"/>
<path d="M607 198.7h0M602.6 190.4h0M603.1 198.3h0M607.1 190.6h0M607.1 174.2h0M605.7 198.9h0M606.9 192.1h0M604 186.4h0M607.9 191.8h0M603.6 186.8h0M607.9 194.7h0M601 182.3h0M601.9 183h0M604.6 191.9h0M605.8 135.2h0M604.5 171.2h0M601.3 134.1h0M603.2 137.3h0M607.9 167.6h0M607 196.2h0M603.4 194.2h0M606.3 198.3h0M607.5 195h0M605.6 190h0M604.7 148.6h0M602.1 198.2h0M604.7 189.5h0M606.8 198.1h0M605.6 184.7h0M604.8 194.9h0M604.3 177.4h0M604.2 191.6h0M607.5 174.9h0M606.4 135.1h0M604.7 196.6h0M607.9 196.6h0M605.2 165.4h0M603 158.1h0M607.7 195.9h0M607.3 166.5h0M605.9 190.8h0M606.3 155.4h0M608.1 188.7h0M608.2 165.3h0M605.8 181.6h0M608.3 197.2h0M604.9 181.7h0M603.1 184.4h0M603 193.5h0M604.2 195.8h0M606.5 195.8h0M605.8 189.1h0M607.1 179.1h0M604.1 160.3h0M607.6 162.4h0M601.6 189.6h0M608.2 196.3h0M602.1 196h0M607.1 194.7h0M605 182.3h0M607.9 176.8h0M608.2 198.5h0M604.2 181.4h0M605.4 188.4h0M602.6 196.1h0M605.2 161.4h0M606.6 188.3h0M601.1 195.1h0M606.5 192.2h0M605.1 190.7h0M606.5 194.7h0M603.1 198.9h0M602.3 165h0M602.5 194.2h0M601.1 177.4h0M606.7 159.4h0M603.3 181.4h0M606.8 195.8h0M601.3 185.9h0M606.6 192.5h0M604.7 151.2h0M608 194.4h0M602.3 174.4h0M607.5 122.4h0" stroke="#ff0000" stroke-opacity="0.5" stroke-width="2.6" stroke-linecap="round"/>
<path d="M604.7 174.1V143.2M604.7 194.4V199.1" stroke="#ff0000" stroke-width="0.8"/>
<rect x="600.7" y="174.1" width="8" height="20.3" fill="#fff" fill-opacity="0.45" stroke="#ff0000" stroke-width="0.9"/>
<path d="M600.7 185.9H608.7" stroke="#ff0000" stroke-width="1.6"/>
<path d="M612.2 189.3h0M616.1 181.4h0M614.5 183.1h0M616.7 196h0M616.8 187.6h0M615.5 185.1h0M613.7 187.5h0M616.3 175.9h0M616.3 198.5h0M615.9 165.6h0" stroke="#0000ff" stroke-opacity="0.5" stroke-width="2.6" stroke-linecap="round"/>
<path d="M615.4 183.8h0M617.9 192.5h0M617.1 179.5h0M614 159.5h0M616.1 183h0M617.5 176.6h0M611.8 175h0M613.2 184h0M615.4 193h0M614.8 167.8h0" stroke="#0000ff" stroke-opacity="0.5" stroke-width="2.6" stroke-linecap="round"/>
<path d="M612 166.2h0M612.5 182.1h0M618.3 178.7h0M618.2 179.8h0M616.1 173h0M617.8 172.8h0M612.2 174.9h0M615.3 165.6h0M615.8 182.2h0M616.4 187.3h0" stroke="#0000ff" stroke-opacity="0.5" stroke-width="2.6" stroke-linecap="round"/>
<path d="M617.3 177h0M611.6 184.1h0M611.7 160.1h0M612 184.8h0M615.5 179.3h0M615.5 162.4h0M612.2 192.3h0M617.6 170.9h0M614.1 186.5h0M612.9 188.2h0" stroke="#0000ff" stroke-opacity="0.5" stroke-width="2.6" stroke-linecap="round"/>
<path d="M612.3 167.8h0M613.6 167.7h0M614.1 171.1h0M614.4 176.7h0M616.3 186.8h0M618.4 156.9h0M616.7 190.4h0M617.5 185.7h0M614.5 175.4h0M616.2 171.4h0" stroke="#0000ff" stroke-opacity="0.5" stroke-width="2.6" stroke-linecap="round"/>
<path d="M618.1 182h0M617.5 188.6h0M614.3 192.5h0M612.2 183.3h0M612.9 166.2h0M613.3 165.2h0M612 190.9h0M611.9 182.6h0M617.9 175.9h0M616.4 147.8h0" stroke="#0000ff" stroke-opacity="0.5" stroke-width="2.6" stroke-linecap="round"/>
<path d="M615.1 171.8V157M615.1 188.4V199.1" stroke="#0000ff" stroke-width="0.8"/>
<rect x="611.1" y="171.8" width="8" height="16.6" fill="#fff" fill-opacity="0.45" stroke="#0000ff" stroke-width="0.9"/>
<path d="M611.1 181.7H619.1" stroke="#0000ff" stroke-width="1.6"/>
<path d="M622.7 169h0M625.2 182.3h0M626.7 186.3h0M622.3 164.2h0M623.9 174.5h0M624.9 188.4h0M623 198.8h0M622.8 196.8h0M624.4 198.9h0M623.9 198.4h0M622.2 190.7h0M625.3 190.5h0M629 184.7h0M623.7 185.8h0M622 194.1h0M623.7 195.9h0M623.4 190.9h0M624.5 194.3h0M628.6 194.3h0M624.7 180.7h0M624.6 127h0" stroke="#ff0000" stroke-opacity="0.5" stroke-width="2.6" stroke-linecap="round"/>
<path d="M627.2 185.2h0M626.4 197.9h0M629 178.3h0M625.4 191.7h0M627.7 191.2h0M628.3 188.4h0M624.3 196.8h0M625.3 176.6h0M627.7 189.5h0M624.2 198.3h0M622.9 180.8h0M623.3 187.8h0M629.2 193.7h0M623.9 193.1h0M624.1 178.7h0M627.5 197h0M622.9 183.2h0M626.9 184.3h0M626.9 191.2h0M624.9 192.1h0M628.3 133.9h0" stroke="#ff0000" stroke-opacity="0.5" stroke-width="2.6" stroke-linecap="round"/>
<path d="M629 197.5h0M623.1 188.1h0M627.2 186.6h0M623.4 195h0M628.5 191.3h0M621.9 192.7h0M628.5 187.3h0M622 190.9h0M629 197.4h0M629 182.7h0M622.6 192.9h0M624.4 195.2h0M628.4 175.6h0M628.3 185.7h0M623 196.1h0M625.8 185.8h0M627.1 181.2h0M628.8 193.6h0M622.9 195.6h0M629.1 187.6h0" stroke="#ff0000" stroke-opacity="0.5" stroke-width="2.6" stroke-linecap="round"/>
<path d="M628.3 198.7h0M628.7 194.7h0M627 181.4h0M624.3 196.2h0M625.7 158.4h0M623.8 185.4h0M626.6 195.7h0M627.8 183.4h0M629.1 193.9h0M628.7 193.4h0M624.4 194.4h0M627.5 193.5h0M624.1 186.4h0M627.3 185.3h0M628.2 190.7h0M624.9 178.2h0M628 198.4h0M622.7 192h0M624 169.9h0M626.8 173.9h0" stroke="#ff0000" stroke-opacity="0.5" stroke-width="2.6" stroke-linecap="round"/>
<path d="M625 179.5h0M625.5 195.9h0M626.1 185h0M627.8 181.4h0M628.9 186.8h0M625.4 196.1h0M623.7 186.5h0M628.8 198.4h0M625.3 193.5h0M627.4 196.6h0M624.3 188.5h0M625.7 182.8h0M628.9 191.7h0M625 185.3h0M625.7 188.9h0M626 179.1h0M628.3 198.4h0M627.5 170h0M625 194.7h0M624 170.8h0" stroke="#ff0000" stroke-opacity="0.5" stroke-width="2.6" stroke-linecap="round"/>
<path d="M625.9 198.9h0M625.6 180.8h0M626.1 188.4h0M627.2 199h0M624.8 170.9h0M627.6 196.7h0M626.1 196.4h0M628.9 180.1h0M628.7 193.2h0M625.9 191h0M624.1 195.5h0M628 187.6h0M622.9 194.8h0M623.2 198.5h0M626 197.9h0M626.3 196.7h0M629.1 187.8h0M627.9 184.6h0M624.3 183.8h0M627.1 193.9h0" stroke="#ff0000" stroke-opacity="0.5" stroke-width="2.6" stroke-linecap="round"/>
<path d="M625.5 184.3V166.3M625.5 195.1V199.1" stroke="#ff0000" stroke-width="0.8"/>
<rect x="621.5" y="184.3" width="8" height="10.9" fill="#fff" fill-opacity="0.45" stroke="#ff0000" stroke-width="0.9"/>
<path d="M621.5 190.3H629.5" stroke="#ff0000" stroke-width="1.6"/>
<path d="M639.1 165.4h0M633.8 187.3h0M634.4 194.9h0M632.8 149.7h0M633.7 195h0M636 195h0M633.4 181.6h0M639.6 175.8h0M635.3 195.2h0M632.5 197.3h0M639 184.5h0M634.8 169.2h0M634.3 160.2h0M636.2 198.4h0M634.2 190.6h0M632.6 171.2h0M636.9 159.3h0M632.3 195.5h0M635.9 183.8h0M636.7 181h0M633.5 193.8h0M633 186.3h0M633.5 169.8h0M639 194.8h0M638.2 189.3h0M632.3 172.1h0M636.9 195.4h0M639.4 179.2h0M634.4 186.8h0M636.1 195.3h0M633.4 173h0M632.3 185.2h0M638.1 196.8h0M639.5 197.7h0M638 182h0M638.2 160.1h0M632.4 176.5h0M634.1 186.6h0M632.6 176h0M639.4 175.5h0M632.5 198.9h0M638.4 196.9h0M637.8 197.9h0M636.3 193.4h0M633.2 199.1h0M635.6 191h0M634.5 176.3h0M634.4 196.5h0M637.9 195.6h0M638.1 191.9h0M635.8 197.7h0M636.7 198.8h0M639.5 172h0M633.8 196.8h0M636.1 195.1h0M632.9 185.3h0M633.1 198.1h0M638.7 182.5h0M636.5 194.1h0M639.3 174.2h0M634.9 162.3h0M639 170.2h0M633.9 195.4h0M638.6 192.6h0M634.8 190.4h0M637.7 177.3h0M636.6 185.4h0M637.4 192.8h0M639 136.6h0M634.3 179.2h0M639.5 183.7h0M639.2 197.9h0M632.9 193.9h0M638.1 181.4h0M634.6 191h0M633.4 187.3h0M635.1 185.5h0M636.2 197.7h0M635.6 197.8h0M635.6 158.9h0M637.7 183.4h0M633.1 186.8h0M636.4 171.1h0M634 136.6h0M636.1 156.9h0M639.5 171.4h0M639.5 196.2h0M638.6 188.8h0M639 196.2h0M636.6 177.5h0M633.6 172h0M632.9 117.7h0" stroke="#ff0000" stroke-opacity="0.5" stroke-width="2.6" stroke-linecap="round"/>
<path d="M636.5 182.2h0M635.5 195.4h0M637.5 186.9h0M635.2 190.3h0M634.5 198.6h0M639.3 186.4h0M637.6 198.9h0M632.4 192.6h0M635.9 185.6h0M634.6 193.8h0M634.4 198.7h0M637.6 198.8h0M639.2 168.8h0M638.3 172.7h0M633.2 191.5h0M638.9 193.3h0M638.9 187.7h0M638.5 196.6h0M639.6 197.1h0M637.3 194.7h0M633.7 190.4h0M634.6 198.5h0M634.4 198.7h0M637.2 194.4h0M633.8 191.2h0M637.1 178.6h0M638.5 172.8h0M639.6 198.6h0M635.2 198.7h0M633.2 192.4h0M635.4 195.8h0M636.5 180.3h0M633.5 182.3h0M634.7 137.8h0M637.3 198.6h0M634.9 167.7h0M637.9 197.2h0M636.8 197.5h0M635.4 190.4h0M636 197.1h0M636.3 190.6h0M638.8 193.4h0M633.5 197.8h0M637.7 184.4h0M636.1 198h0M637.4 175.2h0M635 195.9h0M634.6 197h0M634.1 198.8h0M634.1 171.7h0M633 176.6h0M633.3 181.8h0M637 188.5h0M633.2 191h0M635.8 167.9h0M633.5 172.4h0M636.2 171h0M635.8 164.8h0M633 176.7h0M638.3 191.3h0M633.5 182.9h0M637.1 197.1h0M636.1 187.6h0M633.2 188.1h0M637.3 195.6h0M638.8 197.3h0M632.8 194.4h0M634.8 196.1h0M633.7 185.4h0M634.1 194.8h0M638.7 190.2h0M633.5 175.4h0M633.1 194.3h0M638.8 160.1h0M634.6 164.2h0M635.3 195.6h0M636.5 157.2h0M636.9 181.9h0M633.7 195.5h0M639 182h0M634.6 166h0M638.4 156.2h0M633.5 174.4h0M639.5 198.8h0M638 189.2h0M638.8 171.9h0M639.5 174.9h0M634.6 198.5h0M632.6 183.9h0M636.8 197.8h0M637 188.7h0M634.8 122.4h0" stroke="#ff0000" stroke-opacity="0.5" stroke-width="2.6" stroke-linecap="round"/>
<path d="M632.4 136.2h0M634.3 194.7h0M638.6 193.1h0M635 190.3h0M633.1 193.5h0M634.5 157.2h0M632.3 196.1h0M636.8 191.9h0M637.1 183.6h0M632.3 184.6h0M636.8 197.3h0M633.5 191.4h0M636 198.2h0M637.3 197.6h0M638.2 185.6h0M638.6 194.3h0M632.4 196.6h0M633.2 172.9h0M636.3 186h0M638.3 189.9h0M635.3 192.6h0M632.3 176.1h0M636.7 196.2h0M634.3 150.5h0M639.7 184.2h0M634.7 197.6h0M638 173.1h0M638.6 190.9h0M638.3 171.6h0M635.2 192h0M637.1 165.9h0M633.4 192.6h0M633.4 164.2h0M632.6 190.2h0M637.1 176.9h0M634.4 191.3h0M633.2 198.1h0M635.9 173h0M637.7 168.7h0M634.8 176.4h0M633.2 185.8h0M638.6 165.6h0M637.5 183.7h0M636.9 188.6h0M635.3 184.7h0M639.4 172.3h0M637.2 196.5h0M634.1 191.9h0M632.4 198h0M633.8 191h0M633.3 198.6h0M637.7 190.9h0M633.9 195.5h0M634.8 191.7h0M635.3 182.1h0M637.6 184.7h0M638.8 197.4h0M636.4 179.3h0M632.9 178.1h0M638.9 199h0M634.5 197.5h0M637.7 194h0M639.2 193.4h0M638.9 185.5h0M639.6 195.3h0M638.8 191.9h0M633.2 191h0M637.4 195.8h0M634.3 179.9h0M639.2 189.7h0M632.7 176.8h0M638 196.7h0M635 158h0M634.3 182.2h0M637.3 198.4h0M639 176h0M634.7 197.2h0M639 187h0M633.9 195.9h0M636.5 198.9h0M638.7 186.4h0M636.1 192h0M633.7 162.5h0M634.8 191h0M638.6 184.1h0M634.1 194.3h0M637.6 157.9h0M635.5 174.1h0M633.4 189h0M637 184.5h0M639.4 196.3h0" stroke="#ff0000" stroke-opacity="0.5" stroke-width="2.6" stroke-linecap="round"/>
<path d="M636.4 195.6h0M632.8 178.3h0M634.3 191.7h0M633.5 196.8h0M634.1 175.6h0M632.4 197.1h0M633.2 183.6h0M639 182.4h0M636.3 196.3h0M638.1 197.4h0M634.5 138.6h0M635.8 193.2h0M638.2 196h0M636.8 190.8h0M637.9 184.5h0M635.2 182.3h0M635.2 155.6h0M637.4 184.8h0M636.4 192.1h0M633.7 182.2h0M635.9 197.7h0M633.3 195h0M638.3 198.6h0M636.2 191.4h0M632.3 174.6h0M634 193.8h0M636.9 185.3h0M636.2 197.5h0M639.4 175.7h0M636.2 194.6h0M637.3 194.3h0M636.6 199h0M638.7 179.5h0M636.7 191.3h0M636.5 191.7h0M632.9 194.1h0M632.4 194.7h0M636.7 190.8h0M633.2 188.2h0M639 195.5h0M634.1 169.6h0M633.2 193.5h0M637.5 192.6h0M636.8 165.6h0M634.6 195.3h0M633.2 198.1h0M637.3 186.4h0M638.2 196.9h0M636.8 162.6h0M634.4 192.8h0M637.2 190.9h0M637 197.6h0M637.6 197.1h0M636.8 182.5h0M633.6 187.8h0M636.2 189.6h0M637.8 181.2h0M636.3 198.2h0M635.7 180.7h0M632.5 198.2h0M635.8 192.5h0M635 196h0M636.2 186h0M633.7 173.9h0M636.4 179.1h0M637.6 198.3h0M638.2 198.4h0M636.6 192.2h0M634.6 188h0M639.5 146.1h0M636.3 175h0M636.5 196h0M638.9 182.4h0M635.3 198.4h0M635.9 184.8h0M637.1 194.1h0M633.8 186h0M634.2 183.3h0M633.3 192.2h0M632.8 197.6h0M633.7 195h0M636.8 157.4h0M632.8 197.9h0M635.3 164.6h0M639.1 193h0M636.5 193.1h0M637 181.8h0M635.7 189.1h0M634.8 193.4h0M635 195.2h0M638.4 191.7h0" stroke="#ff0000" stroke-opacity="0.5" stroke-width="2.6" stroke-linecap="round"/>
<path d="M634.4 197.2h0M638.6 186.6h0M635.7 195.7h0M635.2 193.2h0M638.9 171.7h0M639.1 183.3h0M636.1 190.7h0M633.1 142.9h0M637.6 185.6h0M637 148.6h0M636.6 195.7h0M638 183.7h0M637.9 170.4h0M633.9 197.2h0M636.3 196.8h0M635.7 197.2h0M633.6 187.4h0M637.1 195.3h0M633.6 165h0M637.4 192.1h0M638.8 198.8h0M639.6 193.5h0M637.1 186.2h0M635 176.1h0M632.5 194h0M635.2 196.7h0M632.8 159.9h0M636.7 196.2h0M635.5 187.6h0M634.8 190.5h0M638 192.4h0M633.4 193.2h0M636.4 192.3h0M637.4 152.8h0M634.1 159.5h0M636.2 189.6h0M637.4 176.7h0M637.1 192.6h0M639 181.6h0M632.5 179.9h0M634.3 195.6h0M638.4 172.1h0M636 192.6h0M639.1 190.6h0M634.2 182.2h0M634.9 185.7h0M634.5 187.8h0M633.9 170.1h0M634.1 191.5h0M638.3 188.2h0M633.3 198.2h0M636.8 196.9h0M634.1 182.1h0M639.5 194.3h0M639.5 187h0M632.9 178.3h0M633.8 197.1h0M633.1 147h0M634.3 198.3h0M639.2 191.1h0M636.2 197.7h0M638.7 193.5h0M634.6 197.8h0M639.6 198.7h0M635.6 183.2h0M635.1 197.1h0M632.7 186.4h0M638.8 197h0M637.4 174.1h0M636.2 174.2h0M639.4 196.6h0M634.5 192h0M634.2 196.2h0M637 192.2h0M637.4 192.2h0M637.8 188.7h0M638.9 196.3h0M635.4 165.5h0M637.2 195.6h0M639.1 190.3h0M635.8 188.3h0M635.8 172.2h0M638.7 181.6h0M637.3 182.7h0M638.6 196.4h0M633.6 193.1h0M638 180.1h0M635.3 190.9h0M634.5 190.5h0M637.6 189h0M636.6 186.6h0" stroke="#ff0000" stroke-opacity="0.5" stroke-width="2.6" stroke-linecap="round"/>
<path d="M638.6 185.6h0M635.9 187.5h0M633.3 193.8h0M637.9 169.7h0M633.7 166.2h0M636.7 197.8h0M635.9 186.6h0M634.4 190.1h0M633 196.8h0M639.1 157.5h0M638 195.6h0M632.9 192h0M635.3 196.4h0M633.1 195h0M633.9 190.6h0M634.1 185.3h0M638.4 194h0M637.7 172.5h0M635.4 189.9h0M633.7 186.1h0M636.6 197.4h0M639.1 189.8h0M636.1 196.3h0M637.4 198.1h0M637.1 180.7h0M632.4 186.5h0M633.3 161h0M633.2 174.8h0M638.5 192.2h0M637.2 190.6h0M632.6 199h0M638.9 185.8h0M635.4 182.8h0M637.9 192.4h0M632.3 194.4h0M636.7 186.1h0M633.4 141.3h0M635.1 198.6h0M634.3 188.6h0M634.2 191.6h0M634.3 194.8h0M636.7 171.1h0M635.9 199h0M635.9 185h0M639 191.1h0M633.7 183.8h0M637.3 192.4h0M632.9 196.7h0M637.2 182.2h0M634.9 166.1h0M637 160.2h0M636.6 193h0M635.2 183.6h0M639.1 198.6h0M639.1 184.1h0M635.7 190.9h0M634 192.7h0M637.1 187.8h0M636.9 196.7h0M636.4 192.8h0M633.3 175.6h0M638.3 189.3h0M637.1 162.9h0M636.7 189h0M634 188.7h0M637.7 196.5h0M639.4 198.7h0M636.5 172.5h0M636.8 185.7h0M633 183.7h0M638.4 178.3h0M633.4 198.4h0M638.4 198.9h0M637.3 185.7h0M637.9 172.4h0M637.3 159.8h0M634.7 181.1h0M634.1 183.4h0M634.1 178.4h0M639.3 194.4h0M634.2 175.9h0M638.6 195.8h0M639.5 183.3h0M638 197.2h0M634.9 181.9h0M635 174.2h0M632.6 186.8h0M633.3 184.5h0M636.8 193.6h0M637.3 192.2h0M637.9 113.1h0" stroke="#ff0000" stroke-opacity="0.5" stroke-width="2.6" stroke-linecap="round"/>
<path d="M636 181V157M636 195.1V199.1" stroke="#ff0000" stroke-width="0.8"/>
<rect x="632" y="181" width="8" height="14.1" fill="#fff" fill-opacity="0.45" stroke="#ff0000" stroke-width="0.9"/>
<path d="M632 190.3H640" stroke="#ff0000" stroke-width="1.6"/>
<path d="M645.7 166.6h0M644.2 190.8h0M643.8 195.2h0M646.6 164.6h0M646.6 184h0M645.3 163.2h0M644.7 127h0" stroke="#0000ff" stroke-opacity="0.5" stroke-width="2.6" stroke-linecap="round"/>
<path d="M646.7 178.7h0M645 177.8h0M649.4 181.5h0M649.2 183.4h0M645.1 178h0M649.2 187.2h0M648.8 131.6h0" stroke="#0000ff" stroke-opacity="0.5" stroke-width="2.6" stroke-linecap="round"/>
<path d="M645.4 161.9h0M645.8 147.9h0M646 187.2h0M642.8 169.9h0M644.9 191.4h0M648.5 179.6h0" stroke="#0000ff" stroke-opacity="0.5" stroke-width="2.6" stroke-linecap="round"/>
<path d="M647.4 169.7h0M647.3 194.3h0M643.3 181.4h0M646.3 191.5h0M647.2 187.7h0M649.5 178.9h0" stroke="#0000ff" stroke-opacity="0.5" stroke-width="2.6" stroke-linecap="round"/>
<path d="M646.3 151.4h0M644 161.9h0M642.9 185.7h0M646.9 185.3h0M649.4 191.8h0M643.3 185.3h0" stroke="#0000ff" stroke-opacity="0.5" stroke-width="2.6" stroke-linecap="round"/>
<path d="M644.5 178.7h0M648.4 186h0M644.6 192.8h0M648.7 186.4h0M645.1 178.8h0M647.4 92.3h0" stroke="#0000ff" stroke-opacity="0.5" stroke-width="2.6" stroke-linecap="round"/>
<path d="M646.4 170V150.6M646.4 187.7V199.1" stroke="#0000ff" stroke-width="0.8"/>
<rect x="642.4" y="170" width="8" height="17.8" fill="#fff" fill-opacity="0.45" stroke="#0000ff" stroke-width="0.9"/>
<path d="M642.4 184.7H650.4" stroke="#0000ff" stroke-width="1.6"/>
<path d="M655.3 198.4h0M653.2 192.5h0M655.9 198.6h0M655.2 197.4h0M660.3 198.4h0M655.7 196.9h0M654.6 196.2h0M658 192.6h0M656.4 193.8h0M653.3 197.3h0" stroke="#ff0000" stroke-opacity="0.5" stroke-width="2.6" stroke-linecap="round"/>
<path d="M655.2 195.9h0M659.6 195.7h0M659.7 198.4h0M653.2 195.4h0M658.7 198.2h0M655.7 199h0M657 192.7h0M658.3 197.7h0M658 198.8h0M659.9 197.9h0" stroke="#ff0000" stroke-opacity="0.5" stroke-width="2.6" stroke-linecap="round"/>
<path d="M654.2 199h0M658.6 195.6h0M657 192.9h0M654.8 198.8h0M653.3 192.7h0M657.2 196.7h0M653.4 197.3h0M656 198.7h0M656.4 198.9h0M658.6 197.5h0" stroke="#ff0000" stroke-opacity="0.5" stroke-width="2.6" stroke-linecap="round"/>
<path d="M653.6 198.9h0M653.7 199h0M653.3 199h0M655.2 195.8h0M656.1 196.7h0M655 198h0M654.3 193.3h0M654 191.3h0M656.6 192.5h0M658.9 170.9h0" stroke="#ff0000" stroke-opacity="0.5" stroke-width="2.6" stroke-linecap="round"/>
<path d="M660.3 184h0M659.9 198.4h0M654.8 187.7h0M653.4 198.9h0M659.3 198h0M658.5 194.6h0M659.7 198.2h0M654.4 184.6h0M656.7 198.7h0M657.8 175.5h0" stroke="#ff0000" stroke-opacity="0.5" stroke-width="2.6" stroke-linecap="round"/>
<path d="M653.7 184.6h0M655.5 194.2h0M654.2 195.7h0M654.5 195.7h0M659.9 198.7h0M659.2 199h0M660.3 185.7h0M655.7 198.7h0M654.7 195.3h0" stroke="#ff0000" stroke-opacity="0.5" stroke-width="2.6" stroke-linecap="round"/>
<path d="M656.8 195.4V191.7M656.8 198.6V199.1" stroke="#ff0000" stroke-width="0.8"/>
<rect x="652.8" y="195.4" width="8" height="3.2" fill="#fff" fill-opacity="0.45" stroke="#ff0000" stroke-width="0.9"/>
<path d="M652.8 197.4H660.8" stroke="#ff0000" stroke-width="1.6"/>
<path d="M665.8 197.8h0M664.8 198.9h0M669.2 198.9h0M670.6 198.5h0M670.5 194.9h0M664.5 197.8h0M668.2 197.8h0M667.6 195.2h0M667.3 198.2h0M670.6 197.1h0M665 196.4h0M665.1 197.7h0M665.2 197.1h0M669.3 195.9h0" stroke="#ff0000" stroke-opacity="0.5" stroke-width="2.6" stroke-linecap="round"/>
<path d="M667.3 194.9h0M667.1 198.3h0M664.2 196.6h0M667.8 197.3h0M665.6 194.9h0M665.5 197.7h0M670.4 193h0M669 197.4h0M664.2 195h0M666.6 196.5h0M668.6 187.2h0M665.6 196.3h0M666.6 198.7h0M669 198.7h0" stroke="#ff0000" stroke-opacity="0.5" stroke-width="2.6" stroke-linecap="round"/>
<path d="M669.4 199h0M670.4 197.5h0M669.7 197.1h0M665.3 198.2h0M669.7 196.6h0M668.5 190.6h0M663.6 193.9h0M663.8 193.8h0M663.6 198.7h0M666.9 197.5h0M668.2 197.3h0M669.8 199.1h0M666.9 198.8h0M668.1 180.1h0" stroke="#ff0000" stroke-opacity="0.5" stroke-width="2.6" stroke-linecap="round"/>
<path d="M669.2 194.9h0M668.5 197.1h0M669.6 196.8h0M669.1 198.6h0M666.6 198h0M664.6 195.1h0M667.9 197.5h0M664 198.4h0M664.4 199h0M670.3 199h0M666 194.4h0M666 198.5h0M665 197.8h0M664.1 182.4h0" stroke="#ff0000" stroke-opacity="0.5" stroke-width="2.6" stroke-linecap="round"/>
<path d="M667.2 195.2h0M669.5 198.9h0M665.1 198h0M666.1 198.7h0M670.8 198.8h0M669.5 197.6h0M668.7 197.8h0M666 198.4h0M669.4 196.9h0M670.2 198.5h0M668.4 198.4h0M668.9 195.1h0M670.1 197.2h0" stroke="#ff0000" stroke-opacity="0.5" stroke-width="2.6" stroke-linecap="round"/>
<path d="M668.4 197h0M667 197.9h0M669.5 198.7h0M667.9 197.1h0M665 198.1h0M667.9 196.4h0M668.3 198.9h0M664.8 196.7h0M666.1 195.3h0M669.2 197.3h0M664.3 196.7h0M664.5 198.4h0M669.6 197.3h0" stroke="#ff0000" stroke-opacity="0.5" stroke-width="2.6" stroke-linecap="round"/>
<path d="M667.2 196.3V192.8M667.2 198.6V199.1" stroke="#ff0000" stroke-width="0.8"/>
<rect x="663.2" y="196.3" width="8" height="2.3" fill="#fff" fill-opacity="0.45" stroke="#ff0000" stroke-width="0.9"/>
<path d="M663.2 197.7H671.2" stroke="#ff0000" stroke-width="1.6"/>
<rect x="35.5" y="24.5" width="638" height="182.2" fill="none" stroke="#808080" stroke-width="1"/>
<text x="30.8" y="201.8" font-family="'Liberation Sans',sans-serif" font-size="9" fill="#4d4d4d" text-anchor="end">0</text>
<text x="30.8" y="155.6" font-family="'Liberation Sans',sans-serif" font-size="9" fill="#4d4d4d" text-anchor="end">2</text>
<text x="30.8" y="109.4" font-family="'Liberation Sans',sans-serif" font-size="9" fill="#4d4d4d" text-anchor="end">4</text>
<text x="30.8" y="63.2" font-family="'Liberation Sans',sans-serif" font-size="9" fill="#4d4d4d" text-anchor="end">6</text>
<path d="M32.9 198.6H35.5M32.9 152.4H35.5M32.9 106.2H35.5M32.9 60H35.5M41.8 206.7V209.3M52.2 206.7V209.3M62.6 206.7V209.3M73 206.7V209.3M83.5 206.7V209.3M93.9 206.7V209.3M104.3 206.7V209.3M114.7 206.7V209.3M125.2 206.7V209.3M135.6 206.7V209.3M146 206.7V209.3M156.4 206.7V209.3M166.9 206.7V209.3M177.3 206.7V209.3M187.7 206.7V209.3M198.1 206.7V209.3M208.6 206.7V209.3M219 206.7V209.3M229.4 206.7V209.3M239.8 206.7V209.3M250.3 206.7V209.3M260.7 206.7V209.3M271.1 206.7V209.3M281.5 206.7V209.3M292 206.7V209.3M302.4 206.7V209.3M312.8 206.7V209.3M323.2 206.7V209.3M333.7 206.7V209.3M344.1 206.7V209.3M354.5 206.7V209.3M364.9 206.7V209.3M375.3 206.7V209.3M385.8 206.7V209.3M396.2 206.7V209.3M406.6 206.7V209.3M417 206.7V209.3M427.5 206.7V209.3M437.9 206.7V209.3M448.3 206.7V209.3M458.7 206.7V209.3M469.2 206.7V209.3M479.6 206.7V209.3M490 206.7V209.3M500.4 206.7V209.3M510.9 206.7V209.3M521.3 206.7V209.3M531.7 206.7V209.3M542.1 206.7V209.3M552.6 206.7V209.3M563 206.7V209.3M573.4 206.7V209.3M583.8 206.7V209.3M594.3 206.7V209.3M604.7 206.7V209.3M615.1 206.7V209.3M625.5 206.7V209.3M636 206.7V209.3M646.4 206.7V209.3M656.8 206.7V209.3M667.2 206.7V209.3" stroke="#333" stroke-width="0.8"/>
<text transform="translate(45 211.5) rotate(-90)" font-family="'Liberation Sans',sans-serif" font-size="9" fill="#333" text-anchor="end">ACC.Tumor (n=79)</text>
<text transform="translate(55.4 211.5) rotate(-90)" font-family="'Liberation Sans',sans-serif" font-size="9" fill="#333" text-anchor="end">BLCA.Tumor (n=408)</text>
<text transform="translate(65.8 211.5) rotate(-90)" font-family="'Liberation Sans',sans-serif" font-size="9" fill="#333" text-anchor="end">BLCA.Normal (n=19)</text>
<text transform="translate(76.2 211.5) rotate(-90)" font-family="'Liberation Sans',sans-serif" font-size="9" fill="#333" text-anchor="end">BRCA.Tumor (n=1093)</text>
<text transform="translate(86.7 211.5) rotate(-90)" font-family="'Liberation Sans',sans-serif" font-size="9" fill="#333" text-anchor="end">BRCA.Normal (n=112)</text>
<text transform="translate(97.1 211.5) rotate(-90)" font-family="'Liberation Sans',sans-serif" font-size="9" fill="#333" text-anchor="end">BRCA-Basal.Tumor (n=190)</text>
<text transform="translate(107.5 211.5) rotate(-90)" font-family="'Liberation Sans',sans-serif" font-size="9" fill="#333" text-anchor="end">BRCA-Her2.Tumor (n=82)</text>
<text transform="translate(117.9 211.5) rotate(-90)" font-family="'Liberation Sans',sans-serif" font-size="9" fill="#333" text-anchor="end">BRCA-LumA.Tumor (n=564)</text>
<text transform="translate(128.4 211.5) rotate(-90)" font-family="'Liberation Sans',sans-serif" font-size="9" fill="#333" text-anchor="end">BRCA-LumB.Tumor (n=217)</text>
<text transform="translate(138.8 211.5) rotate(-90)" font-family="'Liberation Sans',sans-serif" font-size="9" fill="#333" text-anchor="end">CESC.Tumor (n=304)</text>
<text transform="translate(149.2 211.5) rotate(-90)" font-family="'Liberation Sans',sans-serif" font-size="9" fill="#333" text-anchor="end">CESC.Normal (n=3)</text>
<text transform="translate(159.6 211.5) rotate(-90)" font-family="'Liberation Sans',sans-serif" font-size="9" fill="#333" text-anchor="end">CHOL.Tumor (n=36)</text>
<text transform="translate(170.1 211.5) rotate(-90)" font-family="'Liberation Sans',sans-serif" font-size="9" fill="#333" text-anchor="end">CHOL.Normal (n=9)</text>
<text transform="translate(180.5 211.5) rotate(-90)" font-family="'Liberation Sans',sans-serif" font-size="9" fill="#333" text-anchor="end">COAD.Tumor (n=457)</text>
<text transform="translate(190.9 211.5) rotate(-90)" font-family="'Liberation Sans',sans-serif" font-size="9" fill="#333" text-anchor="end">COAD.Normal (n=41)</text>
<text transform="translate(201.3 211.5) rotate(-90)" font-family="'Liberation Sans',sans-serif" font-size="9" fill="#333" text-anchor="end">DLBC.Tumor (n=48)</text>
<text transform="translate(211.8 211.5) rotate(-90)" font-family="'Liberation Sans',sans-serif" font-size="9" fill="#333" text-anchor="end">ESCA.Tumor (n=184)</text>
<text transform="translate(222.2 211.5) rotate(-90)" font-family="'Liberation Sans',sans-serif" font-size="9" fill="#333" text-anchor="end">ESCA.Normal (n=11)</text>
<text transform="translate(232.6 211.5) rotate(-90)" font-family="'Liberation Sans',sans-serif" font-size="9" fill="#333" text-anchor="end">GBM.Tumor (n=153)</text>
<text transform="translate(243 211.5) rotate(-90)" font-family="'Liberation Sans',sans-serif" font-size="9" fill="#333" text-anchor="end">GBM.Normal (n=5)</text>
<text transform="translate(253.5 211.5) rotate(-90)" font-family="'Liberation Sans',sans-serif" font-size="9" fill="#333" text-anchor="end">HNSC.Tumor (n=520)</text>
<text transform="translate(263.9 211.5) rotate(-90)" font-family="'Liberation Sans',sans-serif" font-size="9" fill="#333" text-anchor="end">HNSC.Normal (n=44)</text>
<text transform="translate(274.3 211.5) rotate(-90)" font-family="'Liberation Sans',sans-serif" font-size="9" fill="#333" text-anchor="end">HNSC-HPV+.Tumor (n=97)</text>
<text transform="translate(284.7 211.5) rotate(-90)" font-family="'Liberation Sans',sans-serif" font-size="9" fill="#333" text-anchor="end">HNSC-HPV-.Tumor (n=421)</text>
<text transform="translate(295.2 211.5) rotate(-90)" font-family="'Liberation Sans',sans-serif" font-size="9" fill="#333" text-anchor="end">KICH.Tumor (n=66)</text>
<text transform="translate(305.6 211.5) rotate(-90)" font-family="'Liberation Sans',sans-serif" font-size="9" fill="#333" text-anchor="end">KICH.Normal (n=25)</text>
<text transform="translate(316 211.5) rotate(-90)" font-family="'Liberation Sans',sans-serif" font-size="9" fill="#333" text-anchor="end">KIRC.Tumor (n=533)</text>
<text transform="translate(326.4 211.5) rotate(-90)" font-family="'Liberation Sans',sans-serif" font-size="9" fill="#333" text-anchor="end">KIRC.Normal (n=72)</text>
<text transform="translate(336.9 211.5) rotate(-90)" font-family="'Liberation Sans',sans-serif" font-size="9" fill="#333" text-anchor="end">KIRP.Tumor (n=290)</text>
<text transform="translate(347.3 211.5) rotate(-90)" font-family="'Liberation Sans',sans-serif" font-size="9" fill="#333" text-anchor="end">KIRP.Normal (n=32)</text>
<text transform="translate(357.7 211.5) rotate(-90)" font-family="'Liberation Sans',sans-serif" font-size="9" fill="#333" text-anchor="end">LAML.Tumor (n=173)</text>
<text transform="translate(368.1 211.5) rotate(-90)" font-family="'Liberation Sans',sans-serif" font-size="9" fill="#333" text-anchor="end">LGG.Tumor (n=516)</text>
<text transform="translate(378.5 211.5) rotate(-90)" font-family="'Liberation Sans',sans-serif" font-size="9" fill="#333" text-anchor="end">LIHC.Tumor (n=371)</text>
<text transform="translate(389 211.5) rotate(-90)" font-family="'Liberation Sans',sans-serif" font-size="9" fill="#333" text-anchor="end">LIHC.Normal (n=50)</text>
<text transform="translate(399.4 211.5) rotate(-90)" font-family="'Liberation Sans',sans-serif" font-size="9" fill="#333" text-anchor="end">LUAD.Tumor (n=515)</text>
<text transform="translate(409.8 211.5) rotate(-90)" font-family="'Liberation Sans',sans-serif" font-size="9" fill="#333" text-anchor="end">LUAD.Normal (n=59)</text>
<text transform="translate(420.2 211.5) rotate(-90)" font-family="'Liberation Sans',sans-serif" font-size="9" fill="#333" text-anchor="end">LUSC.Tumor (n=501)</text>
<text transform="translate(430.7 211.5) rotate(-90)" font-family="'Liberation Sans',sans-serif" font-size="9" fill="#333" text-anchor="end">LUSC.Normal (n=51)</text>
<text transform="translate(441.1 211.5) rotate(-90)" font-family="'Liberation Sans',sans-serif" font-size="9" fill="#333" text-anchor="end">MESO.Tumor (n=87)</text>
<text transform="translate(451.5 211.5) rotate(-90)" font-family="'Liberation Sans',sans-serif" font-size="9" fill="#333" text-anchor="end">OV.Tumor (n=303)</text>
<text transform="translate(461.9 211.5) rotate(-90)" font-family="'Liberation Sans',sans-serif" font-size="9" fill="#333" text-anchor="end">PAAD.Tumor (n=178)</text>
<text transform="translate(472.4 211.5) rotate(-90)" font-family="'Liberation Sans',sans-serif" font-size="9" fill="#333" text-anchor="end">PAAD.Normal (n=4)</text>
<text transform="translate(482.8 211.5) rotate(-90)" font-family="'Liberation Sans',sans-serif" font-size="9" fill="#333" text-anchor="end">PCPG.Tumor (n=179)</text>
<text transform="translate(493.2 211.5) rotate(-90)" font-family="'Liberation Sans',sans-serif" font-size="9" fill="#333" text-anchor="end">PCPG.Normal (n=3)</text>
<text transform="translate(503.6 211.5) rotate(-90)" font-family="'Liberation Sans',sans-serif" font-size="9" fill="#333" text-anchor="end">PRAD.Tumor (n=497)</text>
<text transform="translate(514.1 211.5) rotate(-90)" font-family="'Liberation Sans',sans-serif" font-size="9" fill="#333" text-anchor="end">PRAD.Normal (n=52)</text>
<text transform="translate(524.5 211.5) rotate(-90)" font-family="'Liberation Sans',sans-serif" font-size="9" fill="#333" text-anchor="end">READ.Tumor (n=166)</text>
<text transform="translate(534.9 211.5) rotate(-90)" font-family="'Liberation Sans',sans-serif" font-size="9" fill="#333" text-anchor="end">READ.Normal (n=10)</text>
<text transform="translate(545.3 211.5) rotate(-90)" font-family="'Liberation Sans',sans-serif" font-size="9" fill="#333" text-anchor="end">SARC.Tumor (n=259)</text>
<text transform="translate(555.8 211.5) rotate(-90)" font-family="'Liberation Sans',sans-serif" font-size="9" fill="#333" text-anchor="end">SKCM.Tumor (n=103)</text>
<text transform="translate(566.2 211.5) rotate(-90)" font-family="'Liberation Sans',sans-serif" font-size="9" fill="#333" text-anchor="end">SKCM.Metastasis (n=368)</text>
<text transform="translate(576.6 211.5) rotate(-90)" font-family="'Liberation Sans',sans-serif" font-size="9" fill="#333" text-anchor="end">STAD.Tumor (n=415)</text>
<text transform="translate(587 211.5) rotate(-90)" font-family="'Liberation Sans',sans-serif" font-size="9" fill="#333" text-anchor="end">STAD.Normal (n=35)</text>
<text transform="translate(597.5 211.5) rotate(-90)" font-family="'Liberation Sans',sans-serif" font-size="9" fill="#333" text-anchor="end">TGCT.Tumor (n=150)</text>
<text transform="translate(607.9 211.5) rotate(-90)" font-family="'Liberation Sans',sans-serif" font-size="9" fill="#333" text-anchor="end">THCA.Tumor (n=501)</text>
<text transform="translate(618.3 211.5) rotate(-90)" font-family="'Liberation Sans',sans-serif" font-size="9" fill="#333" text-anchor="end">THCA.Normal (n=59)</text>
<text transform="translate(628.7 211.5) rotate(-90)" font-family="'Liberation Sans',sans-serif" font-size="9" fill="#333" text-anchor="end">THYM.Tumor (n=120)</text>
<text transform="translate(639.2 211.5) rotate(-90)" font-family="'Liberation Sans',sans-serif" font-size="9" fill="#333" text-anchor="end">UCEC.Tumor (n=545)</text>
<text transform="translate(649.6 211.5) rotate(-90)" font-family="'Liberation Sans',sans-serif" font-size="9" fill="#333" text-anchor="end">UCEC.Normal (n=35)</text>
<text transform="translate(660 211.5) rotate(-90)" font-family="'Liberation Sans',sans-serif" font-size="9" fill="#333" text-anchor="end">UCS.Tumor (n=57)</text>
<text transform="translate(670.4 211.5) rotate(-90)" font-family="'Liberation Sans',sans-serif" font-size="9" fill="#333" text-anchor="end">UVM.Tumor (n=80)</text>
<text transform="translate(21.3 261.3) rotate(-90)" fill="#1a1a1a"><tspan font-family="'Liberation Serif',serif" font-size="13.3">CD159A</tspan><tspan font-family="'Liberation Sans',sans-serif" font-size="10.8"> / KLRC1 Expression Level (log2 TPM)</tspan></text>
<rect x="306.6" y="207.9" width="21.1" height="88.5" fill="none" stroke="#e8141a" stroke-width="1.2"/>
<text x="1.4" y="332.2" font-family="'Liberation Serif',serif" font-size="13.4">B</text>
<text x="28.9" y="390.8" font-family="'Liberation Sans',sans-serif" font-size="8.6" fill="#444" text-anchor="end" textLength="5.5" lengthAdjust="spacingAndGlyphs">15</text>
<text x="28.9" y="408.4" font-family="'Liberation Sans',sans-serif" font-size="8.6" fill="#444" text-anchor="end" textLength="5.8" lengthAdjust="spacingAndGlyphs">10</text>
<text x="28.9" y="426" font-family="'Liberation Sans',sans-serif" font-size="8.6" fill="#444" text-anchor="end" textLength="3.0" lengthAdjust="spacingAndGlyphs">5</text>
<text x="28.9" y="443.6" font-family="'Liberation Sans',sans-serif" font-size="8.6" fill="#444" text-anchor="end" textLength="3.0" lengthAdjust="spacingAndGlyphs">0</text>
<text x="28.9" y="461.2" font-family="'Liberation Sans',sans-serif" font-size="8.6" fill="#444" text-anchor="end" textLength="6.6" lengthAdjust="spacingAndGlyphs">-5</text>
<text x="28.9" y="478.8" font-family="'Liberation Sans',sans-serif" font-size="8.6" fill="#444" text-anchor="end" textLength="9.4" lengthAdjust="spacingAndGlyphs">-10</text>
<text x="28.9" y="496.4" font-family="'Liberation Sans',sans-serif" font-size="8.6" fill="#444" text-anchor="end" textLength="9.4" lengthAdjust="spacingAndGlyphs">-15</text>
<path d="M30 387.7H32.8M30 405.3H32.8M30 422.9H32.8M30 440.5H32.8M30 458.1H32.8M30 475.7H32.8M30 493.3H32.8M46.4 508V510.3M64.5 508V510.3M82.6 508V510.3M100.7 508V510.3M118.8 508V510.3M136.8 508V510.3M154.9 508V510.3M173 508V510.3M191.1 508V510.3M209.2 508V510.3M227.3 508V510.3M245.4 508V510.3M263.4 508V510.3M281.4 508V510.3M299.5 508V510.3M317.6 508V510.3M335.7 508V510.3M353.8 508V510.3M371.9 508V510.3M390 508V510.3M408.2 508V510.3M426.3 508V510.3M444.4 508V510.3M462.5 508V510.3M480.6 508V510.3M498.7 508V510.3M516.8 508V510.3M534.9 508V510.3M553 508V510.3M571.1 508V510.3M589.1 508V510.3M607.2 508V510.3M625.3 508V510.3M643.4 508V510.3" stroke="#444" stroke-width="0.8"/>
<text transform="translate(17.9 431.6) rotate(-90)" font-family="'Liberation Serif',serif" font-size="8" fill="#333" text-anchor="middle">Expression</text>
<path d="M46.4 393.7V502.5" stroke="#333" stroke-width="0.55"/>
<path d="M46.4 393.7L46.3 393.7L46.3 396.4L46.3 399.1L46.3 401.8L46.3 404.6L46.3 407.3L46.3 410L46.3 412.7L46.2 415.4L46 418.2L45.6 420.9L45.1 423.6L44.3 426.3L43.3 429L42.2 431.8L41.1 434.5L40.1 437.2L39.4 439.9L38.8 442.6L38.5 445.3L38.4 448.1L38.4 450.8L38.4 453.5L38.6 456.2L38.8 458.9L39.3 461.7L40 464.4L40.8 467.1L41.8 469.8L42.8 472.5L43.7 475.3L44.5 478L45.2 480.7L45.7 483.4L46 486.1L46.2 488.9L46.3 491.6L46.3 494.3L46.3 497L46.3 499.7L46.3 502.5L46.4 502.5Z" fill="#E64B35" stroke="#333" stroke-width="0.45"/>
<path d="M46.4 393.7L46.5 393.7L46.5 396.4L46.5 399.1L46.5 401.8L46.5 404.6L46.5 407.3L46.5 410L46.5 412.7L46.5 415.4L46.6 418.2L47 420.9L47.5 423.6L48.3 426.3L49.4 429L50.7 431.8L52 434.5L53.2 437.2L54 439.9L54.6 442.6L54.8 445.3L54.9 448.1L54.9 450.8L54.8 453.5L54.6 456.2L54.2 458.9L53.5 461.7L52.7 464.4L51.8 467.1L50.7 469.8L49.7 472.5L48.8 475.3L48 478L47.4 480.7L47 483.4L46.7 486.1L46.5 488.9L46.5 491.6L46.5 494.3L46.5 497L46.5 499.7L46.5 502.5L46.4 502.5Z" fill="#4DBBD5" stroke="#333" stroke-width="0.45"/>
<path d="M44.7 445.4V456.7M43.7 445.4H45.7M43.7 456.7H45.7" stroke="#000" stroke-width="0.6"/>
<circle cx="44.7" cy="451.1" r="1.3" fill="#000"/>
<path d="M48.1 446.1V457.4M47.1 446.1H49.1M47.1 457.4H49.1" stroke="#000" stroke-width="0.6"/>
<circle cx="48.1" cy="451.8" r="1.3" fill="#000"/>
<rect x="45.6" y="381.9" width="1.6" height="0.9" fill="#555"/>
<text transform="translate(48.4 514.1) rotate(-56)" font-family="'Liberation Sans',sans-serif" font-style="italic" font-size="8" fill="#333" text-anchor="end">GBM(T=153,N=1157)</text>
<path d="M64.5 392.3V502.8" stroke="#333" stroke-width="0.55"/>
<path d="M64.5 392.3L64.4 392.3L64.4 395L64.4 397.8L64.4 400.6L64.4 403.3L64.4 406.1L64.4 408.9L64.4 411.6L64.4 414.4L64.2 417.1L63.9 419.9L63.4 422.7L62.6 425.4L61.6 428.2L60.4 431L59.3 433.7L58.2 436.5L57.4 439.3L56.9 442L56.6 444.8L56.5 447.5L56.5 450.3L56.6 453.1L56.7 455.8L57 458.6L57.5 461.4L58.2 464.1L59.1 466.9L60 469.6L61 472.4L61.9 475.2L62.7 477.9L63.3 480.7L63.8 483.5L64.1 486.2L64.3 489L64.4 491.8L64.4 494.5L64.4 497.3L64.4 500L64.4 502.8L64.5 502.8Z" fill="#E64B35" stroke="#333" stroke-width="0.45"/>
<path d="M64.5 392.3L64.6 392.3L64.6 395L64.6 397.8L64.6 400.6L64.6 403.3L64.6 406.1L64.6 408.9L64.6 411.6L64.6 414.4L64.7 417.1L64.9 419.9L65.4 422.7L66.1 425.4L67.1 428.2L68.3 431L69.6 433.7L70.8 436.5L71.8 439.3L72.5 442L72.8 444.8L73 447.5L73 450.3L73 453.1L72.8 455.8L72.5 458.6L71.9 461.4L71.1 464.1L70.1 466.9L69 469.6L67.9 472.4L66.9 475.2L66.1 477.9L65.5 480.7L65.1 483.5L64.8 486.2L64.6 489L64.6 491.8L64.6 494.5L64.6 497.3L64.6 500L64.6 502.8L64.5 502.8Z" fill="#4DBBD5" stroke="#333" stroke-width="0.45"/>
<path d="M62.8 444V455.3M61.8 444H63.8M61.8 455.3H63.8" stroke="#000" stroke-width="0.6"/>
<circle cx="62.8" cy="449.7" r="1.3" fill="#000"/>
<path d="M66.2 446.1V457.4M65.2 446.1H67.2M65.2 457.4H67.2" stroke="#000" stroke-width="0.6"/>
<circle cx="66.2" cy="451.8" r="1.3" fill="#000"/>
<text transform="translate(66.5 514.1) rotate(-56)" font-family="'Liberation Sans',sans-serif" font-style="italic" font-size="8" fill="#333" text-anchor="end">GBMLGG(T=662,N=1157)</text>
<path d="M82.6 392.3V502.8" stroke="#333" stroke-width="0.55"/>
<path d="M82.6 392.3L82.5 392.3L82.5 395L82.5 397.8L82.5 400.6L82.5 403.3L82.5 406.1L82.5 408.9L82.5 411.6L82.5 414.4L82.3 417.1L82 419.9L81.5 422.7L80.7 425.4L79.7 428.2L78.5 431L77.4 433.7L76.3 436.5L75.5 439.3L75 442L74.7 444.8L74.6 447.5L74.6 450.3L74.7 453.1L74.8 455.8L75.1 458.6L75.6 461.4L76.3 464.1L77.2 466.9L78.1 469.6L79.1 472.4L80 475.2L80.8 477.9L81.4 480.7L81.9 483.5L82.2 486.2L82.4 489L82.5 491.8L82.5 494.5L82.5 497.3L82.5 500L82.5 502.8L82.6 502.8Z" fill="#E64B35" stroke="#333" stroke-width="0.45"/>
<path d="M82.6 392.3L82.7 392.3L82.7 395L82.7 397.8L82.7 400.6L82.7 403.3L82.7 406.1L82.7 408.9L82.7 411.6L82.7 414.4L82.8 417.1L83 419.9L83.5 422.7L84.2 425.4L85.2 428.2L86.4 431L87.7 433.7L88.9 436.5L89.9 439.3L90.6 442L90.9 444.8L91.1 447.5L91.1 450.3L91.1 453.1L90.9 455.8L90.6 458.6L90 461.4L89.2 464.1L88.2 466.9L87.1 469.6L86 472.4L85 475.2L84.2 477.9L83.6 480.7L83.2 483.5L82.9 486.2L82.7 489L82.7 491.8L82.7 494.5L82.7 497.3L82.7 500L82.7 502.8L82.6 502.8Z" fill="#4DBBD5" stroke="#333" stroke-width="0.45"/>
<path d="M80.9 444V455.3M79.9 444H81.9M79.9 455.3H81.9" stroke="#000" stroke-width="0.6"/>
<circle cx="80.9" cy="449.7" r="1.3" fill="#000"/>
<path d="M84.3 446.1V457.4M83.3 446.1H85.3M83.3 457.4H85.3" stroke="#000" stroke-width="0.6"/>
<circle cx="84.3" cy="451.8" r="1.3" fill="#000"/>
<text transform="translate(84.6 514.1) rotate(-56)" font-family="'Liberation Sans',sans-serif" font-style="italic" font-size="8" fill="#333" text-anchor="end">LGG(T=509,N=1157)</text>
<path d="M100.7 407.4V494.7" stroke="#333" stroke-width="0.55"/>
<path d="M100.7 407.4L100.6 407.4L100.6 409.6L100.6 411.8L100.4 414L100.2 416.1L99.8 418.3L99.3 420.5L98.6 422.7L97.8 424.9L96.9 427.1L95.9 429.2L95 431.4L94.2 433.6L93.5 435.8L93.1 438L92.8 440.1L92.6 442.3L92.6 444.5L92.6 446.7L92.6 448.9L92.8 451.1L93 453.2L93.4 455.4L94 457.6L94.7 459.8L95.5 462L96.3 464.2L97.2 466.3L98 468.5L98.7 470.7L99.4 472.9L99.8 475.1L100.2 477.2L100.4 479.4L100.5 481.6L100.6 483.8L100.6 486L100.6 488.2L100.6 490.3L100.6 492.5L100.6 494.7L100.7 494.7Z" fill="#E64B35" stroke="#333" stroke-width="0.45"/>
<path d="M100.7 407.4L100.8 407.4L100.8 409.6L100.8 411.8L100.8 414L100.8 416.1L100.8 418.3L100.8 420.5L100.8 422.7L100.8 424.9L100.8 427.1L100.8 429.2L100.8 431.4L101.2 433.6L103.7 435.8L107.5 438L108.7 440.1L108.6 442.3L108.2 444.5L107.2 446.7L105.6 448.9L103.9 451.1L102.4 453.2L101.4 455.4L100.9 457.6L100.8 459.8L100.8 462L100.8 464.2L100.8 466.3L100.8 468.5L100.8 470.7L100.8 472.9L100.8 475.1L100.8 477.2L100.8 479.4L100.8 481.6L100.8 483.8L100.8 486L100.8 488.2L100.8 490.3L100.8 492.5L100.8 494.7L100.7 494.7Z" fill="#4DBBD5" stroke="#333" stroke-width="0.45"/>
<path d="M99 438.7V450M98 438.7H100M98 450H100" stroke="#000" stroke-width="0.6"/>
<circle cx="99" cy="444.4" r="1.3" fill="#000"/>
<path d="M102.4 434.9V446.1M101.4 434.9H103.4M101.4 446.1H103.4" stroke="#000" stroke-width="0.6"/>
<circle cx="102.4" cy="440.5" r="1.3" fill="#000"/>
<text transform="translate(102.7 514.1) rotate(-56)" font-family="'Liberation Sans',sans-serif" font-style="italic" font-size="8" fill="#333" text-anchor="end">UCEC(T=180,N=23)</text>
<path d="M118.8 399.7V498.6" stroke="#333" stroke-width="0.55"/>
<path d="M118.8 399.7L118.7 399.7L118.7 402.1L118.7 404.6L118.7 407.1L118.7 409.6L118.7 412L118.6 414.5L118.3 417L117.9 419.5L117.3 421.9L116.4 424.4L115.4 426.9L114.3 429.3L113.2 431.8L112.3 434.3L111.6 436.8L111.1 439.2L110.9 441.7L110.8 444.2L110.8 446.7L110.8 449.1L111 451.6L111.2 454.1L111.7 456.5L112.3 459L113 461.5L113.8 464L114.7 466.4L115.6 468.9L116.5 471.4L117.2 473.9L117.7 476.3L118.1 478.8L118.4 481.3L118.6 483.7L118.7 486.2L118.7 488.7L118.7 491.2L118.7 493.6L118.7 496.1L118.7 498.6L118.8 498.6Z" fill="#E64B35" stroke="#333" stroke-width="0.45"/>
<path d="M118.8 399.7L118.9 399.7L118.9 402.1L118.9 404.6L118.9 407.1L118.9 409.6L118.9 412L118.9 414.5L119 417L119.4 419.5L119.9 421.9L120.8 424.4L121.9 426.9L123.2 429.3L124.5 431.8L125.7 434.3L126.5 436.8L127 439.2L127.2 441.7L127.2 444.2L127.2 446.7L127.1 449.1L126.8 451.6L126.4 454.1L125.7 456.5L124.9 459L123.9 461.5L122.9 464L121.9 466.4L121 468.9L120.3 471.4L119.7 473.9L119.3 476.3L119.1 478.8L118.9 481.3L118.9 483.7L118.9 486.2L118.9 488.7L118.9 491.2L118.9 493.6L118.9 496.1L118.9 498.6L118.8 498.6Z" fill="#4DBBD5" stroke="#333" stroke-width="0.45"/>
<path d="M117.1 440.1V451.4M116.1 440.1H118.1M116.1 451.4H118.1" stroke="#000" stroke-width="0.6"/>
<circle cx="117.1" cy="445.8" r="1.3" fill="#000"/>
<path d="M120.5 437.3V448.6M119.5 437.3H121.5M119.5 448.6H121.5" stroke="#000" stroke-width="0.6"/>
<circle cx="120.5" cy="443" r="1.3" fill="#000"/>
<text transform="translate(120.8 514.1) rotate(-56)" font-family="'Liberation Sans',sans-serif" font-style="italic" font-size="8" fill="#333" text-anchor="end">BRCA(T=1092,N=292)</text>
<path d="M136.8 400.4V499.3" stroke="#333" stroke-width="0.55"/>
<path d="M136.8 400.4L136.7 400.4L136.7 402.8L136.6 405.3L136.4 407.8L136 410.3L135.5 412.7L134.7 415.2L133.8 417.7L132.7 420.2L131.7 422.6L130.8 425.1L130 427.6L129.5 430L129.2 432.5L129.1 435L129.1 437.5L129.1 439.9L129.2 442.4L129.3 444.9L129.6 447.4L130.1 449.8L130.6 452.3L131.3 454.8L132.1 457.2L132.9 459.7L133.7 462.2L134.4 464.7L135.1 467.1L135.6 469.6L136 472.1L136.3 474.6L136.5 477L136.7 479.5L136.7 482L136.7 484.4L136.7 486.9L136.7 489.4L136.7 491.9L136.7 494.3L136.7 496.8L136.7 499.3L136.8 499.3Z" fill="#E64B35" stroke="#333" stroke-width="0.45"/>
<path d="M136.8 400.4L136.9 400.4L136.9 402.8L136.9 405.3L136.9 407.8L136.9 410.3L136.9 412.7L136.9 415.2L136.9 417.7L136.9 420.2L137 422.6L137.4 425.1L138.1 427.6L139.3 430L140.8 432.5L142.4 435L143.7 437.5L144.6 439.9L145.1 442.4L145.2 444.9L145.2 447.4L145.1 449.8L144.7 452.3L144.1 454.8L143.2 457.2L142.1 459.7L140.9 462.2L139.7 464.7L138.7 467.1L137.9 469.6L137.4 472.1L137.1 474.6L136.9 477L136.9 479.5L136.9 482L136.9 484.4L136.9 486.9L136.9 489.4L136.9 491.9L136.9 494.3L136.9 496.8L136.9 499.3L136.8 499.3Z" fill="#4DBBD5" stroke="#333" stroke-width="0.45"/>
<path d="M135.1 432.8V444M134.1 432.8H136.1M134.1 444H136.1" stroke="#000" stroke-width="0.6"/>
<circle cx="135.1" cy="438.4" r="1.3" fill="#000"/>
<path d="M138.5 443.3V454.6M137.5 443.3H139.5M137.5 454.6H139.5" stroke="#000" stroke-width="0.6"/>
<circle cx="138.5" cy="448.9" r="1.3" fill="#000"/>
<text transform="translate(138.8 514.1) rotate(-56)" font-family="'Liberation Sans',sans-serif" font-style="italic" font-size="8" fill="#333" text-anchor="end">CESC(T=304,N=13)</text>
<path d="M154.9 404.2V497.2" stroke="#333" stroke-width="0.55"/>
<path d="M154.9 404.2L154.8 404.2L154.8 406.6L154.8 408.9L154.8 411.2L154.8 413.5L154.7 415.9L154.3 418.2L153.7 420.5L152.7 422.8L151.5 425.2L150.1 427.5L148.9 429.8L147.9 432.1L147.3 434.4L147 436.8L146.9 439.1L146.9 441.4L147 443.7L147.1 446.1L147.3 448.4L147.6 450.7L148.1 453L148.7 455.4L149.4 457.7L150.1 460L150.9 462.3L151.7 464.6L152.4 467L153.1 469.3L153.6 471.6L154 473.9L154.3 476.3L154.6 478.6L154.7 480.9L154.8 483.2L154.8 485.6L154.8 487.9L154.8 490.2L154.8 492.5L154.8 494.8L154.8 497.2L154.9 497.2Z" fill="#E64B35" stroke="#333" stroke-width="0.45"/>
<path d="M154.9 404.2L155 404.2L155 406.6L155.2 408.9L155.5 411.2L156.2 413.5L157.3 415.9L158.7 418.2L160.2 420.5L161.5 422.8L162.5 425.2L163.1 427.5L163.4 429.8L163.4 432.1L163.4 434.4L163.3 436.8L163.2 439.1L162.9 441.4L162.5 443.7L162 446.1L161.4 448.4L160.6 450.7L159.8 453L159 455.4L158.2 457.7L157.5 460L156.8 462.3L156.3 464.6L155.8 467L155.5 469.3L155.3 471.6L155.1 473.9L155 476.3L155 478.6L155 480.9L155 483.2L155 485.6L155 487.9L155 490.2L155 492.5L155 494.8L155 497.2L154.9 497.2Z" fill="#4DBBD5" stroke="#333" stroke-width="0.45"/>
<path d="M153.2 437V448.2M152.2 437H154.2M152.2 448.2H154.2" stroke="#000" stroke-width="0.6"/>
<circle cx="153.2" cy="442.6" r="1.3" fill="#000"/>
<path d="M156.6 433.1V444.4M155.6 433.1H157.6M155.6 444.4H157.6" stroke="#000" stroke-width="0.6"/>
<circle cx="156.6" cy="438.7" r="1.3" fill="#000"/>
<text transform="translate(156.9 514.1) rotate(-56)" font-family="'Liberation Sans',sans-serif" font-style="italic" font-size="8" fill="#333" text-anchor="end">LUAD(T=513,N=397)</text>
<path d="M173 405.3V497.2" stroke="#333" stroke-width="0.55"/>
<path d="M173 405.3L172.9 405.3L172.9 407.6L172.9 409.9L172.9 412.2L172.8 414.5L172.6 416.8L172.2 419.1L171.5 421.4L170.6 423.7L169.5 426L168.4 428.3L167.2 430.6L166.3 432.9L165.5 435.2L165.1 437.5L164.9 439.8L164.9 442L164.9 444.3L165 446.6L165.1 448.9L165.4 451.2L165.8 453.5L166.4 455.8L167.1 458.1L167.9 460.4L168.8 462.7L169.6 465L170.4 467.3L171.1 469.6L171.7 471.9L172.2 474.2L172.5 476.5L172.7 478.8L172.8 481.1L172.9 483.4L172.9 485.7L172.9 488L172.9 490.3L172.9 492.6L172.9 494.9L172.9 497.2L173 497.2Z" fill="#E64B35" stroke="#333" stroke-width="0.45"/>
<path d="M173 405.3L173.1 405.3L173.1 407.6L173.1 409.9L173.1 412.2L173.1 414.5L173.1 416.8L173.2 419.1L173.6 421.4L174.1 423.7L175 426L176.1 428.3L177.4 430.6L178.7 432.9L179.8 435.2L180.6 437.5L181.1 439.8L181.3 442L181.3 444.3L181.3 446.6L181.2 448.9L181 451.2L180.6 453.5L180 455.8L179.3 458.1L178.5 460.4L177.6 462.7L176.7 465L175.8 467.3L175 469.6L174.4 471.9L173.9 474.2L173.5 476.5L173.3 478.8L173.1 481.1L173.1 483.4L173.1 485.7L173.1 488L173.1 490.3L173.1 492.6L173.1 494.9L173.1 497.2L173 497.2Z" fill="#4DBBD5" stroke="#333" stroke-width="0.45"/>
<path d="M171.3 439.8V451.1M170.3 439.8H172.3M170.3 451.1H172.3" stroke="#000" stroke-width="0.6"/>
<circle cx="171.3" cy="445.4" r="1.3" fill="#000"/>
<path d="M174.7 441.2V452.5M173.7 441.2H175.7M173.7 452.5H175.7" stroke="#000" stroke-width="0.6"/>
<circle cx="174.7" cy="446.8" r="1.3" fill="#000"/>
<text transform="translate(175 514.1) rotate(-56)" font-family="'Liberation Sans',sans-serif" font-style="italic" font-size="8" fill="#333" text-anchor="end">ESCA(T=181,N=13)</text>
<path d="M191.1 405.3V497.2" stroke="#333" stroke-width="0.55"/>
<path d="M191.1 405.3L191 405.3L191 407.6L191 409.9L191 412.2L190.9 414.5L190.7 416.8L190.3 419.1L189.6 421.4L188.7 423.7L187.6 426L186.5 428.3L185.3 430.6L184.4 432.9L183.6 435.2L183.2 437.5L183 439.8L183 442L183 444.3L183.1 446.6L183.2 448.9L183.5 451.2L183.9 453.5L184.5 455.8L185.2 458.1L186 460.4L186.9 462.7L187.7 465L188.5 467.3L189.2 469.6L189.8 471.9L190.3 474.2L190.6 476.5L190.8 478.8L190.9 481.1L191 483.4L191 485.7L191 488L191 490.3L191 492.6L191 494.9L191 497.2L191.1 497.2Z" fill="#E64B35" stroke="#333" stroke-width="0.45"/>
<path d="M191.1 405.3L191.2 405.3L191.2 407.6L191.2 409.9L191.2 412.2L191.2 414.5L191.2 416.8L191.4 419.1L191.7 421.4L192.3 423.7L193.1 426L194.3 428.3L195.6 430.6L197 432.9L198.1 435.2L198.9 437.5L199.4 439.8L199.6 442L199.6 444.3L199.6 446.6L199.5 448.9L199.3 451.2L198.9 453.5L198.3 455.8L197.6 458.1L196.7 460.4L195.8 462.7L194.8 465L193.9 467.3L193.1 469.6L192.5 471.9L192 474.2L191.6 476.5L191.4 478.8L191.3 481.1L191.2 483.4L191.2 485.7L191.2 488L191.2 490.3L191.2 492.6L191.2 494.9L191.2 497.2L191.1 497.2Z" fill="#4DBBD5" stroke="#333" stroke-width="0.45"/>
<path d="M189.4 439.4V450.7M188.4 439.4H190.4M188.4 450.7H190.4" stroke="#000" stroke-width="0.6"/>
<circle cx="189.4" cy="445.1" r="1.3" fill="#000"/>
<path d="M192.8 440.5V451.8M191.8 440.5H193.8M191.8 451.8H193.8" stroke="#000" stroke-width="0.6"/>
<circle cx="192.8" cy="446.1" r="1.3" fill="#000"/>
<text transform="translate(193.1 514.1) rotate(-56)" font-family="'Liberation Sans',sans-serif" font-style="italic" font-size="8" fill="#333" text-anchor="end">STES(T=595,N=879)</text>
<path d="M209.2 410.6V495.4" stroke="#333" stroke-width="0.55"/>
<path d="M209.2 410.6L209.1 410.6L209.1 412.7L209.1 414.8L209.1 416.9L209 419.1L208.9 421.2L208.6 423.3L208.1 425.4L207.5 427.5L206.7 429.7L205.8 431.8L204.8 433.9L203.8 436L202.9 438.2L202.2 440.3L201.7 442.4L201.4 444.5L201.2 446.6L201.2 448.8L201.2 450.9L201.3 453L201.4 455.1L201.7 457.2L202.1 459.4L202.7 461.5L203.5 463.6L204.3 465.7L205.2 467.8L206 470L206.8 472.1L207.5 474.2L208.1 476.3L208.5 478.4L208.8 480.6L209 482.7L209.1 484.8L209.1 486.9L209.1 489L209.1 491.2L209.1 493.3L209.1 495.4L209.2 495.4Z" fill="#E64B35" stroke="#333" stroke-width="0.45"/>
<path d="M209.2 410.6L209.3 410.6L209.3 412.7L209.3 414.8L209.3 416.9L209.3 419.1L209.4 421.2L209.6 423.3L209.9 425.4L210.4 427.5L211.2 429.7L212.1 431.8L213.1 433.9L214.2 436L215.3 438.2L216.2 440.3L216.9 442.4L217.3 444.5L217.6 446.6L217.7 448.8L217.7 450.9L217.7 453L217.6 455.1L217.3 457.2L216.9 459.4L216.3 461.5L215.5 463.6L214.6 465.7L213.6 467.8L212.7 470L211.8 472.1L211 474.2L210.4 476.3L209.9 478.4L209.6 480.6L209.4 482.7L209.3 484.8L209.3 486.9L209.3 489L209.3 491.2L209.3 493.3L209.3 495.4L209.2 495.4Z" fill="#4DBBD5" stroke="#333" stroke-width="0.45"/>
<path d="M207.5 445.1V456.3M206.5 445.1H208.5M206.5 456.3H208.5" stroke="#000" stroke-width="0.6"/>
<circle cx="207.5" cy="450.7" r="1.3" fill="#000"/>
<path d="M210.9 444.7V456M209.9 444.7H211.9M209.9 456H211.9" stroke="#000" stroke-width="0.6"/>
<circle cx="210.9" cy="450.4" r="1.3" fill="#000"/>
<rect x="208.4" y="381.9" width="1.6" height="0.9" fill="#555"/>
<text transform="translate(211.2 514.1) rotate(-56)" font-family="'Liberation Sans',sans-serif" font-style="italic" font-size="8" fill="#333" text-anchor="end">KIRP(T=288,N=168)</text>
<path d="M227.3 409.2V495.4" stroke="#333" stroke-width="0.55"/>
<path d="M227.3 409.2L227.2 409.2L227.2 411.3L227.1 413.5L227 415.6L226.7 417.8L226.3 420L225.7 422.1L224.9 424.3L224.1 426.4L223.1 428.6L222.1 430.7L221.2 432.9L220.5 435L219.9 437.2L219.6 439.4L219.4 441.5L219.3 443.7L219.3 445.8L219.3 448L219.4 450.1L219.6 452.3L219.9 454.4L220.4 456.6L221 458.8L221.7 460.9L222.4 463.1L223.3 465.2L224.1 467.4L224.8 469.5L225.5 471.7L226 473.9L226.5 476L226.8 478.2L227 480.3L227.1 482.5L227.2 484.6L227.2 486.8L227.2 488.9L227.2 491.1L227.2 493.3L227.2 495.4L227.3 495.4Z" fill="#E64B35" stroke="#333" stroke-width="0.45"/>
<path d="M227.3 409.2L227.4 409.2L227.4 411.3L227.4 413.5L227.4 415.6L227.4 417.8L227.4 420L227.5 422.1L227.8 424.3L228.2 426.4L228.9 428.6L229.7 430.7L230.7 432.9L231.8 435L232.9 437.2L233.9 439.4L234.7 441.5L235.2 443.7L235.6 445.8L235.7 448L235.7 450.1L235.7 452.3L235.6 454.4L235.4 456.6L235 458.8L234.4 460.9L233.7 463.1L232.8 465.2L231.8 467.4L230.9 469.5L230 471.7L229.2 473.9L228.6 476L228.1 478.2L227.8 480.3L227.5 482.5L227.4 484.6L227.4 486.8L227.4 488.9L227.4 491.1L227.4 493.3L227.4 495.4L227.3 495.4Z" fill="#4DBBD5" stroke="#333" stroke-width="0.45"/>
<path d="M225.6 439.4V450.7M224.6 439.4H226.6M224.6 450.7H226.6" stroke="#000" stroke-width="0.6"/>
<circle cx="225.6" cy="445.1" r="1.3" fill="#000"/>
<path d="M229 444.4V455.6M228 444.4H230M228 455.6H230" stroke="#000" stroke-width="0.6"/>
<circle cx="229" cy="450" r="1.3" fill="#000"/>
<text transform="translate(229.3 514.1) rotate(-56)" font-family="'Liberation Sans',sans-serif" font-style="italic" font-size="8" fill="#333" text-anchor="end">KIPAN(T=884,N=168)</text>
<path d="M245.4 405.3V496.8" stroke="#333" stroke-width="0.55"/>
<path d="M245.4 405.3L245.3 405.3L245.3 407.6L245.3 409.9L245.3 412.2L245.3 414.5L245.1 416.7L244.9 419L244.5 421.3L243.9 423.6L243.1 425.9L242.1 428.2L241.1 430.5L240 432.8L239.1 435L238.3 437.3L237.8 439.6L237.5 441.9L237.3 444.2L237.3 446.5L237.3 448.8L237.4 451.1L237.5 453.3L237.8 455.6L238.3 457.9L238.9 460.2L239.6 462.5L240.5 464.8L241.3 467.1L242.2 469.4L243 471.7L243.7 473.9L244.3 476.2L244.7 478.5L245 480.8L245.2 483.1L245.3 485.4L245.3 487.7L245.3 490L245.3 492.2L245.3 494.5L245.3 496.8L245.4 496.8Z" fill="#E64B35" stroke="#333" stroke-width="0.45"/>
<path d="M245.4 405.3L245.5 405.3L245.5 407.6L245.5 409.9L245.5 412.2L245.5 414.5L245.6 416.7L245.9 419L246.4 421.3L247 423.6L247.9 425.9L249 428.2L250.2 430.5L251.3 432.8L252.2 435L253 437.3L253.4 439.6L253.6 441.9L253.7 444.2L253.7 446.5L253.7 448.8L253.5 451.1L253.2 453.3L252.8 455.6L252.2 457.9L251.5 460.2L250.7 462.5L249.8 464.8L248.9 467.1L248 469.4L247.3 471.7L246.7 473.9L246.2 476.2L245.9 478.5L245.7 480.8L245.5 483.1L245.5 485.4L245.5 487.7L245.5 490L245.5 492.2L245.5 494.5L245.5 496.8L245.4 496.8Z" fill="#4DBBD5" stroke="#333" stroke-width="0.45"/>
<path d="M243.7 441.9V453.2M242.7 441.9H244.7M242.7 453.2H244.7" stroke="#000" stroke-width="0.6"/>
<circle cx="243.7" cy="447.5" r="1.3" fill="#000"/>
<path d="M247.1 439.4V450.7M246.1 439.4H248.1M246.1 450.7H248.1" stroke="#000" stroke-width="0.6"/>
<circle cx="247.1" cy="445.1" r="1.3" fill="#000"/>
<text transform="translate(247.4 514.1) rotate(-56)" font-family="'Liberation Sans',sans-serif" font-style="italic" font-size="8" fill="#333" text-anchor="end">COAD(T=288,N=349)</text>
<path d="M263.4 405.3V496.8" stroke="#333" stroke-width="0.55"/>
<path d="M263.4 405.3L263.3 405.3L263.3 407.6L263.3 409.9L263.3 412.2L263.3 414.5L263.1 416.7L262.9 419L262.5 421.3L261.9 423.6L261.1 425.9L260.1 428.2L259.1 430.5L258 432.8L257.1 435L256.3 437.3L255.8 439.6L255.5 441.9L255.3 444.2L255.3 446.5L255.3 448.8L255.4 451.1L255.5 453.3L255.8 455.6L256.3 457.9L256.9 460.2L257.6 462.5L258.5 464.8L259.3 467.1L260.2 469.4L261 471.7L261.7 473.9L262.3 476.2L262.7 478.5L263 480.8L263.2 483.1L263.3 485.4L263.3 487.7L263.3 490L263.3 492.2L263.3 494.5L263.3 496.8L263.4 496.8Z" fill="#E64B35" stroke="#333" stroke-width="0.45"/>
<path d="M263.4 405.3L263.5 405.3L263.5 407.6L263.5 409.9L263.5 412.2L263.5 414.5L263.6 416.7L263.9 419L264.4 421.3L265 423.6L265.9 425.9L267 428.2L268.2 430.5L269.3 432.8L270.2 435L271 437.3L271.4 439.6L271.6 441.9L271.7 444.2L271.7 446.5L271.7 448.8L271.5 451.1L271.2 453.3L270.8 455.6L270.2 457.9L269.5 460.2L268.7 462.5L267.8 464.8L266.9 467.1L266 469.4L265.3 471.7L264.7 473.9L264.2 476.2L263.9 478.5L263.7 480.8L263.5 483.1L263.5 485.4L263.5 487.7L263.5 490L263.5 492.2L263.5 494.5L263.5 496.8L263.4 496.8Z" fill="#4DBBD5" stroke="#333" stroke-width="0.45"/>
<path d="M261.7 443V454.2M260.7 443H262.7M260.7 454.2H262.7" stroke="#000" stroke-width="0.6"/>
<circle cx="261.7" cy="448.6" r="1.3" fill="#000"/>
<path d="M265.1 439.4V450.7M264.1 439.4H266.1M264.1 450.7H266.1" stroke="#000" stroke-width="0.6"/>
<circle cx="265.1" cy="445.1" r="1.3" fill="#000"/>
<text transform="translate(265.4 514.1) rotate(-56)" font-family="'Liberation Sans',sans-serif" font-style="italic" font-size="8" fill="#333" text-anchor="end">COADREAD(T=380,N=359)</text>
<path d="M281.4 410.9V495.4" stroke="#333" stroke-width="0.55"/>
<path d="M281.4 410.9L281.3 410.9L281.3 413L281.3 415.2L281.3 417.3L281.2 419.4L281.1 421.5L280.8 423.6L280.3 425.7L279.6 427.8L278.7 429.9L277.7 432.1L276.6 434.2L275.6 436.3L274.8 438.4L274.2 440.5L273.8 442.6L273.6 444.7L273.6 446.8L273.6 448.9L273.7 451.1L273.8 453.2L274.1 455.3L274.5 457.4L275 459.5L275.7 461.6L276.5 463.7L277.4 465.8L278.2 468L279 470.1L279.7 472.2L280.2 474.3L280.7 476.4L281 478.5L281.2 480.6L281.3 482.7L281.3 484.9L281.3 487L281.3 489.1L281.3 491.2L281.3 493.3L281.3 495.4L281.4 495.4Z" fill="#E64B35" stroke="#333" stroke-width="0.45"/>
<path d="M281.4 410.9L281.5 410.9L281.5 413L281.6 415.2L281.9 417.3L282.3 419.4L283 421.5L283.9 423.6L284.9 425.7L286.1 427.8L287.2 429.9L288.2 432.1L289 434.2L289.6 436.3L289.9 438.4L290 440.5L290 442.6L290 444.7L289.9 446.8L289.7 448.9L289.4 451.1L288.9 453.2L288.3 455.3L287.6 457.4L286.8 459.5L285.9 461.6L285 463.7L284.2 465.8L283.4 468L282.8 470.1L282.3 472.2L282 474.3L281.8 476.4L281.6 478.5L281.5 480.6L281.5 482.7L281.5 484.9L281.5 487L281.5 489.1L281.5 491.2L281.5 493.3L281.5 495.4L281.4 495.4Z" fill="#4DBBD5" stroke="#333" stroke-width="0.45"/>
<path d="M279.7 441.9V453.2M278.7 441.9H280.7M278.7 453.2H280.7" stroke="#000" stroke-width="0.6"/>
<circle cx="279.7" cy="447.5" r="1.3" fill="#000"/>
<path d="M283.1 438.7V450M282.1 438.7H284.1M282.1 450H284.1" stroke="#000" stroke-width="0.6"/>
<circle cx="283.1" cy="444.4" r="1.3" fill="#000"/>
<text transform="translate(283.4 514.1) rotate(-56)" font-family="'Liberation Sans',sans-serif" font-style="italic" font-size="8" fill="#333" text-anchor="end">PRAD(T=495,N=152)</text>
<path d="M299.5 409.2V495.4" stroke="#333" stroke-width="0.55"/>
<path d="M299.5 409.2L299.4 409.2L299.4 411.3L299.4 413.5L299.2 415.6L298.9 417.8L298.5 420L297.9 422.1L297.1 424.3L296.1 426.4L295.1 428.6L294.1 430.7L293.2 432.9L292.5 435L292 437.2L291.7 439.4L291.5 441.5L291.5 443.7L291.5 445.8L291.6 448L291.7 450.1L291.9 452.3L292.2 454.4L292.7 456.6L293.3 458.8L294 460.9L294.8 463.1L295.6 465.2L296.4 467.4L297.1 469.5L297.7 471.7L298.3 473.9L298.7 476L299 478.2L299.2 480.3L299.3 482.5L299.4 484.6L299.4 486.8L299.4 488.9L299.4 491.1L299.4 493.3L299.4 495.4L299.5 495.4Z" fill="#E64B35" stroke="#333" stroke-width="0.45"/>
<path d="M299.5 409.2L299.6 409.2L299.6 411.3L299.8 413.5L300.1 415.6L300.5 417.8L301.1 420L301.8 422.1L302.8 424.3L303.8 426.4L304.8 428.6L305.8 430.7L306.6 432.9L307.2 435L307.7 437.2L307.9 439.4L308 441.5L308 443.7L308 445.8L307.9 448L307.7 450.1L307.3 452.3L306.8 454.4L306.1 456.6L305.3 458.8L304.4 460.9L303.5 463.1L302.6 465.2L301.8 467.4L301.1 469.5L300.5 471.7L300.1 473.9L299.9 476L299.7 478.2L299.6 480.3L299.6 482.5L299.6 484.6L299.6 486.8L299.6 488.9L299.6 491.1L299.6 493.3L299.6 495.4L299.5 495.4Z" fill="#4DBBD5" stroke="#333" stroke-width="0.45"/>
<path d="M297.8 439.8V451.1M296.8 439.8H298.8M296.8 451.1H298.8" stroke="#000" stroke-width="0.6"/>
<circle cx="297.8" cy="445.4" r="1.3" fill="#000"/>
<path d="M301.2 438V449.3M300.2 438H302.2M300.2 449.3H302.2" stroke="#000" stroke-width="0.6"/>
<circle cx="301.2" cy="443.7" r="1.3" fill="#000"/>
<text transform="translate(301.5 514.1) rotate(-56)" font-family="'Liberation Sans',sans-serif" font-style="italic" font-size="8" fill="#333" text-anchor="end">STAD(T=414,N=211)</text>
<path d="M317.6 403.2V498.2" stroke="#333" stroke-width="0.55"/>
<path d="M317.6 403.2L317.5 403.2L317.5 405.6L317.4 407.9L317.3 410.3L317 412.7L316.5 415.1L315.9 417.4L315.1 419.8L314.1 422.2L313.1 424.6L312.1 426.9L311.2 429.3L310.5 431.7L310.1 434.1L309.8 436.5L309.6 438.8L309.6 441.2L309.6 443.6L309.7 446L309.8 448.3L310.1 450.7L310.5 453.1L311.1 455.5L311.8 457.8L312.6 460.2L313.5 462.6L314.3 465L315.1 467.3L315.8 469.7L316.4 472.1L316.8 474.5L317.1 476.8L317.3 479.2L317.5 481.6L317.5 484L317.5 486.3L317.5 488.7L317.5 491.1L317.5 493.5L317.5 495.9L317.5 498.2L317.6 498.2Z" fill="#E64B35" stroke="#333" stroke-width="0.45"/>
<path d="M317.6 403.2L317.7 403.2L317.7 405.6L317.7 407.9L317.7 410.3L317.7 412.7L317.7 415.1L317.7 417.4L317.7 419.8L317.7 422.2L317.7 424.6L317.7 426.9L317.7 429.3L317.7 431.7L317.7 434.1L318.7 436.5L321.7 438.8L325 441.2L326 443.6L325.8 446L324.6 448.3L322.1 450.7L319.6 453.1L318.1 455.5L317.7 457.8L317.7 460.2L317.7 462.6L317.7 465L317.7 467.3L317.7 469.7L317.7 472.1L317.7 474.5L317.7 476.8L317.7 479.2L317.7 481.6L317.7 484L317.7 486.3L317.7 488.7L317.7 491.1L317.7 493.5L317.7 495.9L317.7 498.2L317.6 498.2Z" fill="#4DBBD5" stroke="#333" stroke-width="0.45"/>
<path d="M315.9 437.7V448.9M314.9 437.7H316.9M314.9 448.9H316.9" stroke="#000" stroke-width="0.6"/>
<circle cx="315.9" cy="443.3" r="1.3" fill="#000"/>
<path d="M319.3 439.4V450.7M318.3 439.4H320.3M318.3 450.7H320.3" stroke="#000" stroke-width="0.6"/>
<circle cx="319.3" cy="445.1" r="1.3" fill="#000"/>
<text transform="translate(319.6 514.1) rotate(-56)" font-family="'Liberation Sans',sans-serif" font-style="italic" font-size="8" fill="#333" text-anchor="end">HNSC(T=518,N=44)</text>
<path d="M335.7 409.2V495.4" stroke="#333" stroke-width="0.55"/>
<path d="M335.7 409.2L335.6 409.2L335.6 411.3L335.6 413.5L335.4 415.6L335.1 417.8L334.7 420L334 422.1L333.1 424.3L332.1 426.4L331 428.6L330 430.7L329.1 432.9L328.4 435L328 437.2L327.8 439.4L327.7 441.5L327.7 443.7L327.7 445.8L327.8 448L328 450.1L328.2 452.3L328.6 454.4L329.1 456.6L329.8 458.8L330.4 460.9L331.2 463.1L332 465.2L332.7 467.4L333.4 469.5L334 471.7L334.5 473.9L334.9 476L335.2 478.2L335.4 480.3L335.5 482.5L335.6 484.6L335.6 486.8L335.6 488.9L335.6 491.1L335.6 493.3L335.6 495.4L335.7 495.4Z" fill="#E64B35" stroke="#333" stroke-width="0.45"/>
<path d="M335.7 409.2L335.8 409.2L335.8 411.3L335.8 413.5L335.8 415.6L335.9 417.8L336.1 420L336.4 422.1L336.9 424.3L337.6 426.4L338.5 428.6L339.4 430.7L340.5 432.9L341.4 435L342.3 437.2L343 439.4L343.5 441.5L343.8 443.7L344 445.8L344 448L344 450.1L343.9 452.3L343.8 454.4L343.4 456.6L342.9 458.8L342.2 460.9L341.4 463.1L340.4 465.2L339.5 467.4L338.5 469.5L337.7 471.7L337.1 473.9L336.5 476L336.2 478.2L336 480.3L335.8 482.5L335.8 484.6L335.8 486.8L335.8 488.9L335.8 491.1L335.8 493.3L335.8 495.4L335.7 495.4Z" fill="#4DBBD5" stroke="#333" stroke-width="0.45"/>
<path d="M334 438V449.3M333 438H335M333 449.3H335" stroke="#000" stroke-width="0.6"/>
<circle cx="334" cy="443.7" r="1.3" fill="#000"/>
<path d="M337.4 444.7V456M336.4 444.7H338.4M336.4 456H338.4" stroke="#000" stroke-width="0.6"/>
<circle cx="337.4" cy="450.4" r="1.3" fill="#000"/>
<text transform="translate(337.7 514.1) rotate(-56)" font-family="'Liberation Sans',sans-serif" font-style="italic" font-size="8" fill="#333" text-anchor="end">KIRC(T=530,N=168)</text>
<path d="M353.8 398.6V499.6" stroke="#333" stroke-width="0.55"/>
<path d="M353.8 398.6L353.7 398.6L353.7 401.1L353.7 403.7L353.7 406.2L353.7 408.7L353.5 411.2L353.3 413.8L352.8 416.3L352.2 418.8L351.4 421.3L350.4 423.9L349.4 426.4L348.4 428.9L347.5 431.4L346.7 434L346.2 436.5L345.9 439L345.8 441.5L345.8 444.1L345.8 446.6L345.9 449.1L346.1 451.6L346.4 454.2L346.9 456.7L347.5 459.2L348.3 461.8L349.2 464.3L350 466.8L350.9 469.3L351.7 471.9L352.3 474.4L352.8 476.9L353.2 479.4L353.5 482L353.6 484.5L353.7 487L353.7 489.5L353.7 492.1L353.7 494.6L353.7 497.1L353.7 499.6L353.8 499.6Z" fill="#E64B35" stroke="#333" stroke-width="0.45"/>
<path d="M353.8 398.6L353.9 398.6L353.9 401.1L353.9 403.7L353.9 406.2L354.1 408.7L354.5 411.2L355.1 413.8L356 416.3L357.1 418.8L358.4 421.3L359.6 423.9L360.7 426.4L361.5 428.9L362 431.4L362.2 434L362.3 436.5L362.3 439L362.2 441.5L362.1 444.1L361.7 446.6L361.3 449.1L360.6 451.6L359.8 454.2L358.9 456.7L358 459.2L357.1 461.8L356.2 464.3L355.5 466.8L354.9 469.3L354.5 471.9L354.2 474.4L354 476.9L353.9 479.4L353.9 482L353.9 484.5L353.9 487L353.9 489.5L353.9 492.1L353.9 494.6L353.9 497.1L353.9 499.6L353.8 499.6Z" fill="#4DBBD5" stroke="#333" stroke-width="0.45"/>
<path d="M352.1 438.4V449.7M351.1 438.4H353.1M351.1 449.7H353.1" stroke="#000" stroke-width="0.6"/>
<circle cx="352.1" cy="444" r="1.3" fill="#000"/>
<path d="M355.5 433.1V444.4M354.5 433.1H356.5M354.5 444.4H356.5" stroke="#000" stroke-width="0.6"/>
<circle cx="355.5" cy="438.7" r="1.3" fill="#000"/>
<text transform="translate(355.8 514.1) rotate(-56)" font-family="'Liberation Sans',sans-serif" font-style="italic" font-size="8" fill="#333" text-anchor="end">LUSC(T=498,N=397)</text>
<path d="M371.9 410.9V495.4" stroke="#333" stroke-width="0.55"/>
<path d="M371.9 410.9L371.8 410.9L371.8 413L371.8 415.2L371.7 417.3L371.5 419.4L371.3 421.5L370.9 423.6L370.3 425.7L369.7 427.8L368.8 429.9L368 432.1L367.1 434.2L366.2 436.3L365.5 438.4L364.8 440.5L364.4 442.6L364.1 444.7L364 446.8L363.9 448.9L363.9 451.1L363.9 453.2L364 455.3L364.2 457.4L364.6 459.5L365.1 461.6L365.7 463.7L366.5 465.8L367.3 468L368.2 470.1L369 472.2L369.7 474.3L370.4 476.4L370.9 478.5L371.3 480.6L371.5 482.7L371.7 484.9L371.8 487L371.8 489.1L371.8 491.2L371.8 493.3L371.8 495.4L371.9 495.4Z" fill="#E64B35" stroke="#333" stroke-width="0.45"/>
<path d="M371.9 410.9L372 410.9L372 413L372 415.2L372.1 417.3L372.2 419.4L372.5 421.5L373 423.6L373.6 425.7L374.5 427.8L375.5 429.9L376.5 432.1L377.5 434.2L378.5 436.3L379.2 438.4L379.8 440.5L380.1 442.6L380.3 444.7L380.3 446.8L380.3 448.9L380.2 451.1L380.1 453.2L379.8 455.3L379.4 457.4L378.8 459.5L378 461.6L377.2 463.7L376.2 465.8L375.3 468L374.5 470.1L373.7 472.2L373.1 474.3L372.7 476.4L372.4 478.5L372.2 480.6L372 482.7L372 484.9L372 487L372 489.1L372 491.2L372 493.3L372 495.4L371.9 495.4Z" fill="#4DBBD5" stroke="#333" stroke-width="0.45"/>
<path d="M370.2 445.4V456.7M369.2 445.4H371.2M369.2 456.7H371.2" stroke="#000" stroke-width="0.6"/>
<circle cx="370.2" cy="451.1" r="1.3" fill="#000"/>
<path d="M373.6 443.3V454.6M372.6 443.3H374.6M372.6 454.6H374.6" stroke="#000" stroke-width="0.6"/>
<circle cx="373.6" cy="448.9" r="1.3" fill="#000"/>
<text transform="translate(373.9 514.1) rotate(-56)" font-family="'Liberation Sans',sans-serif" font-style="italic" font-size="8" fill="#333" text-anchor="end">LIHC(T=369,N=160)</text>
<path d="M390 403.2V497.2" stroke="#333" stroke-width="0.55"/>
<path d="M390 403.2L389.9 403.2L389.9 405.5L389.9 407.9L389.8 410.2L389.6 412.6L389.3 414.9L388.8 417.3L388.2 419.6L387.5 422L386.6 424.3L385.7 426.7L384.8 429L384 431.4L383.3 433.7L382.7 436.1L382.3 438.4L382.1 440.8L382 443.1L382 445.5L382 447.8L382.1 450.2L382.2 452.5L382.4 454.9L382.8 457.2L383.4 459.6L384 461.9L384.7 464.3L385.6 466.6L386.4 469L387.2 471.3L387.9 473.7L388.5 476L389 478.4L389.3 480.7L389.6 483.1L389.8 485.4L389.9 487.8L389.9 490.1L389.9 492.5L389.9 494.8L389.9 497.2L390 497.2Z" fill="#E64B35" stroke="#333" stroke-width="0.45"/>
<path d="M390 403.2L390.1 403.2L390.1 405.5L390.1 407.9L390.1 410.2L390.1 412.6L390.1 414.9L390.1 417.3L390.2 419.6L390.4 422L390.8 424.3L391.5 426.7L392.3 429L393.4 431.4L394.5 433.7L395.6 436.1L396.6 438.4L397.4 440.8L397.9 443.1L398.2 445.5L398.3 447.8L398.3 450.2L398.3 452.5L398.1 454.9L397.8 457.2L397.3 459.6L396.6 461.9L395.7 464.3L394.7 466.6L393.7 469L392.7 471.3L391.9 473.7L391.2 476L390.7 478.4L390.4 480.7L390.2 483.1L390.1 485.4L390.1 487.8L390.1 490.1L390.1 492.5L390.1 494.8L390.1 497.2L390 497.2Z" fill="#4DBBD5" stroke="#333" stroke-width="0.45"/>
<path d="M388.3 443.3V454.6M387.3 443.3H389.3M387.3 454.6H389.3" stroke="#000" stroke-width="0.6"/>
<circle cx="388.3" cy="448.9" r="1.3" fill="#000"/>
<path d="M391.7 444.7V456M390.7 444.7H392.7M390.7 456H392.7" stroke="#000" stroke-width="0.6"/>
<circle cx="391.7" cy="450.4" r="1.3" fill="#000"/>
<text transform="translate(392 514.1) rotate(-56)" font-family="'Liberation Sans',sans-serif" font-style="italic" font-size="8" fill="#333" text-anchor="end">WT(T=120,N=168)</text>
<path d="M408.2 414.1V494.4" stroke="#333" stroke-width="0.55"/>
<path d="M408.2 414.1L408.1 414.1L408.1 416.1L408.1 418.1L408 420.1L407.8 422.1L407.4 424.1L407 426.1L406.4 428.1L405.6 430.2L404.8 432.2L403.9 434.2L403 436.2L402.2 438.2L401.5 440.2L401 442.2L400.6 444.2L400.4 446.2L400.3 448.2L400.3 450.2L400.3 452.2L400.4 454.2L400.5 456.2L400.8 458.2L401.3 460.2L401.9 462.3L402.6 464.3L403.4 466.3L404.3 468.3L405.1 470.3L405.9 472.3L406.5 474.3L407.1 476.3L407.5 478.3L407.8 480.3L408 482.3L408.1 484.3L408.1 486.3L408.1 488.3L408.1 490.3L408.1 492.3L408.1 494.4L408.2 494.4Z" fill="#E64B35" stroke="#333" stroke-width="0.45"/>
<path d="M408.2 414.1L408.3 414.1L408.3 416.1L408.3 418.1L408.3 420.1L408.3 422.1L408.5 424.1L408.7 426.1L409.1 428.1L409.6 430.2L410.4 432.2L411.3 434.2L412.2 436.2L413.2 438.2L414.2 440.2L415 442.2L415.6 444.2L416 446.2L416.3 448.2L416.4 450.2L416.4 452.2L416.4 454.2L416.4 456.2L416.3 458.2L416.3 460.2L416.1 462.3L416 464.3L415.8 466.3L415.5 468.3L415.2 470.3L414.8 472.3L414.4 474.3L414 476.3L413.5 478.3L413 480.3L412.4 482.3L411.9 484.3L411.4 486.3L410.9 488.3L410.5 490.3L410.1 492.3L409.7 494.4L408.2 494.4Z" fill="#4DBBD5" stroke="#333" stroke-width="0.45"/>
<path d="M406.5 445.4V456.7M405.5 445.4H407.5M405.5 456.7H407.5" stroke="#000" stroke-width="0.6"/>
<circle cx="406.5" cy="451.1" r="1.3" fill="#000"/>
<path d="M409.9 450.7V462M408.9 450.7H410.9M408.9 462H410.9" stroke="#000" stroke-width="0.6"/>
<circle cx="409.9" cy="456.3" r="1.3" fill="#000"/>
<text transform="translate(410.2 514.1) rotate(-56)" font-family="'Liberation Sans',sans-serif" font-style="italic" font-size="8" fill="#333" text-anchor="end">SKCM(T=102,N=558)</text>
<path d="M426.3 385.9V504.9" stroke="#333" stroke-width="0.55"/>
<path d="M426.3 385.9L426.2 385.9L426.2 388.9L426.2 391.9L426.2 394.9L426.2 397.8L426.2 400.8L426.1 403.8L425.9 406.8L425.5 409.7L424.9 412.7L424.1 415.7L423.1 418.7L421.9 421.6L420.8 424.6L419.7 427.6L418.9 430.6L418.3 433.5L418 436.5L417.8 439.5L417.8 442.5L417.8 445.4L417.9 448.4L418.1 451.4L418.3 454.4L418.8 457.3L419.4 460.3L420.1 463.3L420.9 466.2L421.8 469.2L422.6 472.2L423.5 475.2L424.2 478.1L424.8 481.1L425.3 484.1L425.7 487.1L425.9 490L426.1 493L426.2 496L426.2 499L426.2 501.9L426.2 504.9L426.3 504.9Z" fill="#E64B35" stroke="#333" stroke-width="0.45"/>
<path d="M426.3 385.9L426.4 385.9L426.4 388.9L426.4 391.9L426.4 394.9L426.4 397.8L426.4 400.8L426.4 403.8L426.4 406.8L426.6 409.7L427 412.7L427.6 415.7L428.5 418.7L429.7 421.6L431 424.6L432.3 427.6L433.3 430.6L434.1 433.5L434.6 436.5L434.8 439.5L434.8 442.5L434.8 445.4L434.7 448.4L434.5 451.4L434.1 454.4L433.6 457.3L432.9 460.3L432 463.3L431.1 466.2L430.1 469.2L429.2 472.2L428.4 475.2L427.7 478.1L427.2 481.1L426.8 484.1L426.6 487.1L426.5 490L426.4 493L426.4 496L426.4 499L426.4 501.9L426.4 504.9L426.3 504.9Z" fill="#4DBBD5" stroke="#333" stroke-width="0.45"/>
<path d="M424.6 435.6V446.8M423.6 435.6H425.6M423.6 446.8H425.6" stroke="#000" stroke-width="0.6"/>
<circle cx="424.6" cy="441.2" r="1.3" fill="#000"/>
<path d="M428 434.5V445.8M427 434.5H429M427 445.8H429" stroke="#000" stroke-width="0.6"/>
<circle cx="428" cy="440.1" r="1.3" fill="#000"/>
<rect x="425.5" y="381.9" width="1.6" height="0.9" fill="#555"/>
<text transform="translate(428.3 514.1) rotate(-56)" font-family="'Liberation Sans',sans-serif" font-style="italic" font-size="8" fill="#333" text-anchor="end">BLCA(T=407,N=28)</text>
<path d="M444.4 403.2V498.9" stroke="#333" stroke-width="0.55"/>
<path d="M444.4 403.2L444.3 403.2L444.3 405.6L444.3 408L444.2 410.4L444 412.8L443.6 415.2L443 417.5L442.2 419.9L441.2 422.3L440.1 424.7L439 427.1L438 429.5L437.1 431.9L436.5 434.3L436.2 436.7L436 439.1L436 441.5L436 443.9L436.1 446.3L436.2 448.7L436.4 451.1L436.8 453.5L437.3 455.8L437.9 458.2L438.6 460.6L439.4 463L440.2 465.4L441.1 467.8L441.8 470.2L442.5 472.6L443 475L443.5 477.4L443.8 479.8L444 482.2L444.2 484.6L444.3 487L444.3 489.4L444.3 491.8L444.3 494.1L444.3 496.5L444.3 498.9L444.4 498.9Z" fill="#E64B35" stroke="#333" stroke-width="0.45"/>
<path d="M444.4 403.2L444.5 403.2L444.5 405.6L444.5 408L444.6 410.4L444.8 412.8L445.2 415.2L445.8 417.5L446.8 419.9L448 422.3L449.3 424.7L450.6 427.1L451.6 429.5L452.4 431.9L452.8 434.3L453 436.7L453 439.1L453 441.5L452.9 443.9L452.7 446.3L452.4 448.7L451.9 451.1L451.3 453.5L450.5 455.8L449.7 458.2L448.8 460.6L447.9 463L447.1 465.4L446.3 467.8L445.7 470.2L445.3 472.6L444.9 475L444.7 477.4L444.6 479.8L444.5 482.2L444.5 484.6L444.5 487L444.5 489.4L444.5 491.8L444.5 494.1L444.5 496.5L444.5 498.9L444.4 498.9Z" fill="#4DBBD5" stroke="#333" stroke-width="0.45"/>
<path d="M442.7 436.6V447.9M441.7 436.6H443.7M441.7 447.9H443.7" stroke="#000" stroke-width="0.6"/>
<circle cx="442.7" cy="442.3" r="1.3" fill="#000"/>
<path d="M446.1 434.5V445.8M445.1 434.5H447.1M445.1 445.8H447.1" stroke="#000" stroke-width="0.6"/>
<circle cx="446.1" cy="440.1" r="1.3" fill="#000"/>
<text transform="translate(446.4 514.1) rotate(-56)" font-family="'Liberation Sans',sans-serif" font-style="italic" font-size="8" fill="#333" text-anchor="end">THCA(T=504,N=338)</text>
<path d="M462.5 423.3V494.7" stroke="#333" stroke-width="0.55"/>
<path d="M462.5 423.3L462.2 423.3L461.9 425L461.5 426.8L461 428.6L460.3 430.4L459.5 432.2L458.6 434L457.7 435.8L456.8 437.5L456.1 439.3L455.4 441.1L455 442.9L454.7 444.7L454.6 446.5L454.5 448.3L454.5 450L454.5 451.8L454.6 453.6L454.8 455.4L455.1 457.2L455.5 459L456 460.8L456.7 462.6L457.4 464.3L458.2 466.1L459 467.9L459.8 469.7L460.4 471.5L461 473.3L461.5 475.1L461.8 476.8L462.1 478.6L462.3 480.4L462.4 482.2L462.4 484L462.4 485.8L462.4 487.6L462.4 489.3L462.4 491.1L462.4 492.9L462.4 494.7L462.5 494.7Z" fill="#E64B35" stroke="#333" stroke-width="0.45"/>
<path d="M462.5 423.3L462.6 423.3L462.6 425L462.6 426.8L462.6 428.6L462.6 430.4L462.6 432.2L462.6 434L462.6 435.8L463.2 437.5L468 439.3L470.5 441.1L468.5 442.9L463.4 444.7L462.6 446.5L462.6 448.3L462.6 450L462.6 451.8L462.6 453.6L462.6 455.4L462.6 457.2L462.6 459L462.6 460.8L462.6 462.6L462.6 464.3L462.6 466.1L462.6 467.9L462.6 469.7L462.6 471.5L462.6 473.3L462.6 475.1L462.6 476.8L462.6 478.6L462.6 480.4L462.6 482.2L462.6 484L462.6 485.8L462.6 487.6L462.6 489.3L462.6 491.1L462.6 492.9L462.6 494.7L462.5 494.7Z" fill="#4DBBD5" stroke="#333" stroke-width="0.45"/>
<path d="M460.8 443.7V454.9M459.8 443.7H461.8M459.8 454.9H461.8" stroke="#000" stroke-width="0.6"/>
<circle cx="460.8" cy="449.3" r="1.3" fill="#000"/>
<path d="M464.2 435.6V446.8M463.2 435.6H465.2M463.2 446.8H465.2" stroke="#000" stroke-width="0.6"/>
<circle cx="464.2" cy="441.2" r="1.3" fill="#000"/>
<text transform="translate(464.5 514.1) rotate(-56)" font-family="'Liberation Sans',sans-serif" font-style="italic" font-size="8" fill="#333" text-anchor="end">READ(T=92,N=10)</text>
<path d="M480.6 410.6V494.7" stroke="#333" stroke-width="0.55"/>
<path d="M480.6 410.6L480.5 410.6L480.5 412.7L480.4 414.8L480.3 416.9L480.1 419L479.7 421.1L479.2 423.2L478.5 425.3L477.8 427.4L476.9 429.5L475.9 431.6L475 433.7L474.2 435.8L473.5 437.9L473 440L472.6 442.1L472.4 444.2L472.3 446.3L472.3 448.4L472.3 450.5L472.4 452.6L472.5 454.7L472.7 456.9L473 459L473.5 461.1L474 463.2L474.7 465.3L475.5 467.4L476.2 469.5L477 471.6L477.8 473.7L478.5 475.8L479 477.9L479.5 480L479.9 482.1L480.1 484.2L480.3 486.3L480.4 488.4L480.5 490.5L480.5 492.6L480.5 494.7L480.6 494.7Z" fill="#E64B35" stroke="#333" stroke-width="0.45"/>
<path d="M480.6 410.6L480.7 410.6L480.7 412.7L480.7 414.8L480.7 416.9L480.7 419L480.9 421.1L481.2 423.2L481.7 425.3L482.3 427.4L483.1 429.5L484.1 431.6L485.2 433.7L486.2 435.8L487.1 437.9L487.8 440L488.3 442.1L488.6 444.2L488.8 446.3L488.8 448.4L488.8 450.5L488.7 452.6L488.6 454.7L488.3 456.9L487.8 459L487.2 461.1L486.5 463.2L485.7 465.3L484.8 467.4L484 469.5L483.2 471.6L482.4 473.7L481.9 475.8L481.4 477.9L481.1 480L480.9 482.1L480.8 484.2L480.7 486.3L480.7 488.4L480.7 490.5L480.7 492.6L480.7 494.7L480.6 494.7Z" fill="#4DBBD5" stroke="#333" stroke-width="0.45"/>
<path d="M478.9 443V454.2M477.9 443H479.9M477.9 454.2H479.9" stroke="#000" stroke-width="0.6"/>
<circle cx="478.9" cy="448.6" r="1.3" fill="#000"/>
<path d="M482.3 445.1V456.3M481.3 445.1H483.3M481.3 456.3H483.3" stroke="#000" stroke-width="0.6"/>
<circle cx="482.3" cy="450.7" r="1.3" fill="#000"/>
<text transform="translate(482.6 514.1) rotate(-56)" font-family="'Liberation Sans',sans-serif" font-style="italic" font-size="8" fill="#333" text-anchor="end">OV(T=419,N=88)</text>
<path d="M498.7 417.6V491.5" stroke="#333" stroke-width="0.55"/>
<path d="M498.7 417.6L498.6 417.6L498.6 419.5L498.6 421.3L498.5 423.2L498.2 425L497.7 426.9L496.9 428.7L495.8 430.6L494.6 432.4L493.3 434.3L492.3 436.1L491.5 437.9L491 439.8L490.8 441.6L490.8 443.5L490.8 445.3L490.9 447.2L491.2 449L491.7 450.9L492.3 452.7L493.1 454.6L494.1 456.4L495 458.3L496 460.1L496.8 462L497.5 463.8L498 465.7L498.3 467.5L498.5 469.4L498.6 471.2L498.6 473.1L498.6 474.9L498.6 476.8L498.6 478.6L498.6 480.5L498.6 482.3L498.6 484.1L498.6 486L498.6 487.8L498.6 489.7L498.6 491.5L498.7 491.5Z" fill="#E64B35" stroke="#333" stroke-width="0.45"/>
<path d="M498.7 417.6L498.8 417.6L498.8 419.5L498.8 421.3L499 423.2L499.3 425L499.7 426.9L500.4 428.7L501.4 430.6L502.4 432.4L503.6 434.3L504.7 436.1L505.6 437.9L506.3 439.8L506.7 441.6L506.9 443.5L506.9 445.3L506.9 447.2L506.9 449L506.8 450.9L506.6 452.7L506.3 454.6L506 456.4L505.5 458.3L504.9 460.1L504.2 462L503.5 463.8L502.8 465.7L502 467.5L501.3 469.4L500.7 471.2L500.2 473.1L499.8 474.9L499.4 476.8L499.2 478.6L499 480.5L498.9 482.3L498.8 484.1L498.8 486L498.8 487.8L498.8 489.7L498.8 491.5L498.7 491.5Z" fill="#4DBBD5" stroke="#333" stroke-width="0.45"/>
<path d="M497 437V448.2M496 437H498M496 448.2H498" stroke="#000" stroke-width="0.6"/>
<circle cx="497" cy="442.6" r="1.3" fill="#000"/>
<path d="M500.4 441.9V453.2M499.4 441.9H501.4M499.4 453.2H501.4" stroke="#000" stroke-width="0.6"/>
<circle cx="500.4" cy="447.5" r="1.3" fill="#000"/>
<text transform="translate(500.7 514.1) rotate(-56)" font-family="'Liberation Sans',sans-serif" font-style="italic" font-size="8" fill="#333" text-anchor="end">PAAD(T=178,N=171)</text>
<path d="M516.8 414.8V468" stroke="#333" stroke-width="0.55"/>
<path d="M516.8 414.8L516.7 414.8L516.6 416.1L516.4 417.5L516.1 418.8L515.7 420.1L515.1 421.4L514.4 422.8L513.6 424.1L512.7 425.4L511.9 426.8L511 428.1L510.3 429.4L509.7 430.7L509.3 432.1L509 433.4L508.9 434.7L508.8 436.1L508.8 437.4L508.8 438.7L508.9 440.1L509.1 441.4L509.4 442.7L509.8 444L510.3 445.4L511 446.7L511.7 448L512.5 449.4L513.3 450.7L514.1 452L514.8 453.3L515.4 454.7L515.8 456L516.2 457.3L516.4 458.7L516.6 460L516.7 461.3L516.7 462.6L516.7 464L516.7 465.3L516.7 466.6L516.7 468L516.8 468Z" fill="#E64B35" stroke="#333" stroke-width="0.45"/>
<path d="M516.8 414.8L516.9 414.8L516.9 416.1L516.9 417.5L516.9 418.8L516.9 420.1L516.9 421.4L516.9 422.8L516.9 424.1L516.9 425.4L516.9 426.8L516.9 428.1L516.9 429.4L516.9 430.7L516.9 432.1L517.2 433.4L518.4 434.7L520.6 436.1L523.1 437.4L524.8 438.7L525.3 440.1L525.3 441.4L524.9 442.7L524 444L522.4 445.4L520.5 446.7L518.8 448L517.7 449.4L517.1 450.7L516.9 452L516.9 453.3L516.9 454.7L516.9 456L516.9 457.3L516.9 458.7L516.9 460L516.9 461.3L516.9 462.6L516.9 464L516.9 465.3L516.9 466.6L516.9 468L516.8 468Z" fill="#4DBBD5" stroke="#333" stroke-width="0.45"/>
<path d="M515.1 432.8V444M514.1 432.8H516.1M514.1 444H516.1" stroke="#000" stroke-width="0.6"/>
<circle cx="515.1" cy="438.4" r="1.3" fill="#000"/>
<path d="M518.5 435.6V446.8M517.5 435.6H519.5M517.5 446.8H519.5" stroke="#000" stroke-width="0.6"/>
<circle cx="518.5" cy="441.2" r="1.3" fill="#000"/>
<text transform="translate(518.8 514.1) rotate(-56)" font-family="'Liberation Sans',sans-serif" font-style="italic" font-size="8" fill="#333" text-anchor="end">TGCT(T=148,N=165)</text>
<path d="M534.9 414.8V494.4" stroke="#333" stroke-width="0.55"/>
<path d="M534.9 414.8L534.8 414.8L534.8 416.8L534.8 418.8L534.8 420.8L534.8 422.8L534.7 424.7L534.6 426.7L534.3 428.7L533.9 430.7L533.3 432.7L532.5 434.7L531.6 436.7L530.7 438.7L529.8 440.7L528.9 442.6L528.2 444.6L527.7 446.6L527.4 448.6L527.2 450.6L527.2 452.6L527.2 454.6L527.2 456.6L527.3 458.6L527.5 460.5L527.8 462.5L528.2 464.5L528.8 466.5L529.4 468.5L530.1 470.5L530.9 472.5L531.7 474.5L532.4 476.5L533 478.4L533.6 480.4L534 482.4L534.3 484.4L534.5 486.4L534.7 488.4L534.8 490.4L534.8 492.4L534.8 494.4L534.9 494.4Z" fill="#E64B35" stroke="#333" stroke-width="0.45"/>
<path d="M534.9 414.8L535 414.8L535.1 416.8L535.4 418.8L535.7 420.8L536.2 422.8L536.9 424.7L537.8 426.7L538.7 428.7L539.7 430.7L540.7 432.7L541.5 434.7L542.2 436.7L542.7 438.7L542.9 440.7L543.1 442.6L543.1 444.6L543.1 446.6L543 448.6L542.9 450.6L542.6 452.6L542.2 454.6L541.6 456.6L540.9 458.6L540.1 460.5L539.2 462.5L538.3 464.5L537.5 466.5L536.8 468.5L536.2 470.5L535.7 472.5L535.4 474.5L535.2 476.5L535.1 478.4L535 480.4L535 482.4L535 484.4L535 486.4L535 488.4L535 490.4L535 492.4L535 494.4L534.9 494.4Z" fill="#4DBBD5" stroke="#333" stroke-width="0.45"/>
<path d="M533.2 449.3V460.6M532.2 449.3H534.2M532.2 460.6H534.2" stroke="#000" stroke-width="0.6"/>
<circle cx="533.2" cy="454.9" r="1.3" fill="#000"/>
<path d="M536.6 441.2V452.5M535.6 441.2H537.6M535.6 452.5H537.6" stroke="#000" stroke-width="0.6"/>
<circle cx="536.6" cy="446.8" r="1.3" fill="#000"/>
<text transform="translate(536.9 514.1) rotate(-56)" font-family="'Liberation Sans',sans-serif" font-style="italic" font-size="8" fill="#333" text-anchor="end">UCS(T=57,N=78)</text>
<path d="M553 399.7V498.9" stroke="#333" stroke-width="0.55"/>
<path d="M553 399.7L552.9 399.7L552.9 402.1L552.9 404.6L552.9 407.1L552.9 409.6L552.9 412.1L552.9 414.6L552.7 417L552.4 419.5L551.9 422L551.2 424.5L550.3 427L549.2 429.4L548.1 431.9L547.1 434.4L546.2 436.9L545.6 439.4L545.3 441.9L545.1 444.3L545.1 446.8L545.1 449.3L545.2 451.8L545.5 454.3L545.9 456.7L546.6 459.2L547.4 461.7L548.4 464.2L549.4 466.7L550.3 469.2L551.1 471.6L551.8 474.1L552.3 476.6L552.6 479.1L552.8 481.6L552.9 484L552.9 486.5L552.9 489L552.9 491.5L552.9 494L552.9 496.5L552.9 498.9L553 498.9Z" fill="#E64B35" stroke="#333" stroke-width="0.45"/>
<path d="M553 399.7L553.1 399.7L553.1 402.1L553.2 404.6L553.4 407.1L553.7 409.6L554.3 412.1L555.1 414.6L556.1 417L557.2 419.5L558.3 422L559.4 424.5L560.3 427L560.9 429.4L561.3 431.9L561.5 434.4L561.5 436.9L561.5 439.4L561.4 441.9L561.3 444.3L561 446.8L560.5 449.3L559.8 451.8L559.1 454.3L558.2 456.7L557.2 459.2L556.3 461.7L555.5 464.2L554.8 466.7L554.2 469.2L553.7 471.6L553.4 474.1L553.2 476.6L553.1 479.1L553.1 481.6L553.1 484L553.1 486.5L553.1 489L553.1 491.5L553.1 494L553.1 496.5L553.1 498.9L553 498.9Z" fill="#4DBBD5" stroke="#333" stroke-width="0.45"/>
<path d="M551.3 443V454.2M550.3 443H552.3M550.3 454.2H552.3" stroke="#000" stroke-width="0.6"/>
<circle cx="551.3" cy="448.6" r="1.3" fill="#000"/>
<path d="M554.7 438V449.3M553.7 438H555.7M553.7 449.3H555.7" stroke="#000" stroke-width="0.6"/>
<circle cx="554.7" cy="443.7" r="1.3" fill="#000"/>
<text transform="translate(555 514.1) rotate(-56)" font-family="'Liberation Sans',sans-serif" font-style="italic" font-size="8" fill="#333" text-anchor="end">ALL(T=132,N=337)</text>
<path d="M571.1 399.7V498.9" stroke="#333" stroke-width="0.55"/>
<path d="M571.1 399.7L571 399.7L571 402.1L571 404.6L571 407.1L571 409.6L571 412.1L570.8 414.6L570.4 417L569.7 419.5L568.8 422L567.6 424.5L566.3 427L565.2 429.4L564.2 431.9L563.6 434.4L563.3 436.9L563.2 439.4L563.2 441.9L563.2 444.3L563.4 446.8L563.7 449.3L564.1 451.8L564.7 454.3L565.5 456.7L566.3 459.2L567.2 461.7L568.1 464.2L568.9 466.7L569.6 469.2L570.1 471.6L570.5 474.1L570.8 476.6L570.9 479.1L571 481.6L571 484L571 486.5L571 489L571 491.5L571 494L571 496.5L571 498.9L571.1 498.9Z" fill="#E64B35" stroke="#333" stroke-width="0.45"/>
<path d="M571.1 399.7L571.2 399.7L571.2 402.1L571.3 404.6L571.5 407.1L571.9 409.6L572.4 412.1L573.1 414.6L574.1 417L575.1 419.5L576.2 422L577.3 424.5L578.2 427L578.9 429.4L579.4 431.9L579.6 434.4L579.7 436.9L579.7 439.4L579.7 441.9L579.6 444.3L579.3 446.8L578.9 449.3L578.3 451.8L577.5 454.3L576.6 456.7L575.6 459.2L574.6 461.7L573.7 464.2L572.9 466.7L572.3 469.2L571.8 471.6L571.5 474.1L571.3 476.6L571.2 479.1L571.2 481.6L571.2 484L571.2 486.5L571.2 489L571.2 491.5L571.2 494L571.2 496.5L571.2 498.9L571.1 498.9Z" fill="#4DBBD5" stroke="#333" stroke-width="0.45"/>
<path d="M569.4 439.8V451.1M568.4 439.8H570.4M568.4 451.1H570.4" stroke="#000" stroke-width="0.6"/>
<circle cx="569.4" cy="445.4" r="1.3" fill="#000"/>
<path d="M572.8 438V449.3M571.8 438H573.8M571.8 449.3H573.8" stroke="#000" stroke-width="0.6"/>
<circle cx="572.8" cy="443.7" r="1.3" fill="#000"/>
<text transform="translate(573.1 514.1) rotate(-56)" font-family="'Liberation Sans',sans-serif" font-style="italic" font-size="8" fill="#333" text-anchor="end">LAML(T=173,N=337)</text>
<path d="M589.1 406.4V497.9" stroke="#333" stroke-width="0.55"/>
<path d="M589.1 406.4L589 406.4L589 408.6L589 410.9L589 413.2L588.9 415.5L588.8 417.8L588.6 420.1L588.3 422.4L587.9 424.7L587.3 426.9L586.6 429.2L585.9 431.5L585 433.8L584.2 436.1L583.4 438.4L582.7 440.7L582.1 443L581.7 445.3L581.4 447.5L581.2 449.8L581.1 452.1L581.1 454.4L581.1 456.7L581.2 459L581.3 461.3L581.6 463.6L582 465.8L582.6 468.1L583.3 470.4L584.1 472.7L584.9 475L585.7 477.3L586.5 479.6L587.2 481.9L587.8 484.1L588.3 486.4L588.6 488.7L588.8 491L588.9 493.3L589 495.6L589 497.9L589.1 497.9Z" fill="#E64B35" stroke="#333" stroke-width="0.45"/>
<path d="M589.1 406.4L589.2 406.4L589.2 408.6L589.2 410.9L589.2 413.2L589.2 415.5L589.2 417.8L589.2 420.1L589.2 422.4L589.2 424.7L589.2 426.9L589.2 429.2L589.2 431.5L589.2 433.8L589.2 436.1L589.2 438.4L589.2 440.7L589.2 443L589.7 445.3L591.7 447.5L594.8 449.8L597.1 452.1L597.6 454.4L597.3 456.7L595.3 459L592.2 461.3L589.9 463.6L589.2 465.8L589.2 468.1L589.2 470.4L589.2 472.7L589.2 475L589.2 477.3L589.2 479.6L589.2 481.9L589.2 484.1L589.2 486.4L589.2 488.7L589.2 491L589.2 493.3L589.2 495.6L589.2 497.9L589.1 497.9Z" fill="#4DBBD5" stroke="#333" stroke-width="0.45"/>
<path d="M587.4 449.3V460.6M586.4 449.3H588.4M586.4 460.6H588.4" stroke="#000" stroke-width="0.6"/>
<circle cx="587.4" cy="454.9" r="1.3" fill="#000"/>
<path d="M590.8 449.3V460.6M589.8 449.3H591.8M589.8 460.6H591.8" stroke="#000" stroke-width="0.6"/>
<circle cx="590.8" cy="454.9" r="1.3" fill="#000"/>
<rect x="588.3" y="381.9" width="1.6" height="0.9" fill="#555"/>
<text transform="translate(591.1 514.1) rotate(-56)" font-family="'Liberation Sans',sans-serif" font-style="italic" font-size="8" fill="#333" text-anchor="end">PCPG(T=177,N=3)</text>
<path d="M607.2 416.9V494" stroke="#333" stroke-width="0.55"/>
<path d="M607.2 416.9L607.1 416.9L607 418.8L606.9 420.8L606.6 422.7L606.3 424.6L605.9 426.6L605.4 428.5L604.7 430.4L604 432.3L603.2 434.3L602.4 436.2L601.7 438.1L601 440L600.4 442L599.9 443.9L599.5 445.8L599.3 447.8L599.2 449.7L599.1 451.6L599.1 453.5L599.1 455.5L599.2 457.4L599.3 459.3L599.5 461.2L599.8 463.2L600.2 465.1L600.7 467L601.3 469L602 470.9L602.7 472.8L603.4 474.7L604.1 476.7L604.8 478.6L605.4 480.5L605.9 482.4L606.3 484.4L606.6 486.3L606.8 488.2L607 490.1L607.1 492.1L607.1 494L607.2 494Z" fill="#E64B35" stroke="#333" stroke-width="0.45"/>
<path d="M607.2 416.9L607.3 416.9L607.3 418.8L607.3 420.8L607.4 422.7L607.5 424.6L607.8 426.6L608.2 428.5L608.7 430.4L609.4 432.3L610.2 434.3L611.1 436.2L612.1 438.1L613 440L613.8 442L614.5 443.9L615 445.8L615.3 447.8L615.5 449.7L615.6 451.6L615.6 453.5L615.6 455.5L615.5 457.4L615.4 459.3L615.2 461.2L614.9 463.2L614.5 465.1L614 467L613.3 469L612.6 470.9L611.9 472.8L611.1 474.7L610.4 476.7L609.7 478.6L609.1 480.5L608.6 482.4L608.1 484.4L607.8 486.3L607.6 488.2L607.4 490.1L607.3 492.1L607.3 494L607.2 494Z" fill="#4DBBD5" stroke="#333" stroke-width="0.45"/>
<path d="M605.5 449.3V460.6M604.5 449.3H606.5M604.5 460.6H606.5" stroke="#000" stroke-width="0.6"/>
<circle cx="605.5" cy="454.9" r="1.3" fill="#000"/>
<path d="M608.9 451.1V462.3M607.9 451.1H609.9M607.9 462.3H609.9" stroke="#000" stroke-width="0.6"/>
<circle cx="608.9" cy="456.7" r="1.3" fill="#000"/>
<rect x="606.4" y="381.9" width="1.6" height="0.9" fill="#555"/>
<text transform="translate(609.2 514.1) rotate(-56)" font-family="'Liberation Sans',sans-serif" font-style="italic" font-size="8" fill="#333" text-anchor="end">ACC(T=77,N=128)</text>
<path d="M625.3 408.8V498.6" stroke="#333" stroke-width="0.55"/>
<path d="M625.3 408.8L625.2 408.8L625.2 411.1L625.2 413.3L625.2 415.6L625.1 417.8L624.9 420L624.5 422.3L624 424.5L623.4 426.8L622.6 429L621.6 431.3L620.6 433.5L619.7 435.7L618.9 438L618.2 440.2L617.7 442.5L617.5 444.7L617.3 447L617.3 449.2L617.3 451.5L617.4 453.7L617.6 455.9L618 458.2L618.7 460.4L619.5 462.7L620.4 464.9L621.4 467.2L622.4 469.4L623.3 471.7L624 473.9L624.5 476.1L624.9 478.4L625.1 480.6L625.2 482.9L625.2 485.1L625.2 487.4L625.2 489.6L625.2 491.8L625.2 494.1L625.2 496.3L625.2 498.6L625.3 498.6Z" fill="#E64B35" stroke="#333" stroke-width="0.45"/>
<path d="M625.3 408.8L625.4 408.8L625.4 411.1L625.4 413.3L625.4 415.6L625.4 417.8L625.4 420L625.5 422.3L625.8 424.5L626.3 426.8L626.9 429L627.8 431.3L628.9 433.5L630 435.7L631.1 438L632 440.2L632.7 442.5L633.1 444.7L633.3 447L633.3 449.2L633.3 451.5L633.2 453.7L633 455.9L632.7 458.2L632.1 460.4L631.4 462.7L630.6 464.9L629.7 467.2L628.7 469.4L627.8 471.7L627.1 473.9L626.5 476.1L626 478.4L625.7 480.6L625.5 482.9L625.4 485.1L625.4 487.4L625.4 489.6L625.4 491.8L625.4 494.1L625.4 496.3L625.4 498.6L625.3 498.6Z" fill="#4DBBD5" stroke="#333" stroke-width="0.45"/>
<path d="M623.6 444.7V456M622.6 444.7H624.6M622.6 456H624.6" stroke="#000" stroke-width="0.6"/>
<circle cx="623.6" cy="450.4" r="1.3" fill="#000"/>
<path d="M627 445.4V456.7M626 445.4H628M626 456.7H628" stroke="#000" stroke-width="0.6"/>
<circle cx="627" cy="451.1" r="1.3" fill="#000"/>
<rect x="624.5" y="381.9" width="1.6" height="0.9" fill="#555"/>
<text transform="translate(627.3 514.1) rotate(-56)" font-family="'Liberation Sans',sans-serif" font-style="italic" font-size="8" fill="#333" text-anchor="end">KICH(T=66,N=168)</text>
<path d="M643.4 408.8V498.9" stroke="#333" stroke-width="0.55"/>
<path d="M643.4 408.8L643.3 408.8L643.2 411.1L643.1 413.3L642.9 415.6L642.5 417.8L642 420.1L641.3 422.3L640.4 424.6L639.5 426.8L638.6 429.1L637.7 431.3L636.9 433.6L636.3 435.9L635.9 438.1L635.6 440.4L635.4 442.6L635.4 444.9L635.4 447.1L635.4 449.4L635.6 451.6L635.8 453.9L636.3 456.1L636.8 458.4L637.5 460.6L638.4 462.9L639.2 465.1L640.1 467.4L640.9 469.6L641.6 471.9L642.2 474.2L642.6 476.4L642.9 478.7L643.1 480.9L643.3 483.2L643.3 485.4L643.3 487.7L643.3 489.9L643.3 492.2L643.3 494.4L643.3 496.7L643.3 498.9L643.4 498.9Z" fill="#E64B35" stroke="#333" stroke-width="0.45"/>
<path d="M643.4 408.8L643.5 408.8L643.5 411.1L643.5 413.3L643.5 415.6L643.5 417.8L643.5 420.1L643.5 422.3L643.5 424.6L643.7 426.8L644.1 429.1L644.7 431.3L645.6 433.6L646.8 435.9L648.1 438.1L649.3 440.4L650.3 442.6L651 444.9L651.4 447.1L651.6 449.4L651.6 451.6L651.5 453.9L651.2 456.1L650.5 458.4L649.4 460.6L648.1 462.9L646.7 465.1L645.5 467.4L644.5 469.6L643.9 471.9L643.6 474.2L643.5 476.4L643.5 478.7L643.5 480.9L643.5 483.2L643.5 485.4L643.5 487.7L643.5 489.9L643.5 492.2L643.5 494.4L643.5 496.7L643.5 498.9L643.4 498.9Z" fill="#4DBBD5" stroke="#333" stroke-width="0.45"/>
<path d="M641.7 440.1V451.4M640.7 440.1H642.7M640.7 451.4H642.7" stroke="#000" stroke-width="0.6"/>
<circle cx="641.7" cy="445.8" r="1.3" fill="#000"/>
<path d="M645.1 445.1V456.3M644.1 445.1H646.1M644.1 456.3H646.1" stroke="#000" stroke-width="0.6"/>
<circle cx="645.1" cy="450.7" r="1.3" fill="#000"/>
<rect x="642.6" y="381.9" width="1.6" height="0.9" fill="#555"/>
<text transform="translate(645.4 514.1) rotate(-56)" font-family="'Liberation Sans',sans-serif" font-style="italic" font-size="8" fill="#333" text-anchor="end">CHOL(T=36,N=9)</text>
<path d="M60.9 378h1.3v3.3h-1.3zM63.7 378h1.3v3.3h-1.3zM66.4 378h1.3v3.3h-1.3zM69.2 378h1.3v3.3h-1.3zM79 378h1.3v3.3h-1.3zM81.8 378h1.3v3.3h-1.3zM84.5 378h1.3v3.3h-1.3zM87.3 378h1.3v3.3h-1.3zM99.9 378h1.3v3.3h-1.3zM102.6 378h1.3v3.3h-1.3zM115.2 378h1.3v3.3h-1.3zM118 378h1.3v3.3h-1.3zM120.7 378h1.3v3.3h-1.3zM123.5 378h1.3v3.3h-1.3zM136 378h1.3v3.3h-1.3zM138.7 378h1.3v3.3h-1.3zM151.3 378h1.3v3.3h-1.3zM154.1 378h1.3v3.3h-1.3zM156.8 378h1.3v3.3h-1.3zM159.6 378h1.3v3.3h-1.3zM170.8 378h1.3v3.3h-1.3zM173.5 378h1.3v3.3h-1.3zM176.3 378h1.3v3.3h-1.3zM190.3 378h1.3v3.3h-1.3zM193 378h1.3v3.3h-1.3zM223.7 378h1.3v3.3h-1.3zM226.5 378h1.3v3.3h-1.3zM229.2 378h1.3v3.3h-1.3zM232 378h1.3v3.3h-1.3zM241.8 378h1.3v3.3h-1.3zM244.6 378h1.3v3.3h-1.3zM247.3 378h1.3v3.3h-1.3zM250.1 378h1.3v3.3h-1.3zM259.8 378h1.3v3.3h-1.3zM262.6 378h1.3v3.3h-1.3zM265.3 378h1.3v3.3h-1.3zM268.1 378h1.3v3.3h-1.3zM277.8 378h1.3v3.3h-1.3zM280.6 378h1.3v3.3h-1.3zM283.3 378h1.3v3.3h-1.3zM286.1 378h1.3v3.3h-1.3zM295.9 378h1.3v3.3h-1.3zM298.7 378h1.3v3.3h-1.3zM301.4 378h1.3v3.3h-1.3zM304.2 378h1.3v3.3h-1.3zM314 378h1.3v3.3h-1.3zM316.8 378h1.3v3.3h-1.3zM319.5 378h1.3v3.3h-1.3zM322.3 378h1.3v3.3h-1.3zM332.1 378h1.3v3.3h-1.3zM334.9 378h1.3v3.3h-1.3zM337.6 378h1.3v3.3h-1.3zM340.4 378h1.3v3.3h-1.3zM350.2 378h1.3v3.3h-1.3zM353 378h1.3v3.3h-1.3zM355.7 378h1.3v3.3h-1.3zM358.5 378h1.3v3.3h-1.3zM368.3 378h1.3v3.3h-1.3zM371.1 378h1.3v3.3h-1.3zM373.8 378h1.3v3.3h-1.3zM376.6 378h1.3v3.3h-1.3zM387.8 378h1.3v3.3h-1.3zM390.6 378h1.3v3.3h-1.3zM393.3 378h1.3v3.3h-1.3zM404.6 378h1.3v3.3h-1.3zM407.4 378h1.3v3.3h-1.3zM410.1 378h1.3v3.3h-1.3zM412.9 378h1.3v3.3h-1.3zM440.8 378h1.3v3.3h-1.3zM443.6 378h1.3v3.3h-1.3zM446.3 378h1.3v3.3h-1.3zM449.1 378h1.3v3.3h-1.3zM458.9 378h1.3v3.3h-1.3zM461.7 378h1.3v3.3h-1.3zM464.4 378h1.3v3.3h-1.3zM467.2 378h1.3v3.3h-1.3zM479.8 378h1.3v3.3h-1.3zM482.5 378h1.3v3.3h-1.3zM495.1 378h1.3v3.3h-1.3zM497.9 378h1.3v3.3h-1.3zM500.6 378h1.3v3.3h-1.3zM503.4 378h1.3v3.3h-1.3zM513.2 378h1.3v3.3h-1.3zM516 378h1.3v3.3h-1.3zM518.7 378h1.3v3.3h-1.3zM521.5 378h1.3v3.3h-1.3zM531.3 378h1.3v3.3h-1.3zM534.1 378h1.3v3.3h-1.3zM536.8 378h1.3v3.3h-1.3zM539.6 378h1.3v3.3h-1.3zM549.4 378h1.3v3.3h-1.3zM552.2 378h1.3v3.3h-1.3zM554.9 378h1.3v3.3h-1.3zM557.7 378h1.3v3.3h-1.3zM570.3 378h1.3v3.3h-1.3zM573 378h1.3v3.3h-1.3z" fill="#4a4a4a" fill-opacity="0.85"/>
<rect x="32.8" y="372.2" width="624.6" height="135.8" fill="none" stroke="#6a6a6a" stroke-width="1.4"/>
<text x="659" y="429.2" font-family="'Liberation Serif',serif" font-size="9" fill="#222" textLength="14.7" lengthAdjust="spacingAndGlyphs">Group</text>
<rect x="659.3" y="437.9" width="4.5" height="7" fill="#E64B35"/>
<text x="666.2" y="445" font-family="'Liberation Serif',serif" font-size="8.8" fill="#E64B35" textLength="14.8" lengthAdjust="spacingAndGlyphs">Tumor</text>
<rect x="659.3" y="451.9" width="4.5" height="6.8" fill="#4DBBD5"/>
<text x="666.2" y="458.7" font-family="'Liberation Serif',serif" font-size="8.8" fill="#4DBBD5" textLength="16.9" lengthAdjust="spacingAndGlyphs">Normal</text>
<polygon points="332,504.7 341.5,510.5 299.9,577.1 290.1,571.5" fill="none" stroke="#e8141a" stroke-width="1.3"/>
<text x="6.2" y="613.8" font-family="'Liberation Serif',serif" font-size="14.4">C</text>
<rect x="62" y="639.5" width="15.1" height="64.2" fill="#6a76b4"/>
<rect x="77.1" y="639.5" width="15.1" height="64.2" fill="#6470ae"/>
<rect x="92.2" y="639.5" width="15.1" height="64.2" fill="#6b7ab5"/>
<rect x="107.2" y="639.5" width="15.1" height="64.2" fill="#fbe6e9"/>
<rect x="122.3" y="639.5" width="15.1" height="64.2" fill="#f0b4bb"/>
<rect x="137.4" y="639.5" width="15.1" height="64.2" fill="#f6d0d5"/>
<rect x="152.5" y="639.5" width="15.1" height="64.2" fill="#f8dde0"/>
<rect x="167.6" y="639.5" width="15.1" height="64.2" fill="#fcefee"/>
<rect x="182.7" y="639.5" width="15.1" height="64.2" fill="#f1b3b9"/>
<rect x="197.8" y="639.5" width="15.1" height="64.2" fill="#efa8b0"/>
<rect x="212.8" y="639.5" width="15.1" height="64.2" fill="#f8d3d8"/>
<rect x="227.9" y="639.5" width="15.1" height="64.2" fill="#f2b7bd"/>
<rect x="243" y="639.5" width="15.1" height="64.2" fill="#e57682"/>
<rect x="258.1" y="639.5" width="15.1" height="64.2" fill="#e05c6b"/>
<rect x="273.2" y="639.5" width="15.1" height="64.2" fill="#f5c6cd"/>
<rect x="288.2" y="639.5" width="15.1" height="64.2" fill="#f5c9cf"/>
<rect x="303.3" y="639.5" width="15.1" height="64.2" fill="#f8d8dc"/>
<rect x="318.4" y="639.5" width="15.1" height="64.2" fill="#efa7af"/>
<path d="M77.1 639.5V703.7M92.2 639.5V703.7M107.2 639.5V703.7M122.3 639.5V703.7M137.4 639.5V703.7M152.5 639.5V703.7M167.6 639.5V703.7M182.7 639.5V703.7M197.8 639.5V703.7M212.8 639.5V703.7M227.9 639.5V703.7M243 639.5V703.7M258.1 639.5V703.7M273.2 639.5V703.7M288.2 639.5V703.7M303.3 639.5V703.7M318.4 639.5V703.7" stroke="#fff" stroke-width="0.7" stroke-opacity="0.7"/>
<text transform="translate(70.3 638.3) rotate(-40)" font-family="'Liberation Sans',sans-serif" font-size="4.1" font-weight="bold" fill="#222">Urine</text>
<text transform="translate(85.4 638.3) rotate(-40)" font-family="'Liberation Sans',sans-serif" font-size="4.1" font-weight="bold" fill="#222">CSF</text>
<text transform="translate(100.5 638.3) rotate(-40)" font-family="'Liberation Sans',sans-serif" font-size="4.1" font-weight="bold" fill="#222">Bile</text>
<text transform="translate(115.6 638.3) rotate(-40)" font-family="'Liberation Sans',sans-serif" font-size="4.1" font-weight="bold" fill="#222">Healthy</text>
<text transform="translate(130.7 638.3) rotate(-40)" font-family="'Liberation Sans',sans-serif" font-size="4.1" font-weight="bold" fill="#222">Benign</text>
<text transform="translate(145.8 638.3) rotate(-40)" font-family="'Liberation Sans',sans-serif" font-size="4.1" font-weight="bold" fill="#222">BRCA</text>
<text transform="translate(160.8 638.3) rotate(-40)" font-family="'Liberation Sans',sans-serif" font-size="4.1" font-weight="bold" fill="#222">CHOL</text>
<text transform="translate(175.9 638.3) rotate(-40)" font-family="'Liberation Sans',sans-serif" font-size="4.1" font-weight="bold" fill="#222">CRC</text>
<text transform="translate(191 638.3) rotate(-40)" font-family="'Liberation Sans',sans-serif" font-size="4.1" font-weight="bold" fill="#222">ESCC</text>
<text transform="translate(206.1 638.3) rotate(-40)" font-family="'Liberation Sans',sans-serif" font-size="4.1" font-weight="bold" fill="#222">GBM</text>
<text transform="translate(221.2 638.3) rotate(-40)" font-family="'Liberation Sans',sans-serif" font-size="4.1" font-weight="bold" fill="#222">GC</text>
<text transform="translate(236.3 638.3) rotate(-40)" font-family="'Liberation Sans',sans-serif" font-size="4.1" font-weight="bold" fill="#222">HCC</text>
<text transform="translate(251.3 638.3) rotate(-40)" font-family="'Liberation Sans',sans-serif" font-size="4.1" font-weight="bold" fill="#222">KIRC</text>
<text transform="translate(266.4 638.3) rotate(-40)" font-family="'Liberation Sans',sans-serif" font-size="4.1" font-weight="bold" fill="#222">ML</text>
<text transform="translate(281.5 638.3) rotate(-40)" font-family="'Liberation Sans',sans-serif" font-size="4.1" font-weight="bold" fill="#222">MEL</text>
<text transform="translate(296.6 638.3) rotate(-40)" font-family="'Liberation Sans',sans-serif" font-size="4.1" font-weight="bold" fill="#222">OV</text>
<text transform="translate(311.7 638.3) rotate(-40)" font-family="'Liberation Sans',sans-serif" font-size="4.1" font-weight="bold" fill="#222">PAAD</text>
<text transform="translate(326.8 638.3) rotate(-40)" font-family="'Liberation Sans',sans-serif" font-size="4.1" font-weight="bold" fill="#222">SCLC</text>
<defs><linearGradient id="lg" x1="0" x2="1"><stop offset="0" stop-color="#4a5aa8"/><stop offset="0.5" stop-color="#f6f0f4"/><stop offset="1" stop-color="#e04555"/></linearGradient></defs>
<rect x="157" y="619.4" width="64.6" height="3.4" fill="url(#lg)"/>
<text x="189.3" y="617.6" font-family="'Liberation Sans',sans-serif" font-size="3.4" font-weight="bold" fill="#333" text-anchor="middle">log2(TPM+1)</text>
<text x="157.5" y="626.6" font-family="'Liberation Sans',sans-serif" font-size="3.2" fill="#333" text-anchor="middle">0</text>
<text x="173.4" y="626.6" font-family="'Liberation Sans',sans-serif" font-size="3.2" fill="#333" text-anchor="middle">1</text>
<text x="189.3" y="626.6" font-family="'Liberation Sans',sans-serif" font-size="3.2" fill="#333" text-anchor="middle">2</text>
<text x="205.2" y="626.6" font-family="'Liberation Sans',sans-serif" font-size="3.2" fill="#333" text-anchor="middle">3</text>
<text x="221.1" y="626.6" font-family="'Liberation Sans',sans-serif" font-size="3.2" fill="#333" text-anchor="middle">4</text>
<text x="22.8" y="674" font-family="'Liberation Serif',serif" font-size="5.4" font-weight="bold" fill="#111">CD159A</text>
<text x="44.4" y="673.3" font-family="'Liberation Sans',sans-serif" font-size="3.9" font-weight="bold" fill="#333">(KLRC1)</text>
<rect x="60.4" y="707.1" width="273.8" height="80.4" fill="#fff" stroke="#777" stroke-width="1"/>
<path d="M60.4 707.1V787.5" stroke="#555" stroke-width="1.2"/>
<path d="M60.9 784.3H333.7M60.9 772.9H333.7M60.9 761.5H333.7M60.9 750.1H333.7M60.9 738.7H333.7M60.9 727.3H333.7M60.9 715.9H333.7" stroke="#e6e6e6" stroke-width="0.7"/>
<text x="58.3" y="785.6" font-family="'Liberation Sans',sans-serif" font-size="3.8" font-weight="bold" fill="#222" text-anchor="end">0</text>
<text x="58.3" y="762.8" font-family="'Liberation Sans',sans-serif" font-size="3.8" font-weight="bold" fill="#222" text-anchor="end">5</text>
<text x="58.3" y="740" font-family="'Liberation Sans',sans-serif" font-size="3.8" font-weight="bold" fill="#222" text-anchor="end">10</text>
<text x="58.3" y="717.2" font-family="'Liberation Sans',sans-serif" font-size="3.8" font-weight="bold" fill="#222" text-anchor="end">15</text>
<text transform="translate(52.3 747.3) rotate(-90)" font-family="'Liberation Sans',sans-serif" font-size="4" font-weight="bold" fill="#222" text-anchor="middle">TPM</text>
<path d="M25 748.2H29.5" stroke="#4bb89a" stroke-width="0.8"/><circle cx="27.2" cy="748.2" r="0.9" fill="#4bb89a"/>
<text x="31.5" y="749.2" font-family="'Liberation Sans',sans-serif" font-size="3" fill="#333">KLRC1</text>
<polyline points="69.6,784.3 84.7,784.3 99.8,783.8 114.8,766.1 129.9,753.1 145,761.5 160.1,764.5 175.2,767.2 190.3,753.5 205.3,749.2 220.4,762 235.5,755.1 250.6,728.2 265.7,710.9 280.8,759.2 295.9,759.7 310.9,763.3 326,750.6" fill="none" stroke="#4bb89a" stroke-width="0.9"/>
<g fill="#4bb89a"><circle cx="69.6" cy="784.3" r="1.1"/><circle cx="84.7" cy="784.3" r="1.1"/><circle cx="99.8" cy="783.8" r="1.1"/><circle cx="114.8" cy="766.1" r="1.1"/><circle cx="129.9" cy="753.1" r="1.1"/><circle cx="145" cy="761.5" r="1.1"/><circle cx="160.1" cy="764.5" r="1.1"/><circle cx="175.2" cy="767.2" r="1.1"/><circle cx="190.3" cy="753.5" r="1.1"/><circle cx="205.3" cy="749.2" r="1.1"/><circle cx="220.4" cy="762" r="1.1"/><circle cx="235.5" cy="755.1" r="1.1"/><circle cx="250.6" cy="728.2" r="1.1"/><circle cx="265.7" cy="710.9" r="1.1"/><circle cx="280.8" cy="759.2" r="1.1"/><circle cx="295.9" cy="759.7" r="1.1"/><circle cx="310.9" cy="763.3" r="1.1"/><circle cx="326" cy="750.6" r="1.1"/></g>
<text transform="translate(70.6 790.5) rotate(-35)" font-family="'Liberation Sans',sans-serif" font-size="3.4" font-weight="bold" fill="#222" text-anchor="end">Urine</text>
<text transform="translate(85.7 790.5) rotate(-35)" font-family="'Liberation Sans',sans-serif" font-size="3.4" font-weight="bold" fill="#222" text-anchor="end">CSF</text>
<text transform="translate(100.8 790.5) rotate(-35)" font-family="'Liberation Sans',sans-serif" font-size="3.4" font-weight="bold" fill="#222" text-anchor="end">Bile</text>
<text transform="translate(115.8 790.5) rotate(-35)" font-family="'Liberation Sans',sans-serif" font-size="3.4" font-weight="bold" fill="#222" text-anchor="end">Healthy</text>
<text transform="translate(130.9 790.5) rotate(-35)" font-family="'Liberation Sans',sans-serif" font-size="3.4" font-weight="bold" fill="#222" text-anchor="end">Benign</text>
<text transform="translate(146 790.5) rotate(-35)" font-family="'Liberation Sans',sans-serif" font-size="3.4" font-weight="bold" fill="#222" text-anchor="end">BRCA</text>
<text transform="translate(161.1 790.5) rotate(-35)" font-family="'Liberation Sans',sans-serif" font-size="3.4" font-weight="bold" fill="#222" text-anchor="end">CHOL</text>
<text transform="translate(176.2 790.5) rotate(-35)" font-family="'Liberation Sans',sans-serif" font-size="3.4" font-weight="bold" fill="#222" text-anchor="end">CRC</text>
<text transform="translate(191.3 790.5) rotate(-35)" font-family="'Liberation Sans',sans-serif" font-size="3.4" font-weight="bold" fill="#222" text-anchor="end">ESCC</text>
<text transform="translate(206.3 790.5) rotate(-35)" font-family="'Liberation Sans',sans-serif" font-size="3.4" font-weight="bold" fill="#222" text-anchor="end">GBM</text>
<text transform="translate(221.4 790.5) rotate(-35)" font-family="'Liberation Sans',sans-serif" font-size="3.4" font-weight="bold" fill="#222" text-anchor="end">GC</text>
<text transform="translate(236.5 790.5) rotate(-35)" font-family="'Liberation Sans',sans-serif" font-size="3.4" font-weight="bold" fill="#222" text-anchor="end">HCC</text>
<text transform="translate(251.6 790.5) rotate(-35)" font-family="'Liberation Sans',sans-serif" font-size="3.4" font-weight="bold" fill="#222" text-anchor="end">KIRC</text>
<text transform="translate(266.7 790.5) rotate(-35)" font-family="'Liberation Sans',sans-serif" font-size="3.4" font-weight="bold" fill="#222" text-anchor="end">ML</text>
<text transform="translate(281.8 790.5) rotate(-35)" font-family="'Liberation Sans',sans-serif" font-size="3.4" font-weight="bold" fill="#222" text-anchor="end">MEL</text>
<text transform="translate(296.9 790.5) rotate(-35)" font-family="'Liberation Sans',sans-serif" font-size="3.4" font-weight="bold" fill="#222" text-anchor="end">OV</text>
<text transform="translate(311.9 790.5) rotate(-35)" font-family="'Liberation Sans',sans-serif" font-size="3.4" font-weight="bold" fill="#222" text-anchor="end">PAAD</text>
<text transform="translate(327 790.5) rotate(-35)" font-family="'Liberation Sans',sans-serif" font-size="3.4" font-weight="bold" fill="#222" text-anchor="end">SCLC</text>
<text x="408" y="613.1" font-family="'Liberation Serif',serif" font-size="13.6">D</text>
<text x="543.9" y="621.3" font-family="'Liberation Serif',serif" font-size="10.8" text-anchor="middle">KIRC</text>
<text x="541" y="635.5" font-family="'Liberation Serif',serif" font-size="11" text-anchor="middle"><tspan font-style="italic">p</tspan>=0.0217</text>
<path d="M497.2 643H585M497.2 639.6V646.4M585 639.6V646.4" stroke="#111" stroke-width="1.6"/>
<path d="M454 653.3V768.5M453.4 767.9H628" stroke="#333" stroke-width="1.4" fill="none"/>
<path d="M450 767.9H454M450 739.4H454M450 710.8H454M450 682.2H454M450 653.7H454" stroke="#333" stroke-width="1.3"/>
<text x="450.2" y="771" font-family="'Liberation Sans',sans-serif" font-size="8.6" font-weight="bold" fill="#222" text-anchor="end">0</text>
<text x="450.2" y="742.5" font-family="'Liberation Sans',sans-serif" font-size="8.6" font-weight="bold" fill="#222" text-anchor="end">10</text>
<text x="450.2" y="713.9" font-family="'Liberation Sans',sans-serif" font-size="8.6" font-weight="bold" fill="#222" text-anchor="end">20</text>
<text x="450.2" y="685.4" font-family="'Liberation Sans',sans-serif" font-size="8.6" font-weight="bold" fill="#222" text-anchor="end">30</text>
<text x="450.2" y="656.8" font-family="'Liberation Sans',sans-serif" font-size="8.6" font-weight="bold" fill="#222" text-anchor="end">40</text>
<text transform="translate(423.8 710.4) rotate(-90)" font-family="'Liberation Serif',serif" font-size="9.9" font-weight="bold" fill="#111" text-anchor="middle">CD159A mRNA expression</text>
<text transform="translate(434 710.2) rotate(-90)" font-family="'Liberation Serif',serif" font-size="10" font-weight="bold" fill="#111" text-anchor="middle">(Relative to U6)</text>
<g fill="#000"><circle cx="480" cy="762.6" r="2.35"/><circle cx="497.3" cy="759.4" r="2.35"/><circle cx="521.9" cy="762.1" r="2.35"/><circle cx="487" cy="765" r="2.35"/><circle cx="514.4" cy="765" r="2.35"/><circle cx="476.5" cy="766.7" r="2.35"/><circle cx="479.5" cy="767.1" r="2.35"/><circle cx="482.5" cy="766.4" r="2.35"/><circle cx="485.5" cy="766.5" r="2.35"/><circle cx="489" cy="767.2" r="2.35"/><circle cx="492" cy="767.3" r="2.35"/><circle cx="495" cy="767" r="2.35"/><circle cx="498" cy="767.2" r="2.35"/><circle cx="501" cy="767.3" r="2.35"/><circle cx="504" cy="766.9" r="2.35"/><circle cx="507" cy="766.6" r="2.35"/><circle cx="510.5" cy="766.4" r="2.35"/><circle cx="514" cy="767.1" r="2.35"/><circle cx="517.5" cy="767.3" r="2.35"/></g>
<path d="M468.4 766.1H526.5M490 764.3H505M497.3 764.3V766.1" stroke="#000" stroke-width="1.5"/>
<g fill="#000"><rect x="575" y="657.2" width="4.4" height="4.4"/><rect x="582.2" y="662.8" width="4.4" height="4.4"/><rect x="582.2" y="716.9" width="4.4" height="4.4"/><rect x="575" y="728.3" width="4.4" height="4.4"/><rect x="582.2" y="730.8" width="4.4" height="4.4"/><rect x="582.2" y="748.2" width="4.4" height="4.4"/><rect x="582.2" y="758.8" width="4.4" height="4.4"/><rect x="561.1" y="764.9" width="4.4" height="4.4"/><rect x="567.9" y="764.9" width="4.4" height="4.4"/><rect x="571.3" y="764.9" width="4.4" height="4.4"/><rect x="575" y="764.9" width="4.4" height="4.4"/><rect x="578.7" y="764.9" width="4.4" height="4.4"/><rect x="582.2" y="764.9" width="4.4" height="4.4"/><rect x="585.7" y="764.9" width="4.4" height="4.4"/><rect x="589.3" y="764.9" width="4.4" height="4.4"/><rect x="592.8" y="764.9" width="4.4" height="4.4"/><rect x="596.1" y="764.9" width="4.4" height="4.4"/><rect x="603.2" y="764.9" width="4.4" height="4.4"/></g>
<path d="M555.2 747.3H613.6M569 739.1H599.3M569 755.5H599.3M584.4 739.1V755.5" stroke="#000" stroke-width="1.6"/>
<text x="497.3" y="779.5" font-family="'Liberation Serif',serif" font-size="8.7" font-weight="bold" fill="#111" text-anchor="middle">Normal (n=16)</text>
<text x="584.2" y="779.5" font-family="'Liberation Serif',serif" font-size="8.7" font-weight="bold" fill="#111" text-anchor="middle">Cancer (n=18)</text>
<text x="6.1" y="804.1" font-family="'Liberation Serif',serif" font-size="13">E</text>
<text x="106.2" y="835.3" font-family="'Liberation Sans',sans-serif" font-size="13.8" font-weight="bold" text-anchor="middle">Normal</text>
<text x="263" y="835.6" font-family="'Liberation Sans',sans-serif" font-size="13.8" font-weight="bold" text-anchor="middle">KIRC Low</text>
<text x="425.7" y="836" font-family="'Liberation Sans',sans-serif" font-size="14" font-weight="bold" text-anchor="middle">KIRC High</text>
<text transform="translate(27.4 889.3) rotate(-90)" font-family="'Liberation Serif',serif" font-size="13.5" font-weight="bold" text-anchor="middle">CD159A</text>
<defs><filter id="bl" x="0" y="0" width="1" height="1"><feGaussianBlur stdDeviation="0.45"/></filter></defs>
<defs><clipPath id="c1"><rect x="37.1" y="842.6" width="149.7" height="112.9"/></clipPath></defs>
<g clip-path="url(#c1)"><g filter="url(#bl)">
<rect x="37.1" y="842.6" width="149.7" height="112.9" fill="#cbd3e4"/>
<path d="M134.6 931.6l0.1 0M103.8 924.1l2.1 1.9M177.7 885.6l1 0.8M72 868.7l1.1 0.9M133.3 863.6l-2.6 0.1M177.3 890.3l-1.7 1M112.7 909.1l0.7 0.1M142.3 918.7l0.5 1.2M110.4 845.9l2.1 0.3M112.3 953.5l-1.2 1.1M123.6 894.4l1.1 1.2M169.8 926.2l-1.3 0.9M122.4 865.2l0 1.5M128.8 894.3l0.7 0.1M156.4 934.8l1.8 1.8M150.2 870.8l1.8 0.6M62.3 873.4l-0.8 1.1M100.1 863.8l2.5 0.9M40.2 844.6l1.9 1M70.1 952.7l-1.2 0.9M85.2 913.8l0.9 0.2M83.6 948.6l-0.9 0.9M159.8 951.2l-0.1 0.5M93.7 881.8l1.6 1.2M81.4 899l1.4 2.2" stroke="#e4e9f2" stroke-opacity="0.5" stroke-width="7" stroke-linecap="round"/>
<path d="M162.2 891.5l0 0M172 846.1l1.6 0.1M41.4 867.6l0.3 1.5M80.5 845l-1.5 0.8M55.2 880.2l-1.4 1.6M82.5 908.9l-2.4 0.9M156.5 889.4l1.4 0.9M113.2 930.5l-0.1 1.2M184.3 909.6l0.2 0.5M165.9 868.8l-0.1 2.9M180.4 843.2l-1.9 1.5M121.1 890.7l2.6 0.5M90.5 881.7l-0.2 1.9M63.6 908.6l-2.2 1M137.9 852l0 0M88.7 850.4l1.4 0.8M85.3 896.1l1.2 0.1M113.5 866.2l-0.8 2.3M61.1 922.1l-0.9 1.4M70.5 915.8l0.6 1.6M182 941.4l1.5 2.1M74.9 843.6l-0.1 0M167 952.5l-0.9 1.2M101.9 864.5l1.9 0.6M171.8 844.6l0.8 0.6" stroke="#e4e9f2" stroke-opacity="0.5" stroke-width="7" stroke-linecap="round"/>
<path d="M184.9 931l0.6 0.5M109.6 953.9l-0.1 0.1M163 884.2l0.6 0.8M93.7 907l0.3 0.1M169.6 847.1l-0.5 0M173.2 875.8l0 0.1M126.4 893.4l1.1 0.2M136.2 871.9l0.2 0.2M163.9 943.5l0.3 0.6M47.9 904.8l0.7 0.2M112.2 932.4l-0.2 0M148.8 920.5l0 0.2M87.8 871.7l-0.2 0.4M75.9 936.2l0.2 0.7M102.7 920.1l0.4 0.4M44.3 850.7l-0.2 0.1M92.7 921.8l-0.3 1M89.2 900.7l0 0M94.3 933.2l0.3 0.2M74.3 927.2l0.4 0.3M124.8 870.9l-0.8 0.6M151 952.5l0 0.7M103.3 893.4l0.3 0.9M169.1 936.2l-0.6 0M98 913.6l-0.9 0.2M109.6 895.3l0 0.9M71.8 905.9l-0.8 0.6M154.7 864l1 0.6M110.8 853.9l0.7 0.1M68.8 923.3l-0.3 1M97 942l1 0.5M172.7 846.6l0 0M182.2 915l1.1 0.2M66.9 942l-0.4 0.7M164.7 848.6l-0.5 0.3M169.2 845.4l0.9 0.3M165.2 876.9l0.5 0.5M161.6 875.5l0.2 0.6M174 879.4l1.1 0.3M185.7 931.1l-0.3 0.3M44.6 853.8l0.1 0.1M166.1 845.1l-0.8 0.4M100.8 918.9l-0.9 0.2M164.5 894.4l0.5 0.7M159.6 950.2l-0.1 0.3M109.2 880.6l0.4 0.2M109.8 923.4l-0.9 0.1M119.4 902.9l-1.1 0.2M138.4 852.4l-0.2 0.3M94.9 944.8l0 0.5M87.6 897.5l-0.8 0M150.9 937.7l0.6 0.6M141.2 872.8l0.2 0.5M117.2 849.2l-0.4 0.6M56.2 858.4l0.6 0.2M129.2 852.1l-0.6 1M139.1 847.2l-0.1 0.1M96.9 948l0.6 0.6M121.6 903.1l-0.7 0.2M102.2 904.2l0.4 0.5M145.4 919.9l0.5 0.7M163.1 938.4l-0.2 0.1M121.2 942.3l-0.6 0.5M37.2 847.3l0.6 0.3M152.7 848.9l0.1 0.3M62.9 915.2l0.4 0.7M87.3 952.1l-0.4 0.3M175.8 937.4l0 0.1M156.5 875.2l-1 0.1M74.2 930.6l-0.2 0.4M184.7 922.5l-0.1 0.5M67.1 934.8l0.6 0.3M78.9 895.4l0.3 0.1M48.6 931.4l-0.3 0.3M136.2 954l-0.2 0.1M150.1 871.4l-0.3 0.2M131.9 870.4l0 0.1M37.6 856.2l-0.3 0.3M182 929.4l0.1 0.1M69.2 935.5l-1.1 0.3M180.3 909.8l0 0.6M162 862.6l-0.3 0.1M125.2 878.4l-0.3 1M172.2 880.6l-0.1 0.8M171.2 859.3l0.3 0.5M76.8 952l-0.2 0.7M183.2 935.4l0.6 0.9M169.9 847.2l-0.5 0.9M124.9 856.4l0.1 0M38.5 928.9l0 0M95.8 916.4l0.7 0.4M143 881.4l0.2 0.8M123.3 939.4l0.1 1M90.4 931.2l-0.6 0.6M167.4 866.1l1.1 0.4M64.5 929.1l-0.1 0.4M41.8 884.5l-0.6 0.2M78.4 843.9l0.6 0.2M47.3 843l-0.7 0.8M38.4 866.5l0.4 0.5M132.9 928.6l0.9 0.6M88.6 909.2l-0.6 0.5M95 890.7l-0.9 0.5M176.4 927.8l0.1 0.4M57.3 851.6l0.6 0.5M169.8 946.1l0 0.1M131 917.8l1.1 0.4M74.1 938.3l0.1 0.4M58.2 868.3l0 1.1M90.3 891.5l0.7 0.6M91 911.4l-0.1 0M137.5 953.8l0.3 0.5M99.3 850.7l-0.5 0.9M138.2 879l0.2 0.6M74.2 926.3l0 0.7M148.2 861.3l0.9 0.1M63.1 898l0.8 0.7M129.5 877.4l0.1 0.5M155 874.5l1.2 0M153.2 862.2l0.8 0.5M52.3 848.7l-0.5 0.1M70.8 934.2l0.2 1M85.3 874.2l0 0.5M105.8 903.4l0.5 0.8M164.9 875.2l0.3 0.8M94.7 922.8l0.2 0.9M184.9 927.7l0.1 0.6M56.5 857.7l-0.7 0.5M58.5 883.3l-0.4 0.1M141.5 847.4l0.8 0.5M144.7 954.8l-0.4 0.7M159.7 843.5l-0.4 0.3M132.8 891.9l0.2 0M127.3 853.5l-0.6 1M108.6 925.4l0.7 0.1M53.7 916.5l0 1.1M78.5 912.6l0.8 0.9M63.1 922.3l-0.1 0.2M173.4 903.8l-0.6 0M76.9 951.2l0 0.1M121.3 872.7l-0.1 0.3M101.4 938.5l0.5 1M167 878.9l0.6 0.6M154.1 842.8l-0.6 0.5M102.4 900.9l0.5 0.5M129.4 914.7l0.5 0.5M173.4 929.6l-0.2 0.2M110.7 937.6l1 0.1M83.2 903.3l-0.9 0.5M85.4 876.7l0.1 1M174 939.1l0.6 0.9M113.7 932.3l0.1 0M127.9 945.2l0.2 0.3M74 940.8l0.9 0.6M162.5 949.8l0 0M38.3 874.2l-0.1 1M96.1 944.4l0.1 0M98.6 886.6l0.2 0M61.4 852.5l1 0.2M177.1 952.1l-0.1 0M124.3 938.2l-0.4 0.1M138.4 873.8l-0.8 0.7M69.9 926.2l0.3 0.7M129.6 919.5l-0.3 0.1M61.4 937.2l-0.8 0.2M87.5 947.1l-0.8 0.5M149.1 874.8l-0.6 0.8M142.5 868.1l-0.1 0.3M59.9 886l0.6 0.2M148.1 866.1l1 0.4M103.2 882.1l-0.5 0.7M164.3 858.2l0 0.8M103.5 909.1l-1 0.5M38.3 845.3l-0.3 0.4M73.2 924.6l0 0M124.6 928.6l-0.9 0.3M126.3 928.7l0 0M124.3 952.9l-0.5 0.8M157.4 926.1l-0.1 0.3M42.7 916.8l0.3 0.9M44.2 874.3l-1.1 0.2M169.7 948.6l-0.1 0.1M68.7 946.7l0.6 0.5M101.1 913l0.3 0.1M152.7 858.5l0.9 0.3M86 926.9l0.2 0.1M76 945.2l-0.5 0.7M88.5 909l-0.9 0.2M70.5 895.9l0 0M117.3 938.3l0 0.1M174.9 944.3l0.3 0.2M134.1 876.9l0.2 0.3M84.6 901.6l0 0.1M115 846.3l0 0.2M87 909l0.5 0.4M82.8 876.2l0.3 0.2M37.5 885.7l0.7 0.4M99.1 860.6l0.1 0.6M91.2 924.4l0.8 0.7M144.8 948.6l-0.4 0.2M58.3 849.5l-0.2 0.2M128.2 897.5l0.1 0.5M94.5 920.1l0.4 0.1M138.9 928.7l-0.7 0.1M127.2 867.1l-0.2 0.1M48.9 902.2l-0.1 0.5M107 884.7l0.5 0.3M69.2 937.1l0.2 0M150.6 879.4l0.6 0.2M63.8 859.1l0 0.8" stroke="#5580c8" stroke-opacity="0.8" stroke-width="2.5" stroke-linecap="round"/>
<path d="M162.5 947.8l-0.8 0.3M62.5 945.5l-0.5 0.5M57.4 904.8l0.1 0M161 844l0.1 0M54.4 861.5l-0.1 0.1M134.7 847.1l-0.4 0M182.3 952.1l0.6 0.5M104.2 916.2l-0.5 0.1M123.8 909.9l0.3 0M80.6 932l-0.2 0.1M58.3 945.4l0.6 0.9M144.1 918l1.1 0.2M122.5 849.6l0.1 0.1M72.1 843.4l0 0.8M108.8 868l-0.2 1.1M151.8 942.3l-0.6 0.8M171.3 951l0.3 0.2M184 933.8l0.7 0.8M54.9 910.4l0.3 0.1M162.1 865.9l0 0.3M94.5 874.7l-0.1 0.1M83.7 899.4l0 0M93.6 865.6l0.5 0.5M184.9 877.1l-0.2 0.6M127.7 882.1l-0.6 0.8M127.7 866.2l-0.3 0.1M142.9 937.9l-0.7 0.2M127.9 872.2l0.2 0.1M170.2 867l-0.6 0.8M165.5 878.7l-0.3 1.1M45.7 885.4l0.1 1M78.1 855.9l0.8 0.1M121 901.6l0.2 0.4M74.8 952.8l-1 0.3M92.5 953.8l-0.1 0.5M49.9 846.5l-0.3 0.3M180.3 908.5l-0.2 0.5M85.8 927.1l0 0.2M175.2 933.1l-0.1 0.7M121.3 945l0.2 0.8M76.3 914l0.1 0M79.6 943.2l-1 0.4M97.5 942.3l0 0M37.9 856.2l-0.8 0.3M119.4 952.9l-0.5 1.1M99.3 844.7l0.7 0.8M71.4 845.6l0.1 1.1M137.6 856l0.4 0.4M113.1 944.8l-0.1 0.1M170 954.6l0 1.1M175.7 952l-0.1 0.5M116.9 911.4l0.1 0.3M87.8 911l-0.8 0.3M158.6 943.3l0 0.4M169.5 890.3l0.4 0M88.2 910.5l0.4 0M84.6 873l0.2 0M78.1 900.8l-0.4 0.1M119.3 848.7l0.2 0.1M107.9 888.1l0.3 0.7M60.4 945.7l-0.2 0.1M54.7 910.5l-0.5 0.8M100.3 948l0 0.1M73 906.1l0.8 0.4M132.1 901.2l-0.6 0.9M94.5 936.7l-0.1 0.1M145.4 864.5l-0.1 0.7M41 851l-0.6 0.5M178.8 844.7l-0.4 0.8M120.9 915l-0.3 0M112.2 889.7l0.2 0.4M146.5 880.5l0.3 0.3M66.5 933.1l0.4 0.3M139.3 909.3l0 0.1M50.4 936l0 0.3M158.7 950.6l1 0.3M94.6 946.8l-0.2 0.2M109.3 911.9l-0.3 0.7M161.5 857.2l0 0.1M51.2 919.2l0.1 0.5M184 930.3l-0.5 0.2M96.1 944.9l-0.6 0.1M155.5 907.6l0 0M158.4 843l0.1 0.2M160.1 955l0 0M77.1 852l-0.2 0.2M165.7 857.6l0.4 0.8M100.7 952.5l0.1 0.1M38.5 953.4l0.5 0.5M116.2 866.2l0 0.4M81.6 947.9l0 0M121.5 904.7l0.1 0.8M83.5 910.9l0.1 1.1M83 844.3l-0.3 0.9M133.7 857.1l-0.7 0.1M106.2 940.4l0.9 0.7M84.6 910.8l0.4 0.5M149.3 954.3l0.1 0.3M47 843.6l0 0M104.9 880l0.2 0M59 936.6l0.3 0M100.4 870.7l0.2 0.2M173.5 910.9l0.9 0.2M96.4 895.8l0.2 0.1M62.8 939.2l0.1 0.6M145.8 864.2l-0.6 0.1M42 873.2l-0.3 0M38.1 853.6l0.4 1M101.8 941l0 0.6M57.1 866.1l0 0.1M133.5 864.8l-0.2 1M42.5 848.5l0 0.2M40 862.9l0.6 0.8M122 941.3l0.2 1M121.4 898.7l-0.1 0.7M136.2 876.9l-0.3 0.3M184.9 954.8l0.8 0.9M119.8 861.8l-0.7 0.1M45.2 924.1l0.2 0.5M120.4 932.8l-0.3 0.1M101.1 942.8l0 0.2M52.6 854.2l0.4 0.2M84 927.6l0 0.5M106.3 897.3l0 0.3M137.4 862.4l-1.1 0.3M51.1 888.6l-0.1 0.9M178.1 866.1l-0.2 0M110.3 946.8l-0.1 0.7M169.9 923.8l0 0M158.9 929.7l0 0.1M119.3 865.9l0 0M115.4 908.6l-0.3 0.1M80.2 895.9l0.9 0.2M133.4 904.1l-0.6 0.2M166.7 884.3l1 0.4M122.9 905.9l0.7 0.1M85.2 952.2l0 0.3M83 849.7l-1.1 0.1M152.3 912.9l0 0M138.8 863.8l0 0M40.4 911.6l0 0.5M185.4 931.7l-0.4 0.1M183.7 901.4l-0.6 0.9M186.2 944l-0.3 0.4M130.8 949.3l0.3 0.1M76.7 936.3l-0.1 0.1M41.3 908.4l-0.9 0.8M89.1 847.4l0.4 0.1M132.1 921.8l-1 0M154.6 859.3l0.3 0.2M68.7 847l-0.7 0.5M105.7 903.6l0.2 0.2M183.4 847.4l0.1 0.4M41 953l0.4 0.4M57.6 945.8l0 0.2M116.5 902.8l0.5 0.3M161.6 941.8l-0.1 0.1M40.5 906.9l0 0.6M162.7 847.1l0 0.2M87.7 896.2l0.4 0.9M130 854.6l-0.3 0.9M94.5 951l0 0M42.2 844.7l0.4 0.5M143.8 845.2l0.4 1.1M127.7 923.3l0 0.3M113.3 899.9l1 0.6M119.7 874.9l-0.1 1.1M157 871.1l-0.1 0.1M135.1 931.3l0.6 0.1M167.9 948.3l0.9 0.3M102.3 872.7l1.1 0.2M42.2 851.1l1 0.5M153.4 946.2l0 0.2M174.9 872.4l0.4 0.2M142.9 914.6l-0.8 0.7M141 928.3l-0.4 0.3M176.1 933.7l-0.3 0.9M95.6 948.8l0.2 0.1M154.2 847.3l-0.1 0.1M176.4 933.9l0.7 0M154.6 894.4l-0.3 0M101.6 918.5l0.4 0.8M71.5 937.4l0.7 0.3M114.2 865.1l-0.3 0.1M136.9 932.6l0.7 0.8M175.3 944.4l0 0M92.5 934.4l-1.1 0.1M78.4 882.5l-0.8 0.6M126.1 949.9l-0.7 0.6M108.1 948l0.3 0.9M120.6 846.7l-0.2 0.2M123.1 898.7l0.6 0.8M129.6 921.8l0.3 0M80.4 861.2l0.4 1.1M50.4 932.5l-0.4 0.8M68.4 847.4l0.6 0M70.1 888.5l0.5 0M126.3 935.3l0.2 0.2M117.5 845.1l0.3 0.2M79.1 939.4l0.6 0.3M166.4 847.1l0.8 0M142.7 856.5l0.7 0.1M93.7 949l0.5 0.3M77.3 934.1l0.8 0.5M46.7 898.9l-0.2 0.2M176 905.1l-0.8 0.3M79.4 936.6l0.4 0.3M141.7 877.5l0 0M181.6 916.3l0 0M162.6 884l0.3 1.1" stroke="#5580c8" stroke-opacity="0.8" stroke-width="2.5" stroke-linecap="round"/>
<path d="M179.9 861.7l-0.3 0M185.5 928.3l0.5 0.1M155.6 923.3l-0.9 0.2M50 887.1l0.3 0.2M77.5 942.3l0.1 0.3M143.2 946.9l-0.9 0.2M168.6 857l0.2 0.2M183 843.5l-0.4 0.2M147.1 950.4l-0.6 0.3M186.7 891.3l-0.1 0.2M147.5 881.7l0.1 0.2M129.3 860.9l0.7 0.1M113.3 890.9l-0.5 0.6M135.2 939.6l0.5 0M132.4 877.8l-0.9 0.1M68.6 894.9l1 0.1M96.2 937.9l0.7 0.6M55.1 920.4l0.2 0.9M58.3 850.3l0.5 0.3M102 918.1l0.1 0.4M159.3 953.5l0.5 0.7M70.8 850.7l-0.1 0.4M53.7 849.1l0.6 0.8M100 935.9l0.6 0M94.5 899l-0.2 0.8M74.6 913.9l0.1 0.5M81 908.5l-0.2 0.8M37.2 877.4l0.8 0.4M131.1 918.6l0.1 0.1M137.5 850.9l0.1 0M161.6 899.3l0.7 0M104.8 847.6l-0.6 0M63.3 909.4l0.9 0.3M103 914.9l-0.4 0M68.4 953.3l-0.5 0.1M76 935.9l-0.5 0.6M156.7 886l-0.6 0.4M170.5 952.2l0.2 0M157 936.1l-0.4 0.6M70.1 900.3l0.2 0.1M39.6 877.1l0.1 0.4M106.5 916.5l0 0M61.6 926.6l-0.1 0M48.7 857.9l-0.9 0.4M63.3 921.9l0.4 0.1M85.9 942.6l0.1 0.1M108.9 851.7l-0.3 0.4M85.2 895.6l0.1 0.9M87.2 926.2l0.1 0M145.7 854.9l0.2 0.2M170.5 937.7l0.1 0.1M106.5 895.6l0.9 0.2M107.2 895.2l-0.2 0.7M129.5 948.2l-0.1 0.1M160.2 938.5l-0.3 0.3" stroke="#2d55b0" stroke-opacity="0.8" stroke-width="2.2" stroke-linecap="round"/>
<path d="M72.3 944.7l0.7 0.3M63.8 903.7l0.5 0.2M90.8 953l0.3 0.8M181.9 848.4l0.4 0.3M102.4 872.4l0.7 0.4M60.2 857.6l-0.6 0.8M144 877.5l0.1 0.4M37.5 931.4l-0.5 0.6M64.5 867.2l-0.3 0.1M95.8 884.2l0 0.6M82.6 918l0.6 0.4M74.2 895.5l0 1M116 915.9l0.2 0.1M126 847.4l0 0M144.1 890.5l-0.1 0.2M145.2 912.8l0.6 0.7M39.2 872.9l-0.3 0.1M161.7 952.9l0.1 0.4M106.8 947l0.6 0.3M69.7 954.5l0.1 0.9M173.5 870.6l-0.5 0.7M139.2 853.6l0 0.8M82.9 893.5l0 0.2M165.6 886.5l0 0M107.8 903.8l0.5 0M154.4 848.5l0.8 0.4M115.7 896.2l-0.4 0.7M102.4 874.2l-0.2 0.3M132.2 924.5l-0.3 0.2M160.7 951.8l0.2 0.4M86.1 933.4l-0.4 0.7M40.7 859.3l0.5 0.5M93.5 933.7l-0.1 0M181.6 843.5l0 0.4M182.1 850.1l0.2 0.7M169.3 937.2l-0.8 0.4M82.8 932.8l-0.3 0.1M125.1 954.3l-0.5 0.1M113.7 873.8l-0.4 0.2M53.8 861.5l0.5 0.5M180.5 847.6l-0.2 0.2M76.4 849.6l0 0M154.1 888.5l0.6 0.8M128.2 939.7l0 0.8M145.4 884.4l0.1 0.4M108.6 914.5l0.1 0.6M43.9 871.2l0.1 0.2M60.2 898.4l0.7 0.1M148.8 856.2l-0.2 0.1M45.7 885.4l0 0M109.7 862l0.6 0.5M88.7 848.9l0.3 0.7M162.6 855.4l-0.7 0.5M124.4 915.2l0.1 0.4M103.1 912.9l0.1 0.5" stroke="#2d55b0" stroke-opacity="0.8" stroke-width="2.2" stroke-linecap="round"/>
<path d="M38 937L52 918L70 895L88 872L103 853M77 957L90 930L104 906L118 880L129 852M124 957L140 930" fill="none" stroke="#f3f4f7" stroke-opacity="0.82" stroke-width="5.5" stroke-linecap="round" stroke-linejoin="round"/>
<path d="M41 882L40 866L46 856L56 853L58 862L52 876ZM144 862L155 858L164 861L162 880L157 898L149 908L142 905L143 885ZM160 911L172 908L178 914L177 926L166 930L160 922ZM151 842L160 842L159 853L152 854Z" fill="#f3f4f7" fill-opacity="0.85"/>
<path d="M36 920L44 915L46 940L40 957L36 957Z" fill="#eef1f6" fill-opacity="0.7"/>
<path d="M166.1 880.1l-0.1 0.1M135.7 843.1l0 0M97.2 941.1l0 0M84.1 875.2l0.5 0.2M171 865l0.9 0.1M101.2 842.7l0.1 0.2M152.2 938.9l0.5 0.2M56.4 901.4l-0.2 0.7M148.6 954.3l0.3 0.1M93.5 845.8l0.5 0.1M64 896.2l0.3 0.3M172.5 954.8l0 0M160.2 843.8l0 0.2M156.4 930l-0.2 0.2M171.5 950.2l0.2 0.3M130.3 949.1l-1 0.2M75.6 913.4l0.9 0M173.9 855l0.1 0M103 878.8l0.1 0.5M171.6 901.5l0.3 0.3" stroke="#3d68c0" stroke-opacity="0.7" stroke-width="2.3" stroke-linecap="round"/>
<path d="M183.5 847.5l-0.1 0.1M100.3 912.5l0.5 0M73.1 941.4l0 0.4M58.1 858.6l0.2 0.1M110.4 952.1l-0.4 0.3M93.8 939.5l-0.3 0.9M160.2 930.3l-0.4 0.2M92.1 943.9l-0.7 0.3M103.3 890.2l-0.2 0.4M85.4 868.7l0.1 0M148.1 851.1l-0.3 0.7M134.2 904l-0.6 0.2M64.3 850.7l-0.4 0.1M152 893.9l-0.7 0.1M37.5 936.6l-0.1 0.2M87.5 870.9l0.1 0M134.1 939.4l0.3 0.4M67.5 862.7l0.2 0M143 907.9l-0.9 0.1M110.7 900.6l-0.7 0.1" stroke="#3d68c0" stroke-opacity="0.7" stroke-width="2.3" stroke-linecap="round"/>
</g>
</g>
<defs><clipPath id="c2"><rect x="191.8" y="843.6" width="150.6" height="113"/></clipPath></defs>
<g clip-path="url(#c2)"><g filter="url(#bl)">
<rect x="191.8" y="843.6" width="150.6" height="113" fill="#e0e4eb"/>
<path d="M292.7 878.4l-0.8 2.3M279.3 861.5l0.3 1.5M300.7 956l-2.1 0.3M258.8 873.9l0.1 0M261.8 879.6l1.3 3.3M271 906.9l0.1 0.1M240.8 859l-0.1 4M293.4 864.1l-3 1M302.4 946l-2.3 2.1M245.1 954.5l-0.6 0.1M305.4 924.4l0.3 2.1M265.6 948.1l0 3.3M245.1 943.4l-1.8 0.6M277.3 947.6l-1.3 1.5M225.2 880.3l-0.4 0.5M328.5 873.9l-1.2 0.3M336 923.4l0 2.1M289.9 910l0.5 0.7M268.9 949.2l-0.1 0.3M315.4 925.6l-0.7 0.2M304 850.2l-0.5 1M225.9 942.5l2 0.7M320.4 871.3l2.8 2.2M255.5 924.6l1.4 0.1M217.7 919.6l3.7 1M195.6 926l1 0.1M314.3 861.4l2.3 1.5M249.9 848.5l-0.6 0M197.3 882.5l-1.1 2.8M208.8 881.7l1.8 0.2M307.2 927.2l-2.9 0.9M321.7 923.3l0.1 0.9M291.3 879.3l1.7 0.6M323.5 858l-0.4 1.5M269.3 859.9l-1 0.1M283.1 891l2.2 0.1M213 850l0.6 0.1M206.2 915.4l-0.1 3.9M332.5 956l1.3 1.2M229.6 910.4l-1.2 3" stroke="#f6f7f9" stroke-opacity="0.85" stroke-width="9" stroke-linecap="round"/>
<path d="M298.7 872.6l0.4 1.5M192.5 847.6l0.1 0.3M300.8 870.8l0.5 0.2M226.7 868.2l-0.1 1.4M238.4 916.1l2.1 1.7M336.8 926l0.3 1.5M279.3 849.4l0.4 1.5M219.1 854.2l-0.9 0.6M270 947.7l-0.3 0.8M339.9 885.7l2.1 0.1M207 878.2l-1.8 1M194.2 894.6l0.4 1.4M223.2 910.1l0.8 0.2M248 949.3l2.2 0.5M220.8 908.2l0.5 1.3M305.3 888.2l0.3 0.1M203.9 939.7l-1.2 2.6M296.1 846.4l-1.1 2M300.8 899.9l0.6 1.2M312.1 874l-0.1 1.4M335.6 934.5l-2.5 0.5M236.5 869.8l0 0.8M256.2 920.3l-1.7 0.4M315 854.4l1.3 2.7M213.9 890.7l0.3 0.1M326.7 955.3l-0.2 0.3M236.4 869.8l-1 1.8M257.9 902.8l1.5 0.6M334.9 929l1.5 0.5M299.5 872.7l-1.3 0.4M297.7 889.3l-2.3 0M278.2 860l0 0.1M281.4 943.2l1.3 0.8M264.5 889.4l-1.7 2.2M298 897l-1 0.1M304.1 918l-1.9 1.7M225.7 913.8l0.6 1.9M339 915.3l1.4 0.1M299 943.4l-1.1 2.2M194.4 950.2l-1.2 1.4" stroke="#f6f7f9" stroke-opacity="0.85" stroke-width="6" stroke-linecap="round"/>
<path d="M328.1 943.6l-0.5 0.3M222.7 952.8l0.4 0M321.9 858.8l0.1 0.3M322.9 878.5l0 0.4M226.9 895.3l0.5 0.6M331.8 880.5l0.1 0.1M292.8 885.1l0.7 0.4M245.9 947.3l-0.3 0.2M229.5 882.3l0.4 0.3M242.7 930.4l0.3 0.8M329.6 852.3l0 0M264.3 906.7l0 0M223.7 849.6l0.2 0.5M286.2 867.4l0.2 0.3M317.6 911.2l0.1 0.1M233.6 945.6l0.1 0.3M232.8 946.5l0.2 0.4M321.3 868.7l-0.3 0.6M193.7 942l0.1 0.2M317.3 845.7l0.1 0M329.7 860.7l-0.7 0.1M201.1 918.8l-0.1 0.3M252.3 901.8l0 0.4M207.2 906.6l-0.2 0.3M246.5 950.7l-0.6 0.4M299.5 941l-0.1 0.5M208.5 911.1l0.1 0.1M199.7 902.1l0.2 0.7M277.9 902l0.1 0.7M255.5 874l-0.5 0.5M295.2 871.5l0.3 0.6M290.2 951.9l-0.2 0.5M291.9 917l0 0.8M252.4 947.5l0 0M225.4 912.8l0.4 0.5M339.6 864.1l-0.5 0.3M268.7 861.9l0 0.3M204.4 931.6l0.3 0.2M260.2 952.1l0.3 0.2M261.7 866l0.3 0.5M302.1 865.7l0 0M264.2 876.9l-0.3 0.7M324.3 904.1l-0.4 0.1M290.2 882.6l-0.5 0.1M328 853.3l-0.1 0.1M304.3 872.9l0.1 0.2M256 844.4l-0.4 0.6M215.1 873.9l0.1 0.1M217.9 934.6l-0.1 0.4M325.3 895.6l-0.4 0.2M302.4 954.8l-0.7 0.1M267.4 872.4l0 0M219.5 849l-0.4 0M212.1 922.1l-0.1 0.1M280.6 855.3l0.5 0.3M331.8 945.2l-0.3 0.5M299.7 905l0.1 0.1M207.7 899.2l0.2 0.1M263.3 917.9l0.3 0.7M272.5 916.6l0 0.1M248.3 917.3l0.2 0.2M332.8 929.4l0 0M316.5 852.7l0 0.4M196.4 844.3l-0.4 0.7M315 881.1l-0.2 0.1M248.5 909.9l-0.3 0.2M256.5 925.6l-0.4 0.6M324.4 937l-0.4 0.6M301.9 920l0 0M204.5 892.5l-0.1 0M333.2 867.9l0 0.4M213.6 905.2l0.2 0.1M335.8 923.1l-0.1 0.1M282.9 923.2l0.1 0.2M310.1 880.9l-0.5 0.3M323.2 875.4l-0.2 0M330.4 881.9l-0.1 0.2M308.2 873.4l0 0.5M270.5 855.6l-0.4 0.4M329.8 935.6l0 0.4M317.3 873.2l-0.6 0.4M195.1 855.2l0.2 0.1M329.6 891.8l-0.4 0.1M199.4 854.2l-0.3 0M267.2 903.4l-0.5 0.5M281.6 902.4l0.2 0.1M194 903.9l-0.4 0.1M321.7 880.2l-0.2 0.5M260.3 882.3l0.2 0M246.9 925.5l-0.2 0.2M212.6 878.6l0 0.5M281.2 847.7l0 0.3M284 911.1l-0.4 0.4M223.8 867.4l0.1 0.3M236.9 859.5l0.4 0.3M306 903.8l0.6 0.1M330.6 938.3l0 0M222.8 947.6l-0.1 0.3M276.6 955.6l-0.2 0.1M279.7 929.4l-0.4 0.4M274.4 919.8l0.3 0.6M291.7 846.3l0.2 0.7M303.5 847.2l0.4 0M224.7 944.3l-0.1 0.1M260.1 921.7l-0.3 0M267.7 923.8l0 0.2M296.9 943.3l0.7 0.3M304.9 953.6l0.1 0.1M221.4 945.7l-0.5 0.1M250.2 915l0.4 0.1M247.8 946l-0.6 0.2M288.8 899.6l-0.6 0.3M199.6 909.6l-0.1 0.3M254.5 950.1l0 0.1M338.1 856.6l0.2 0.1M216.8 893.9l-0.3 0.2M205.6 845.9l0 0M253 924.9l0 0M266.4 875.2l-0.3 0M290.2 860.2l0.7 0.1M271 943.4l0.3 0.2M272.6 930l-0.1 0.1M287.6 873.5l0.5 0.6M299.4 950.3l0.1 0.2M300.2 949l0.5 0.3M291.3 948.1l-0.5 0.1M288.9 931.8l-0.6 0.1M270.8 948.4l-0.1 0.1M272.5 940.7l0.1 0.5M339.5 867.8l-0.4 0.5M275.5 937.7l0.2 0.6M302.4 852.1l-0.6 0.1M204.5 939.7l-0.1 0.1M334.5 955.5l0 0.1M240.7 944.5l0.5 0.4M334.5 884.5l0.2 0.3M229.6 904.8l0.3 0.5M278.6 895.7l0.4 0.1M274.3 927l0 0M295.7 851.3l0.2 0.1M317.7 900.1l0 0.2M249 916.8l0.4 0.7M274.5 852.9l-0.5 0.3M238.7 854.8l-0.2 0.2M250.7 921.4l0.3 0.5M322.4 863.7l-0.1 0.7M287.5 846.2l0.1 0.7M194 871.9l0.2 0.2M293.7 890.3l0.1 0.1M281.6 900l-0.1 0.1M230 955.6l0 0.4M251.7 935.3l-0.6 0.4M275.6 884.3l0.1 0.1M323 857.4l0 0.4M194.6 867l-0.5 0.3M266.3 884.7l0 0.1M232.8 951.1l0 0M218 892.9l0 0.1M238.3 846.5l-0.2 0.1M270.1 928.1l-0.3 0.2M235.8 935.1l-0.4 0.6M308.6 870l0.1 0M267 923.1l0.4 0.2M230.7 949.3l0.5 0.3M226.1 915.6l0.2 0.7M238.5 947.7l0 0.3M285.1 872.8l0 0.2M278.6 932.9l0.1 0.2M237.7 917.9l-0.1 0.6M284.9 881.7l0 0.4M298.7 927.8l-0.3 0.5M267.5 954.3l0 0.1M278.3 924.4l-0.3 0.4M263.4 907.4l-0.2 0.4M300.6 908.7l-0.7 0.1M210 846.8l-0.5 0.4M339.6 887.1l0.1 0.6M328.7 856.7l0.5 0.2M340.5 874.9l-0.2 0.3M313.9 889.1l0.7 0.1M200.9 935.8l0 0M205.9 875.8l0.1 0.1M302.5 884l0.7 0.1M218.9 942.7l-0.1 0M276.7 863.6l-0.5 0.2M203.7 900l-0.3 0.2M220.6 956.2l0.6 0.3M202.7 859.4l-0.7 0.2M266.3 944.3l-0.1 0.1M197.2 853.1l0.7 0M202 885.4l0.1 0M214.3 859.2l0.5 0.1M304.6 909.7l-0.2 0.4M293.3 944.2l-0.3 0.2M217.5 853.5l0.4 0.5M192.2 869.8l0 0M282 874.2l0.6 0.2M281.3 921.2l0 0.1M214.6 860.8l0 0.2M285.3 955.2l-0.1 0M335 913.1l0 0.4M242.5 943.5l-0.6 0M192.3 894.3l0.5 0.5M269.5 906.2l-0.7 0.1M307.1 875.5l0.6 0.5M288.3 917.4l0.3 0.4M341.1 872.3l-0.4 0M204.9 941.3l0 0.1M257.2 936.8l0.4 0.6M199 896.7l0.1 0.2M338.9 859.1l0 0.1M297.5 928.6l0.2 0.1M221.4 850.3l0 0.1M287.2 896.4l0.4 0.3M254.9 928.2l0.6 0.3M291.4 878.4l0.3 0.2M271.2 913.8l0.4 0M195 905.7l-0.4 0.3M249.5 888.7l-0.3 0.1M287.3 926.7l0.5 0.2M194.6 862.8l0.4 0.2M192.3 847.3l-0.2 0M213 858.2l0.1 0.4M334.2 919l-0.1 0.5M218.3 895.9l0.2 0.2M282.1 915.4l0.3 0.4M211.8 897.1l0.3 0.2M237 924.6l-0.1 0M296.7 854l0.3 0.1M284.2 910.8l-0.1 0.2M222.4 929.1l0.2 0.3M310.6 871.8l-0.1 0.6M201.7 877.1l-0.3 0.3M315.6 868.6l0 0.1M334.8 852.2l-0.1 0.1M304.5 866.5l0 0M236.2 948.2l0.4 0.1M196.2 921l-0.2 0.7M214.8 904.3l0 0M230.6 858.5l0.1 0.2M311 880.3l0.1 0.2M251.8 956.2l-0.3 0.6M319.6 907.3l0 0.7M263.2 901.4l-0.6 0.2M337.1 950.6l-0.4 0.4M312.2 952.5l0.5 0.4M283.1 858.8l0.4 0.1M207.7 913.8l-0.6 0.3M254.6 914.7l-0.3 0.1M271.4 954.2l0.6 0.3M198.3 910.9l0 0.1M221.3 934.3l0.2 0.1M196.3 876.8l0 0M227.1 954.9l0.6 0.2M292.1 886.6l0 0.1M307.4 850.8l0.6 0M291.5 953l-0.1 0.1M227.3 856.2l-0.5 0.3M282 884.9l0.2 0.7M213.5 855l0 0M277.1 848.4l0.2 0.3M293.4 881.8l0.5 0.2M210 887.9l-0.6 0.2M206.6 902.1l0.2 0.1M193 912.8l-0.2 0.8M274.2 919.8l0.7 0.4M222.3 873.8l0.1 0.4M234.7 953.3l-0.1 0.2M203.1 866.2l-0.3 0.3M195.1 931.9l-0.4 0.2M269.9 891.4l0.2 0M333.8 864.7l0.2 0.1M316.1 953.4l-0.5 0.4M203.8 881l0 0.2M338.4 849.1l-0.3 0.1M253.8 940.1l0.5 0.6M308.1 950l0.2 0.5M314.5 941.1l0.1 0.4M207.5 877.3l-0.3 0.6M255.2 923.2l-0.2 0.1" stroke="#5a8ad0" stroke-opacity="0.8" stroke-width="3.0" stroke-linecap="round"/>
<path d="M220.6 934.5l-0.1 0.3M264.8 919.9l0.3 0.3M236.2 844.8l-0.3 0M205.8 915.2l-0.1 0.7M246.7 879.6l0 0.1M294 885.8l-0.1 0.1M219.9 952.2l0.3 0M206.1 859.7l0.2 0.2M256.5 931.6l0 0.7M239.5 938.3l-0.1 0.4M207.8 883.2l0.5 0.2M212.9 899.2l0.1 0M268.2 947.2l0.6 0.2M297.6 897.3l-0.5 0.4M287.6 905.1l-0.8 0.1M300.3 895.1l0.5 0.2M310.2 894.2l0.2 0.3M294.5 878.4l-0.2 0.1M230.3 925.4l0.1 0.3M283.2 886.1l-0.2 0.7M280.9 923l0.1 0.1M257.5 953.3l0 0.3M302.4 868.6l0 0.1M263.1 950.3l0.4 0.6M268.5 952.9l0.3 0.6M216.3 848.7l-0.7 0.1M192.7 889.4l0.3 0.4M210.9 891.8l0.3 0.7M281.3 858l0.6 0M315.5 913.8l0.4 0.5M261.3 918.6l0 0.4M296.6 884.6l0.1 0.1M292.3 888.9l0 0.1M196.4 899.4l0.3 0M277.4 925.7l0.3 0.3M225.7 909.8l-0.4 0.2M310.9 858.7l0 0M210.1 951.9l-0.6 0.4M312.1 876l-0.2 0.1M319.8 861.2l0.1 0M305.2 859.1l-0.5 0M244.8 939.2l0.3 0.4M309.1 869.6l0.1 0M198.3 921l0.2 0.6M207.9 869.8l0.1 0.4M316.9 863l0.2 0.1M220.4 843.8l0.1 0.2M269.7 935.5l0.1 0.4M278.4 880l0.7 0M262.6 915.8l0.5 0.4M268.2 944.4l0.6 0.1M199.5 932.1l0.1 0.2M293.5 943.1l0.2 0.3M337.5 909.3l0.3 0.7M196.4 846.8l0.5 0M290.8 890.1l-0.7 0.3M323.8 866.8l-0.2 0.1M336.5 956.6l0 0.1M285.7 956.2l0 0.1M261.3 912.2l0.1 0.1M262.7 880.4l0 0M208.7 856.2l-0.1 0.5M307.7 877.7l0.5 0.1M262.2 916.4l-0.7 0.4M306.1 941.3l0.3 0.2M265 917.7l-0.3 0.2M321.9 849.9l0 0.3M305.1 874.8l0.1 0.3M230.1 930l0 0.3M235.1 844.1l0.4 0.5M336.3 951l0.1 0.4M281.4 914.6l0.3 0.3M281.5 865.2l-0.3 0.3M271.6 871.4l-0.2 0.2M303 947.6l0.1 0.5M224.4 950.8l-0.3 0.1M333.3 936.6l0 0.4M275.5 892.4l0.3 0.8M204 890.3l-0.2 0.1M286.8 943.9l0 0M231.7 941.5l0.1 0M293.1 891.2l0.4 0.1M339.9 886.2l0.2 0.2M313.2 869l-0.1 0M242.9 949.9l0.3 0M273.3 934.1l-0.2 0.2M323.2 866.2l0 0.3M194.8 932.4l0.5 0.3M206.3 922.3l0.1 0.3M195.9 905.2l0.5 0.5M342.4 952l-0.1 0M306.4 927.7l0.1 0.6M260.8 932.6l-0.5 0.5M315 863l0 0M209.3 848.1l0.6 0.1M281.3 929.2l0.2 0.5M314.3 891.4l0.6 0.1M290.5 859.5l0 0M215.9 847.1l0.4 0.1M237.9 944.8l0.4 0.1M244.8 905.2l0.1 0.2M253.3 951.6l0 0.2M270.9 930.4l0.4 0.5M244 872.2l0.1 0.5M258.4 930.4l-0.2 0.2M295 896.3l-0.1 0.5M272.3 943.9l-0.5 0.1M261.8 952.6l0.4 0M340.9 860.5l0.6 0.3M303.4 876.8l0.3 0M297.3 929.9l-0.3 0.3M290.2 917.9l-0.3 0.2M300.1 866.5l0.1 0.3M271.8 929.6l-0.5 0.1M271.9 935.7l0 0M234.6 847.6l-0.2 0.4M276.1 853.1l-0.1 0.1M297.8 870.3l-0.6 0M222.9 934.3l0 0.1M221.7 876.1l0.4 0M215.9 847.4l-0.1 0M229 888.1l-0.6 0M232.5 943l-0.5 0.1M247.6 944.7l0.1 0.1M319.6 889.6l0.2 0.4M260.8 938.9l-0.1 0.7M198.9 922.5l0 0M220.2 946.5l-0.2 0.1M307 927.7l0.1 0.1M246.3 908.6l-0.3 0.6M292.9 915.6l-0.5 0.4M253.3 862.5l0.6 0.3M228.1 899.6l-0.4 0M317.9 860l0.1 0.1M298.2 899.4l0.6 0.3M224.5 949.1l0.2 0.3M236.8 927.1l-0.4 0.4M243.7 939l0.3 0.1M285.8 945.6l0.1 0.5M249.5 948.7l-0.1 0.3M228.7 948.5l0.5 0M209.3 859.1l0.2 0.3M205.8 867.1l-0.3 0M255.4 856.6l0.6 0.2M243.8 956l0.4 0M194 924.9l-0.5 0.6M307.5 943.1l0.7 0.1M329.7 868.2l0.2 0.7M341.2 877l0.1 0M254.3 868.2l-0.4 0.5M202.9 883.9l0 0.1M292.8 945.5l-0.4 0.1M278.5 889.9l-0.2 0.4M196.5 893.9l0.5 0.4M273.1 932.2l0.7 0.3M273 893.8l0.2 0.3M201.5 892.4l0.1 0.7M209.4 895.4l0.1 0.1M266.7 852.8l-0.1 0.1M246.8 955l0 0M222.8 914.5l-0.3 0.7M198.1 908.7l0 0M195.7 863.5l0 0.3M239.8 940.9l0 0.5M204.9 864.9l0.2 0.1M319.7 907.1l-0.1 0.5M316.1 940.5l-0.3 0.2M192 923.4l0.5 0.4M228.7 852.1l0.1 0.2M256.8 924.1l-0.6 0.5M330 890.2l0 0M307.6 883.7l-0.5 0.3M285.6 880.3l0.4 0.1M303.9 932.3l0.4 0.4M316.8 925.7l0.2 0.3M264.5 940.6l-0.1 0.2M290.2 845.1l-0.4 0.1M273.4 846l0.1 0.5M282.4 918.7l-0.1 0.1M277 915.3l0.4 0.1M260 923.7l0.1 0.2M221 889.6l-0.2 0.2M300.2 948l0.5 0.3M235.3 934.7l-0.2 0.2M209 852.9l0.2 0.1M286.6 860.8l0 0M272 954.8l-0.2 0.1M233.9 951l0 0.1M310.7 951.2l0.1 0.5M195.9 852l0.2 0.6M312.6 880.2l-0.3 0.1M247.2 920.4l0.8 0.1M228.8 945.8l0.4 0.1M218 952.8l0.1 0.1M234.5 926.1l-0.1 0.7M247 926.2l0.1 0.1M223.9 851.2l-0.2 0.2M258.3 932.1l0.5 0M309.9 889l-0.2 0M270.1 923.6l-0.4 0.2M254.9 912.4l-0.3 0.1M201.2 906.5l-0.1 0.8M242.7 846.6l0.7 0.2M226.9 931.2l0.5 0.3M339.6 869.6l0 0.1M333.8 857.6l-0.5 0.2M295 903.7l0.1 0M303.4 930.3l0.1 0.8M316.7 850.3l0.3 0.4M260.2 914.1l-0.4 0.6M231.7 863.6l0 0.1M334.5 873.1l-0.2 0.6M312.7 850.8l0.1 0.1M319.4 939l-0.1 0.2M335.7 869.4l0 0M326.4 874.7l0.3 0.1M295.5 880.8l0.6 0.5M209.4 868.4l0.2 0.1M231.7 923.3l-0.7 0.3M230.7 926.3l0 0M326.4 953.7l-0.5 0.1M196.5 882.2l-0.3 0.2M213.8 851.8l-0.2 0.7M288.9 879.7l0.1 0.6M296.3 893.9l0.2 0M207 912.5l0.3 0.4M208.2 909.7l0 0M227.2 910.6l-0.7 0.2M321.6 851.5l0.2 0.4M294.1 844.6l0.7 0.1M200.1 885.6l-0.1 0.7M206.7 890.2l0 0.7M270.1 908.9l-0.1 0.5M310.6 866.5l0.4 0.4M302.6 865.6l-0.3 0.5M240.3 948.6l0.3 0.2M197.5 923.6l-0.3 0.3M222.9 945.6l0 0M312.7 863l-0.2 0.3M278.9 880.6l0.8 0.2M231.8 950.2l-0.2 0.2M201.4 882.1l-0.5 0.2M333.9 940.3l-0.4 0.1M230.9 893l0 0.1M284.6 849.7l0 0.7M259 947.7l0.4 0.6M324.7 881l0 0M215.9 921l0.5 0M311 943l0.3 0.2M311.9 942.1l0 0M242.9 857.8l-0.4 0.1M292.3 895.1l-0.1 0.1M194.7 880.6l-0.2 0.1M235.5 940.4l0.5 0.2M215.1 947.6l-0.4 0.5M290.4 952.6l-0.2 0.1M196.6 888.8l-0.3 0.3M238.6 955.9l-0.6 0.2M290.9 918.2l0.3 0.5M214 909l-0.3 0.3M287.1 868.2l0.3 0M270.4 935.1l0.1 0M331.3 863.7l-0.1 0.3M341.3 933.4l-0.4 0.1M306.7 881.9l-0.2 0.5M308.2 902.1l0.3 0.4M312.6 930.7l0.1 0.2M245.2 942.3l-0.4 0.2M225.8 924.2l-0.1 0.1M194.8 913.5l0 0.1M274.8 847.2l0.4 0.2M329.7 919.3l-0.3 0M317.8 846.4l0.2 0.7M342.2 947.9l-0.3 0.4M335.6 863.6l0.1 0.1M214.7 917.8l-0.1 0.6M325.9 948l0.4 0.4M229.1 851.4l0.3 0.3M319.4 954l0.5 0.2M292.5 872.3l-0.1 0.5" stroke="#5a8ad0" stroke-opacity="0.8" stroke-width="3.0" stroke-linecap="round"/>
<path d="M281.6 925.4l0.1 0.3M253.3 943.2l-0.3 0.2M257.1 937l0.3 0.2M282.5 845.6l-0.2 0M341.7 867.4l0.3 0.3M336.9 934.8l-0.5 0.3M240.8 937.3l0.1 0M203.2 856.1l0 0M196.7 856.4l0 0M327.5 886.7l-0.3 0.5M246.9 946.4l0.1 0.5M250.5 916.6l0 0.3M257.2 925.3l-0.2 0.3M268.5 844.9l0.1 0.1M234.6 937.1l-0.2 0.1M291.1 861.5l0 0M207.2 883.7l0 0.1M199.5 865.6l0 0M265.6 955.9l0 0.4M308.3 935.6l0.3 0.1M286 905.9l-0.2 0.1M267.2 923.7l0 0M242.9 854.5l-0.1 0.1M196.4 854l-0.3 0.4M230.2 944.8l0.1 0.2M292 861.2l0.4 0.5M236.9 876.5l-0.1 0M291 857.8l-0.1 0M297 879.8l0.3 0.4M300.3 895.5l-0.1 0M290.6 868l0 0.1M313.5 946.2l0 0.1M299.2 882.2l0 0.1M291.3 937.3l0.6 0.1M272.4 926.1l0.3 0.4M322.6 855.9l0 0.3M261.4 919.9l0 0.1M236.5 952.5l0.2 0.2M250.6 932.9l0 0M277.4 848.9l-0.3 0.2M300.5 899.3l-0.4 0M342.2 945.6l0 0.2M243.8 912.2l0 0M272.7 924.3l0.4 0.3M258.3 953.6l-0.3 0.5M224.2 846.9l-0.3 0.5M215.4 954.8l0.4 0.2M318.2 873.2l-0.1 0.1M246.3 941.6l-0.1 0.1M268.7 926.2l-0.3 0.2M334.8 853.1l0.4 0M241.1 942l0 0.2M212.9 944l-0.2 0.3M226.3 859.3l0.1 0.1M335.1 861.3l0 0" stroke="#2d5ab4" stroke-opacity="0.75" stroke-width="2.6" stroke-linecap="round"/>
<path d="M230.1 858.5l0.3 0.3M328.5 884.4l-0.3 0.2M312.6 889.4l-0.1 0.5M295.6 861.4l0 0M201.7 951.9l0.4 0.2M255.8 948.9l-0.2 0.2M301.9 848.8l-0.2 0.2M266.7 907.6l0.3 0.2M277.4 881.6l-0.3 0.1M216.2 907.1l-0.1 0.3M331.4 862.2l-0.4 0M301.8 890.7l0.1 0M267.3 933.5l0 0.2M329.8 898.8l0.1 0.1M299.9 942.5l-0.2 0M261.3 902.9l-0.1 0M317.7 867.5l0 0M293.7 853.7l0.1 0.4M340.6 938l0.1 0.4M257.4 845.6l-0.1 0.3M256 926.4l0 0.2M238 857.6l-0.1 0M338 907.6l0 0.3M251 883.1l0 0.4M266.2 914.2l0.3 0.1M312.8 947.6l0.3 0.1M284.1 852.1l-0.2 0M279.5 875.1l0.5 0.3M193.7 858.5l0 0.3M195.2 876.6l-0.2 0.1M202.9 846.7l0.1 0.6M312.8 870.5l-0.4 0.3M207.3 907.4l-0.1 0M212.6 918.5l0 0M262.7 887.5l0.3 0.5M286.6 890l0.2 0.1M242.1 919.1l0.2 0.1M310.9 900.7l-0.3 0.3M314.4 944.6l0.5 0.1M317 868.6l0.1 0.4M238.6 939.8l0 0M265.9 907.7l0.1 0.3M207.8 854.2l0 0M299.2 861.6l0 0.4M258.7 845.2l-0.2 0M241.4 848.6l-0.1 0M306.7 925.7l0.1 0.4M198.4 870.7l0.1 0.5M249.2 942.8l0.2 0.4M307.3 880.9l0.2 0M292.3 900.5l-0.4 0.1M286 907.4l0 0.1M283.1 864.3l0 0M292.2 878.1l-0.3 0.1M213.4 844.6l0.6 0.1" stroke="#2d5ab4" stroke-opacity="0.75" stroke-width="2.6" stroke-linecap="round"/>
</g>
</g>
<defs><clipPath id="c3"><rect x="346.7" y="843.6" width="150.4" height="113"/></clipPath></defs>
<g clip-path="url(#c3)"><g filter="url(#bl)">
<rect x="346.7" y="843.6" width="150.4" height="113" fill="#86503a"/>
<path d="M348.7 938.2l0.6 0.7M496.4 896.7l-1.7 0.9M442.8 860.6l-1.4 3.2M425.4 927.4l-0.1 0.2M460.7 910.4l0.1 0.1M476.9 897l-2.2 2.7M454.1 947.7l1 3M413.6 949.3l-0.4 0.1M367.1 868.1l-1.7 0.2M440.9 877.6l0 1.5M399.5 909.7l-0.9 3.5M449.3 948.6l-3.6 1.7M447.7 862l-3.5 1.6M482.8 907.9l-0.5 0.7M471.8 908.4l0.2 0.2M475.1 955.4l3.1 0.9M408.4 860.6l1.9 2.5M478 848.6l-0.1 0.2M454.8 881l-3.7 1.4M422.7 956.4l0.2 0.3M436.9 847.1l1.3 0.9M438.5 861.3l3.4 0.5M393.9 951.9l-1.4 0.5M415.9 902.4l-1 2.1M430.8 913.7l-2 0.4M411.6 925l0.9 0.8M493.8 902.5l0 0M409.1 909.1l2.5 0.2M441.8 850.4l-0.7 1.7M448.9 883.4l-1.8 2.3M350 850.4l-2 3.3M384.5 895.2l-0.4 1.2M401.4 878.9l1 2.2M391.9 886.2l-0.1 0.1M432.3 926.7l0.5 0.7M467.6 870.6l1.4 1M451.7 855.1l0.7 1.1M472.1 893.1l-0.6 0.3M397.3 917.1l-1.7 0.6M380.5 857.3l-0.1 0.8" stroke="#8e5034" stroke-opacity="0.3" stroke-width="12" stroke-linecap="round"/>
<path d="M395.9 840.6l-0.4 0.2M407.2 841.7l0.9 0.2M414.6 840.8l-0.4 0.2M421 840.6l-0.1 0.8M427.1 840.9l-0.1 0M434.3 841.8l0.2 0.7M440 841.7l0.1 0.5M471.1 842.3l-0.5 0.3M478.7 841.9l-0.3 0.2M491.3 843l0 0M372.4 848l0.1 0M380.4 846.7l-0.3 0.2M404.1 846.6l-0.2 0.8M417.5 847.5l-0.5 0.1M424.3 846.3l-0.8 0.2M437.4 847.6l-0.1 0M470.7 846.5l0.5 0.6M474.9 846.7l0.4 0.7M493.7 848.6l-0.7 0.6M362.8 851.2l0.1 0M409.2 853.2l-0.8 0.1M415.9 854.2l-0.3 0.5M428.1 851.7l-0.3 0.6M459.6 851.4l0 0M473.9 854.1l0.1 0.8M478.6 853.8l0.3 0.1M372.5 858.7l0.7 0.3M385.4 859.2l-0.9 0.2M392.9 859.7l-0.1 0M399.5 856.8l0.1 0.2M412.5 857.1l-0.5 0.3M419 859l0.4 0.7M425.9 858l-0.4 0.3M456.5 857.8l0.3 0.9M462.3 857.8l-0.5 0.2M468.6 857.2l0.1 0.2M474.7 858.6l0 0.2M482 857.6l0.7 0.1M488.4 857.9l1 0.1M494.3 857.9l0.3 0.2M368.7 862.3l0.2 0M414.9 863.6l-0.2 0.3M426.4 862.7l-0.6 0.6M447.6 865.4l0.2 0M453 863.2l0.1 0.8M480 863.7l0 0M361.4 868l0.2 0.4M368.5 869.9l0.3 0.7M392.6 870l-0.3 0.2M405.4 869.6l1 0.1M430 869.1l-0.4 0.1M451.9 868.4l-0.3 0M456.6 870.5l-0.2 0.2M464.5 869.4l0.6 0M481.3 867.8l0.1 0.3M358.3 874.3l0 0M389.4 875.8l0.1 0.9M396.1 873.7l0.5 0.1M442.2 873.5l0.2 0.1M447.7 873.6l0 0.1M478.1 873.9l-0.7 0.5M491.5 876.4l0.1 0.1M497.6 874.5l-0.6 0.1M346.3 880l0.4 0.2M381 879.4l-0.8 0.1M385.7 881.5l0.6 0.2M392.4 881.6l0 0M425.8 879.7l-0.3 0M431.4 879.5l-0.7 0M475.5 880.2l-0.7 0.2M487.1 881.6l0.3 0.3M356.3 885.3l0 0.1M364.2 884.6l0.3 0M370.3 887.5l0 0.1M382.4 886.4l-0.6 0.6M389.3 886.8l-0.1 0M401.8 885.7l-0.2 0.9M448.2 886.4l0 0.9M461 885.3l-0.2 0.2M472.3 885.1l0.2 0.3M498.4 886.3l-0.2 0.4M346.6 891.6l0 0M362.3 891l-0.5 0M400.7 892.6l-0.2 0.2M430.7 892.2l-0.2 0.7M450.9 890.6l0.1 0.2M456.6 891.3l0.7 0.7M462.3 892.4l-0.7 0.1M471.1 892.4l-0.6 0.7M343.9 897.2l-0.1 0.4M349.6 896.8l0.8 0M396.6 897.2l-0.2 0.4M402.9 895.4l0.4 0.5M422.9 897.7l-0.2 0.4M428.9 896.5l0.3 0.3M434 898.6l0.6 0.2M440 895.5l0.3 0M467.7 897.3l-0.2 0.4M391.4 901.8l0 0.4M399.8 902.9l-0.5 0.9M405.9 901.7l0.1 0.1M424.3 903.3l0.1 0.2M432.3 903.4l0.4 0M455.4 903.6l0.2 0.5M461.9 902.9l-0.3 0M482.5 902.9l0.3 0.5M490.2 901.9l0.9 0.2M496.2 903.8l0.4 0.6M351.8 906.5l-0.4 0.7M363.4 907.4l0.1 0.2M371.6 908.3l0.4 0.2M382.1 909.5l0.4 0.6M395.1 908.9l0 0.1M403.5 907.6l0.3 0.2M414.4 908.1l-0.3 0.3M446.1 909.6l0.8 0.3M454.3 909.6l0.2 0.3M461 909.2l-0.9 0.4M479.3 906.8l-0.1 0M484.5 906.8l0.3 0.1M348.5 912.1l0.4 0.3M495.4 912.5l0.2 0.7M349.8 920.5l0.1 0.4M415.9 918.8l0.5 0.4M447.7 918.9l-0.6 0.3M461.2 918l-0.4 0.4M353.8 926l0 0.1M385.4 925.7l0.1 0.1M398.2 925.7l0.1 0.2M404.2 923.4l-0.4 0.5M437.9 924.6l-0.2 0.2M481.2 923.4l0.1 0.8M345 928.9l-0.3 0.1M382.2 930.8l-0.4 0M402.7 929.6l-0.5 0.8M409.4 930.7l0 0M461.4 930.9l0.1 0.1M493.2 931.6l-0.2 0.3M347.4 934.2l0.3 0.7M361 934.4l0 0M372.7 935.6l0 0.1M398 937.3l0.2 0.5M418.2 935.2l0.1 0M445.5 936.8l-0.1 0.1M450 934.3l-0.7 0.6M483.3 935.7l0.5 0.2M389.3 940.6l-0.3 0.6M402.8 940.6l-0.3 0.1M409.5 940.3l-0.5 0.4M434.1 941.3l-0.2 0.6M452.9 941.7l0.5 0.1M474 942.8l-0.1 0.1M496.9 941.4l0 0.2M354.4 946.6l0.1 0.3M386.2 948l-0.5 0.1M404.3 948.2l-0.1 0.3M411.6 946.5l-0.4 0.2M463.9 948.3l0.1 0.1M475.3 947.8l0 0.5M487.4 946.1l-0.7 0M363.4 952.5l-0.3 0.9M388.8 951.6l-0.3 0.3M395.9 953.5l0.6 0.6M403.4 952.9l-0.2 0.2M434 953.2l-0.3 0.2M440.3 951.5l0.7 0M474 950.9l0.1 0.5M497.6 953.5l-0.6 0.1M374.5 957.1l-0.3 0.2M387.3 958.4l-0.5 0.2M397.8 959.3l0.5 0.6M412.4 956.5l0.1 0.3M483.8 957.1l0.4 0.9" stroke="#e6d6cf" stroke-opacity="0.82" stroke-width="4.6" stroke-linecap="round"/>
<path d="M358.4 840.9l0.2 0.4M364.1 840.1l0.1 0.2M448.2 842.5l0 0M455 842.7l0.5 0.1M458.8 840.2l0.1 0.4M498.4 842.2l0.4 0.1M366.5 847.2l-0.6 0.4M384.8 845.9l0 0.7M413.5 847.6l0.1 0.7M456.7 848.5l-0.5 0.2M463.6 848.3l-0.2 0.6M349.7 851.8l0.6 0.6M356.3 853.1l0 0M369.1 851.9l0 0M377 853.2l0.3 0M382.7 851.3l-0.3 0.7M403.7 852.3l-0.6 0.5M464.8 852.7l0.5 0.5M348 858.4l0.2 0.1M352.8 859.2l-0.9 0.3M405.5 856.7l0.2 0.3M432 857.9l-0.6 0.3M443.9 856.7l0.1 0.7M449.3 859.5l-0.2 0.3M344.2 862.6l0.7 0.1M352.6 865.2l-0.8 0.6M356.7 863l-0.5 0.3M376.6 862.8l0 0.3M382.6 863.7l0.3 0.6M388.9 864.1l-0.1 0M408.3 865.2l0.1 0.2M421.5 864.6l-0.7 0.2M485.8 864.9l0.9 0.3M497 863.7l-0.4 0.6M354.1 868.9l0 0M373.8 868.4l0.5 0.9M400.4 870.8l0 0.8M416.9 869.2l0.2 0.1M424.5 868.8l-0.5 0.5M469.6 868.2l0.2 0M475.4 870.8l0.2 0.5M496.1 869.1l0 0M362.4 875.3l-0.9 0.3M381.9 875.9l0.7 0.2M409 873.6l0.7 0.3M421.3 874.3l0.3 0.6M427.3 874.1l-0.9 0.1M434.7 875l0.4 0M454.9 876.4l-0.2 0.4M459.8 874.2l0 0.2M467.8 873.7l-0.2 0.1M485.6 873.7l0.6 0.5M353.8 881.8l0 0.7M360.6 881.2l-0.1 0.9M400 882l-0.3 0.4M448.9 880.1l-0.1 0.6M455.3 881.5l0.3 0.9M344.3 886.6l-0.2 0.1M351.7 884.7l-0.4 0.1M376.7 885.7l-0.3 0.6M415.2 886.2l0.2 0.1M422.5 887.3l0.1 0.3M441.8 886.7l0 0M454.5 887.3l0.8 0.3M465.9 887.1l0 0M479.7 885.4l0.2 0.1M365.9 891.2l-0.1 0.1M378.8 892.8l0 0M393 891.8l-0.2 0.2M405.3 891.7l-0.3 0.3M412.1 890.7l-0.3 0.5M419 890.9l0.8 0.4M437.5 890.4l0.5 0.2M445.1 891.5l0 0.1M477.1 890.3l1 0.3M488.7 893.1l0.8 0.4M495.9 891.5l-0.2 0.4M357.5 898.5l-0.6 0.3M363.1 897.4l-0.2 0.9M369.3 895.9l-0.7 0M388.3 895.4l0.8 0.2M407.1 896.5l-0.5 0.6M413.8 898l0.3 0.8M447 897.1l-0.4 0.9M454 897.8l0 0.4M460.9 896l0.1 0.5M472.1 897.1l0.4 0.3M477.9 897l0 0.2M493.1 898.3l0.7 0.1M499.3 897l-0.6 0.5M368.2 902.6l0 0.4M374.9 902.3l-0.3 0.4M379.7 902.1l-0.3 0.1M387.1 901.8l0 0.3M417.8 902.3l0.7 0.1M475.7 902l0.2 0.9M358.9 908.9l-0.1 0M421.4 906.9l0.7 0.4M427.2 909.2l0.4 0.3M433.9 907.7l0.5 0M440.9 908.2l0.1 0M467.8 907l-0.2 0.5M497.4 908.8l-0.4 0.4M353.4 913.9l0.8 0.3M360.8 913.4l0.1 0.6M368.3 913l0.1 0.1M373.3 913.3l0 0.7M379.2 913.2l-0.1 0.1M384.9 915l-0.4 0.4M406 913.7l-0.2 0.1M412 914.4l-0.6 0.5M417 914.3l-0.7 0.4M442.9 913.7l0.3 0.1M450.3 912.2l-0.3 0.2M468.1 914.7l0.4 0.3M490.3 912.5l0.2 0.2M356.5 920.1l0.7 0.2M364.5 918.9l0.1 0.1M382.6 919.2l-0.6 0.6M403.5 920.7l-0.4 0.4M409.9 918.1l-0.7 0.4M422.7 919.7l0.3 0.7M435.2 918.1l0 0.1M479.2 918.4l-0.8 0.2M493 920l-0.1 0.1M496.7 919.4l0 0.1M347.7 923.5l0.1 0.4M374.5 925l-0.1 0.3M391.6 926.3l0.1 0.9M410.9 923.7l0 0.1M418.3 923.6l0.5 0.4M424.4 925.3l-0.2 0.1M449.4 925.6l-0.3 0.1M468.8 923.5l-0.7 0.5M487.9 925.8l-0.8 0.5M496.4 924.6l0.9 0.2M365.2 928.8l0.4 0.7M415.1 930.1l-0.3 0.3M422.3 930.3l0.2 0.3M433.7 929l-0.4 0.1M447.8 931.5l0.1 0.1M467 928.8l0.1 0.4M473.9 930.1l0.8 0M497.7 930.7l-0.3 0.5M355.5 937.2l0.2 0M366.5 937.2l-0.1 0M393.9 935l0.7 0.4M406.8 934.8l0.8 0.2M456.3 937.4l0.2 0.5M464 935.6l-0.9 0M470.2 934.8l-0.3 0.5M475 935.7l-0.4 0.5M488.2 934.7l0.4 0.7M344.5 940.2l0.5 0.2M351.4 941.4l-0.5 0.7M368.8 941.2l-0.3 0.1M376.4 942.1l-0.1 0M395.6 939.8l-0.5 0.3M414.8 941.2l-1 0.1M420.7 940.8l0 0.3M441.5 941.4l-0.1 0.1M447.9 940.9l0.4 0M460.7 941.5l0.5 0.7M466.3 941.4l0.2 0.3M485.5 941.1l-0.4 0.7M393.2 946.3l0.4 0.5M399.7 947l-0.1 0.2M430.3 947.9l0.1 0M437.1 947l-0.2 0.7M468.3 947.8l-0.3 0.1M482 946.5l0 0.2M350.9 951l0 0M370.2 952.6l0.2 0.5M377.2 953.5l0.9 0M384.3 951.9l0 0.1M420.1 953.1l-0.1 0.5M448 951.9l0.5 0.2M452.5 952.7l-0.1 0.3M460.4 953.7l-0.3 0.9M360.3 957l0 0M417.2 959.4l0.3 0.8M438.9 959.1l0.1 0.1M456 958.1l-0.4 0.9M468.5 958l0 0.2M474.5 959.6l0.2 0.3" stroke="#e6d6cf" stroke-opacity="0.82" stroke-width="5.2" stroke-linecap="round"/>
<path d="M345.7 842.7l0.2 0.2M349.8 842l-0.1 0.4M371.7 842.8l-0.4 0M375.8 842.4l-0.6 0.3M384.6 841.7l-0.8 0.3M391 840.4l0 0M400.7 842.4l0.3 0.2M465.9 840.6l0.1 0.1M485.9 841.4l0.2 0.5M346.7 845.6l0.5 0.8M355.2 846.4l0 0.1M361.2 848.4l-0.5 0.4M393 848.1l0.8 0.1M399.2 846.3l0 0.1M430.8 847.4l-0.2 0.9M443.9 847.1l-0.6 0.8M451 846.1l0.1 0.1M482 847.8l-0.1 0.2M489.8 848.2l-0.1 0.5M344.6 851.8l0.5 0.5M389.2 852.8l0.3 0.1M395.7 852.5l0 0.2M422 852.7l0.3 0.1M433.9 854l0 0.1M439.6 852.1l-0.4 0.5M446.5 851.7l0 0.8M452.1 853.4l-0.4 0.4M486.1 852.9l-0.1 0M490.9 852.4l-0.6 0.6M497.1 853l-0.7 0.3M360.1 859.5l0.3 0.4M367.7 857.6l-0.4 0.2M379.9 858.3l0 0.2M437.5 858.9l0 0.4M363.3 862.4l0 0.1M394.9 863.5l0 0.5M402.9 865.1l0.6 0.4M435.1 864.3l0.2 0.1M439.3 864.1l0.5 0.1M459.1 862.3l0.6 0.3M467.9 862.5l0.1 0.2M472.7 863.8l-0.3 0.1M490.6 863.7l0.6 0.5M348.2 869.1l0.8 0.3M379.1 869.1l0.2 0.2M387.7 870l-0.9 0.4M410.9 868l-0.2 0.2M436.4 870.2l-0.6 0.8M443.5 868.2l0.3 0.4M489 870.3l0 0.3M343.2 876.4l0.7 0.4M350.3 873.7l-0.6 0.5M370.4 875.7l-0.9 0.4M376.4 874.9l0.2 0.1M403.3 876.2l0 0M413.8 875.4l0.2 0.5M473.3 875.3l0 0M367.3 880.3l-0.1 0.4M373.4 880l-0.2 0.2M404.2 880.5l0 0.1M411 880.3l-0.1 0.6M417.8 880.7l-0.9 0.1M436.8 881.9l0.1 0.5M444.8 879.4l-0.2 0.5M463.1 879l0 0.1M470.7 881.1l0.1 0.3M482.6 879.3l0.3 0.2M493.6 880.5l-0.5 0.1M395.3 887.3l0 0.1M409.2 887.4l0.5 0.1M428.4 886l0.2 0.2M433.1 886l-0.1 0.3M484.5 884.9l0 0.2M491.5 885.1l-0.3 0.4M353.6 892.8l-0.1 0.2M372.2 891.6l-0.4 0.2M387.3 890.5l0.7 0.2M423.7 891.1l0.3 0.2M483.8 890.9l-0.1 0.1M376.5 896.3l0.3 0.1M383.8 896.3l0.1 0M484 895.5l0 0.1M348.3 901.2l0 0M353.3 901.2l-0.4 0.4M360.7 903l0.7 0.2M413.2 902.4l0.1 0.4M437.8 902.2l0 0.5M443.7 901.6l0.2 0.6M449.2 901l-0.1 0.7M470.8 902.4l0.2 0.1M344.2 907.5l0.4 0.3M376.8 907.8l-0.2 0.8M389.2 909l-0.5 0.6M409.6 908.5l0.9 0.2M473.5 909.1l-0.7 0M490.5 907.9l0.8 0.3M394.2 913.7l-0.8 0.5M398.6 914l0.4 0.9M425.4 912.7l0.1 0.1M432.4 912.9l-0.9 0M439 913.5l-0.1 0.3M455.7 913.5l-0.1 0.3M463 912.8l0 0M474.6 914.8l-0.1 0.2M482.3 913.8l0.5 0M344.6 918.9l0.6 0M368.8 918.4l0.2 0.4M376.2 918.9l0.2 0M390.1 918.5l0.3 0.2M394.3 919.7l0 0.2M427.3 920.5l-0.2 0.3M441.9 920l0.1 0.1M453.6 918.8l-0.1 0.4M466.8 919.4l0 0M472.8 920.6l0.2 0.3M486.4 919.7l0.2 0.2M359.3 923.9l-0.1 0.1M365.7 923.9l0 0.3M378.5 923.4l0 0.1M432.1 924.3l0.2 0M445 925.8l-0.2 0.9M455.9 924.6l0.9 0.4M463.5 925.1l0.6 0.3M474.4 924.4l-0.5 0.3M350.1 929.1l-0.6 0.3M359.1 930.7l-0.7 0.4M369.4 931l0.3 0.5M377.5 929.9l0 0.1M389.9 931.7l-0.1 0.8M395.1 929.4l-0.3 0.3M428.8 929.6l-0.4 0.5M439.9 930.2l0.2 0.1M454.2 929.4l0 0M480.6 930l0.2 0.1M486.1 930.7l0.5 0.2M379.1 934.3l-0.2 0.3M384.8 934.9l0.1 0M411 937l0.5 0.2M425.7 937.1l-0.1 0.2M430.1 934.8l-0.3 0.8M437.6 936.5l-0.2 0.1M493.5 935l0.1 0.2M358.8 940l0.2 0.8M362.7 941.6l-0.7 0.5M381.8 941.5l0.5 0.3M426.4 941.6l-0.2 0.8M479 941.5l0 0M492.5 941l0.3 0.7M346.8 946.3l1 0.2M359.1 945.4l0 0.3M366.5 948.4l-0.1 0M372.3 947.9l0.1 0.1M380.8 947.3l-0.6 0M419.5 946.7l0.1 0.7M424.8 946.4l-0.3 0.1M442.3 948l-0.2 0.1M450.7 946.3l-0.3 0.3M457.7 946.6l0.3 0.7M495.9 945.7l0.3 0.9M346.3 953.5l-0.5 0.6M357.9 952l-0.7 0.1M408.8 950.9l0.7 0.2M415.8 952.5l0 0.1M428.4 952l0.5 0.5M467.7 953.3l-0.1 0.5M477.8 954l0.4 0.9M484.8 951.5l-0.9 0.3M491.8 953.2l-0.5 0M349.1 957.2l-0.4 0.1M354.8 958.6l0.5 0.2M368.6 956.7l0.2 0M378.4 958.6l-0.6 0.4M391.3 958.3l-0.1 0.2M404 957.1l-0.1 0.4M425.3 957.9l-0.5 0.6M430.7 957.7l0.1 0.4M444.9 957l0.9 0.2M449.1 957.9l-0.6 0M463.5 959.1l0.3 0M489.4 958l0.7 0.5M494.9 956.7l-0.9 0.4" stroke="#e6d6cf" stroke-opacity="0.82" stroke-width="5.8" stroke-linecap="round"/>
<path d="M402.7 929.6l-0.5 0.8M445.1 891.5l0 0.1M467.9 862.5l0.1 0.2M439.3 864.1l0.5 0.1M420.1 953.1l-0.1 0.5M491.3 843l0 0M455.9 924.6l0.9 0.4M363.4 952.5l-0.3 0.9M490.2 901.9l0.9 0.2M351.8 906.5l-0.4 0.7M379.7 902.1l-0.3 0.1M349.8 920.5l0.1 0.4M376.4 874.9l0.2 0.1M386.2 948l-0.5 0.1M377.2 953.5l0.9 0M440.3 951.5l0.7 0M457.7 946.6l0.3 0.7M361.4 868l0.2 0.4M447.8 931.5l0.1 0.1M353.6 892.8l-0.1 0.2M405.9 901.7l0.1 0.1M485.5 941.1l-0.4 0.7M459.8 874.2l0 0.2M442.9 913.7l0.3 0.1M395.7 852.5l0 0.2M412 914.4l-0.6 0.5M437.6 936.5l-0.2 0.1M409.4 930.7l0 0M407.1 896.5l-0.5 0.6M363.1 897.4l-0.2 0.9M468.6 857.2l0.1 0.2M436.8 881.9l0.1 0.5M384.3 951.9l0 0.1M411 880.3l-0.1 0.6M479.3 906.8l-0.1 0M468.1 914.7l0.4 0.3M443.5 868.2l0.3 0.4M450.7 946.3l-0.3 0.3M475.4 870.8l0.2 0.5M453 863.2l0.1 0.8M414.8 941.2l-1 0.1M470.2 934.8l-0.3 0.5M463.5 959.1l0.3 0M373.8 868.4l0.5 0.9M497 863.7l-0.4 0.6M402.9 895.4l0.4 0.5M474 950.9l0.1 0.5M461.9 902.9l-0.3 0M434.3 841.8l0.2 0.7M435.1 864.3l0.2 0.1M475 935.7l-0.4 0.5M437.5 858.9l0 0.4M445 925.8l-0.2 0.9M376.4 942.1l-0.1 0M357.9 952l-0.7 0.1M447.6 865.4l0.2 0M491.5 885.1l-0.3 0.4M498.4 886.3l-0.2 0.4M447.7 918.9l-0.6 0.3M427.1 840.9l-0.1 0M410.9 868l-0.2 0.2M348 858.4l0.2 0.1M422 852.7l0.3 0.1M472.8 920.6l0.2 0.3M392.9 859.7l-0.1 0M434.7 875l0.4 0M389.4 875.8l0.1 0.9M379.9 858.3l0 0.2M427.2 909.2l0.4 0.3M393.2 946.3l0.4 0.5M488.7 893.1l0.8 0.4M348.2 869.1l0.8 0.3M365.2 928.8l0.4 0.7M415.8 952.5l0 0.1M424.4 925.3l-0.2 0.1M464.5 869.4l0.6 0M346.7 845.6l0.5 0.8M494.3 857.9l0.3 0.2M477.9 897l0 0.2M405.3 891.7l-0.3 0.3M351.7 884.7l-0.4 0.1M498.4 842.2l0.4 0.1M425.9 858l-0.4 0.3M385.7 881.5l0.6 0.2M430.7 957.7l0.1 0.4M496.7 919.4l0 0.1M461.4 930.9l0.1 0.1M362.3 891l-0.5 0M403.4 952.9l-0.2 0.2M409.9 918.1l-0.7 0.4M479.7 885.4l0.2 0.1M447.9 940.9l0.4 0M350.3 873.7l-0.6 0.5M475.3 947.8l0 0.5M428.4 886l0.2 0.2M365.9 891.2l-0.1 0.1M470.8 902.4l0.2 0.1M473.9 930.1l0.8 0M480.6 930l0.2 0.1M390.1 918.5l0.3 0.2M348.3 901.2l0 0M460.7 941.5l0.5 0.7M443.9 847.1l-0.6 0.8M419 890.9l0.8 0.4M489.8 848.2l-0.1 0.5M389.3 886.8l-0.1 0M454.9 876.4l-0.2 0.4M496.1 869.1l0 0M356.3 853.1l0 0M400.4 870.8l0 0.8M489 870.3l0 0.3M369.3 895.9l-0.7 0M415.9 918.8l0.5 0.4M353.3 901.2l-0.4 0.4M419 859l0.4 0.7M417.8 902.3l0.7 0.1M415.2 886.2l0.2 0.1M433.9 854l0 0.1M368.6 956.7l0.2 0M372.7 935.6l0 0.1M441.9 920l0.1 0.1M487.1 881.6l0.3 0.3M487.4 946.1l-0.7 0M493.6 880.5l-0.5 0.1M478.7 841.9l-0.3 0.2M346.3 953.5l-0.5 0.6M441.5 941.4l-0.1 0.1M389.3 940.6l-0.3 0.6M398 937.3l0.2 0.5M422.9 897.7l-0.2 0.4M477.8 954l0.4 0.9M380.8 947.3l-0.6 0M350.1 929.1l-0.6 0.3M382.7 851.3l-0.3 0.7M381.8 941.5l0.5 0.3M405.4 869.6l1 0.1M479.2 918.4l-0.8 0.2M449.3 859.5l-0.2 0.3M377.5 929.9l0 0.1M403.3 876.2l0 0M417.8 880.7l-0.9 0.1M430.8 847.4l-0.2 0.9M404.2 923.4l-0.4 0.5M344.2 862.6l0.7 0.1M433.1 886l-0.1 0.3M412.1 890.7l-0.3 0.5M363.4 907.4l0.1 0.2M365.7 923.9l0 0.3M408.3 865.2l0.1 0.2M467 928.8l0.1 0.4M414.4 908.1l-0.3 0.3M448.9 880.1l-0.1 0.6M435.2 918.1l0 0.1M344.2 907.5l0.4 0.3M495.4 912.5l0.2 0.7M370.3 887.5l0 0.1M422.7 919.7l0.3 0.7M431.4 879.5l-0.7 0M381 879.4l-0.8 0.1M368.5 869.9l0.3 0.7M497.6 953.5l-0.6 0.1M409 873.6l0.7 0.3M362.7 941.6l-0.7 0.5M353.4 913.9l0.8 0.3M434 953.2l-0.3 0.2M432.3 903.4l0.4 0M353.8 881.8l0 0.7M404.1 846.6l-0.2 0.8M360.7 903l0.7 0.2M497.7 930.7l-0.3 0.5M484.8 951.5l-0.9 0.3M467.8 907l-0.2 0.5M490.6 863.7l0.6 0.5M438.9 959.1l0.1 0.1M400 882l-0.3 0.4M382.6 863.7l0.3 0.6M454 897.8l0 0.4M439.6 852.1l-0.4 0.5M407.2 841.7l0.9 0.2M392.4 881.6l0 0M389.2 909l-0.5 0.6M471.1 842.3l-0.5 0.3M464 935.6l-0.9 0M413.2 902.4l0.1 0.4M458.8 840.2l0.1 0.4M459.1 862.3l0.6 0.3M493 920l-0.1 0.1M360.3 957l0 0M406.8 934.8l0.8 0.2M440 841.7l0.1 0.5M470.7 881.1l0.1 0.3M463.1 879l0 0.1M447 897.1l-0.4 0.9M493.2 931.6l-0.2 0.3M379.1 869.1l0.2 0.2M443.9 856.7l0.1 0.7M355.5 937.2l0.2 0M499.3 897l-0.6 0.5M391.3 958.3l-0.1 0.2M416.9 869.2l0.2 0.1M454.2 929.4l0 0M353.8 926l0 0.1M490.5 907.9l0.8 0.3M361 934.4l0 0M491.5 876.4l0.1 0.1M495.9 945.7l0.3 0.9M387.3 958.4l-0.5 0.2M482.5 902.9l0.3 0.5M385.4 859.2l-0.9 0.2M437.4 847.6l-0.1 0M346.8 946.3l1 0.2M387.7 870l-0.9 0.4M430 869.1l-0.4 0.1M446.5 851.7l0 0.8M395.1 929.4l-0.3 0.3M472.7 863.8l-0.3 0.1M451.9 868.4l-0.3 0M398.2 925.7l0.1 0.2M387.1 901.8l0 0.3M368.3 913l0.1 0.1M440 895.5l0.3 0M474.7 858.6l0 0.2M461 885.3l-0.2 0.2M403.5 920.7l-0.4 0.4M370.4 875.7l-0.9 0.4M480 863.7l0 0M486.4 919.7l0.2 0.2M394.2 913.7l-0.8 0.5M376.8 907.8l-0.2 0.8M395.9 840.6l-0.4 0.2M493.7 848.6l-0.7 0.6M391.6 926.3l0.1 0.9M426.4 862.7l-0.6 0.6M414.6 840.8l-0.4 0.2M437.5 890.4l0.5 0.2M467.7 953.3l-0.1 0.5M428.8 929.6l-0.4 0.5M424.8 946.4l-0.3 0.1M477.1 890.3l1 0.3M493.1 898.3l0.7 0.1M425.4 912.7l0.1 0.1M491.8 953.2l-0.5 0M372.3 947.9l0.1 0.1M374.9 902.3l-0.3 0.4M383.8 896.3l0.1 0M408.8 950.9l0.7 0.2M388.9 864.1l-0.1 0M355.2 846.4l0 0.1M466.8 919.4l0 0M361.2 848.4l-0.5 0.4M428.1 851.7l-0.3 0.6M425.3 957.9l-0.5 0.6M418.3 923.6l0.5 0.4M455 842.7l0.5 0.1M475.7 902l0.2 0.9M384.8 845.9l0 0.7M378.4 958.6l-0.6 0.4M412.5 857.1l-0.5 0.3M432.4 912.9l-0.9 0M388.3 895.4l0.8 0.2M385.4 925.7l0.1 0.1M475.5 880.2l-0.7 0.2M446.1 909.6l0.8 0.3M380.4 846.7l-0.3 0.2M373.4 880l-0.2 0.2M356.3 885.3l0 0.1M450 934.3l-0.7 0.6M368.8 918.4l0.2 0.4M379.2 913.2l-0.1 0.1" stroke="#fbf8f7" stroke-opacity="0.6" stroke-width="2.6" stroke-linecap="round"/>
<path d="M464.1 875l-0.5 0.4M386.8 882.3l0 0.2M348.4 891.2l0.2 0.2M465.1 927.5l0 0M461.5 873.3l0.7 0.2M482.9 872.5l-0.1 0.9M424.9 883l0 0M480.8 935.3l0.5 0.3M375.6 928l0.3 0.6M427.1 852.9l-0.1 0.6M353.7 847.7l0.5 0.5M493.6 894.1l-0.6 0.3M387.8 894l-0.4 0.2M422.8 925.2l0.4 0.2M424.9 907.7l-0.2 0.2M418 895.7l0.7 0.3M491 906.9l0.1 0.4M414.9 885.4l0.6 0.7M401.8 867.7l0 0M399.8 907l-0.3 0.2M354.5 952.9l0.4 0M423.6 955.2l0.1 0.2M389.6 886l0.8 0.4M423.9 926.6l0.4 0.5M483.9 869.6l-0.3 0M454.6 950l0.1 0.9M406.2 893l-0.6 0.1M354.7 860.5l0 0.3M355.4 935.6l0.5 0.8M401.8 864.3l0.2 0.8M482.7 907.2l0.4 0.4M386.2 884.4l0 0M487 930.3l0.4 0.4M352.8 937.2l-0.2 0.7M411.3 892.7l-0.3 0.2M358.4 856.6l-0.3 0.1M356.3 907.5l0.4 0.2M463 870l0.2 0.9M477.4 941.7l1 0.1M431 860.6l-0.1 0" stroke="#fcfbfb" stroke-opacity="0.9" stroke-width="3.6" stroke-linecap="round"/>
<path d="M494.8 847.1l0.9 0.2M438.2 909.7l-0.2 0.1M455.8 879.9l-1.2 0.2M450.5 858.6l-0.6 0.2M378.1 891.1l-0.5 0.4M417.5 911.9l0.2 0.2M407.8 924.1l-0.2 0.4M445.6 938.1l-0.2 0.3M353.1 955l-0.3 0.4M458.2 909.2l-0.3 0.7M447.2 886.8l0.2 0.6M457.5 940.8l0.1 0.1M384.6 929l0 0M473.6 892.7l1.5 0.3M423.1 939.4l-1.4 0.8M479.4 887l-0.8 0.6M444.7 868.1l-0.1 0.1M476.1 863.8l-0.4 1.6M471.1 940.3l0 0.1M494.9 878.1l-0.7 0.3M413 904.8l-0.2 1.5M435 862.5l0 0.2M475.1 863.5l0.5 1.1M398.1 944.7l-0.5 0.4M411.2 927l0 1.3" stroke="#f7f1ef" stroke-opacity="0.85" stroke-width="6.0" stroke-linecap="round"/>
<path d="M397.3 907.9l-0.5 1.7M399.6 934.1l0.5 0.4M381.6 948.6l0.5 0.2M417.2 923.9l-0.1 0.2M405.4 925l0.2 0.1M470.6 843.6l0.4 0.1M472.3 883l0.2 1.1M480.7 848.2l0.7 0.5M443.3 858.6l0.2 1.1M356.5 881.1l1.8 0.3M348.4 861.6l-0.2 0.4M433.1 882.2l-1.1 0M399.8 864l0.1 1.5M454.4 923.3l-0.1 1.9M406.8 905.4l-1.6 0.2M418 933.5l-0.4 0.4M406.8 929.2l0.3 0.6M427.5 852.2l1.3 1.4M384.1 934.8l0.6 0M424.2 879l-1.9 0.3M391.5 859.1l-1.5 0.4M424.7 850.2l1.4 0M449.7 896.3l0.3 0.5M402.5 890.9l-0.3 0.8M397.5 869l-0.9 1.6M374.4 930.8l-0.2 0.4M367.1 938.1l0.2 0.1M360.3 935.6l0 0M388.9 902.2l0 0.3M474.3 922.3l0.4 0.5" stroke="#b0714f" stroke-opacity="0.45" stroke-width="7" stroke-linecap="round"/>
<path d="M385 846l-0.1 0.2M401.7 897.4l0.2 0M420.1 851.9l-0.1 0.2M435.7 883.6l-0.2 0.1M370.4 849l-0.1 0.1M488.6 914l-0.5 0.3M361.6 847.9l0 0.2M438 937.8l-0.2 0.5M426.5 868.5l0.2 0.2M396.6 897.8l0.2 0.3M401.8 897.1l0.3 0.5M356.5 885.2l0 0.3M422.9 869.4l0.5 0.3M349.6 901.6l0 0M386.1 928.8l-0.4 0.3M392 866.3l0 0.3M368.5 921.6l0 0.2M375.6 939.1l-0.2 0.3M479.6 898.7l-0.2 0M419.4 883.8l0.4 0.4M416.5 928l0 0M398.2 844l0.3 0.2M424.1 869.1l-0.3 0.3M463.2 922l0.4 0.3M451.6 918.1l0 0.1M492.5 881.2l-0.5 0.2M413.3 923.3l0.2 0.1M348.7 879.9l-0.1 0M356 880.9l-0.3 0.2M465.2 909.5l0.1 0.3M444 926.8l0 0.1M371.5 878.8l0.2 0.3M373.2 873.5l-0.5 0M350.4 845.6l0.5 0.4M348.7 858.9l0 0.1M462.8 875.3l-0.1 0.2M390.7 915.5l0.1 0M410.3 884.2l-0.4 0.4M423.7 913l0.2 0.4M476.9 909.8l-0.4 0.3M407.9 862.6l0.1 0M431.5 918.7l0.4 0M423.6 931.9l0.1 0.5M424.8 953.2l-0.3 0.1M350.6 844.8l-0.4 0.2M483.1 914.8l0.1 0M411.4 879.3l0.2 0M475.8 886.4l-0.1 0.1M496 896.8l0.1 0.4M480.3 890.4l0 0M496.6 876.3l-0.3 0.2M370.6 920.7l0 0.1M422 939.5l-0.1 0.1M447.9 880.2l-0.4 0M479.4 869.1l0 0.1M479.9 919.2l0.2 0.5M432.1 856.8l0 0M375.5 924.6l0.4 0.3M393 906.3l-0.1 0.6M409.7 901.2l0 0M430.7 928.5l0 0M418.6 885.3l-0.4 0.2M420.1 843.7l0.5 0.2M353.8 955.4l0.3 0.2M441.6 951.2l-0.6 0.2M485.3 877.6l-0.2 0.1M469.2 938.7l-0.1 0.1M404.3 943.7l-0.5 0.3M483.1 882l-0.2 0.1M358.8 908.4l-0.3 0.3M390.1 869.2l0.1 0M396.5 935l0.5 0M368.4 854.3l0 0.4M478.5 851.4l0 0M442 901.1l-0.3 0M398.2 860.7l0.3 0.3M479.9 930.4l0 0M381.1 872.4l0 0.1M456.5 853.4l-0.3 0.2M460.1 903.9l-0.1 0.1M436.4 861.7l0.2 0.2M400 899l0.3 0.5M363.6 893.9l-0.2 0.1M426.9 901.4l0.2 0M420.2 891.3l0 0M476.2 903.7l0 0M409.6 956.1l-0.4 0.1M379.7 866.8l0.1 0.1M439.6 951.7l-0.1 0M350.8 922.7l-0.1 0.1M417.8 930.7l0.4 0.2M411.7 867.3l-0.2 0M486.8 865.2l-0.2 0.1M464.9 918l-0.6 0.2M468.6 947.8l0 0M488.3 902.2l-0.5 0.3M482.3 886.9l0 0M418 925.6l0 0.1M355.8 907.3l-0.4 0.2M361.4 857.8l0 0M350.6 866.2l0.4 0.1M362.9 895.4l0.5 0M437.6 887.3l-0.5 0.2M484.2 898.6l0.5 0.3M401.9 886.2l-0.4 0.2M421.5 944.6l0 0M476.6 855.9l0 0.1M376.9 909.5l0 0M485.8 873.1l0 0.4M401.1 930.4l0.2 0.1M469.1 918.2l-0.2 0M467.6 891.4l0.3 0M496.9 911.8l0 0M388.8 862.1l-0.6 0.1M413.1 918.5l-0.4 0.2M481.6 870.1l0 0M394.4 862.7l0 0M394.7 845.1l0.5 0.1M403.4 934.9l0.3 0.2M479.1 887.7l-0.4 0M458.1 862.5l0.5 0.1M476 885.7l0.4 0.4M465.9 909.7l0.2 0.2M447 882.9l0.3 0.1M371.2 952l0.1 0.1M366 844.4l-0.3 0.4M449.1 947.3l0.4 0.4M408.5 936.6l-0.3 0.2M488.1 850.4l0 0.1M407.3 919.2l-0.4 0.1M475.9 884.3l0.1 0.1M391.4 850.7l0.1 0.4M456.1 921l-0.5 0.2M350.5 887.6l-0.2 0.1M355.7 889.9l-0.2 0.1M477.3 897.8l-0.4 0.2M464.7 871.3l0 0.2M353.5 850l0 0.3M486.8 879.7l0.4 0M481.9 919.2l0.1 0.3" stroke="#5f6ea6" stroke-opacity="0.7" stroke-width="2.8" stroke-linecap="round"/>
<path d="M446.1 938.3l0.1 0.1M393.7 856.2l-0.4 0.2M479.3 916.7l0.3 0.3M368.3 848.5l-0.1 0.2M475.9 944.5l-0.1 0.1M394.5 886l-0.2 0.1M489 844.8l0.1 0.4M492.3 941l-0.1 0.2M412.6 887.4l0.6 0.2M464 949.6l-0.2 0.5M366 869l-0.1 0.1M381.7 882.9l0.1 0.1M480 886.5l0 0.1M415.1 933.2l0.4 0M464.1 853.5l-0.2 0.3M407.9 951.3l0.4 0.3M418.5 858.6l0.2 0.2M451.2 862l0 0M404.6 916.9l-0.2 0.1M482.8 892.9l0.5 0.2M458.9 855.6l-0.1 0M360.5 856.4l0 0M422.6 948.5l-0.2 0M352 919.7l-0.4 0.1M403.5 878.8l-0.4 0.3M349.8 905.4l0 0M419.5 905.1l0.1 0M460.3 916.9l-0.4 0.2M475.3 847.2l-0.2 0.1M350.5 949.3l-0.4 0.2M444.3 954.8l-0.4 0.2M482.2 913.7l-0.1 0.2M444.8 921.2l0 0M433.5 868.5l0 0M381.1 914.2l0.1 0M451.5 844.7l0.3 0.4M410.5 895.3l0.3 0M408 878l-0.3 0.3M433.7 940.7l0 0M462.7 884.4l-0.3 0.2M394.9 881l-0.2 0.5M427.1 931.5l0.2 0.3M477.4 903.4l0 0.4M450.1 855.6l-0.4 0.1M439.5 889.3l0.2 0.2M359.5 941.4l-0.5 0.3M398.4 887.6l0.2 0.4M386.7 933.6l0 0M480.6 885.5l-0.1 0M357 887.8l0.4 0.1M439.7 931.4l0 0.5M381.1 950.7l-0.1 0.3M487.8 939.6l-0.3 0.3M371.3 935.1l0 0M425.2 904.4l-0.5 0.3M381.1 879.3l0 0.2M411.4 870.7l-0.1 0.1M426.4 859.8l-0.4 0.5M495.2 850.5l0.2 0.5M352.4 945l0.1 0.3M441.7 844l-0.1 0.5M484.3 904.8l0.2 0.3M443.8 847.3l-0.3 0.3M453.7 898.8l0.1 0.3M467.8 897.5l0.2 0.5M355 897l-0.3 0.1M483.7 853.2l0 0.1M431 902.4l0.3 0.1M467.3 865.2l-0.1 0M407.7 924.3l0.2 0.1M428.2 912.3l0.2 0.3M482 909.1l-0.2 0.5M427.3 898.4l0.1 0.3M473.5 873.2l-0.2 0.1M423.7 900.3l0.4 0.4M482.5 910.6l-0.1 0M410.3 890.9l0 0.4M413 911.3l0.1 0.1M380.8 844.6l0 0M456.6 872.5l-0.2 0.6M471.5 933.8l0.1 0.3M402.8 879.4l0 0.1M389.2 876.4l-0.1 0.2M470.2 867.4l0 0M365.1 889.2l-0.3 0.1M477.4 872.5l0.2 0.2M383.7 870l0 0.2M363.3 878.5l-0.5 0.1M353.8 881.3l-0.1 0.6M462.1 941.6l0.4 0.1M348.5 847.3l0 0.2M421.5 884.1l-0.1 0M436.8 870.2l-0.1 0.1M467.3 863.1l-0.1 0M468.6 883.2l-0.3 0.4M462.7 885.4l-0.2 0.1M362.6 948.5l0.1 0.4M394.1 915.3l0.5 0.3M368.6 855.6l-0.1 0.2M390.2 950l0.4 0.4M432 930.4l-0.4 0.2M403.2 896l-0.6 0.2M379 894.9l-0.6 0.1M377.6 911.7l0.2 0.5M496.9 857.1l0.4 0.2M418.3 871.7l-0.4 0.3M493.8 860.5l-0.2 0.4M389.3 852.4l0.1 0.4M394.1 878.6l0.2 0.5M390.4 869.4l0.2 0.1M392.5 870.9l0 0.1M411.3 865.5l0.2 0.3M395.6 870.7l0.1 0.3M455.6 948.5l-0.1 0.4M466.5 912.8l0.2 0.4M383.5 864l0.1 0.1M348.7 947.7l0.2 0.4M354.2 893.8l0.3 0.3M494.1 903.7l0 0M385.2 930.5l0.3 0.2M375.1 929.5l0 0.1M495.4 881l-0.1 0M394.7 919.8l0.1 0.2M476.9 870.6l0.4 0.4M455.5 944.2l0 0.2M394.1 897.1l-0.3 0.3M440.9 879.7l-0.1 0.2M468 941.4l0 0M427.6 931.8l0.3 0M355.8 883.5l0 0.1M427.5 934.8l0.3 0.1M439.1 956.1l-0.3 0.4M460.2 880.5l0.3 0.4M421.6 882.9l-0.2 0.5M493.6 874.3l0 0.1M386.3 940l0.5 0.1M417.1 950.7l0.1 0.3M487.2 908.1l-0.3 0.1M445.2 865.7l0.2 0.2M399 888.1l0.4 0.2" stroke="#5f6ea6" stroke-opacity="0.7" stroke-width="2.8" stroke-linecap="round"/>
<path d="M346.7 843.6L379.7 843.6L346.7 862.2Z" fill="#f8f8f8"/>
<path d="M411 925.5L424 914L433 906.5L438.5 907L432 914L418 922.5Z" fill="#fbfafa" stroke="#8a4a2c" stroke-width="0.6"/>
<path d="M464.7 956.6L467.7 944.6L478.7 942.6L497.1 932.6L497.1 956.6Z" fill="#f3f0f0"/>
</g>
<path d="M460.3 944.4H488.5" stroke="#000" stroke-width="1.3"/>
</g>
<text x="498.3" y="804.5" font-family="'Liberation Serif',serif" font-size="14.5">F</text>
<path d="M557.2 821.9V933.9M556.7 933.4H661.5" stroke="#222" stroke-width="1.1" fill="none"/>
<path d="M554 821.6H557.2M554 840.2H557.2M554 858.9H557.2M554 877.5H557.2M554 896.2H557.2M554 914.8H557.2M554 933.4H557.2" stroke="#222" stroke-width="0.9"/>
<text x="552" y="824.1" font-family="'Liberation Sans',sans-serif" font-size="7" fill="#222" text-anchor="end">0</text>
<text x="552" y="842.7" font-family="'Liberation Sans',sans-serif" font-size="7" fill="#222" text-anchor="end">8</text>
<text x="552" y="861.4" font-family="'Liberation Sans',sans-serif" font-size="7" fill="#222" text-anchor="end">6</text>
<text x="552" y="880" font-family="'Liberation Sans',sans-serif" font-size="7" fill="#222" text-anchor="end">4</text>
<text x="552" y="898.7" font-family="'Liberation Sans',sans-serif" font-size="7" fill="#222" text-anchor="end">2</text>
<text x="552" y="917.3" font-family="'Liberation Sans',sans-serif" font-size="7" fill="#222" text-anchor="end">0</text>
<text x="552" y="935.9" font-family="'Liberation Sans',sans-serif" font-size="7" fill="#222" text-anchor="end">2</text>
<path d="M583.5 935.5V933.4M634.9 935.5V933.4" stroke="#222" stroke-width="0.9"/>
<text transform="translate(533.2 884) rotate(-90)" font-family="'Liberation Serif',serif" font-size="12" font-weight="bold" fill="#111" text-anchor="middle">CD159A expression</text>
<text transform="translate(542.6 872.4) rotate(-90)" font-family="'Liberation Serif',serif" font-size="11" font-weight="bold" fill="#111" text-anchor="middle">(IHC score)</text>
<text x="608" y="823" font-family="'Liberation Sans',sans-serif" font-size="7.6" fill="#222" text-anchor="middle"><tspan font-style="italic">p</tspan>&lt; 0.001</text>
<path d="M585.9 834V826.4H634.5V834" stroke="#222" stroke-width="0.8" fill="none"/>
<text x="583.3" y="945.3" font-family="'Liberation Sans',sans-serif" font-size="7.9" font-weight="bold" fill="#111" text-anchor="middle">non-Tumor</text>
<text x="634.8" y="945.3" font-family="'Liberation Sans',sans-serif" font-size="8.2" font-weight="bold" fill="#111" text-anchor="middle">Tumor</text>
<text x="614" y="957.2" font-family="'Liberation Sans',sans-serif" font-size="7.7" fill="#222" text-anchor="middle">(n=32)</text>
<g fill="#000"><circle cx="583.6" cy="896.2" r="1.9"/><circle cx="580.2" cy="905.3" r="1.9"/><circle cx="586.6" cy="905.3" r="1.9"/><circle cx="567" cy="914.6" r="1.9"/><circle cx="570" cy="914.6" r="1.9"/><circle cx="573" cy="914.6" r="1.9"/><circle cx="576" cy="914.6" r="1.9"/><circle cx="579" cy="914.6" r="1.9"/><circle cx="582" cy="914.6" r="1.9"/><circle cx="585" cy="914.6" r="1.9"/><circle cx="588" cy="914.6" r="1.9"/><circle cx="591" cy="914.6" r="1.9"/><circle cx="594" cy="914.6" r="1.9"/><circle cx="597" cy="914.6" r="1.9"/><circle cx="600" cy="914.6" r="1.9"/></g>
<path d="M566.5 913.4H600.5M575 909.3H592M575 917H592M583.5 909.3V917" stroke="#000" stroke-width="1.3"/>
<rect x="566" y="912.5" width="35" height="3.5" fill="#000"/>
<path d="M635 838.9l1.9 3.2h-3.8zM623.3 885l1.9 3.2h-3.8zM628.9 885l1.9 3.2h-3.8zM635.3 885l1.9 3.2h-3.8zM641.7 885l1.9 3.2h-3.8zM647.8 885l1.9 3.2h-3.8zM620.5 893.8l1.9 3.2h-3.8zM623.2 893.8l1.9 3.2h-3.8zM626 893.8l1.9 3.2h-3.8zM628.8 893.8l1.9 3.2h-3.8zM631.5 893.8l1.9 3.2h-3.8zM634.2 893.8l1.9 3.2h-3.8zM637 893.8l1.9 3.2h-3.8zM639.8 893.8l1.9 3.2h-3.8zM642.5 893.8l1.9 3.2h-3.8zM645.2 893.8l1.9 3.2h-3.8zM648 893.8l1.9 3.2h-3.8zM650.8 893.8l1.9 3.2h-3.8zM632.4 903.8l1.9 3.2h-3.8zM638.5 903.8l1.9 3.2h-3.8zM620.5 913.1l1.9 3.2h-3.8zM623.2 913.1l1.9 3.2h-3.8zM626 913.1l1.9 3.2h-3.8zM628.8 913.1l1.9 3.2h-3.8zM631.5 913.1l1.9 3.2h-3.8zM634.2 913.1l1.9 3.2h-3.8zM637 913.1l1.9 3.2h-3.8zM639.8 913.1l1.9 3.2h-3.8zM642.5 913.1l1.9 3.2h-3.8zM645.2 913.1l1.9 3.2h-3.8zM648 913.1l1.9 3.2h-3.8zM650.8 913.1l1.9 3.2h-3.8z" fill="#000"/>
<path d="M618.1 900.2H653M627.3 885.3H643.3M635.3 885.3V915" stroke="#000" stroke-width="1.3"/>
</svg></body></html>
